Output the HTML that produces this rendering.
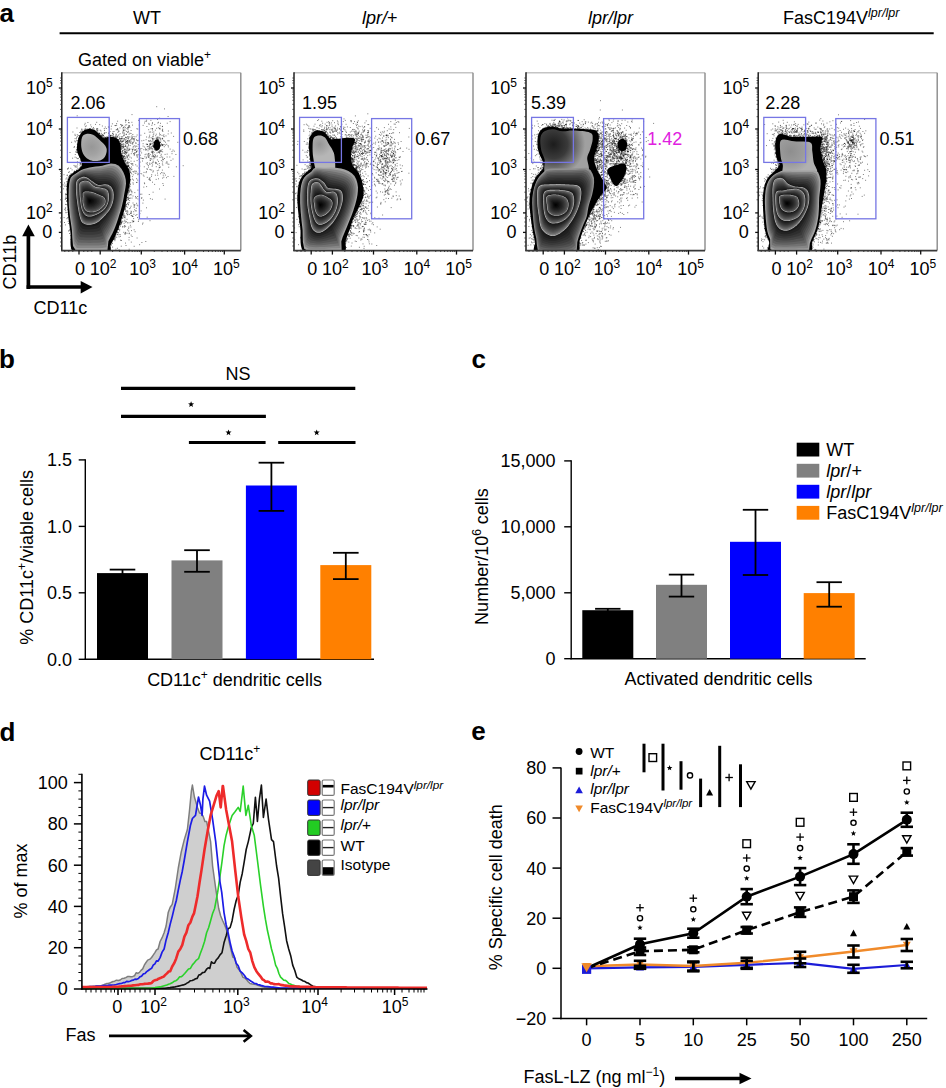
<!DOCTYPE html>
<html><head><meta charset="utf-8"><style>
html,body{margin:0;padding:0;background:#fff;}
svg{display:block;}
text{font-family:"Liberation Sans",sans-serif;}
</style></head><body>
<svg width="946" height="1088" viewBox="0 0 946 1088" font-family="Liberation Sans, sans-serif">
<rect width="946" height="1088" fill="#fff"/>
<text x="-0.5" y="22.2" font-size="26" font-weight="bold">a</text>
<line x1="59.6" y1="33.2" x2="933.7" y2="33.2" stroke="#000" stroke-width="1.9" />
<text x="133.0" y="24.1" font-size="18">WT</text>
<text x="362.0" y="24.1" font-size="18"><tspan font-style="italic">lpr/</tspan>+</text>
<text x="588.0" y="24.1" font-size="18"><tspan font-style="italic">lpr/lpr</tspan></text>
<text x="783.0" y="24.1" font-size="18">FasC194V<tspan font-size="12.5" font-style="italic" dy="-7">lpr/lpr</tspan></text>
<text x="78.0" y="65.7" font-size="18">Gated on viable<tspan font-size="12" dy="-7">+</tspan></text>
<g clip-path="url(#clipA0)">
<path d="M81.6 132.5h1M113.3 239.7h1M112.6 138.1h1M76.4 167.3h1M66.7 175.6h1M70.1 220.1h1M114.7 144.4h1M73.7 171.9h1M68.2 181.8h1M75.5 166.0h1M101.1 137.1h1M119.8 224.4h1M80.8 142.2h1M79.8 145.6h1M79.3 171.8h1M70.2 211.1h1M115.2 236.1h1M122.9 157.1h1M63.1 188.8h1M67.2 217.7h1M129.6 181.2h1M131.1 173.7h1M126.3 155.6h1M65.5 179.0h1M101.8 138.9h1M73.6 172.5h1M99.1 133.1h1M82.2 165.0h1M82.3 164.3h1M75.8 152.0h1M125.5 151.8h1M123.3 156.8h1M112.1 247.1h1M88.4 130.9h1M88.7 129.6h1M74.0 171.9h1M121.8 146.5h1M124.9 165.6h1M107.0 137.7h1M76.8 134.7h1M112.1 136.0h1M76.5 171.5h1M80.6 137.3h1M80.1 154.4h1M81.5 160.7h1M82.3 156.8h1M83.4 161.5h1M77.1 164.1h1M70.4 235.7h1M115.3 165.0h1M86.7 130.0h1M80.1 164.3h1M120.4 161.2h1M118.0 229.4h1M92.9 127.5h1M75.9 170.8h1M117.9 206.6h1M127.0 197.4h1M121.3 151.3h1M103.5 241.8h1M71.6 174.7h1M116.2 202.5h1M102.2 141.5h1M73.1 248.3h1M114.6 145.3h1M66.5 212.6h1M114.9 150.4h1M111.8 139.0h1M109.3 248.3h1M122.0 227.0h1M66.8 183.9h1M119.6 133.7h1M68.8 230.6h1M120.3 138.8h1M65.4 197.6h1M110.4 139.5h1M122.4 226.4h1M78.1 151.4h1M101.9 136.6h1M66.3 194.5h1M78.2 142.3h1M127.6 191.1h1M75.6 183.2h1M95.6 133.1h1M79.5 165.1h1M79.4 137.0h1M80.2 131.3h1M71.6 244.3h1M68.3 206.0h1M65.9 194.3h1M76.5 173.0h1M129.9 180.0h1M113.3 137.3h1M71.3 220.6h1M73.6 147.5h1M67.3 196.6h1M66.3 185.0h1M82.6 155.5h1M68.8 178.3h1M76.8 144.2h1M102.6 137.8h1M70.4 231.1h1M114.1 139.6h1M101.1 133.3h1M116.4 129.5h1M79.1 143.5h1M111.4 242.9h1M87.4 129.2h1M128.1 169.0h1M65.3 196.0h1M77.5 144.5h1M73.6 172.3h1M80.9 131.9h1M77.9 150.1h1M66.4 198.5h1M119.8 141.1h1M70.9 175.4h1M87.2 149.9h1M105.8 247.2h1M115.8 169.3h1M69.9 175.6h1M114.4 240.7h1M117.0 204.5h1M125.4 211.0h1M113.9 237.1h1M128.4 190.4h1M131.3 169.1h1M119.2 138.8h1M86.9 162.4h1M125.0 207.8h1M109.8 135.9h1M67.4 195.3h1M83.3 160.5h1M89.0 128.7h1M68.4 217.1h1M68.1 172.4h1M123.3 158.1h1M78.0 152.0h1M103.4 137.5h1M105.8 137.3h1M77.9 140.4h1M81.9 134.2h1M87.4 151.6h1M68.8 198.2h1M83.8 129.4h1M69.3 188.1h1M111.8 146.4h1M129.5 175.9h1M85.1 131.9h1M81.2 133.7h1M82.2 165.5h1M76.8 136.4h1M66.3 201.5h1M73.1 226.0h1M129.1 171.0h1M112.4 131.9h1M100.5 131.0h1M118.6 141.4h1M125.8 200.5h1M118.6 249.8h1M68.8 177.1h1M79.1 153.2h1M121.9 164.6h1M67.6 186.0h1M120.0 236.3h1M123.2 215.7h1M66.2 204.6h1M76.5 128.0h1M121.4 210.4h1M80.2 167.7h1M76.0 157.9h1M114.4 137.0h1M74.8 154.5h1M103.8 128.6h1M118.5 227.9h1M96.2 128.7h1M103.9 138.5h1M70.1 176.5h1M109.3 237.6h1M100.2 135.0h1M73.2 174.5h1M76.0 138.8h1M98.4 133.5h1M116.3 139.1h1M119.2 229.4h1M98.4 141.5h1M81.4 163.3h1M98.2 133.4h1M108.7 136.7h1M81.9 160.9h1M68.1 214.1h1M90.2 124.9h1M109.2 136.9h1M121.3 221.1h1M123.6 223.3h1M122.1 156.3h1M122.0 166.1h1M70.2 226.2h1M69.2 217.2h1M125.4 172.7h1M79.3 180.2h1M124.3 205.8h1M114.0 238.4h1M68.1 179.9h1M122.1 218.4h1M69.3 218.0h1M95.4 141.4h1M71.9 242.5h1M88.0 129.3h1M69.5 217.3h1M73.9 146.5h1M69.3 223.9h1M79.0 153.9h1M117.9 229.6h1M81.4 162.2h1M123.0 216.2h1M104.7 138.0h1M126.3 198.8h1M80.9 164.6h1M116.3 229.1h1M75.2 171.7h1M119.6 143.2h1M68.9 177.8h1M80.2 182.0h1M72.1 173.4h1M124.5 171.8h1M124.7 209.6h1M120.6 147.6h1M100.9 136.2h1M121.5 146.3h1M82.0 167.9h1M126.8 166.0h1M113.5 236.7h1M80.4 149.7h1M114.6 239.4h1M106.1 243.0h1M132.5 182.8h1M123.8 156.3h1M69.6 229.6h1M131.3 164.3h1M98.6 134.4h1M77.0 169.0h1M92.7 132.1h1M126.1 165.2h1M78.9 157.4h1M68.0 223.4h1M95.0 124.4h1M125.4 163.1h1M72.9 243.7h1M68.9 198.6h1M75.0 172.3h1M119.6 234.5h1M86.7 131.3h1M77.0 170.6h1M109.6 131.6h1M89.4 145.3h1M102.9 135.5h1M62.5 184.9h1M79.4 167.7h1M124.4 160.1h1M79.9 168.7h1M82.7 136.2h1M74.8 167.0h1M67.7 217.8h1M101.2 135.7h1M96.1 133.1h1M84.4 130.8h1M122.5 162.5h1M123.2 160.3h1M107.6 138.3h1M80.2 132.6h1M76.3 236.6h1M80.9 133.8h1M112.5 133.6h1M75.5 234.0h1M120.9 240.5h1M78.4 140.4h1M118.6 236.8h1M128.1 166.5h1M76.5 152.3h1M104.9 140.3h1M80.0 138.9h1M125.7 162.8h1M77.6 174.9h1M64.0 222.5h1M115.5 134.1h1M76.0 150.0h1M117.8 227.9h1M70.9 173.6h1M78.3 170.1h1M101.9 126.0h1M124.8 149.2h1M129.2 198.4h1M96.5 132.1h1M105.2 137.8h1M71.2 242.9h1M114.6 138.0h1M80.5 167.0h1M70.6 232.9h1M69.4 189.4h1M79.2 156.2h1M131.0 167.0h1M125.0 146.2h1M82.0 164.1h1M72.8 244.2h1M121.3 208.0h1M80.7 171.6h1M111.1 139.4h1M111.5 137.4h1M125.2 205.9h1M109.6 248.1h1M126.8 166.3h1M86.7 166.9h1M127.5 194.6h1M122.2 168.9h1M113.5 147.0h1M78.8 168.7h1M81.0 160.9h1M76.2 140.7h1M90.9 126.8h1M127.8 179.2h1M115.5 136.2h1M130.8 194.8h1M99.2 133.6h1M71.7 179.4h1M75.7 171.4h1M69.8 227.8h1M69.9 194.0h1M85.6 130.7h1M135.2 164.8h1M88.3 129.7h1M71.9 207.5h1M66.2 189.9h1M68.1 182.2h1M77.3 147.8h1M82.2 153.3h1M79.2 132.5h1M79.4 144.8h1M99.0 133.7h1M70.3 225.9h1M66.7 198.3h1M111.9 123.8h1M76.4 247.6h1M113.8 235.8h1M113.0 239.1h1M114.4 233.7h1M69.1 175.6h1M129.6 190.0h1M66.3 198.4h1M79.3 146.9h1M87.4 122.5h1M71.6 169.9h1M122.5 161.2h1M105.5 247.6h1M75.9 170.0h1M74.5 166.1h1M80.8 167.1h1M112.0 243.4h1M79.8 160.1h1M86.4 175.2h1M126.5 212.1h1M85.8 166.9h1M126.5 199.7h1M69.1 182.8h1M73.8 240.1h1M116.2 138.2h1M74.6 157.2h1M105.0 246.0h1M97.2 130.8h1M121.2 217.3h1M76.0 170.7h1M128.7 167.4h1M91.7 129.0h1M103.8 133.1h1M114.8 137.4h1M132.4 165.3h1M66.4 186.4h1M117.0 234.6h1M104.6 248.3h1M110.0 135.3h1M80.3 136.6h1M120.1 171.7h1M124.5 208.9h1M79.6 156.4h1M96.4 130.2h1M66.8 175.0h1M127.5 137.7h1M104.3 139.3h1M118.4 234.8h1M128.2 198.0h1M129.1 167.3h1M74.6 138.6h1M106.6 136.8h1M96.2 129.3h1M103.8 137.0h1M80.1 163.5h1M122.5 157.4h1M83.5 144.0h1M85.1 138.6h1M126.9 166.3h1M67.1 194.9h1M73.9 175.2h1M124.4 221.3h1M72.1 158.2h1M71.4 190.9h1M113.9 237.0h1M111.5 141.9h1M108.7 138.3h1M72.3 174.6h1M130.5 161.2h1M101.5 137.1h1M91.5 141.6h1M65.1 207.8h1M68.1 231.0h1M83.1 134.9h1M125.2 222.2h1M128.3 165.4h1M74.7 135.5h1M79.5 168.8h1M66.4 218.7h1M97.0 128.8h1M84.2 124.8h1M78.5 138.2h1M126.8 162.9h1M119.8 143.6h1M83.0 151.8h1M104.3 132.8h1M116.3 139.6h1M128.4 190.7h1M63.6 217.6h1M69.5 179.2h1M67.9 176.8h1M114.0 239.2h1M108.6 247.8h1M89.9 128.6h1M107.5 137.5h1M118.1 225.6h1M65.2 210.7h1M128.2 181.5h1M128.7 162.5h1M69.4 176.8h1M71.6 186.2h1M81.0 153.5h1M84.7 123.3h1M124.5 208.4h1M107.4 137.1h1M68.4 215.2h1M126.6 166.7h1M81.2 149.2h1M103.1 146.8h1M125.9 200.7h1M120.6 223.8h1M114.7 230.8h1M76.8 152.5h1M65.3 212.7h1M111.8 147.6h1M117.0 232.7h1M80.2 159.9h1M80.9 160.5h1M84.6 164.7h1M127.0 222.8h1M117.3 232.4h1M103.1 249.7h1M108.3 139.1h1M119.9 222.5h1M83.2 163.9h1M129.4 189.2h1M116.3 226.2h1M86.6 132.9h1M75.3 151.9h1M120.7 146.3h1M115.7 232.6h1M93.5 129.0h1M108.8 139.8h1M120.1 223.7h1M78.9 155.2h1M77.4 152.2h1M107.9 126.9h1M68.0 168.0h1M90.8 130.2h1M127.3 197.5h1M127.2 161.8h1M82.6 180.9h1M127.7 198.5h1M82.2 131.8h1M64.9 224.9h1M121.0 222.7h1M126.1 213.6h1M120.9 148.8h1M78.1 138.2h1M88.7 129.9h1M121.7 182.0h1M121.1 222.7h1M124.5 160.6h1M105.3 137.3h1M70.5 239.5h1M116.2 237.3h1M82.9 139.9h1M119.5 143.9h1M97.2 132.8h1M115.1 235.9h1M67.9 183.7h1M112.9 134.5h1M81.0 166.4h1M112.9 224.1h1M81.7 160.6h1M73.9 171.1h1M125.2 161.0h1M73.5 165.4h1M69.5 152.5h1M82.7 173.8h1M114.6 137.1h1M70.5 187.8h1M124.4 215.9h1M128.8 191.3h1M74.0 249.6h1M123.3 207.6h1M79.3 140.2h1M72.8 243.4h1M132.0 179.1h1M81.3 129.0h1M108.8 244.5h1M109.4 137.7h1M109.7 247.1h1M92.4 128.9h1M66.3 177.9h1M115.6 138.6h1M67.6 204.4h1M78.8 154.9h1M127.6 197.9h1M123.2 166.4h1M68.2 184.0h1M77.8 158.6h1M85.7 163.8h1M119.1 141.4h1M112.5 154.4h1M69.1 233.5h1M125.0 243.1h1M67.7 214.7h1M82.4 131.9h1M81.3 133.4h1M109.8 135.6h1M108.3 247.0h1M110.4 137.8h1M137.2 180.1h1M120.3 222.7h1M69.5 229.3h1M125.8 173.2h1M68.6 219.8h1M96.1 131.2h1M87.8 132.4h1M118.4 139.6h1M63.5 174.7h1M96.8 137.3h1M127.6 199.9h1M118.5 148.0h1M81.3 129.7h1M109.9 137.3h1M78.4 169.0h1M76.2 241.7h1M79.0 135.7h1M80.1 167.3h1M65.0 198.7h1M107.8 139.0h1M71.9 181.7h1M70.7 174.9h1M84.5 161.7h1M115.7 129.9h1M103.1 135.2h1M129.7 183.2h1M123.6 217.7h1M121.2 144.7h1M121.7 159.9h1M100.1 136.9h1M112.3 138.5h1M119.1 230.8h1M77.1 149.7h1M121.4 153.5h1M82.7 132.3h1M71.1 142.3h1M78.2 138.4h1M93.2 132.0h1M94.5 130.6h1M102.6 135.7h1M64.1 183.0h1M121.3 147.4h1M76.7 115.8h1M80.7 134.2h1M89.8 130.3h1M110.0 136.0h1M88.9 133.0h1M92.0 132.1h1M80.9 167.7h1M129.6 168.7h1M129.4 168.0h1M119.8 220.0h1M77.5 146.9h1M70.8 248.6h1M79.6 150.7h1M71.3 174.8h1M76.5 170.7h1M123.8 153.2h1M128.0 182.9h1M86.9 131.9h1M103.3 137.0h1M93.4 129.1h1M122.1 155.5h1M117.9 158.8h1M113.0 239.2h1M113.0 138.5h1M130.1 179.6h1M129.0 187.2h1M74.7 172.0h1M76.5 148.0h1M109.3 248.0h1M70.2 181.4h1M88.6 130.3h1M75.2 225.7h1M81.9 161.7h1M109.9 241.6h1M118.0 232.8h1M124.1 198.6h1M76.9 140.7h1M122.8 129.4h1M122.9 160.4h1M81.0 162.7h1M121.4 210.4h1M78.1 153.3h1M127.9 190.9h1M67.2 192.8h1M83.3 168.2h1M86.5 129.0h1M129.3 186.2h1M125.0 192.1h1M108.2 132.8h1M74.2 174.3h1M116.6 231.5h1M96.8 186.1h1M89.4 129.0h1M66.8 183.8h1M130.0 171.1h1M83.9 169.9h1M117.2 139.6h1M112.5 236.2h1M89.5 128.8h1M68.8 177.8h1M64.3 209.6h1M82.4 161.5h1M120.8 221.2h1M131.4 191.6h1M90.2 168.9h1M95.5 134.1h1M126.3 191.3h1M69.5 219.8h1M69.0 207.4h1M80.2 170.0h1M118.0 139.6h1M84.6 132.1h1M69.9 174.2h1M127.4 184.6h1M124.0 172.3h1M72.0 178.0h1M68.0 181.0h1M135.9 171.3h1M94.1 130.6h1M92.3 132.8h1M76.7 147.1h1M64.4 186.4h1M77.3 149.4h1M122.6 214.2h1M127.6 204.4h1M97.3 130.9h1M84.9 126.7h1M125.5 205.2h1M74.3 174.0h1M71.8 179.2h1M125.0 205.2h1M76.7 171.0h1M67.3 179.2h1M86.3 168.2h1M110.7 244.8h1M80.0 167.1h1M77.2 144.2h1M70.3 168.3h1M68.2 185.6h1M87.7 166.2h1M65.2 194.2h1M89.0 140.3h1M79.3 170.5h1M101.8 134.9h1M103.5 140.0h1M128.6 134.2h1M123.4 158.4h1M128.0 171.7h1M96.0 134.9h1M74.3 141.0h1M109.3 244.4h1M65.0 204.4h1M96.5 133.7h1M83.5 165.5h1M120.6 149.1h1M124.0 162.8h1M102.6 138.6h1M126.7 182.8h1M64.6 185.1h1M68.9 171.8h1M112.8 213.9h1M111.0 135.4h1M79.9 171.3h1M67.5 205.7h1M86.0 165.8h1M80.9 167.5h1M69.1 193.2h1M127.3 211.3h1M81.2 133.6h1M76.9 161.8h1M89.1 130.9h1M66.1 186.4h1M67.3 209.7h1M96.7 168.3h1M100.7 135.2h1M124.9 233.1h1M76.6 149.7h1M99.6 135.3h1M119.0 138.7h1M69.1 201.3h1M97.3 129.0h1M103.8 133.7h1M66.0 200.8h1M72.4 174.7h1M84.9 131.9h1M82.5 133.1h1M67.4 168.6h1M68.5 216.5h1M88.3 129.4h1M120.4 148.8h1M125.2 180.0h1M107.5 247.6h1M66.5 188.9h1M118.8 218.7h1M79.8 162.5h1M64.8 208.8h1M117.8 228.7h1M81.1 160.1h1M123.5 213.3h1M77.6 146.3h1M125.3 188.3h1M120.0 151.3h1M84.2 133.4h1M104.0 130.4h1M81.4 133.8h1M70.6 235.6h1M72.9 248.6h1M121.8 155.3h1M84.1 160.2h1M68.7 204.6h1M128.0 199.6h1M72.5 238.5h1M83.7 133.5h1M123.4 159.3h1M101.6 135.5h1M121.7 215.1h1M104.8 138.0h1M132.5 171.5h1M125.1 206.7h1M79.7 168.2h1M112.1 241.0h1M107.2 246.6h1M74.5 134.3h1M108.4 135.8h1M121.5 213.7h1M85.3 130.4h1M76.8 244.0h1M81.6 130.3h1M66.6 188.0h1M117.8 141.0h1M122.8 156.7h1M125.5 204.4h1M86.9 144.0h1M112.0 133.6h1M87.0 136.9h1M74.0 181.2h1M91.6 130.4h1M99.2 124.6h1M128.8 169.3h1M129.0 188.2h1M121.5 222.1h1M104.6 137.6h1M108.9 241.7h1M72.6 174.8h1M108.8 138.3h1M120.3 159.2h1M120.8 223.9h1M119.5 220.3h1M73.7 172.6h1M67.6 185.2h1M77.2 149.2h1M74.8 172.1h1M127.4 162.5h1M69.7 221.4h1M98.2 133.1h1M86.6 146.7h1M72.3 174.8h1M116.8 136.7h1M73.8 172.5h1M69.9 213.0h1M80.9 161.6h1M80.4 157.1h1M67.7 221.4h1M75.1 246.3h1M72.4 132.0h1M119.8 140.5h1M96.2 122.3h1M117.5 156.5h1M76.2 137.4h1M120.1 240.2h1M119.9 221.3h1M116.0 138.0h1M77.8 135.4h1M125.6 169.1h1M85.8 125.9h1M101.9 134.6h1M77.9 153.2h1M123.8 161.1h1M125.4 211.4h1M123.9 198.4h1M69.3 175.4h1M81.1 166.0h1M74.2 171.4h1M106.8 236.2h1M82.4 131.9h1M67.2 181.4h1M84.8 128.6h1M102.4 138.2h1M100.6 137.8h1M119.7 224.6h1M69.8 175.4h1M85.2 129.6h1M117.0 139.3h1M67.1 169.1h1M80.0 157.2h1M127.4 166.5h1M121.0 217.2h1M125.9 190.8h1M74.9 141.9h1M77.1 158.6h1M126.1 153.7h1M84.3 138.4h1M65.1 194.1h1M105.7 132.6h1M66.0 181.8h1M114.6 238.5h1M64.8 199.4h1M116.4 234.6h1M115.3 135.9h1M122.7 214.3h1M110.7 245.0h1M67.4 192.4h1M112.0 238.9h1M68.7 212.3h1M76.7 166.0h1M75.6 188.9h1M79.0 170.2h1M78.8 136.0h1M90.8 129.7h1M75.9 149.9h1M117.5 139.9h1M122.4 140.7h1M124.7 193.7h1M79.5 163.5h1M124.7 199.1h1M121.9 151.3h1M99.7 130.2h1M117.1 151.9h1M83.5 166.2h1M130.0 168.9h1M116.9 248.3h1M119.8 143.5h1M122.1 125.5h1M127.9 131.2h1M132.3 163.8h1M122.4 131.2h1M119.2 147.5h1M126.8 147.9h1M127.1 168.8h1M122.2 132.9h1M109.8 157.1h1M128.5 142.7h1M129.4 157.1h1M125.4 120.6h1M128.4 127.2h1M123.2 135.3h1M124.1 161.3h1M129.0 174.8h1M121.6 138.0h1M131.8 143.9h1M128.4 154.2h1M117.4 130.0h1M126.1 152.4h1M127.6 155.9h1M122.7 147.8h1M117.4 160.3h1M127.5 163.2h1M121.4 145.0h1M123.0 145.9h1M128.0 120.3h1M129.3 141.4h1M123.3 156.1h1M112.6 135.3h1M127.4 159.0h1M126.2 124.8h1M133.5 136.5h1M121.2 161.2h1M124.9 146.1h1M126.2 152.4h1M123.0 153.0h1M119.0 157.2h1M120.8 156.1h1M136.6 160.6h1M129.4 127.2h1M111.5 151.5h1M128.3 150.5h1M122.8 147.8h1M135.1 149.7h1M113.7 155.7h1M111.0 157.7h1M136.4 154.9h1M123.8 134.1h1M122.7 141.1h1M136.4 146.3h1M128.2 136.7h1M124.3 151.6h1M124.9 152.8h1M123.3 161.0h1M121.8 154.0h1M122.4 144.2h1M123.8 175.9h1M122.4 161.1h1M142.6 143.7h1M123.1 130.6h1M124.8 151.2h1M126.7 148.3h1M127.9 127.2h1M127.9 165.5h1M128.9 149.7h1M121.8 141.5h1M120.8 143.1h1M121.6 138.3h1M125.2 167.1h1M109.4 143.9h1M126.0 141.4h1M122.6 150.5h1M127.7 166.5h1M127.8 155.1h1M136.6 156.2h1M120.2 141.4h1M116.7 171.8h1M125.1 142.6h1M125.7 138.9h1M119.6 145.2h1M128.8 125.5h1M130.0 172.7h1M119.5 127.9h1M125.2 146.1h1M126.3 143.4h1M117.3 144.0h1M134.8 152.8h1M139.9 155.2h1M132.1 149.4h1M114.4 155.2h1M135.3 142.8h1M127.7 132.1h1M125.9 131.4h1M123.8 164.7h1M123.7 149.6h1M110.4 150.3h1M122.5 139.0h1M115.7 157.3h1M133.7 140.1h1M124.4 129.1h1M118.0 131.2h1M137.7 154.7h1M129.0 126.2h1M128.1 138.2h1M115.6 137.4h1M132.3 134.5h1M140.4 135.2h1M136.2 151.4h1M115.4 156.4h1M125.7 134.5h1M110.1 166.5h1M126.3 164.0h1M127.7 128.1h1M131.8 138.3h1M122.2 155.6h1M108.5 127.3h1M131.3 136.0h1M118.7 151.3h1M130.9 158.0h1M131.7 151.9h1M122.5 146.4h1M111.3 178.9h1M131.2 169.7h1M116.0 154.2h1M124.9 154.4h1M119.0 137.1h1M131.1 138.3h1M122.2 151.9h1M128.4 155.7h1M131.4 122.3h1M131.5 143.1h1M117.6 168.7h1M127.4 129.4h1M138.0 120.3h1M123.7 146.8h1M126.9 141.1h1M124.9 161.7h1M117.2 128.9h1M124.8 127.4h1M133.7 161.3h1M124.4 158.6h1M117.2 144.7h1M123.9 156.0h1M120.2 164.0h1M135.8 152.3h1M112.0 146.5h1M141.3 148.6h1M127.8 141.7h1M119.5 153.2h1M119.9 145.2h1M117.4 137.2h1M133.6 141.2h1M143.9 147.0h1M123.9 153.6h1M133.1 138.5h1M129.7 145.6h1M104.8 127.0h1M120.3 139.1h1M124.9 142.9h1M116.5 142.0h1M142.0 161.0h1M118.4 134.7h1M132.3 143.9h1M130.6 139.5h1M129.4 133.2h1M134.3 150.3h1M128.9 140.6h1M125.6 141.6h1M121.0 159.7h1M117.1 121.2h1M105.8 128.5h1M125.9 134.2h1M122.3 136.5h1M131.8 136.9h1M110.9 126.2h1M114.4 156.4h1M119.9 154.0h1M127.1 132.3h1M138.9 164.0h1M117.6 135.6h1M120.5 149.7h1M126.5 143.4h1M122.7 160.8h1M116.1 125.3h1M121.8 148.3h1M114.4 158.1h1M112.7 159.5h1M127.1 140.7h1M123.4 146.3h1M112.1 141.9h1M120.8 161.5h1M109.9 172.5h1M137.3 129.1h1M133.8 155.3h1M132.0 125.1h1M130.5 163.5h1M124.4 139.5h1M111.6 159.2h1M128.5 122.8h1M116.7 154.3h1M116.0 166.9h1M123.5 139.0h1M123.8 133.0h1M130.7 141.2h1M127.5 163.9h1M127.3 143.6h1M135.4 146.0h1M125.4 158.8h1M127.6 165.2h1M127.3 127.5h1M127.2 140.5h1M127.4 169.4h1M124.9 152.1h1M124.1 148.9h1M143.3 140.4h1M119.6 152.7h1M114.5 125.5h1M111.5 163.2h1M121.2 125.1h1M116.8 136.7h1M110.7 129.0h1M121.8 156.6h1M108.9 134.9h1M126.2 147.0h1M120.4 145.0h1M130.1 143.2h1M111.1 151.2h1M115.4 150.5h1M135.5 143.4h1M122.8 143.9h1M115.6 142.5h1M117.7 146.8h1M144.2 133.3h1M118.7 144.0h1M110.3 137.7h1M120.2 178.5h1M113.1 136.6h1M125.4 153.2h1M127.0 136.7h1M110.1 167.6h1M124.1 151.0h1M130.8 153.7h1M132.7 142.2h1M116.1 123.6h1M132.1 149.7h1M112.7 142.2h1M124.5 163.4h1M116.8 139.7h1M141.3 140.8h1M120.6 140.3h1M121.6 141.7h1M131.6 163.7h1M140.2 157.9h1M138.8 148.0h1M128.0 126.0h1M125.4 137.5h1M125.1 122.1h1M120.4 166.5h1M138.0 148.6h1M123.5 144.3h1M119.4 155.9h1M130.6 130.5h1M124.4 130.4h1M113.8 139.6h1M118.0 141.4h1M122.2 150.3h1M123.7 126.8h1M122.8 147.2h1M121.3 125.0h1M115.6 166.1h1M113.4 165.1h1M121.2 146.2h1M120.8 155.0h1M142.6 125.4h1M130.5 133.5h1M124.5 158.0h1M117.3 160.1h1M129.6 142.6h1M121.9 168.1h1M110.5 143.2h1M123.8 138.5h1M131.6 137.7h1M127.2 150.3h1M123.2 130.7h1M139.5 149.6h1M128.0 144.8h1M125.6 137.5h1M108.2 133.6h1M129.3 137.0h1M116.0 140.7h1M126.8 156.8h1M127.3 141.9h1M138.8 125.0h1M114.6 151.7h1M135.6 136.7h1M136.6 135.0h1M112.7 137.3h1M127.8 140.0h1M115.1 125.6h1M137.7 144.5h1M107.9 150.6h1M121.3 141.9h1M116.5 145.9h1M120.0 124.6h1M125.2 144.9h1M112.1 137.5h1M126.8 165.7h1M120.9 138.3h1M129.2 141.2h1M133.8 145.8h1M108.6 162.7h1M138.4 140.3h1M134.7 150.1h1M117.1 139.7h1M133.5 149.3h1M104.1 149.8h1M125.6 120.2h1M128.4 149.7h1M113.4 142.6h1M120.2 159.0h1M132.4 142.5h1M126.9 142.4h1M136.3 149.0h1M133.7 153.9h1M113.5 131.5h1M112.0 141.2h1M118.6 131.2h1M112.7 150.6h1M119.3 142.6h1M128.3 159.3h1M127.5 138.5h1M121.1 126.3h1M133.1 153.5h1M123.0 141.0h1M125.8 171.2h1M128.1 145.2h1M123.5 156.2h1M121.9 159.6h1M118.0 140.6h1M125.8 150.4h1M136.6 150.8h1M125.2 137.2h1M106.8 169.1h1M134.2 138.3h1M128.0 166.0h1M124.6 140.7h1M127.4 146.3h1M123.0 127.5h1M136.6 166.1h1M125.5 141.8h1M119.5 138.7h1M124.4 152.4h1M128.3 122.5h1M132.6 147.9h1M127.2 152.0h1M136.0 139.8h1M113.2 148.6h1M124.9 125.1h1M117.8 165.6h1M134.8 147.0h1M119.0 158.8h1M115.2 163.6h1M138.7 146.0h1M125.1 157.0h1M128.9 149.2h1M140.3 151.1h1M117.9 150.8h1M128.5 148.2h1M119.1 148.0h1M136.1 151.7h1M125.2 173.3h1M133.6 139.5h1M126.5 128.5h1M121.1 138.8h1M125.1 120.0h1M122.6 132.9h1M139.3 166.1h1M115.8 134.8h1M134.6 171.8h1M122.8 157.8h1M113.2 172.1h1M138.5 159.3h1M117.4 132.4h1M117.0 128.9h1M126.5 149.4h1M132.1 150.8h1M136.4 155.1h1M121.4 144.7h1M134.0 152.9h1M122.5 128.1h1M107.7 144.1h1M132.5 139.3h1M129.7 140.1h1M114.5 157.5h1M136.1 178.7h1M136.4 128.7h1M117.5 148.4h1M126.8 157.5h1M125.4 140.0h1M126.5 156.8h1M118.7 160.6h1M126.4 141.8h1M136.8 157.2h1M120.8 136.6h1M124.4 149.5h1M109.0 148.5h1M130.5 149.1h1M133.8 154.4h1M161.2 156.9h1M152.6 192.2h1M161.9 144.7h1M149.9 148.3h1M145.6 172.6h1M151.4 159.1h1M146.1 120.2h1M159.0 145.4h1M144.6 121.3h1M159.9 142.5h1M158.6 151.6h1M149.1 163.2h1M153.0 171.0h1M150.9 151.9h1M145.8 144.1h1M147.0 162.8h1M170.8 133.0h1M152.2 154.1h1M157.2 164.3h1M149.1 155.8h1M153.3 156.4h1M145.4 150.0h1M157.2 175.2h1M173.8 151.2h1M152.8 155.6h1M152.3 153.7h1M145.1 148.3h1M153.3 158.8h1M145.6 154.1h1M168.5 140.8h1M164.9 175.1h1M152.3 145.3h1M152.0 182.2h1M166.5 162.8h1M148.5 153.4h1M143.3 149.7h1M154.0 147.0h1M146.4 126.5h1M152.5 142.8h1M149.4 164.5h1M160.3 141.0h1M170.5 160.4h1M148.2 129.7h1M154.4 148.2h1M142.0 158.6h1M139.6 162.1h1M149.9 198.7h1M158.6 138.3h1M152.7 162.2h1M156.5 152.9h1M158.8 165.8h1M151.8 151.9h1M143.5 176.2h1M154.2 124.6h1M159.0 189.0h1M158.1 170.1h1M149.5 180.3h1M151.9 199.3h1M154.9 146.7h1M158.6 167.8h1M152.1 128.8h1M155.6 138.1h1M157.3 142.4h1M159.1 128.6h1M144.6 154.7h1M150.0 160.3h1M148.7 145.8h1M139.2 171.0h1M159.3 151.1h1M148.9 178.2h1M159.1 167.5h1M168.2 167.2h1M156.4 138.0h1M149.5 145.8h1M162.8 175.2h1M167.6 145.6h1M162.1 161.9h1M164.0 108.9h1M167.3 164.0h1M156.9 159.9h1M162.0 159.0h1M151.0 176.3h1M151.8 128.5h1M145.7 158.2h1M142.6 146.1h1M148.0 167.1h1M146.6 144.4h1M149.5 143.8h1M142.8 175.1h1M166.2 144.3h1M137.3 174.7h1M154.1 184.4h1M154.0 145.4h1M152.5 140.0h1M146.1 186.6h1M147.7 156.8h1M156.2 106.7h1M147.7 154.6h1M177.3 142.3h1M173.4 176.4h1M146.8 146.4h1M163.9 173.3h1M145.9 171.6h1M147.8 165.5h1M135.8 197.9h1M144.0 123.0h1M162.3 165.1h1M163.4 134.8h1M149.2 135.2h1M147.7 155.8h1M147.5 146.8h1M155.2 135.7h1M159.6 125.8h1M148.4 123.4h1M151.6 156.7h1M150.1 140.4h1M149.5 147.5h1M154.9 175.2h1M155.8 134.2h1M161.8 130.3h1M156.4 156.8h1M143.1 158.6h1M155.1 145.8h1M163.7 136.7h1M145.8 163.2h1M169.3 157.0h1M156.6 144.8h1M154.9 162.3h1M162.9 185.4h1M156.2 138.4h1M158.2 152.3h1M159.5 157.5h1M151.7 152.5h1M150.8 163.3h1M160.6 145.1h1M154.5 157.7h1M175.9 166.8h1M166.0 177.7h1M150.2 169.8h1M161.9 170.1h1M169.7 149.1h1M154.4 154.4h1M153.6 157.6h1M151.8 152.4h1M163.3 177.2h1M146.0 157.2h1M159.4 128.3h1M159.0 133.2h1M153.6 152.4h1M160.1 146.2h1M159.7 134.5h1M154.9 130.2h1M147.5 149.0h1M160.4 155.7h1M164.6 154.4h1M158.0 178.8h1M149.7 154.5h1M164.6 199.1h1M172.5 150.1h1M156.8 155.9h1M147.5 155.0h1M151.3 125.3h1M150.4 120.4h1M146.8 164.4h1M149.9 180.1h1M152.1 164.9h1M152.1 162.9h1M160.1 173.7h1M154.9 155.6h1M148.6 179.5h1M147.8 153.5h1M165.6 163.1h1M148.5 137.8h1M168.4 164.3h1M145.8 149.6h1M152.0 130.0h1M157.3 123.0h1M153.8 156.5h1M155.2 143.6h1M158.7 146.8h1M166.4 161.7h1M166.6 157.0h1M162.1 130.2h1M149.4 169.4h1M162.6 173.0h1M152.0 122.7h1M172.5 159.0h1M150.0 132.0h1M152.6 136.4h1M159.5 129.1h1M149.7 158.6h1M143.5 172.4h1M152.8 134.9h1M161.9 138.7h1M151.4 148.7h1M173.1 136.4h1M153.3 133.9h1M155.6 162.5h1M160.0 123.3h1M150.5 158.7h1M158.0 122.3h1M163.1 140.7h1M161.5 135.4h1M155.4 147.2h1M139.7 148.6h1M149.6 177.8h1M162.1 129.2h1M153.3 146.1h1M160.8 151.2h1M146.8 177.4h1M154.8 156.3h1M182.7 165.7h1M155.8 166.7h1M169.6 121.6h1M151.2 174.7h1M149.5 160.2h1M156.0 150.2h1M148.6 124.4h1M156.1 128.3h1M167.7 133.9h1M153.2 146.6h1M158.7 144.2h1M158.9 163.6h1M147.5 150.8h1M148.3 157.1h1M155.7 179.4h1M153.5 146.0h1M158.8 144.5h1M148.8 179.1h1M167.6 116.5h1M137.3 140.8h1M159.1 118.2h1M163.6 144.5h1M141.5 158.3h1M161.8 126.6h1M152.9 156.2h1M167.5 176.5h1M156.4 148.9h1M147.0 169.2h1M152.1 151.3h1M162.3 131.5h1M151.3 170.1h1M146.3 168.9h1M163.0 136.0h1M151.7 166.2h1M162.0 126.4h1M143.9 182.9h1M131.5 114.6h1M163.0 159.3h1M175.4 154.5h1M155.6 163.3h1M136.6 140.4h1M145.9 121.3h1M148.8 132.1h1M144.4 156.8h1M159.1 152.6h1M160.1 151.1h1M152.3 172.0h1M154.7 143.0h1M157.9 127.8h1M162.2 157.3h1M167.4 140.8h1M161.2 172.5h1M162.4 159.9h1M142.9 200.1h1M132.8 146.6h1M141.1 152.9h1M171.5 153.7h1M148.5 140.6h1M166.7 154.1h1M157.7 145.2h1M152.3 148.7h1M164.0 158.5h1M167.9 131.0h1M151.9 123.7h1M156.8 170.7h1M158.0 161.4h1M159.9 167.0h1M159.2 153.1h1M150.5 128.8h1M155.4 163.6h1M152.9 146.9h1M157.0 119.4h1M162.1 178.1h1M149.0 148.1h1M157.4 139.5h1M162.4 183.5h1M167.9 146.9h1M161.9 163.9h1M150.0 144.3h1M159.3 135.1h1M145.3 149.8h1M171.5 151.6h1M166.8 123.2h1M146.9 144.5h1M152.7 161.1h1M157.0 173.1h1M143.8 166.8h1M160.7 150.9h1M160.1 138.9h1M148.3 157.3h1M148.9 136.7h1M159.6 150.1h1M158.6 147.6h1M149.3 149.6h1M156.8 137.0h1M152.9 145.1h1M151.6 143.6h1M151.3 144.0h1M156.6 149.4h1M155.0 145.8h1M161.6 149.6h1M152.9 151.7h1M159.4 137.7h1M148.6 146.6h1M155.0 143.9h1M157.2 138.2h1M149.7 143.9h1M151.8 132.2h1M154.4 142.2h1M152.3 136.9h1M162.5 144.6h1M151.8 138.4h1M153.2 147.3h1M153.6 142.7h1M157.0 141.3h1M150.5 141.8h1M155.7 147.3h1M165.5 135.9h1M150.6 137.7h1M153.1 146.0h1M155.4 144.2h1M149.2 141.4h1M151.8 155.9h1M158.5 147.2h1M152.1 139.8h1M156.7 143.6h1M156.7 142.4h1M158.3 137.2h1M164.9 145.2h1M155.1 150.6h1M159.9 142.4h1M158.7 146.1h1M156.0 141.3h1M155.1 147.9h1M154.3 145.4h1M165.0 142.2h1M158.0 146.3h1M145.6 139.7h1M156.5 141.3h1M156.8 143.0h1M149.5 144.5h1M151.1 148.0h1M155.5 141.0h1M158.6 147.7h1M158.3 146.0h1M159.8 145.5h1M155.3 141.2h1M154.3 145.0h1M157.5 149.2h1M158.7 143.0h1M162.1 151.8h1M154.3 149.4h1M151.7 146.5h1M162.3 145.6h1M158.2 142.4h1M161.9 138.3h1M152.0 138.6h1M150.8 146.9h1M162.2 139.0h1M148.0 141.0h1M160.6 144.9h1M162.0 145.5h1M153.6 138.8h1M157.0 145.7h1M157.3 137.9h1M149.9 144.5h1M159.5 151.0h1M146.9 144.3h1M153.3 132.0h1M158.4 140.0h1M155.5 140.9h1M151.7 149.9h1M153.8 149.8h1M146.1 137.0h1M160.8 154.3h1M160.9 160.6h1M157.7 152.2h1M155.9 144.0h1M153.0 142.0h1M152.9 138.9h1M157.4 139.6h1M151.6 141.3h1M164.0 141.1h1M161.0 143.9h1M156.8 142.9h1M154.7 145.4h1M153.2 146.7h1M149.8 143.9h1M161.7 144.6h1M158.9 148.3h1M160.2 139.1h1M148.4 148.8h1M156.8 142.2h1M152.4 146.0h1M163.8 146.7h1M130.7 213.4h1M130.8 242.1h1M133.7 229.8h1M123.1 206.1h1M132.7 174.8h1M128.1 192.9h1M127.7 192.1h1M127.1 177.1h1M133.5 204.5h1M137.9 173.9h1M128.8 233.1h1M138.9 180.9h1M137.4 198.9h1M139.5 173.5h1M131.0 230.6h1M130.0 207.8h1M142.0 224.1h1M135.0 196.6h1M120.1 181.3h1M136.4 214.5h1M136.5 182.3h1M141.0 198.2h1M131.9 176.6h1M134.3 192.6h1M139.1 244.7h1M133.7 246.3h1M132.3 222.0h1M135.2 210.8h1M137.3 205.8h1M133.9 205.9h1M124.3 225.5h1M136.1 203.3h1M124.8 217.8h1M130.5 212.9h1M124.0 226.2h1M123.1 209.2h1M133.2 221.2h1M128.0 204.8h1M125.5 245.5h1M144.1 183.7h1M115.8 215.3h1M128.6 202.6h1M112.9 207.1h1M128.5 222.8h1M137.0 217.6h1M145.3 241.5h1M125.9 206.3h1M127.1 229.9h1M136.6 238.0h1M128.3 227.0h1M138.8 200.1h1M123.3 232.3h1M141.3 194.2h1M115.7 211.9h1M129.3 195.2h1M133.1 218.6h1M128.6 237.4h1M129.1 179.7h1M127.3 213.0h1M138.9 216.9h1M125.5 176.8h1M131.7 216.1h1M130.7 215.4h1M134.6 231.7h1M128.8 192.1h1M134.4 204.8h1M128.7 249.2h1M128.6 183.0h1M125.1 232.4h1M127.2 203.5h1M113.1 179.0h1M135.5 198.0h1M132.3 216.4h1M121.8 188.9h1M141.4 197.8h1M115.4 249.2h1M140.6 210.9h1M129.1 185.7h1M138.4 168.0h1M124.2 204.2h1M132.5 203.0h1M133.7 207.4h1M123.9 217.4h1M126.5 219.3h1M129.0 214.4h1M137.2 196.5h1M127.5 202.9h1M133.4 214.3h1M132.5 196.0h1M128.2 231.0h1M138.1 219.9h1M120.3 214.0h1M130.7 191.2h1M141.4 242.5h1M146.0 207.8h1M124.1 233.9h1M136.1 182.5h1M124.4 216.3h1M149.5 220.7h1M133.6 205.9h1M136.5 205.0h1M146.7 217.2h1M133.2 221.3h1M133.2 172.0h1M130.0 213.3h1M131.5 198.1h1M132.8 184.1h1M129.8 194.5h1M117.0 226.0h1M137.9 221.5h1M139.7 194.3h1M110.6 207.1h1M130.4 172.4h1M136.5 173.1h1M131.0 211.9h1M139.4 213.6h1M131.4 192.8h1M127.4 214.6h1M132.8 221.6h1M126.6 210.6h1M121.0 212.8h1M129.8 198.1h1M124.3 220.2h1M129.9 225.3h1M131.6 236.5h1M130.5 211.2h1M120.0 226.1h1M134.1 209.8h1M135.7 210.9h1M130.7 235.1h1M123.8 227.2h1M131.4 215.6h1M139.3 194.1h1M129.1 208.6h1M119.2 183.1h1M133.2 211.7h1M122.1 217.8h1M135.8 208.3h1M142.4 203.1h1M134.4 170.9h1M142.5 223.0h1M131.8 220.7h1M125.3 186.2h1M126.5 233.3h1M106.2 218.1h1M123.7 215.0h1M121.0 204.3h1M110.7 185.3h1M120.8 246.2h1M115.6 176.3h1M130.2 222.6h1M124.0 202.0h1M128.7 233.7h1M125.2 203.1h1M105.6 166.7h1M119.0 160.8h1M127.3 181.8h1M133.0 180.1h1M124.5 166.6h1M117.0 207.9h1M118.5 179.7h1M112.6 217.5h1M130.5 190.2h1M116.8 181.5h1M127.7 196.1h1M117.1 188.2h1M118.0 204.4h1M112.9 173.0h1M112.5 212.3h1M114.4 144.4h1M109.1 184.3h1M114.9 237.3h1M125.3 196.2h1M113.7 226.2h1M117.0 143.6h1M116.8 166.1h1M125.8 204.5h1M110.4 154.3h1M127.8 189.7h1M118.5 173.5h1M118.1 195.8h1M111.9 185.7h1M111.6 206.7h1M105.6 159.7h1M123.9 176.9h1M121.2 170.8h1M106.1 199.3h1M118.7 176.6h1M123.5 202.3h1M121.0 188.0h1M124.2 209.0h1M100.9 222.4h1M117.9 206.4h1M125.8 221.6h1M117.3 170.0h1M130.6 206.2h1M119.2 199.2h1M120.4 199.7h1M114.9 199.0h1M121.2 163.6h1M124.1 205.1h1M92.2 187.1h1M143.3 187.1h1M115.0 202.4h1M121.8 152.9h1M124.6 206.8h1M120.6 197.2h1M117.9 176.0h1M109.6 177.0h1M119.5 203.6h1M114.9 146.0h1M119.6 220.3h1M121.5 141.8h1M126.9 214.7h1M103.1 187.6h1M126.8 207.2h1M119.8 219.0h1M137.4 190.1h1M125.0 194.2h1M115.0 214.2h1M114.2 171.1h1M116.0 208.3h1M112.4 170.1h1M112.4 185.9h1M106.3 199.9h1M117.8 193.3h1M114.3 168.9h1M114.9 183.5h1M111.6 176.2h1M123.8 188.5h1M141.1 173.8h1M119.8 151.4h1M134.8 173.4h1M112.9 238.9h1M118.0 183.8h1M123.4 183.6h1M127.6 193.2h1M101.3 207.7h1M114.5 211.8h1M118.2 181.4h1M115.1 190.3h1M116.5 222.3h1M120.6 216.5h1M125.5 165.0h1M112.9 185.3h1M119.9 158.2h1M115.8 145.9h1M103.3 245.6h1M116.3 182.0h1M117.2 181.6h1M120.0 196.9h1M123.8 182.0h1M148.8 194.5h1M122.4 221.3h1M115.0 207.1h1M125.1 226.6h1M128.5 239.9h1M120.2 184.6h1M106.8 228.6h1M115.5 215.1h1M129.1 200.6h1M122.3 163.1h1M123.7 198.8h1M125.0 234.0h1M106.3 192.0h1M120.6 156.5h1M123.8 177.5h1M106.3 184.1h1M118.7 180.5h1M118.1 213.2h1M123.7 135.4h1M125.3 160.5h1M118.8 170.8h1M130.4 227.0h1M108.7 193.7h1M120.6 199.9h1M122.2 188.4h1M111.3 169.1h1M115.4 165.0h1M128.1 228.3h1M135.3 215.4h1M120.8 190.8h1M114.7 180.3h1M132.3 216.5h1M113.3 197.7h1M122.0 212.0h1M111.6 167.3h1M124.5 210.0h1M120.6 189.6h1M118.6 184.6h1M115.4 157.3h1M114.9 230.7h1M123.9 201.2h1M130.0 184.4h1M129.4 186.7h1M122.0 192.7h1M117.5 213.1h1" stroke="#000" stroke-width="1" stroke-opacity="0.5"/>
<path d="M74.4,252.9C68.2,249.3 71.5,238.3 70.3,230.9C69.2,223.6 68.1,216.3 67.6,208.9C67.0,201.6 66.6,192.2 66.9,187.0C67.1,181.7 67.8,179.7 68.9,177.3C70.1,174.9 72.0,173.9 73.7,172.5C75.5,171.2 77.9,170.3 79.2,169.1C80.6,167.8 81.8,166.6 82.0,165.0C82.2,163.4 81.4,161.8 80.6,159.5C79.8,157.2 77.6,154.4 77.2,151.2C76.7,148.0 77.1,143.4 77.9,140.2C78.7,137.0 80.4,133.8 82.0,132.0C83.6,130.2 85.4,129.6 87.5,129.2C89.5,128.9 92.3,129.0 94.4,129.9C96.4,130.8 98.2,133.4 99.9,134.7C101.5,136.1 102.4,137.8 104.0,138.2C105.6,138.5 107.4,136.8 109.5,136.8C111.5,136.8 114.5,136.9 116.3,138.2C118.2,139.4 119.7,141.9 120.5,144.4C121.3,146.8 120.5,149.6 121.2,152.6C121.8,155.6 123.2,159.2 124.6,162.2C126.0,165.2 128.5,167.3 129.4,170.5C130.3,173.7 130.4,177.3 130.1,181.5C129.7,185.6 128.3,190.6 127.3,195.2C126.4,199.8 125.7,204.4 124.6,208.9C123.4,213.5 121.8,218.6 120.5,222.7C119.1,226.8 117.9,230.0 116.3,233.7C114.7,237.3 112.3,241.5 110.8,244.7C109.4,247.9 113.5,251.5 107.4,252.9C101.3,254.3 80.6,256.6 74.4,252.9Z" fill="#000"/>
<path d="M82.0,137.5C82.8,135.3 84.3,134.5 86.1,134.0C87.9,133.6 90.7,133.7 93.0,134.7C95.3,135.8 97.8,138.4 99.9,140.2C101.9,142.1 104.2,143.9 105.3,145.7C106.5,147.6 107.0,149.2 106.7,151.2C106.5,153.3 105.3,156.5 104.0,158.1C102.6,159.7 100.8,160.5 98.5,160.8C96.2,161.2 92.6,161.1 90.2,160.2C87.8,159.2 85.5,157.5 84.0,155.3C82.6,153.2 81.6,150.1 81.3,147.1C81.0,144.1 81.2,139.7 82.0,137.5Z" fill="url(#uA0)"/>
<path d="M123.1 200.7 122.5 203.6 121.8 206.4 121.1 209.1 120.3 211.9 119.4 214.6 118.5 217.4 117.6 220.3 116.5 223.4 115.4 226.5 114.0 229.9 112.4 233.4 110.5 237.0 108.4 241.2 107.5 250.1 103.0 250.9 98.4 250.9 93.9 250.9 89.5 250.9 85.2 250.9 80.7 250.9 76.1 250.9 73.0 246.0 72.3 237.7 72.0 231.1 71.4 226.6 70.9 223.0 70.4 219.8 70.0 217.1 69.7 214.6 69.5 212.3 69.3 210.2 69.1 208.1 68.9 206.2 68.8 204.3 68.7 202.5 68.7 200.7 68.7 198.9 68.6 197.0 68.6 195.1 68.7 193.1 68.7 191.0 68.8 188.7 69.0 186.3 69.2 183.7 69.7 180.9 70.6 178.1 72.2 175.9 74.4 174.4 76.7 173.1 78.9 171.5 81.3 170.0 83.9 168.9 86.7 168.2 89.5 167.6 92.5 167.1 95.6 166.6 98.8 166.2 102.3 165.7 106.4 164.6 111.0 163.6 115.3 163.9 118.8 165.8 121.4 168.8 123.4 172.3 124.9 176.0 125.8 179.8 126.0 183.7 125.5 187.6 124.8 191.3 124.2 194.6 123.7 197.7Z" fill="#a2a2a2"/>
<path d="M122.0 200.7 121.4 203.5 120.8 206.2 120.0 208.9 119.2 211.5 118.4 214.1 117.5 216.8 116.5 219.6 115.4 222.4 114.3 225.4 112.9 228.6 111.4 231.8 109.5 235.2 107.5 239.1 106.5 247.2 102.2 248.1 97.9 248.2 93.7 248.2 89.5 248.2 85.4 248.2 81.2 248.2 76.8 248.1 73.9 243.6 73.2 235.8 72.8 229.7 72.3 225.4 71.7 221.9 71.3 219.0 70.9 216.3 70.6 214.0 70.4 211.8 70.2 209.7 70.0 207.8 69.8 206.0 69.7 204.2 69.6 202.4 69.6 200.7 69.5 198.9 69.5 197.2 69.5 195.3 69.5 193.4 69.5 191.4 69.6 189.2 69.7 186.8 70.0 184.3 70.4 181.5 71.2 178.8 72.6 176.5 74.7 175.0 76.9 173.7 79.2 172.2 81.5 170.8 84.1 169.8 86.8 169.2 89.5 168.9 92.4 168.5 95.3 168.2 98.3 167.9 101.6 167.6 105.4 166.7 109.7 165.8 113.8 166.1 117.2 167.8 119.8 170.4 121.9 173.6 123.4 177.0 124.3 180.6 124.6 184.4 124.2 188.1 123.6 191.6 123.1 194.8 122.6 197.8Z" fill="#868686"/>
<path d="M121.0 200.7 120.4 203.4 119.7 206.0 119.0 208.6 118.2 211.1 117.3 213.7 116.4 216.2 115.4 218.8 114.3 221.5 113.2 224.3 111.8 227.3 110.3 230.3 108.5 233.5 106.5 237.1 105.5 244.4 101.5 245.3 97.4 245.4 93.5 245.5 89.5 245.5 85.6 245.5 81.7 245.5 77.6 245.3 74.8 241.1 74.0 234.0 73.7 228.2 73.1 224.2 72.6 220.9 72.2 218.1 71.8 215.6 71.5 213.3 71.3 211.3 71.1 209.3 70.9 207.5 70.7 205.7 70.6 204.0 70.5 202.4 70.4 200.7 70.4 199.0 70.4 197.3 70.3 195.5 70.3 193.7 70.3 191.7 70.4 189.6 70.5 187.4 70.7 184.9 71.1 182.2 71.8 179.5 73.1 177.2 75.0 175.6 77.2 174.2 79.4 172.8 81.7 171.5 84.2 170.6 86.9 170.2 89.5 170.1 92.2 169.9 95.0 169.8 97.9 169.6 100.9 169.4 104.5 168.7 108.4 168.0 112.3 168.3 115.5 169.7 118.2 172.0 120.3 174.9 121.9 178.1 122.9 181.5 123.2 185.0 122.9 188.5 122.5 191.9 122.0 195.0 121.5 197.9Z" fill="#727272"/>
<path d="M120.0 200.7 119.4 203.3 118.7 205.8 118.0 208.3 117.2 210.7 116.3 213.2 115.3 215.6 114.3 218.1 113.2 220.6 112.1 223.2 110.7 225.9 109.2 228.8 107.5 231.7 105.6 235.0 104.4 241.6 100.7 242.5 96.9 242.7 93.2 242.8 89.5 242.9 85.9 242.8 82.1 242.7 78.3 242.5 75.7 238.6 74.9 232.1 74.5 226.8 73.9 223.0 73.4 219.9 73.0 217.2 72.7 214.8 72.4 212.7 72.2 210.7 72.0 208.9 71.8 207.2 71.6 205.5 71.5 203.9 71.4 202.3 71.3 200.7 71.3 199.1 71.2 197.5 71.2 195.8 71.2 194.0 71.2 192.1 71.2 190.1 71.3 187.9 71.4 185.5 71.7 182.9 72.4 180.2 73.6 177.9 75.4 176.2 77.5 174.8 79.6 173.4 81.9 172.2 84.4 171.5 87.0 171.3 89.5 171.3 92.1 171.3 94.7 171.3 97.4 171.3 100.3 171.3 103.5 170.7 107.2 170.2 110.7 170.4 113.9 171.6 116.6 173.6 118.7 176.2 120.3 179.1 121.4 182.3 121.9 185.6 121.7 189.0 121.3 192.2 120.9 195.2 120.5 198.0Z" fill="#616161"/>
<path d="M118.9 200.7 118.3 203.2 117.7 205.7 116.9 208.0 116.1 210.4 115.2 212.7 114.3 215.0 113.2 217.3 112.1 219.7 111.0 222.1 109.6 224.6 108.1 227.3 106.4 230.0 104.6 233.0 103.4 238.8 100.0 239.7 96.5 239.9 93.0 240.1 89.5 240.2 86.1 240.2 82.6 240.0 79.1 239.7 76.6 236.2 75.8 230.3 75.3 225.3 74.8 221.8 74.3 218.9 73.9 216.3 73.6 214.1 73.3 212.1 73.1 210.2 72.9 208.5 72.7 206.8 72.5 205.3 72.4 203.7 72.3 202.2 72.2 200.7 72.1 199.2 72.1 197.6 72.0 196.0 72.0 194.3 72.0 192.5 72.0 190.6 72.0 188.4 72.1 186.1 72.4 183.6 73.0 181.0 74.0 178.5 75.7 176.8 77.7 175.4 79.9 174.1 82.1 173.0 84.5 172.3 87.1 172.3 89.5 172.6 92.0 172.8 94.4 172.9 97.0 173.0 99.6 173.1 102.6 172.8 105.9 172.4 109.2 172.6 112.3 173.6 115.0 175.2 117.2 177.5 118.8 180.2 120.0 183.1 120.5 186.3 120.4 189.5 120.1 192.5 119.8 195.4 119.4 198.1Z" fill="#535353"/>
<path d="M117.9 200.7 117.3 203.1 116.7 205.5 115.9 207.8 115.1 210.0 114.2 212.2 113.2 214.4 112.2 216.5 111.0 218.7 109.8 221.0 108.5 223.3 107.1 225.7 105.4 228.2 103.6 230.9 102.4 236.0 99.2 236.8 96.0 237.2 92.8 237.4 89.5 237.5 86.3 237.5 83.1 237.3 79.8 236.9 77.5 233.7 76.6 228.4 76.1 223.9 75.6 220.6 75.2 217.8 74.8 215.5 74.4 213.4 74.2 211.5 73.9 209.7 73.7 208.1 73.6 206.5 73.4 205.0 73.3 203.6 73.2 202.1 73.1 200.7 73.0 199.3 72.9 197.8 72.9 196.2 72.8 194.6 72.8 192.9 72.8 191.0 72.8 189.0 72.9 186.7 73.1 184.2 73.6 181.7 74.5 179.2 76.1 177.3 78.0 176.0 80.1 174.7 82.3 173.7 84.7 173.2 87.2 173.4 89.5 173.8 91.9 174.2 94.2 174.4 96.5 174.8 98.9 175.0 101.6 174.8 104.6 174.6 107.7 174.8 110.7 175.5 113.4 176.8 115.6 178.8 117.3 181.2 118.5 184.0 119.2 186.9 119.2 189.9 119.0 192.8 118.7 195.6 118.3 198.2Z" fill="#454545"/>
<path d="M116.8 200.7 116.3 203.0 115.6 205.3 114.9 207.5 114.1 209.6 113.2 211.7 112.2 213.7 111.1 215.8 109.9 217.8 108.7 219.9 107.4 222.0 106.0 224.2 104.4 226.4 102.7 228.9 101.4 233.1 98.5 234.0 95.5 234.4 92.5 234.7 89.5 234.8 86.6 234.8 83.6 234.6 80.6 234.1 78.4 231.2 77.5 226.5 77.0 222.5 76.5 219.4 76.0 216.8 75.6 214.6 75.3 212.6 75.1 210.8 74.8 209.2 74.6 207.6 74.5 206.2 74.3 204.8 74.2 203.4 74.1 202.0 74.0 200.7 73.9 199.3 73.8 197.9 73.7 196.5 73.7 194.9 73.6 193.3 73.6 191.5 73.6 189.5 73.6 187.3 73.8 184.9 74.2 182.4 74.9 179.8 76.4 177.9 78.3 176.5 80.3 175.4 82.5 174.4 84.8 174.1 87.2 174.4 89.5 175.0 91.7 175.6 93.9 176.0 96.0 176.5 98.2 176.8 100.7 176.8 103.4 176.8 106.2 176.9 109.0 177.5 111.9 178.4 114.1 180.1 115.8 182.3 117.1 184.8 117.8 187.5 117.9 190.4 117.8 193.1 117.6 195.8 117.3 198.3Z" fill="#393939"/>
<path d="M115.8 200.7 115.2 202.9 114.6 205.1 113.9 207.2 113.0 209.2 112.1 211.2 111.1 213.1 110.0 215.0 108.8 216.9 107.6 218.8 106.3 220.7 104.9 222.7 103.4 224.7 101.7 226.8 100.3 230.3 97.7 231.2 95.0 231.7 92.3 232.0 89.5 232.1 86.8 232.1 84.0 231.9 81.3 231.3 79.3 228.8 78.4 224.7 77.8 221.0 77.3 218.2 76.9 215.8 76.5 213.7 76.2 211.9 76.0 210.2 75.7 208.7 75.5 207.2 75.4 205.9 75.2 204.5 75.1 203.2 75.0 202.0 74.9 200.7 74.8 199.4 74.7 198.1 74.6 196.7 74.5 195.2 74.4 193.6 74.3 191.9 74.3 190.0 74.3 187.9 74.4 185.6 74.8 183.1 75.4 180.5 76.7 178.5 78.6 177.1 80.6 176.0 82.7 175.2 85.0 174.9 87.3 175.5 89.5 176.3 91.6 177.0 93.6 177.6 95.6 178.2 97.6 178.7 99.7 178.9 102.1 178.9 104.7 179.1 107.4 179.4 110.3 180.0 112.5 181.4 114.3 183.4 115.6 185.6 116.4 188.2 116.7 190.8 116.6 193.4 116.5 195.9 116.2 198.4Z" fill="#2e2e2e"/>
<path d="M114.7 200.7 114.2 202.9 113.6 204.9 112.8 206.9 112.0 208.9 111.1 210.7 110.0 212.5 108.9 214.3 107.7 216.0 106.5 217.7 105.2 219.4 103.9 221.1 102.4 222.9 100.8 224.8 99.3 227.5 97.0 228.4 94.5 228.9 92.0 229.3 89.5 229.5 87.0 229.4 84.5 229.2 82.1 228.5 80.2 226.3 79.2 222.8 78.6 219.6 78.1 217.0 77.7 214.8 77.4 212.9 77.1 211.1 76.8 209.6 76.6 208.2 76.4 206.8 76.3 205.5 76.1 204.3 76.0 203.1 75.9 201.9 75.7 200.7 75.6 199.5 75.5 198.2 75.4 196.9 75.3 195.5 75.2 194.0 75.1 192.4 75.1 190.6 75.0 188.5 75.1 186.3 75.4 183.8 75.9 181.2 77.1 179.1 78.8 177.7 80.8 176.6 82.9 175.9 85.2 175.8 87.4 176.5 89.5 177.5 91.5 178.4 93.3 179.1 95.1 179.9 96.9 180.5 98.8 180.9 100.8 181.1 103.1 181.3 105.8 181.3 108.7 181.6 111.0 182.7 112.8 184.4 114.2 186.5 115.1 188.8 115.4 191.3 115.5 193.8 115.4 196.1 115.1 198.5Z" fill="#232323"/>
<path d="M113.7 200.7 113.2 202.8 112.6 204.8 111.8 206.7 111.0 208.5 110.0 210.2 109.0 211.9 107.8 213.5 106.6 215.0 105.4 216.6 104.1 218.1 102.8 219.6 101.4 221.2 99.8 222.7 98.3 224.7 96.2 225.6 94.0 226.2 91.8 226.6 89.5 226.8 87.3 226.7 85.0 226.4 82.8 225.7 81.1 223.8 80.1 221.0 79.5 218.2 79.0 215.8 78.6 213.8 78.3 212.0 78.0 210.4 77.7 209.0 77.5 207.6 77.3 206.4 77.2 205.2 77.0 204.1 76.9 202.9 76.8 201.8 76.6 200.7 76.5 199.6 76.4 198.4 76.3 197.1 76.2 195.8 76.0 194.4 75.9 192.8 75.8 191.1 75.8 189.1 75.8 187.0 76.0 184.5 76.3 181.8 77.4 179.7 79.1 178.3 81.0 177.3 83.1 176.7 85.3 176.6 87.5 177.5 89.5 178.8 91.4 179.8 93.1 180.7 94.7 181.6 96.2 182.4 97.8 182.9 99.6 183.3 101.6 183.5 104.2 183.3 107.1 183.2 109.4 184.0 111.3 185.5 112.8 187.3 113.7 189.4 114.1 191.7 114.3 194.1 114.3 196.3 114.1 198.6Z" fill="#191919"/>
<path d="M112.7,200.7C112.5,201.4 112.3,202.0 112.2,202.7C112.0,203.3 111.8,204.0 111.5,204.6C111.3,205.2 111.0,205.8 110.8,206.4C110.5,207.0 110.2,207.6 109.9,208.1C109.6,208.7 109.3,209.2 109.0,209.8C108.6,210.3 108.3,210.8 107.9,211.3C107.5,211.8 107.1,212.3 106.7,212.7C106.3,213.2 105.9,213.7 105.5,214.1C105.1,214.6 104.7,215.0 104.3,215.5C103.9,215.9 103.5,216.3 103.0,216.8C102.6,217.2 102.2,217.6 101.7,218.1C101.3,218.5 100.8,219.0 100.3,219.4C99.9,219.8 99.4,220.3 98.9,220.7C98.3,221.1 97.8,221.5 97.2,221.8C96.7,222.2 96.1,222.5 95.5,222.8C94.9,223.1 94.2,223.3 93.6,223.4C92.9,223.6 92.2,223.8 91.6,223.9C90.9,224.0 90.2,224.1 89.5,224.1C88.9,224.1 88.2,224.1 87.5,224.1C86.8,224.0 86.1,223.9 85.5,223.7C84.8,223.5 84.2,223.3 83.6,222.9C83.0,222.5 82.5,222.0 82.0,221.4C81.6,220.7 81.3,219.9 81.0,219.1C80.7,218.3 80.5,217.5 80.3,216.7C80.1,216.0 80.0,215.3 79.8,214.6C79.7,213.9 79.6,213.3 79.4,212.7C79.3,212.2 79.2,211.6 79.1,211.1C79.0,210.6 78.9,210.1 78.9,209.7C78.8,209.2 78.7,208.8 78.6,208.3C78.5,207.9 78.5,207.5 78.4,207.1C78.4,206.7 78.3,206.3 78.2,206.0C78.2,205.6 78.1,205.2 78.1,204.9C78.0,204.5 78.0,204.2 77.9,203.8C77.9,203.5 77.8,203.1 77.8,202.8C77.7,202.4 77.7,202.1 77.6,201.7C77.6,201.4 77.6,201.0 77.5,200.7C77.5,200.3 77.4,200.0 77.4,199.6C77.3,199.3 77.3,198.9 77.2,198.5C77.2,198.2 77.2,197.8 77.1,197.4C77.1,197.0 77.0,196.6 77.0,196.1C76.9,195.7 76.9,195.2 76.8,194.8C76.8,194.3 76.8,193.8 76.7,193.3C76.7,192.8 76.6,192.2 76.6,191.6C76.6,191.0 76.5,190.4 76.5,189.8C76.5,189.1 76.5,188.4 76.5,187.6C76.5,186.9 76.5,186.1 76.5,185.2C76.6,184.4 76.6,183.3 76.8,182.5C77.0,181.7 77.3,180.9 77.7,180.3C78.2,179.6 78.8,179.2 79.4,178.9C79.9,178.5 80.6,178.2 81.3,177.9C81.9,177.7 82.6,177.5 83.3,177.4C84.0,177.3 84.7,177.3 85.5,177.5C86.2,177.7 86.9,178.2 87.6,178.6C88.3,179.0 88.9,179.6 89.5,180.0C90.2,180.4 90.7,180.8 91.2,181.2C91.8,181.6 92.3,181.9 92.8,182.2C93.3,182.6 93.8,183.0 94.2,183.3C94.7,183.6 95.1,183.9 95.5,184.2C96.0,184.5 96.4,184.8 96.9,185.0C97.3,185.2 97.8,185.4 98.3,185.5C98.8,185.6 99.4,185.7 100.1,185.6C100.8,185.6 101.6,185.4 102.5,185.2C103.4,185.1 104.6,184.7 105.5,184.8C106.4,184.8 107.1,185.0 107.9,185.3C108.6,185.6 109.2,186.1 109.8,186.5C110.4,187.0 110.9,187.5 111.3,188.1C111.7,188.7 112.1,189.4 112.3,190.1C112.6,190.7 112.8,191.5 112.9,192.2C113.0,192.9 113.1,193.7 113.1,194.4C113.2,195.1 113.2,195.8 113.1,196.5C113.1,197.2 113.1,198.0 113.0,198.6C112.9,199.3 112.8,200.0 112.7,200.7Z" fill="none" stroke="#b8b8b8" stroke-width="1.1"/>
<path d="M112.7 200.7 112.2 202.7 111.5 204.6 110.8 206.4 109.9 208.1 109.0 209.8 107.9 211.3 106.7 212.7 105.5 214.1 104.3 215.5 103.0 216.8 101.7 218.1 100.3 219.4 98.9 220.7 97.2 221.8 95.5 222.8 93.6 223.4 91.6 223.9 89.5 224.1 87.5 224.1 85.5 223.7 83.6 222.9 82.0 221.4 81.0 219.1 80.3 216.7 79.8 214.6 79.4 212.7 79.1 211.1 78.9 209.7 78.6 208.3 78.4 207.1 78.2 206.0 78.1 204.9 77.9 203.8 77.8 202.8 77.6 201.7 77.5 200.7 77.4 199.6 77.2 198.5 77.1 197.4 77.0 196.1 76.8 194.8 76.7 193.3 76.6 191.6 76.5 189.8 76.5 187.6 76.5 185.2 76.8 182.5 77.7 180.3 79.4 178.9 81.3 177.9 83.3 177.4 85.5 177.5 87.6 178.6 89.5 180.0 91.2 181.2 92.8 182.2 94.2 183.3 95.5 184.2 96.9 185.0 98.3 185.5 100.1 185.6 102.5 185.2 105.5 184.8 107.9 185.3 109.8 186.5 111.3 188.1 112.3 190.1 112.9 192.2 113.1 194.4 113.1 196.5 113.0 198.6Z" fill="#7f7f7f"/>
<path d="M112.2 200.7 111.7 202.6 111.1 204.5 110.3 206.3 109.5 208.0 108.6 209.6 107.5 211.1 106.4 212.5 105.2 213.8 103.9 215.1 102.7 216.3 101.4 217.6 100.0 218.8 98.6 220.0 97.0 221.1 95.3 222.0 93.4 222.7 91.5 223.1 89.5 223.3 87.6 223.2 85.6 222.9 83.8 222.1 82.3 220.6 81.3 218.5 80.6 216.2 80.1 214.2 79.7 212.4 79.4 210.8 79.1 209.4 78.9 208.1 78.7 206.9 78.5 205.8 78.4 204.8 78.2 203.7 78.1 202.7 78.0 201.7 77.8 200.7 77.7 199.7 77.6 198.6 77.5 197.5 77.3 196.2 77.2 194.9 77.1 193.5 76.9 191.9 76.9 190.0 76.8 188.0 76.9 185.6 77.1 182.9 78.0 180.6 79.5 179.2 81.4 178.3 83.4 177.8 85.5 177.9 87.6 178.9 89.5 180.3 91.2 181.5 92.7 182.6 94.1 183.6 95.4 184.5 96.8 185.2 98.2 185.7 99.9 185.9 102.3 185.5 105.1 185.1 107.4 185.7 109.4 186.8 110.9 188.4 111.9 190.3 112.4 192.4 112.7 194.5 112.7 196.6 112.5 198.7Z" fill="#696969"/>
<path d="M111.7 200.7 111.3 202.6 110.7 204.4 109.9 206.2 109.1 207.8 108.1 209.4 107.1 210.8 106.0 212.2 104.8 213.5 103.6 214.7 102.3 215.9 101.0 217.1 99.7 218.3 98.3 219.4 96.7 220.4 95.1 221.3 93.3 221.9 91.4 222.3 89.5 222.5 87.6 222.4 85.8 222.1 84.0 221.3 82.6 219.9 81.6 217.8 80.9 215.7 80.4 213.8 80.0 212.0 79.7 210.5 79.4 209.2 79.2 207.9 79.0 206.8 78.9 205.7 78.7 204.6 78.6 203.6 78.4 202.7 78.3 201.7 78.2 200.7 78.0 199.7 77.9 198.6 77.8 197.5 77.7 196.4 77.5 195.1 77.4 193.7 77.3 192.1 77.2 190.3 77.2 188.3 77.2 186.0 77.4 183.4 78.2 181.0 79.7 179.6 81.5 178.7 83.5 178.2 85.6 178.2 87.7 179.2 89.5 180.6 91.2 181.8 92.7 182.9 94.0 183.9 95.3 184.8 96.6 185.5 98.1 186.0 99.8 186.1 102.0 185.8 104.7 185.5 107.0 186.0 108.9 187.1 110.5 188.6 111.4 190.5 112.0 192.5 112.2 194.6 112.2 196.7 112.1 198.7Z" fill="#5a5a5a"/>
<path d="M111.3 200.7 110.8 202.6 110.2 204.3 109.5 206.0 108.7 207.7 107.7 209.2 106.7 210.6 105.6 211.9 104.4 213.2 103.2 214.3 102.0 215.5 100.7 216.6 99.4 217.7 98.0 218.8 96.5 219.7 94.9 220.5 93.1 221.1 91.4 221.5 89.5 221.7 87.7 221.6 85.9 221.3 84.2 220.5 82.8 219.1 81.9 217.2 81.2 215.2 80.7 213.3 80.3 211.7 80.0 210.3 79.7 208.9 79.5 207.7 79.3 206.6 79.2 205.5 79.0 204.5 78.9 203.6 78.7 202.6 78.6 201.7 78.5 200.7 78.4 199.7 78.2 198.7 78.1 197.6 78.0 196.5 77.9 195.3 77.8 193.9 77.7 192.4 77.6 190.6 77.5 188.7 77.6 186.4 77.7 183.8 78.4 181.4 79.9 179.9 81.7 179.1 83.6 178.6 85.7 178.6 87.7 179.5 89.5 180.8 91.2 182.1 92.6 183.2 94.0 184.2 95.2 185.1 96.5 185.7 97.9 186.2 99.6 186.3 101.8 186.1 104.4 185.9 106.6 186.4 108.5 187.4 110.0 188.9 111.0 190.7 111.5 192.7 111.7 194.8 111.7 196.8 111.6 198.8Z" fill="#4d4d4d"/>
<path d="M110.8 200.7 110.4 202.5 109.8 204.3 109.1 205.9 108.2 207.5 107.3 209.0 106.3 210.4 105.2 211.7 104.0 212.8 102.8 214.0 101.6 215.1 100.3 216.1 99.0 217.2 97.7 218.1 96.2 219.0 94.7 219.8 93.0 220.3 91.3 220.7 89.5 220.9 87.8 220.8 86.1 220.5 84.5 219.7 83.1 218.4 82.1 216.6 81.5 214.7 81.0 212.9 80.6 211.4 80.3 210.0 80.0 208.7 79.8 207.5 79.6 206.4 79.5 205.4 79.3 204.4 79.2 203.5 79.1 202.5 78.9 201.6 78.8 200.7 78.7 199.7 78.6 198.8 78.5 197.7 78.3 196.6 78.2 195.4 78.1 194.1 78.0 192.6 77.9 190.9 77.9 189.0 77.9 186.8 78.0 184.3 78.6 181.8 80.0 180.3 81.8 179.4 83.7 179.0 85.7 179.0 87.7 179.8 89.5 181.1 91.1 182.4 92.6 183.5 93.9 184.5 95.1 185.3 96.4 186.0 97.8 186.4 99.5 186.5 101.6 186.4 104.0 186.2 106.2 186.8 108.1 187.7 109.6 189.1 110.5 190.9 111.0 192.9 111.2 194.9 111.3 196.9 111.1 198.8Z" fill="#414141"/>
<path d="M110.4 200.7 109.9 202.5 109.3 204.2 108.6 205.8 107.8 207.4 106.9 208.8 105.9 210.1 104.8 211.4 103.6 212.5 102.5 213.6 101.2 214.6 100.0 215.6 98.7 216.6 97.4 217.5 96.0 218.3 94.5 219.0 92.9 219.5 91.2 219.9 89.5 220.1 87.9 220.0 86.2 219.7 84.7 218.9 83.4 217.6 82.4 215.9 81.8 214.2 81.3 212.5 80.9 211.0 80.6 209.7 80.3 208.4 80.1 207.3 79.9 206.3 79.8 205.3 79.6 204.3 79.5 203.4 79.4 202.5 79.3 201.6 79.1 200.7 79.0 199.8 78.9 198.8 78.8 197.8 78.7 196.7 78.6 195.6 78.5 194.3 78.4 192.9 78.3 191.2 78.2 189.4 78.2 187.2 78.3 184.7 78.8 182.1 80.2 180.7 82.0 179.8 83.8 179.4 85.8 179.4 87.7 180.1 89.5 181.4 91.1 182.7 92.5 183.8 93.8 184.8 95.0 185.6 96.3 186.2 97.7 186.6 99.3 186.8 101.3 186.7 103.6 186.6 105.7 187.1 107.7 188.0 109.2 189.4 110.1 191.1 110.6 193.0 110.8 195.0 110.8 197.0 110.7 198.9Z" fill="#373737"/>
<path d="M109.9 200.7 109.5 202.4 108.9 204.1 108.2 205.7 107.4 207.2 106.5 208.6 105.5 209.9 104.4 211.1 103.3 212.2 102.1 213.2 100.9 214.2 99.7 215.1 98.4 216.0 97.1 216.9 95.7 217.6 94.3 218.3 92.7 218.8 91.2 219.1 89.5 219.3 87.9 219.2 86.3 218.8 84.9 218.1 83.7 216.9 82.7 215.3 82.1 213.6 81.6 212.1 81.2 210.7 80.9 209.4 80.6 208.2 80.4 207.1 80.2 206.1 80.1 205.1 79.9 204.2 79.8 203.3 79.7 202.4 79.6 201.6 79.5 200.7 79.4 199.8 79.3 198.9 79.1 197.9 79.0 196.9 78.9 195.7 78.8 194.5 78.7 193.1 78.6 191.5 78.6 189.7 78.6 187.6 78.6 185.1 79.0 182.5 80.4 181.0 82.1 180.2 83.9 179.8 85.9 179.7 87.8 180.4 89.5 181.6 91.1 183.0 92.5 184.1 93.7 185.1 94.9 185.9 96.2 186.5 97.5 186.8 99.1 187.0 101.1 186.9 103.3 187.0 105.3 187.5 107.2 188.3 108.8 189.6 109.6 191.3 110.1 193.2 110.3 195.1 110.3 197.0 110.2 198.9Z" fill="#2d2d2d"/>
<path d="M109.5 200.7 109.0 202.4 108.5 204.0 107.8 205.6 107.0 207.0 106.1 208.4 105.1 209.7 104.0 210.8 102.9 211.9 101.7 212.9 100.5 213.8 99.3 214.7 98.1 215.5 96.8 216.3 95.5 216.9 94.1 217.5 92.6 218.0 91.1 218.3 89.5 218.5 88.0 218.4 86.5 218.0 85.1 217.3 83.9 216.1 83.0 214.7 82.4 213.1 81.9 211.7 81.5 210.3 81.1 209.1 80.9 208.0 80.7 206.9 80.5 205.9 80.4 205.0 80.2 204.1 80.1 203.2 80.0 202.4 79.9 201.5 79.8 200.7 79.7 199.8 79.6 198.9 79.5 198.0 79.4 197.0 79.3 195.9 79.2 194.7 79.1 193.4 79.0 191.8 78.9 190.1 78.9 188.0 79.0 185.6 79.3 182.9 80.5 181.4 82.2 180.6 84.0 180.2 85.9 180.1 87.8 180.7 89.5 181.9 91.1 183.2 92.4 184.4 93.6 185.4 94.8 186.2 96.1 186.7 97.4 187.1 99.0 187.2 100.9 187.2 102.9 187.4 104.9 187.8 106.8 188.6 108.3 189.9 109.2 191.5 109.6 193.4 109.8 195.3 109.8 197.1 109.7 198.9Z" fill="#242424"/>
<path d="M109.0 200.7 108.6 202.4 108.0 204.0 107.4 205.5 106.6 206.9 105.7 208.2 104.7 209.5 103.6 210.6 102.5 211.6 101.4 212.5 100.2 213.4 99.0 214.2 97.8 214.9 96.5 215.6 95.2 216.2 93.9 216.8 92.5 217.2 91.0 217.5 89.5 217.6 88.1 217.6 86.6 217.2 85.3 216.5 84.2 215.4 83.3 214.0 82.7 212.6 82.1 211.3 81.7 210.0 81.4 208.8 81.2 207.7 81.0 206.7 80.8 205.7 80.7 204.8 80.6 204.0 80.4 203.1 80.3 202.3 80.2 201.5 80.1 200.7 80.0 199.9 79.9 199.0 79.8 198.1 79.7 197.1 79.6 196.1 79.5 194.9 79.4 193.6 79.3 192.1 79.3 190.4 79.3 188.4 79.3 186.0 79.5 183.3 80.7 181.8 82.4 181.0 84.1 180.5 86.0 180.5 87.8 181.0 89.5 182.2 91.0 183.5 92.4 184.7 93.6 185.7 94.7 186.5 96.0 187.0 97.3 187.3 98.8 187.4 100.6 187.5 102.5 187.7 104.5 188.2 106.4 188.9 107.9 190.1 108.7 191.7 109.2 193.6 109.3 195.4 109.4 197.2 109.3 199.0Z" fill="#1c1c1c"/>
<path d="M108.6 200.7 108.1 202.3 107.6 203.9 106.9 205.4 106.2 206.7 105.3 208.0 104.3 209.2 103.3 210.3 102.1 211.3 101.0 212.1 99.8 212.9 98.6 213.7 97.4 214.4 96.2 215.0 95.0 215.5 93.7 216.0 92.3 216.4 90.9 216.7 89.5 216.8 88.1 216.8 86.8 216.4 85.5 215.7 84.5 214.6 83.6 213.4 83.0 212.1 82.4 210.8 82.0 209.7 81.7 208.5 81.5 207.5 81.3 206.5 81.1 205.6 81.0 204.7 80.9 203.9 80.8 203.1 80.6 202.3 80.6 201.5 80.5 200.7 80.4 199.9 80.3 199.1 80.2 198.2 80.1 197.2 80.0 196.2 79.9 195.1 79.8 193.9 79.7 192.4 79.6 190.8 79.6 188.8 79.6 186.5 79.7 183.6 80.9 182.1 82.5 181.4 84.3 180.9 86.0 180.9 87.9 181.3 89.5 182.5 91.0 183.8 92.3 185.0 93.5 186.0 94.6 186.7 95.8 187.2 97.2 187.5 98.7 187.7 100.4 187.8 102.1 188.1 104.0 188.5 106.0 189.2 107.5 190.3 108.3 192.0 108.7 193.7 108.9 195.5 108.9 197.3 108.8 199.0Z" fill="#141414"/>
<path d="M108.1,200.7C108.0,201.2 107.9,201.8 107.7,202.3C107.5,202.8 107.4,203.3 107.2,203.8C107.0,204.3 106.7,204.8 106.5,205.2C106.3,205.7 106.0,206.2 105.7,206.6C105.5,207.0 105.2,207.4 104.9,207.8C104.6,208.2 104.3,208.6 103.9,209.0C103.6,209.4 103.2,209.7 102.9,210.0C102.5,210.4 102.1,210.7 101.8,210.9C101.4,211.2 101.0,211.5 100.6,211.8C100.2,212.0 99.9,212.3 99.5,212.5C99.1,212.8 98.7,213.0 98.3,213.2C97.9,213.4 97.5,213.6 97.1,213.8C96.7,214.0 96.3,214.2 95.9,214.4C95.5,214.5 95.1,214.7 94.7,214.8C94.3,215.0 93.9,215.1 93.5,215.3C93.0,215.4 92.6,215.5 92.2,215.6C91.7,215.7 91.3,215.8 90.9,215.9C90.4,216.0 90.0,216.0 89.5,216.0C89.1,216.0 88.6,216.0 88.2,216.0C87.8,215.9 87.3,215.8 86.9,215.6C86.5,215.4 86.1,215.1 85.7,214.9C85.4,214.6 85.0,214.2 84.7,213.9C84.4,213.5 84.2,213.1 83.9,212.8C83.7,212.4 83.5,212.0 83.3,211.6C83.1,211.2 82.9,210.8 82.7,210.4C82.6,210.1 82.4,209.7 82.3,209.3C82.2,208.9 82.1,208.6 82.0,208.2C81.9,207.9 81.8,207.5 81.8,207.2C81.7,206.9 81.6,206.6 81.6,206.3C81.5,206.0 81.5,205.7 81.4,205.4C81.4,205.1 81.3,204.8 81.3,204.5C81.3,204.3 81.2,204.0 81.2,203.7C81.1,203.5 81.1,203.2 81.1,203.0C81.0,202.7 81.0,202.5 81.0,202.2C80.9,202.0 80.9,201.7 80.9,201.5C80.8,201.2 80.8,201.0 80.8,200.7C80.7,200.4 80.7,200.2 80.7,199.9C80.7,199.7 80.6,199.4 80.6,199.1C80.6,198.8 80.5,198.6 80.5,198.3C80.5,198.0 80.4,197.7 80.4,197.4C80.4,197.1 80.3,196.7 80.3,196.4C80.3,196.0 80.3,195.7 80.2,195.3C80.2,194.9 80.2,194.5 80.1,194.1C80.1,193.7 80.1,193.2 80.1,192.7C80.0,192.2 80.0,191.7 80.0,191.1C80.0,190.6 80.0,190.0 79.9,189.2C79.9,188.5 79.9,187.8 79.9,186.9C79.9,186.0 79.7,184.8 79.9,184.0C80.1,183.3 80.6,182.9 81.1,182.5C81.5,182.1 82.1,181.9 82.6,181.7C83.2,181.6 83.8,181.4 84.4,181.3C84.9,181.3 85.5,181.2 86.1,181.2C86.7,181.3 87.3,181.4 87.9,181.6C88.4,181.9 89.0,182.3 89.5,182.7C90.1,183.2 90.5,183.7 91.0,184.1C91.4,184.5 91.9,185.0 92.3,185.3C92.7,185.7 93.0,186.1 93.4,186.3C93.8,186.6 94.1,186.8 94.5,187.0C94.9,187.2 95.3,187.3 95.7,187.5C96.1,187.6 96.6,187.6 97.0,187.7C97.5,187.8 98.0,187.8 98.5,187.9C99.0,187.9 99.6,188.0 100.1,188.1C100.7,188.2 101.2,188.3 101.8,188.5C102.3,188.6 103.0,188.7 103.6,188.9C104.2,189.1 105.0,189.2 105.5,189.5C106.1,189.8 106.7,190.1 107.0,190.6C107.4,191.0 107.7,191.6 107.8,192.2C108.0,192.7 108.1,193.3 108.2,193.9C108.3,194.5 108.4,195.1 108.4,195.6C108.4,196.2 108.4,196.8 108.4,197.4C108.4,197.9 108.4,198.5 108.3,199.1C108.3,199.6 108.2,200.2 108.1,200.7Z" fill="none" stroke="#b8b8b8" stroke-width="1.1"/>
<path d="M108.1 200.7 107.7 202.3 107.2 203.8 106.5 205.2 105.7 206.6 104.9 207.8 103.9 209.0 102.9 210.0 101.8 210.9 100.6 211.8 99.5 212.5 98.3 213.2 97.1 213.8 95.9 214.4 94.7 214.8 93.5 215.3 92.2 215.6 90.9 215.9 89.5 216.0 88.2 216.0 86.9 215.6 85.7 214.9 84.7 213.9 83.9 212.8 83.3 211.6 82.7 210.4 82.3 209.3 82.0 208.2 81.8 207.2 81.6 206.3 81.4 205.4 81.3 204.5 81.2 203.7 81.1 203.0 81.0 202.2 80.9 201.5 80.8 200.7 80.7 199.9 80.6 199.1 80.5 198.3 80.4 197.4 80.3 196.4 80.2 195.3 80.1 194.1 80.1 192.7 80.0 191.1 79.9 189.2 79.9 186.9 79.9 184.0 81.1 182.5 82.6 181.7 84.4 181.3 86.1 181.2 87.9 181.6 89.5 182.7 91.0 184.1 92.3 185.3 93.4 186.3 94.5 187.0 95.7 187.5 97.0 187.7 98.5 187.9 100.1 188.1 101.8 188.5 103.6 188.9 105.5 189.5 107.0 190.6 107.8 192.2 108.2 193.9 108.4 195.6 108.4 197.4 108.3 199.1Z" fill="#737373"/>
<path d="M107.8 200.7 107.4 202.3 106.9 203.8 106.3 205.2 105.5 206.5 104.6 207.7 103.7 208.9 102.6 209.9 101.5 210.8 100.4 211.6 99.3 212.3 98.1 212.9 97.0 213.5 95.8 214.1 94.6 214.5 93.4 214.9 92.1 215.2 90.8 215.5 89.5 215.6 88.2 215.5 87.0 215.1 85.9 214.5 84.9 213.5 84.1 212.4 83.4 211.3 82.9 210.2 82.5 209.1 82.2 208.0 82.0 207.0 81.8 206.1 81.6 205.3 81.5 204.4 81.4 203.7 81.3 202.9 81.2 202.2 81.1 201.4 81.0 200.7 80.9 199.9 80.8 199.2 80.8 198.3 80.7 197.5 80.6 196.5 80.5 195.5 80.5 194.3 80.4 193.0 80.3 191.5 80.3 189.6 80.3 187.5 80.4 184.8 81.5 183.5 83.0 182.8 84.6 182.4 86.3 182.3 88.0 182.7 89.5 183.7 90.9 184.9 92.1 186.0 93.2 186.9 94.3 187.6 95.5 188.0 96.7 188.3 98.1 188.4 99.7 188.6 101.2 189.0 102.9 189.5 104.8 190.0 106.2 191.1 107.1 192.5 107.6 194.1 107.9 195.8 108.0 197.4 108.0 199.1Z" fill="#5f5f5f"/>
<path d="M107.5 200.7 107.2 202.2 106.7 203.7 106.0 205.1 105.2 206.4 104.4 207.6 103.4 208.7 102.4 209.7 101.3 210.6 100.2 211.4 99.1 212.1 98.0 212.7 96.8 213.3 95.6 213.8 94.5 214.2 93.3 214.6 92.0 214.9 90.8 215.1 89.5 215.2 88.3 215.1 87.1 214.7 86.0 214.1 85.0 213.2 84.2 212.1 83.6 211.0 83.1 209.9 82.7 208.9 82.4 207.8 82.2 206.9 82.0 206.0 81.8 205.1 81.7 204.3 81.6 203.6 81.5 202.9 81.4 202.1 81.3 201.4 81.3 200.7 81.2 200.0 81.1 199.2 81.0 198.4 81.0 197.6 80.9 196.7 80.8 195.7 80.8 194.6 80.7 193.3 80.6 191.8 80.6 190.1 80.7 188.0 80.9 185.7 82.0 184.4 83.4 183.8 84.9 183.5 86.5 183.4 88.1 183.7 89.5 184.6 90.9 185.7 92.0 186.7 93.1 187.6 94.1 188.2 95.2 188.5 96.4 188.8 97.7 189.0 99.2 189.2 100.6 189.6 102.3 190.0 104.0 190.6 105.4 191.5 106.3 192.9 106.9 194.4 107.3 195.9 107.6 197.5 107.6 199.1Z" fill="#515151"/>
<path d="M107.2 200.7 106.9 202.2 106.4 203.7 105.8 205.0 105.0 206.3 104.1 207.5 103.2 208.6 102.2 209.5 101.1 210.4 100.0 211.2 98.9 211.8 97.8 212.5 96.6 213.0 95.5 213.5 94.3 213.9 93.2 214.2 92.0 214.5 90.8 214.6 89.5 214.7 88.3 214.6 87.2 214.3 86.1 213.6 85.1 212.8 84.4 211.8 83.8 210.7 83.3 209.7 82.9 208.6 82.6 207.6 82.4 206.7 82.2 205.8 82.1 205.0 81.9 204.3 81.8 203.5 81.7 202.8 81.6 202.1 81.6 201.4 81.5 200.7 81.4 200.0 81.4 199.3 81.3 198.5 81.2 197.7 81.2 196.8 81.2 195.9 81.1 194.8 81.0 193.6 81.0 192.1 81.0 190.5 81.1 188.6 81.3 186.5 82.4 185.4 83.8 184.8 85.2 184.5 86.7 184.5 88.2 184.8 89.5 185.6 90.8 186.6 91.9 187.4 92.9 188.2 93.9 188.7 95.0 189.1 96.1 189.3 97.4 189.5 98.7 189.8 100.1 190.2 101.6 190.6 103.2 191.1 104.6 192.0 105.5 193.3 106.2 194.6 106.8 196.1 107.1 197.6 107.2 199.1Z" fill="#464646"/>
<path d="M106.8 200.7 106.6 202.2 106.2 203.6 105.5 205.0 104.8 206.2 103.9 207.4 103.0 208.4 101.9 209.4 100.9 210.2 99.8 211.0 98.7 211.6 97.6 212.2 96.5 212.7 95.4 213.2 94.2 213.6 93.1 213.9 91.9 214.1 90.7 214.2 89.5 214.3 88.4 214.2 87.2 213.8 86.2 213.2 85.3 212.4 84.5 211.5 83.9 210.4 83.5 209.4 83.1 208.4 82.8 207.4 82.6 206.5 82.4 205.7 82.3 204.9 82.1 204.2 82.0 203.4 81.9 202.7 81.8 202.1 81.8 201.4 81.7 200.7 81.7 200.0 81.6 199.3 81.6 198.6 81.5 197.8 81.5 196.9 81.5 196.0 81.4 195.0 81.4 193.8 81.3 192.4 81.3 190.9 81.5 189.2 81.8 187.3 82.8 186.3 84.1 185.9 85.5 185.6 86.9 185.6 88.2 185.8 89.5 186.5 90.7 187.4 91.8 188.1 92.7 188.8 93.7 189.3 94.7 189.6 95.8 189.9 97.0 190.1 98.2 190.3 99.5 190.7 100.9 191.1 102.5 191.7 103.8 192.5 104.7 193.6 105.5 194.9 106.2 196.2 106.7 197.7 106.9 199.2Z" fill="#3b3b3b"/>
<path d="M106.5 200.7 106.3 202.2 105.9 203.6 105.3 204.9 104.5 206.1 103.6 207.3 102.7 208.3 101.7 209.2 100.7 210.0 99.6 210.8 98.5 211.4 97.4 212.0 96.3 212.5 95.2 212.9 94.1 213.2 93.0 213.5 91.8 213.7 90.7 213.8 89.5 213.8 88.4 213.7 87.3 213.4 86.3 212.8 85.4 212.1 84.7 211.1 84.1 210.1 83.6 209.1 83.3 208.2 83.0 207.2 82.8 206.4 82.6 205.5 82.5 204.8 82.3 204.1 82.2 203.4 82.1 202.7 82.1 202.0 82.0 201.4 82.0 200.7 81.9 200.0 81.9 199.3 81.8 198.6 81.8 197.9 81.8 197.1 81.8 196.2 81.8 195.2 81.7 194.1 81.6 192.8 81.6 191.3 81.9 189.7 82.3 188.1 83.3 187.3 84.5 186.9 85.8 186.7 87.1 186.6 88.3 186.9 89.5 187.5 90.6 188.2 91.6 188.8 92.6 189.4 93.5 189.8 94.5 190.2 95.5 190.4 96.6 190.7 97.8 190.9 99.0 191.3 100.3 191.7 101.7 192.2 102.9 193.0 103.9 194.0 104.9 195.1 105.7 196.4 106.3 197.8 106.5 199.2Z" fill="#323232"/>
<path d="M106.2 200.7 106.1 202.1 105.7 203.5 105.0 204.8 104.3 206.1 103.4 207.2 102.5 208.2 101.5 209.1 100.5 209.8 99.4 210.6 98.3 211.2 97.3 211.7 96.2 212.2 95.1 212.6 94.0 212.9 92.9 213.1 91.8 213.3 90.7 213.4 89.5 213.4 88.4 213.3 87.4 212.9 86.4 212.4 85.5 211.7 84.8 210.8 84.3 209.9 83.8 208.9 83.5 207.9 83.2 207.0 83.0 206.2 82.8 205.4 82.7 204.7 82.5 204.0 82.4 203.3 82.4 202.6 82.3 202.0 82.2 201.3 82.2 200.7 82.2 200.1 82.1 199.4 82.1 198.7 82.1 198.0 82.1 197.2 82.1 196.4 82.1 195.5 82.0 194.4 81.9 193.1 82.0 191.7 82.3 190.3 82.8 189.0 83.7 188.3 84.9 187.9 86.1 187.7 87.3 187.7 88.4 187.9 89.5 188.4 90.6 189.0 91.5 189.5 92.4 190.0 93.3 190.4 94.2 190.7 95.2 191.0 96.2 191.2 97.3 191.5 98.4 191.9 99.6 192.3 100.9 192.7 102.1 193.4 103.2 194.4 104.2 195.4 105.2 196.5 105.8 197.8 106.1 199.2Z" fill="#2a2a2a"/>
<path d="M105.9 200.7 105.8 202.1 105.4 203.5 104.8 204.8 104.0 206.0 103.2 207.0 102.2 208.0 101.3 208.9 100.2 209.7 99.2 210.3 98.1 210.9 97.1 211.5 96.0 211.9 95.0 212.3 93.9 212.6 92.8 212.8 91.7 212.9 90.6 213.0 89.5 213.0 88.5 212.8 87.5 212.5 86.5 212.0 85.7 211.4 85.0 210.5 84.4 209.6 84.0 208.6 83.7 207.7 83.4 206.8 83.2 206.0 83.0 205.3 82.9 204.5 82.8 203.9 82.7 203.2 82.6 202.6 82.5 201.9 82.5 201.3 82.4 200.7 82.4 200.1 82.4 199.4 82.4 198.8 82.4 198.1 82.4 197.4 82.4 196.6 82.4 195.7 82.4 194.7 82.3 193.4 82.3 192.1 82.7 190.9 83.2 189.8 84.2 189.2 85.3 188.9 86.4 188.8 87.4 188.8 88.5 189.0 89.5 189.3 90.5 189.8 91.4 190.3 92.2 190.6 93.1 191.0 93.9 191.3 94.8 191.5 95.8 191.8 96.8 192.0 97.8 192.4 98.9 192.8 100.1 193.3 101.3 193.9 102.4 194.7 103.5 195.6 104.6 196.7 105.4 197.9 105.8 199.3Z" fill="#222222"/>
<path d="M105.6 200.7 105.5 202.1 105.2 203.5 104.6 204.7 103.8 205.9 102.9 206.9 102.0 207.9 101.0 208.7 100.0 209.5 99.0 210.1 98.0 210.7 96.9 211.2 95.9 211.6 94.8 212.0 93.8 212.3 92.7 212.4 91.6 212.5 90.6 212.6 89.5 212.5 88.5 212.4 87.5 212.1 86.6 211.6 85.8 211.0 85.1 210.2 84.6 209.3 84.2 208.4 83.9 207.5 83.6 206.6 83.4 205.8 83.2 205.1 83.1 204.4 83.0 203.8 82.9 203.1 82.8 202.5 82.7 201.9 82.7 201.3 82.7 200.7 82.7 200.1 82.6 199.5 82.6 198.8 82.7 198.2 82.7 197.5 82.7 196.7 82.7 195.9 82.7 194.9 82.6 193.8 82.7 192.5 83.1 191.4 83.7 190.6 84.6 190.2 85.6 190.0 86.6 189.9 87.6 189.9 88.6 190.0 89.5 190.3 90.4 190.6 91.3 191.0 92.1 191.3 92.9 191.5 93.7 191.8 94.5 192.1 95.4 192.3 96.3 192.6 97.3 193.0 98.3 193.4 99.4 193.8 100.5 194.4 101.6 195.1 102.8 195.9 104.1 196.8 105.0 198.0 105.4 199.3Z" fill="#1a1a1a"/>
<path d="M105.3 200.7 105.3 202.1 104.9 203.4 104.3 204.7 103.5 205.8 102.7 206.8 101.7 207.7 100.8 208.6 99.8 209.3 98.8 209.9 97.8 210.5 96.7 211.0 95.7 211.4 94.7 211.7 93.6 211.9 92.6 212.1 91.6 212.1 90.5 212.1 89.5 212.1 88.6 211.9 87.6 211.6 86.7 211.2 85.9 210.6 85.3 209.9 84.8 209.0 84.4 208.1 84.0 207.2 83.8 206.4 83.6 205.7 83.4 205.0 83.3 204.3 83.2 203.7 83.1 203.1 83.0 202.5 82.9 201.9 82.9 201.3 82.9 200.7 82.9 200.1 82.9 199.5 82.9 198.9 82.9 198.3 83.0 197.6 83.0 196.9 83.0 196.1 83.0 195.2 82.9 194.1 83.0 192.9 83.5 192.0 84.2 191.4 85.1 191.1 86.0 191.0 86.9 191.0 87.8 191.0 88.7 191.0 89.5 191.2 90.4 191.4 91.1 191.7 91.9 191.9 92.7 192.1 93.4 192.3 94.2 192.6 95.0 192.9 95.9 193.2 96.7 193.5 97.6 193.9 98.6 194.4 99.6 194.9 100.8 195.4 102.2 196.1 103.5 196.9 104.5 198.1 105.1 199.3Z" fill="#131313"/>
<path d="M105.0,200.7C105.0,201.1 105.0,201.6 105.0,202.0C104.9,202.5 104.8,202.9 104.7,203.4C104.5,203.8 104.3,204.2 104.1,204.6C103.8,205.0 103.6,205.3 103.3,205.7C103.0,206.1 102.7,206.4 102.4,206.7C102.1,207.0 101.8,207.3 101.5,207.6C101.2,207.9 100.9,208.2 100.6,208.4C100.2,208.7 99.9,208.9 99.6,209.1C99.3,209.3 98.9,209.5 98.6,209.7C98.3,209.9 97.9,210.1 97.6,210.3C97.2,210.4 96.9,210.6 96.6,210.7C96.2,210.9 95.9,211.0 95.6,211.1C95.2,211.2 94.9,211.3 94.5,211.4C94.2,211.5 93.9,211.6 93.5,211.6C93.2,211.7 92.8,211.7 92.5,211.7C92.2,211.7 91.8,211.8 91.5,211.8C91.2,211.8 90.8,211.8 90.5,211.7C90.2,211.7 89.9,211.7 89.5,211.6C89.2,211.6 88.9,211.5 88.6,211.5C88.3,211.4 88.0,211.3 87.7,211.2C87.4,211.1 87.1,211.0 86.8,210.8C86.6,210.7 86.3,210.5 86.1,210.3C85.8,210.1 85.6,209.8 85.4,209.5C85.2,209.3 85.1,209.0 84.9,208.7C84.8,208.4 84.7,208.1 84.5,207.8C84.4,207.6 84.3,207.3 84.2,207.0C84.2,206.7 84.1,206.5 84.0,206.2C83.9,206.0 83.9,205.7 83.8,205.5C83.8,205.3 83.7,205.0 83.7,204.8C83.6,204.6 83.6,204.4 83.5,204.2C83.5,204.0 83.4,203.8 83.4,203.6C83.3,203.4 83.3,203.2 83.3,203.0C83.3,202.8 83.2,202.6 83.2,202.4C83.2,202.2 83.2,202.0 83.2,201.8C83.2,201.6 83.1,201.4 83.1,201.3C83.1,201.1 83.1,200.9 83.1,200.7C83.1,200.5 83.1,200.3 83.1,200.1C83.1,199.9 83.2,199.8 83.2,199.6C83.2,199.4 83.2,199.2 83.2,199.0C83.2,198.8 83.2,198.6 83.2,198.4C83.2,198.2 83.3,198.0 83.3,197.8C83.3,197.6 83.3,197.3 83.3,197.1C83.3,196.9 83.4,196.6 83.4,196.4C83.4,196.1 83.4,195.8 83.3,195.5C83.3,195.2 83.3,194.8 83.3,194.4C83.3,194.0 83.2,193.6 83.3,193.3C83.4,193.0 83.6,192.8 83.9,192.6C84.1,192.4 84.4,192.3 84.7,192.2C84.9,192.2 85.2,192.1 85.5,192.1C85.8,192.1 86.1,192.0 86.4,192.0C86.7,192.0 86.9,192.0 87.2,192.0C87.5,192.0 87.8,192.0 88.0,192.0C88.3,192.1 88.5,192.1 88.8,192.1C89.0,192.1 89.3,192.1 89.5,192.2C89.8,192.2 90.0,192.2 90.3,192.2C90.5,192.3 90.8,192.3 91.0,192.4C91.3,192.4 91.5,192.4 91.7,192.5C92.0,192.5 92.2,192.6 92.5,192.7C92.7,192.7 93.0,192.8 93.2,192.9C93.4,193.0 93.7,193.0 93.9,193.1C94.2,193.2 94.4,193.3 94.6,193.4C94.9,193.5 95.1,193.6 95.4,193.7C95.6,193.9 95.9,194.0 96.1,194.1C96.4,194.2 96.7,194.4 96.9,194.5C97.2,194.6 97.5,194.8 97.8,194.9C98.1,195.0 98.5,195.2 98.8,195.3C99.2,195.5 99.6,195.6 100.0,195.8C100.5,196.0 101.0,196.1 101.5,196.4C102.0,196.6 102.6,196.8 103.0,197.1C103.4,197.4 103.8,197.8 104.1,198.1C104.4,198.5 104.5,198.9 104.7,199.4C104.8,199.8 104.9,200.3 105.0,200.7Z" fill="none" stroke="#b8b8b8" stroke-width="1.1"/>
<path d="M105.0 200.7 105.0 202.0 104.7 203.4 104.1 204.6 103.3 205.7 102.4 206.7 101.5 207.6 100.6 208.4 99.6 209.1 98.6 209.7 97.6 210.3 96.6 210.7 95.6 211.1 94.5 211.4 93.5 211.6 92.5 211.7 91.5 211.8 90.5 211.7 89.5 211.6 88.6 211.5 87.7 211.2 86.8 210.8 86.1 210.3 85.4 209.5 84.9 208.7 84.5 207.8 84.2 207.0 84.0 206.2 83.8 205.5 83.7 204.8 83.5 204.2 83.4 203.6 83.3 203.0 83.2 202.4 83.2 201.8 83.1 201.3 83.1 200.7 83.1 200.1 83.2 199.6 83.2 199.0 83.2 198.4 83.3 197.8 83.3 197.1 83.4 196.4 83.3 195.5 83.3 194.4 83.3 193.3 83.9 192.6 84.7 192.2 85.5 192.1 86.4 192.0 87.2 192.0 88.0 192.0 88.8 192.1 89.5 192.2 90.3 192.2 91.0 192.4 91.7 192.5 92.5 192.7 93.2 192.9 93.9 193.1 94.6 193.4 95.4 193.7 96.1 194.1 96.9 194.5 97.8 194.9 98.8 195.3 100.0 195.8 101.5 196.4 103.0 197.1 104.1 198.1 104.7 199.4Z" fill="#5a5a5a"/>
<path d="M103.4 200.7 103.4 201.9 103.2 203.1 102.6 204.2 101.9 205.2 101.1 206.1 100.3 206.9 99.5 207.6 98.6 208.3 97.7 208.8 96.8 209.3 95.9 209.7 95.0 210.1 94.0 210.3 93.1 210.5 92.2 210.6 91.3 210.7 90.4 210.6 89.5 210.5 88.7 210.4 87.9 210.1 87.1 209.8 86.4 209.3 85.8 208.6 85.4 207.9 85.0 207.1 84.8 206.4 84.6 205.7 84.4 205.0 84.2 204.4 84.1 203.8 84.0 203.3 83.9 202.7 83.8 202.2 83.8 201.7 83.8 201.2 83.8 200.7 83.8 200.2 83.8 199.7 83.8 199.2 83.9 198.6 83.9 198.1 83.9 197.5 84.0 196.8 84.0 196.0 83.9 195.0 84.0 194.0 84.4 193.4 85.1 193.1 85.9 193.0 86.7 192.9 87.5 192.9 88.2 192.9 88.9 193.0 89.5 193.0 90.2 193.1 90.9 193.2 91.5 193.3 92.2 193.5 92.8 193.7 93.5 193.9 94.1 194.2 94.8 194.4 95.5 194.8 96.2 195.1 97.0 195.5 97.9 195.9 99.0 196.3 100.3 196.8 101.7 197.5 102.6 198.4 103.2 199.5Z" fill="#494949"/>
<path d="M101.9 200.7 101.9 201.8 101.7 202.8 101.2 203.8 100.5 204.7 99.8 205.5 99.1 206.2 98.4 206.9 97.6 207.4 96.8 207.9 96.0 208.4 95.2 208.7 94.4 209.0 93.5 209.3 92.7 209.4 91.9 209.5 91.1 209.5 90.3 209.5 89.5 209.4 88.8 209.3 88.1 209.1 87.4 208.8 86.8 208.4 86.2 207.8 85.9 207.1 85.5 206.4 85.3 205.8 85.1 205.1 85.0 204.5 84.8 204.0 84.7 203.5 84.6 203.0 84.5 202.5 84.5 202.1 84.4 201.6 84.4 201.1 84.4 200.7 84.4 200.2 84.4 199.8 84.5 199.3 84.5 198.9 84.5 198.4 84.6 197.8 84.6 197.2 84.6 196.5 84.5 195.7 84.6 194.8 85.0 194.2 85.6 193.9 86.3 193.8 87.0 193.8 87.7 193.8 88.3 193.8 88.9 193.8 89.5 193.9 90.1 193.9 90.7 194.0 91.3 194.1 91.9 194.3 92.5 194.4 93.0 194.6 93.6 194.9 94.2 195.1 94.8 195.4 95.5 195.7 96.2 196.1 97.0 196.4 97.9 196.8 99.1 197.2 100.3 197.8 101.2 198.6 101.7 199.6Z" fill="#3c3c3c"/>
<path d="M100.3 200.7 100.4 201.6 100.1 202.6 99.7 203.4 99.2 204.2 98.6 204.9 97.9 205.5 97.3 206.1 96.6 206.6 95.9 207.0 95.2 207.4 94.5 207.7 93.8 208.0 93.0 208.2 92.3 208.3 91.6 208.4 90.9 208.4 90.2 208.4 89.5 208.4 88.9 208.2 88.2 208.0 87.6 207.8 87.1 207.4 86.7 206.9 86.3 206.3 86.0 205.7 85.8 205.1 85.7 204.6 85.5 204.1 85.4 203.6 85.3 203.1 85.2 202.7 85.2 202.3 85.1 201.9 85.1 201.5 85.1 201.1 85.1 200.7 85.1 200.3 85.1 199.9 85.1 199.5 85.1 199.1 85.2 198.6 85.2 198.2 85.2 197.7 85.2 197.1 85.1 196.3 85.2 195.5 85.6 195.0 86.1 194.8 86.7 194.7 87.3 194.6 87.9 194.6 88.5 194.6 89.0 194.7 89.5 194.7 90.1 194.8 90.6 194.9 91.1 194.9 91.6 195.1 92.1 195.2 92.6 195.4 93.1 195.6 93.6 195.8 94.2 196.1 94.7 196.3 95.3 196.6 96.0 196.9 96.9 197.3 97.9 197.7 99.0 198.2 99.7 198.9 100.1 199.8Z" fill="#313131"/>
<path d="M98.8 200.7 98.8 201.5 98.6 202.3 98.3 203.0 97.8 203.7 97.3 204.3 96.7 204.8 96.2 205.3 95.6 205.8 95.0 206.1 94.4 206.4 93.8 206.7 93.2 206.9 92.5 207.1 91.9 207.2 91.3 207.3 90.7 207.3 90.1 207.3 89.5 207.3 89.0 207.2 88.4 207.0 87.9 206.8 87.5 206.4 87.1 206.0 86.8 205.5 86.5 205.0 86.4 204.5 86.2 204.0 86.1 203.6 86.0 203.2 85.9 202.8 85.9 202.4 85.8 202.1 85.7 201.7 85.7 201.4 85.7 201.0 85.7 200.7 85.7 200.4 85.7 200.0 85.7 199.7 85.8 199.3 85.8 198.9 85.8 198.5 85.8 198.1 85.8 197.6 85.8 196.9 85.8 196.3 86.1 195.8 86.6 195.6 87.1 195.5 87.7 195.5 88.2 195.5 88.6 195.5 89.1 195.5 89.5 195.6 90.0 195.6 90.4 195.7 90.9 195.8 91.3 195.9 91.7 196.0 92.2 196.2 92.6 196.3 93.0 196.5 93.5 196.7 94.0 197.0 94.5 197.2 95.1 197.5 95.8 197.8 96.7 198.1 97.6 198.5 98.3 199.2 98.6 199.9Z" fill="#282828"/>
<path d="M97.3 200.7 97.3 201.4 97.1 202.0 96.8 202.6 96.4 203.2 96.0 203.7 95.5 204.1 95.1 204.6 94.6 204.9 94.1 205.2 93.6 205.5 93.1 205.7 92.6 205.9 92.0 206.1 91.5 206.2 91.0 206.2 90.5 206.2 90.0 206.2 89.5 206.2 89.1 206.1 88.6 205.9 88.2 205.8 87.8 205.5 87.5 205.1 87.2 204.7 87.0 204.3 86.9 203.9 86.8 203.5 86.7 203.1 86.6 202.8 86.5 202.4 86.5 202.1 86.4 201.8 86.4 201.5 86.4 201.3 86.3 201.0 86.3 200.7 86.3 200.4 86.4 200.1 86.4 199.8 86.4 199.5 86.4 199.2 86.4 198.9 86.5 198.5 86.4 198.1 86.4 197.6 86.4 197.0 86.7 196.6 87.1 196.5 87.5 196.4 88.0 196.4 88.4 196.4 88.8 196.4 89.2 196.4 89.5 196.4 89.9 196.5 90.3 196.5 90.6 196.6 91.0 196.7 91.4 196.8 91.7 196.9 92.1 197.1 92.5 197.2 92.8 197.4 93.2 197.6 93.7 197.8 94.2 198.0 94.8 198.3 95.5 198.5 96.3 198.9 96.8 199.4 97.1 200.0Z" fill="#1f1f1f"/>
<path d="M95.7 200.7 95.7 201.2 95.6 201.8 95.4 202.3 95.0 202.7 94.7 203.1 94.3 203.5 94.0 203.8 93.6 204.1 93.2 204.3 92.8 204.5 92.4 204.7 91.9 204.9 91.5 205.0 91.1 205.1 90.7 205.1 90.3 205.1 89.9 205.1 89.5 205.1 89.2 205.0 88.8 204.9 88.5 204.7 88.2 204.5 87.9 204.2 87.7 203.9 87.5 203.6 87.4 203.2 87.3 202.9 87.3 202.6 87.2 202.3 87.1 202.1 87.1 201.8 87.0 201.6 87.0 201.4 87.0 201.1 87.0 200.9 87.0 200.7 87.0 200.5 87.0 200.2 87.0 200.0 87.0 199.8 87.0 199.5 87.1 199.3 87.1 199.0 87.1 198.6 87.0 198.2 87.1 197.7 87.3 197.5 87.6 197.3 87.9 197.3 88.3 197.2 88.6 197.2 88.9 197.2 89.2 197.3 89.5 197.3 89.8 197.3 90.1 197.4 90.4 197.4 90.7 197.5 91.0 197.6 91.3 197.7 91.6 197.8 91.9 197.9 92.2 198.1 92.5 198.2 92.9 198.4 93.3 198.6 93.7 198.7 94.3 199.0 94.9 199.3 95.4 199.7 95.6 200.2Z" fill="#181818"/>
<path d="M94.2 200.7 94.2 201.1 94.1 201.5 93.9 201.9 93.7 202.2 93.4 202.5 93.1 202.8 92.8 203.0 92.6 203.2 92.3 203.4 92.0 203.6 91.7 203.7 91.3 203.8 91.0 203.9 90.7 204.0 90.4 204.0 90.1 204.0 89.8 204.0 89.5 204.0 89.3 203.9 89.0 203.8 88.7 203.7 88.5 203.6 88.3 203.3 88.2 203.1 88.0 202.8 88.0 202.6 87.9 202.4 87.8 202.1 87.8 201.9 87.7 201.7 87.7 201.6 87.7 201.4 87.6 201.2 87.6 201.0 87.6 200.9 87.6 200.7 87.6 200.5 87.6 200.4 87.6 200.2 87.7 200.0 87.7 199.8 87.7 199.6 87.7 199.4 87.7 199.1 87.7 198.8 87.7 198.5 87.8 198.3 88.1 198.2 88.3 198.1 88.6 198.1 88.8 198.1 89.1 198.1 89.3 198.1 89.5 198.1 89.8 198.2 90.0 198.2 90.2 198.2 90.4 198.3 90.6 198.4 90.9 198.4 91.1 198.5 91.3 198.6 91.5 198.7 91.8 198.8 92.0 199.0 92.3 199.1 92.7 199.2 93.1 199.4 93.6 199.6 93.9 199.9 94.1 200.3Z" fill="#101010"/>
<path d="M92.6 200.7 92.6 201.0 92.6 201.2 92.5 201.5 92.3 201.7 92.1 201.9 91.9 202.1 91.7 202.2 91.6 202.4 91.4 202.5 91.2 202.6 91.0 202.7 90.7 202.8 90.5 202.8 90.3 202.9 90.1 202.9 89.9 202.9 89.7 202.9 89.5 202.9 89.4 202.8 89.2 202.8 89.0 202.7 88.8 202.6 88.7 202.5 88.6 202.3 88.5 202.1 88.5 202.0 88.4 201.8 88.4 201.7 88.4 201.5 88.3 201.4 88.3 201.3 88.3 201.2 88.3 201.0 88.3 200.9 88.3 200.8 88.3 200.7 88.3 200.6 88.3 200.5 88.3 200.4 88.3 200.2 88.3 200.1 88.3 200.0 88.3 199.8 88.3 199.7 88.3 199.4 88.3 199.2 88.4 199.1 88.6 199.0 88.7 199.0 88.9 199.0 89.1 199.0 89.2 199.0 89.4 199.0 89.5 199.0 89.7 199.0 89.8 199.0 90.0 199.1 90.1 199.1 90.3 199.1 90.4 199.2 90.6 199.2 90.7 199.3 90.9 199.4 91.0 199.5 91.2 199.5 91.4 199.6 91.6 199.7 91.9 199.8 92.2 200.0 92.5 200.2 92.6 200.4Z" fill="#0a0a0a"/>
<path d="M91.1 200.7 91.1 200.8 91.1 201.0 91.0 201.1 90.9 201.2 90.8 201.3 90.7 201.4 90.6 201.5 90.5 201.5 90.4 201.6 90.3 201.7 90.2 201.7 90.1 201.7 90.0 201.8 89.9 201.8 89.8 201.8 89.7 201.8 89.6 201.8 89.5 201.8 89.5 201.8 89.4 201.7 89.3 201.7 89.2 201.7 89.1 201.6 89.1 201.5 89.0 201.4 89.0 201.3 89.0 201.3 89.0 201.2 89.0 201.1 88.9 201.0 88.9 201.0 88.9 200.9 88.9 200.9 88.9 200.8 88.9 200.8 88.9 200.7 88.9 200.6 88.9 200.6 88.9 200.5 88.9 200.5 88.9 200.4 88.9 200.3 88.9 200.3 88.9 200.2 88.9 200.1 88.9 200.0 89.0 199.9 89.1 199.9 89.1 199.8 89.2 199.8 89.3 199.8 89.4 199.8 89.5 199.8 89.5 199.8 89.6 199.9 89.7 199.9 89.8 199.9 89.8 199.9 89.9 199.9 90.0 199.9 90.1 200.0 90.1 200.0 90.2 200.0 90.3 200.1 90.4 200.1 90.5 200.2 90.6 200.2 90.7 200.3 90.9 200.3 91.0 200.4 91.1 200.6Z" fill="#030303"/>
<ellipse cx="156.9" cy="145.0" rx="3.4" ry="5.8" fill="#000"/>
</g>
<line x1="61.8" y1="72.7" x2="240.8" y2="72.7" stroke="#c4c4c4" stroke-width="1.4" />
<line x1="240.8" y1="72.7" x2="240.8" y2="250.4" stroke="#8a8a8a" stroke-width="1.4" />
<line x1="61.8" y1="72.2" x2="61.8" y2="251.1" stroke="#111" stroke-width="1.4" />
<line x1="61.1" y1="250.7" x2="240.8" y2="250.7" stroke="#3a3a3a" stroke-width="1.7" />
<rect x="67.4" y="117.4" width="41.8" height="45.0" fill="none" stroke="#7676e4" stroke-width="1.3"/>
<rect x="139.4" y="118.6" width="40.1" height="100.2" fill="none" stroke="#7676e4" stroke-width="1.3"/>
<line x1="58.8" y1="88.0" x2="61.8" y2="88.0" stroke="#111" stroke-width="1.3" />
<text x="52.8" y="93.6" font-size="18" text-anchor="end">10<tspan font-size="12" dy="-7">5</tspan></text>
<line x1="58.8" y1="129.0" x2="61.8" y2="129.0" stroke="#111" stroke-width="1.3" />
<text x="52.8" y="134.6" font-size="18" text-anchor="end">10<tspan font-size="12" dy="-7">4</tspan></text>
<line x1="58.8" y1="169.5" x2="61.8" y2="169.5" stroke="#111" stroke-width="1.3" />
<text x="52.8" y="175.1" font-size="18" text-anchor="end">10<tspan font-size="12" dy="-7">3</tspan></text>
<line x1="58.8" y1="212.9" x2="61.8" y2="212.9" stroke="#111" stroke-width="1.3" />
<text x="52.8" y="218.5" font-size="18" text-anchor="end">10<tspan font-size="12" dy="-7">2</tspan></text>
<line x1="58.8" y1="232.4" x2="61.8" y2="232.4" stroke="#111" stroke-width="1.3" />
<text x="52.3" y="238.4" font-size="18" text-anchor="end">0</text>
<line x1="60.2" y1="116.7" x2="61.8" y2="116.7" stroke="#333" stroke-width="0.9" />
<line x1="60.2" y1="109.4" x2="61.8" y2="109.4" stroke="#333" stroke-width="0.9" />
<line x1="60.2" y1="104.3" x2="61.8" y2="104.3" stroke="#333" stroke-width="0.9" />
<line x1="60.2" y1="100.3" x2="61.8" y2="100.3" stroke="#333" stroke-width="0.9" />
<line x1="60.2" y1="97.1" x2="61.8" y2="97.1" stroke="#333" stroke-width="0.9" />
<line x1="60.2" y1="94.4" x2="61.8" y2="94.4" stroke="#333" stroke-width="0.9" />
<line x1="60.2" y1="92.0" x2="61.8" y2="92.0" stroke="#333" stroke-width="0.9" />
<line x1="60.2" y1="89.9" x2="61.8" y2="89.9" stroke="#333" stroke-width="0.9" />
<line x1="60.2" y1="157.3" x2="61.8" y2="157.3" stroke="#333" stroke-width="0.9" />
<line x1="60.2" y1="150.2" x2="61.8" y2="150.2" stroke="#333" stroke-width="0.9" />
<line x1="60.2" y1="145.1" x2="61.8" y2="145.1" stroke="#333" stroke-width="0.9" />
<line x1="60.2" y1="141.2" x2="61.8" y2="141.2" stroke="#333" stroke-width="0.9" />
<line x1="60.2" y1="138.0" x2="61.8" y2="138.0" stroke="#333" stroke-width="0.9" />
<line x1="60.2" y1="135.3" x2="61.8" y2="135.3" stroke="#333" stroke-width="0.9" />
<line x1="60.2" y1="132.9" x2="61.8" y2="132.9" stroke="#333" stroke-width="0.9" />
<line x1="60.2" y1="130.9" x2="61.8" y2="130.9" stroke="#333" stroke-width="0.9" />
<line x1="60.2" y1="199.8" x2="61.8" y2="199.8" stroke="#333" stroke-width="0.9" />
<line x1="60.2" y1="192.2" x2="61.8" y2="192.2" stroke="#333" stroke-width="0.9" />
<line x1="60.2" y1="186.8" x2="61.8" y2="186.8" stroke="#333" stroke-width="0.9" />
<line x1="60.2" y1="182.6" x2="61.8" y2="182.6" stroke="#333" stroke-width="0.9" />
<line x1="60.2" y1="179.1" x2="61.8" y2="179.1" stroke="#333" stroke-width="0.9" />
<line x1="60.2" y1="176.2" x2="61.8" y2="176.2" stroke="#333" stroke-width="0.9" />
<line x1="60.2" y1="173.7" x2="61.8" y2="173.7" stroke="#333" stroke-width="0.9" />
<line x1="60.2" y1="171.5" x2="61.8" y2="171.5" stroke="#333" stroke-width="0.9" />
<line x1="60.2" y1="78.0" x2="61.8" y2="78.0" stroke="#333" stroke-width="0.9" />
<line x1="60.2" y1="80.5" x2="61.8" y2="80.5" stroke="#333" stroke-width="0.9" />
<line x1="60.2" y1="83.0" x2="61.8" y2="83.0" stroke="#333" stroke-width="0.9" />
<line x1="60.2" y1="218.0" x2="61.8" y2="218.0" stroke="#333" stroke-width="0.9" />
<line x1="60.2" y1="222.0" x2="61.8" y2="222.0" stroke="#333" stroke-width="0.9" />
<line x1="60.2" y1="226.0" x2="61.8" y2="226.0" stroke="#333" stroke-width="0.9" />
<line x1="60.2" y1="238.0" x2="61.8" y2="238.0" stroke="#333" stroke-width="0.9" />
<line x1="60.2" y1="242.0" x2="61.8" y2="242.0" stroke="#333" stroke-width="0.9" />
<line x1="60.2" y1="246.0" x2="61.8" y2="246.0" stroke="#333" stroke-width="0.9" />
<line x1="100.2" y1="250.4" x2="100.2" y2="254.6" stroke="#111" stroke-width="1.3" />
<text x="103.2" y="274.6" font-size="18" text-anchor="middle">10<tspan font-size="12" dy="-7">2</tspan></text>
<line x1="141.3" y1="250.4" x2="141.3" y2="254.6" stroke="#111" stroke-width="1.3" />
<text x="142.7" y="274.6" font-size="18" text-anchor="middle">10<tspan font-size="12" dy="-7">3</tspan></text>
<line x1="184.6" y1="250.4" x2="184.6" y2="254.6" stroke="#111" stroke-width="1.3" />
<text x="184.7" y="274.6" font-size="18" text-anchor="middle">10<tspan font-size="12" dy="-7">4</tspan></text>
<line x1="224.3" y1="250.4" x2="224.3" y2="254.6" stroke="#111" stroke-width="1.3" />
<text x="226.4" y="274.6" font-size="18" text-anchor="middle">10<tspan font-size="12" dy="-7">5</tspan></text>
<line x1="79.0" y1="250.4" x2="79.0" y2="254.6" stroke="#111" stroke-width="1.3" />
<text x="80.1" y="274.6" font-size="18" text-anchor="middle">0</text>
<line x1="112.6" y1="250.4" x2="112.6" y2="252.0" stroke="#333" stroke-width="0.9" />
<line x1="119.8" y1="250.4" x2="119.8" y2="252.0" stroke="#333" stroke-width="0.9" />
<line x1="124.9" y1="250.4" x2="124.9" y2="252.0" stroke="#333" stroke-width="0.9" />
<line x1="128.9" y1="250.4" x2="128.9" y2="252.0" stroke="#333" stroke-width="0.9" />
<line x1="132.2" y1="250.4" x2="132.2" y2="252.0" stroke="#333" stroke-width="0.9" />
<line x1="134.9" y1="250.4" x2="134.9" y2="252.0" stroke="#333" stroke-width="0.9" />
<line x1="137.3" y1="250.4" x2="137.3" y2="252.0" stroke="#333" stroke-width="0.9" />
<line x1="139.4" y1="250.4" x2="139.4" y2="252.0" stroke="#333" stroke-width="0.9" />
<line x1="154.3" y1="250.4" x2="154.3" y2="252.0" stroke="#333" stroke-width="0.9" />
<line x1="162.0" y1="250.4" x2="162.0" y2="252.0" stroke="#333" stroke-width="0.9" />
<line x1="167.4" y1="250.4" x2="167.4" y2="252.0" stroke="#333" stroke-width="0.9" />
<line x1="171.6" y1="250.4" x2="171.6" y2="252.0" stroke="#333" stroke-width="0.9" />
<line x1="175.0" y1="250.4" x2="175.0" y2="252.0" stroke="#333" stroke-width="0.9" />
<line x1="177.9" y1="250.4" x2="177.9" y2="252.0" stroke="#333" stroke-width="0.9" />
<line x1="180.4" y1="250.4" x2="180.4" y2="252.0" stroke="#333" stroke-width="0.9" />
<line x1="182.6" y1="250.4" x2="182.6" y2="252.0" stroke="#333" stroke-width="0.9" />
<line x1="196.6" y1="250.4" x2="196.6" y2="252.0" stroke="#333" stroke-width="0.9" />
<line x1="203.5" y1="250.4" x2="203.5" y2="252.0" stroke="#333" stroke-width="0.9" />
<line x1="208.5" y1="250.4" x2="208.5" y2="252.0" stroke="#333" stroke-width="0.9" />
<line x1="212.3" y1="250.4" x2="212.3" y2="252.0" stroke="#333" stroke-width="0.9" />
<line x1="215.5" y1="250.4" x2="215.5" y2="252.0" stroke="#333" stroke-width="0.9" />
<line x1="218.2" y1="250.4" x2="218.2" y2="252.0" stroke="#333" stroke-width="0.9" />
<line x1="220.5" y1="250.4" x2="220.5" y2="252.0" stroke="#333" stroke-width="0.9" />
<line x1="222.5" y1="250.4" x2="222.5" y2="252.0" stroke="#333" stroke-width="0.9" />
<line x1="64.8" y1="250.4" x2="64.8" y2="252.0" stroke="#333" stroke-width="0.9" />
<line x1="68.8" y1="250.4" x2="68.8" y2="252.0" stroke="#333" stroke-width="0.9" />
<line x1="72.8" y1="250.4" x2="72.8" y2="252.0" stroke="#333" stroke-width="0.9" />
<line x1="83.8" y1="250.4" x2="83.8" y2="252.0" stroke="#333" stroke-width="0.9" />
<line x1="87.8" y1="250.4" x2="87.8" y2="252.0" stroke="#333" stroke-width="0.9" />
<line x1="91.8" y1="250.4" x2="91.8" y2="252.0" stroke="#333" stroke-width="0.9" />
<g clip-path="url(#clipA1)">
<path d="M355.9 196.8h1M302.1 174.8h1M311.6 147.5h1M304.7 174.1h1M311.5 163.2h1M326.7 132.5h1M350.1 225.3h1M308.1 166.7h1M326.0 131.7h1M303.7 169.7h1M310.8 167.1h1M298.8 184.8h1M309.7 137.0h1M335.8 138.0h1M339.7 249.8h1M363.1 193.2h1M360.8 200.8h1M338.8 129.1h1M311.0 163.6h1M302.1 174.0h1M310.4 152.3h1M310.5 166.4h1M362.8 188.3h1M313.7 162.9h1M301.1 187.0h1M303.2 130.0h1M308.2 170.8h1M298.9 188.3h1M309.1 144.8h1M358.2 171.3h1M298.2 198.3h1M307.5 172.9h1M321.6 129.8h1M350.2 232.1h1M299.7 182.6h1M315.1 161.1h1M333.2 138.7h1M333.3 138.1h1M345.8 137.0h1M348.5 236.4h1M332.4 139.1h1M359.9 171.1h1M302.5 250.1h1M311.8 166.0h1M356.3 213.0h1M328.5 136.7h1M347.9 138.2h1M297.0 200.3h1M345.7 240.3h1M307.6 171.1h1M309.0 138.5h1M306.6 165.7h1M296.3 186.3h1M342.0 139.0h1M307.2 161.0h1M321.9 133.7h1M345.8 167.5h1M308.6 169.0h1M317.8 130.7h1M309.4 144.2h1M328.0 136.4h1M340.8 242.1h1M298.1 200.0h1M353.1 153.2h1M306.1 173.0h1M352.4 149.1h1M311.9 164.9h1M331.8 138.2h1M301.4 213.2h1M356.1 195.7h1M298.9 182.5h1M349.8 226.8h1M354.3 171.0h1M309.5 134.2h1M300.0 179.3h1M299.9 182.9h1M303.8 141.5h1M308.4 144.1h1M335.4 144.7h1M363.1 181.6h1M305.8 172.8h1M358.2 211.5h1M312.7 168.8h1M313.2 136.6h1M355.9 192.6h1M325.7 135.8h1M357.4 212.2h1M360.4 201.4h1M309.9 155.1h1M340.1 140.8h1M303.8 189.3h1M345.2 241.7h1M318.9 134.9h1M310.3 167.8h1M304.3 172.0h1M301.7 184.1h1M345.2 243.6h1M318.3 143.9h1M316.9 158.6h1M337.8 143.2h1M326.7 134.3h1M356.9 210.5h1M342.7 138.4h1M302.5 210.7h1M295.6 232.6h1M353.3 142.5h1M351.4 160.3h1M361.9 186.4h1M306.9 144.1h1M322.9 131.9h1M347.7 225.7h1M332.7 139.6h1M351.0 233.8h1M310.5 172.5h1M360.2 209.4h1M311.5 136.2h1M352.3 144.8h1M301.6 223.7h1M300.7 227.4h1M300.9 192.3h1M352.9 170.7h1M331.1 136.9h1M313.3 130.7h1M310.4 158.6h1M299.4 205.0h1M354.1 144.2h1M357.5 166.2h1M336.4 140.0h1M328.6 135.5h1M353.8 141.7h1M295.7 180.9h1M347.0 231.7h1M364.5 171.6h1M309.7 158.4h1M362.1 191.0h1M352.2 156.0h1M355.8 168.8h1M351.5 161.2h1M350.1 221.1h1M357.5 208.9h1M359.6 217.8h1M301.2 230.1h1M352.9 226.1h1M351.5 151.9h1M308.8 161.7h1M318.0 150.4h1M307.3 175.5h1M346.7 234.6h1M344.5 246.4h1M294.3 239.8h1M299.2 198.8h1M318.2 138.0h1M344.0 243.9h1M304.3 182.7h1M317.4 155.2h1M309.7 145.0h1M367.6 175.9h1M305.1 176.0h1M361.9 194.9h1M344.2 243.5h1M324.5 136.6h1M360.2 206.0h1M304.5 245.6h1M347.9 234.5h1M333.6 144.8h1M308.0 171.0h1M363.3 201.1h1M296.1 207.5h1M304.1 245.5h1M335.0 136.3h1M354.8 215.4h1M332.0 138.0h1M318.1 138.5h1M308.4 146.4h1M356.2 216.3h1M298.0 244.7h1M317.5 134.4h1M353.0 218.6h1M332.8 140.9h1M344.7 134.9h1M355.6 168.1h1M310.5 142.8h1M349.0 236.0h1M325.6 131.0h1M302.2 241.1h1M310.6 160.4h1M363.1 203.8h1M321.4 132.7h1M330.9 137.4h1M307.0 150.4h1M312.5 156.2h1M354.9 222.3h1M310.9 163.9h1M312.6 133.7h1M350.0 231.8h1M301.1 204.3h1M360.3 209.4h1M355.2 222.1h1M362.9 187.5h1M312.5 129.2h1M310.3 147.0h1M340.1 136.8h1M354.4 215.6h1M353.5 215.2h1M310.3 166.9h1M310.8 156.0h1M309.7 155.4h1M355.5 211.4h1M310.1 136.1h1M307.8 167.8h1M351.5 159.0h1M305.5 187.6h1M301.0 234.3h1M363.9 191.0h1M355.5 174.8h1M353.2 147.2h1M300.6 238.7h1M300.8 175.4h1M359.5 206.8h1M310.5 170.1h1M310.2 140.9h1M313.0 168.6h1M308.9 138.2h1M351.7 143.0h1M352.2 219.4h1M353.1 218.5h1M310.6 164.8h1M350.4 227.6h1M306.8 152.4h1M313.8 133.3h1M356.0 171.3h1M351.2 152.0h1M359.1 178.6h1M318.3 131.8h1M365.6 203.8h1M299.2 222.1h1M358.6 206.3h1M362.8 195.0h1M352.8 159.2h1M298.7 226.7h1M354.3 156.4h1M300.9 183.3h1M310.1 136.4h1M344.5 147.8h1M316.6 130.8h1M311.3 164.6h1M349.8 135.1h1M299.8 184.3h1M350.4 166.0h1M329.9 138.5h1M363.3 184.6h1M346.9 239.1h1M316.9 168.3h1M362.8 205.8h1M301.9 189.8h1M355.5 219.6h1M348.4 138.8h1M306.7 142.7h1M364.4 161.4h1M350.3 228.0h1M362.6 190.3h1M334.1 137.7h1M359.4 206.8h1M357.1 170.6h1M358.7 207.0h1M347.8 234.7h1M332.4 139.1h1M368.0 190.3h1M352.6 160.2h1M307.8 219.0h1M348.6 139.9h1M309.3 167.9h1M310.2 164.9h1M350.2 144.7h1M348.3 242.1h1M337.1 134.1h1M365.6 187.6h1M304.5 169.3h1M350.8 164.1h1M298.2 224.7h1M329.3 138.5h1M295.3 184.0h1M297.6 196.6h1M351.9 141.3h1M309.9 156.2h1M356.4 209.6h1M298.1 209.4h1M338.7 133.4h1M353.8 142.6h1M355.5 165.4h1M306.2 172.4h1M349.4 225.3h1M349.7 238.2h1M328.3 138.8h1M299.4 181.6h1M308.2 128.3h1M346.0 234.9h1M297.4 197.8h1M336.7 141.0h1M298.7 217.1h1M319.2 147.2h1M308.2 147.8h1M311.0 163.4h1M306.3 171.9h1M356.8 221.9h1M307.5 172.0h1M365.0 184.5h1M368.7 196.7h1M303.8 175.7h1M344.7 138.2h1M361.4 183.6h1M301.8 234.6h1M310.1 151.0h1M353.4 142.3h1M307.3 138.8h1M301.1 208.0h1M303.0 181.9h1M347.5 142.7h1M315.9 165.8h1M316.2 130.7h1M348.4 229.6h1M352.1 158.7h1M339.2 248.4h1M314.3 132.4h1M348.4 229.1h1M309.2 170.1h1M359.7 181.0h1M345.1 145.8h1M351.5 159.5h1M355.5 138.8h1M361.0 169.8h1M302.0 235.9h1M298.9 209.4h1M353.4 216.8h1M332.9 138.5h1M308.6 172.8h1M304.2 176.7h1M310.1 157.5h1M311.7 132.7h1M295.5 178.4h1M354.2 169.6h1M305.6 174.2h1M355.3 165.1h1M335.8 137.9h1M305.7 173.7h1M324.5 136.5h1M348.9 138.8h1M356.3 204.3h1M319.2 131.3h1M322.0 131.6h1M315.6 152.7h1M366.1 193.6h1M301.2 225.4h1M353.7 155.7h1M307.1 172.6h1M357.2 195.7h1M300.6 228.6h1M311.0 153.2h1M353.2 225.7h1M344.8 239.1h1M309.7 150.4h1M314.2 129.7h1M345.0 241.2h1M354.5 174.0h1M349.5 146.3h1M352.8 213.1h1M302.1 238.2h1M324.6 132.2h1M301.3 183.4h1M309.9 159.4h1M350.3 162.7h1M308.7 135.7h1M351.2 220.7h1M353.3 151.3h1M360.9 204.1h1M309.1 159.2h1M301.3 242.9h1M350.9 154.1h1M355.8 167.5h1M351.0 138.5h1M357.7 173.1h1M301.9 228.5h1M305.8 173.3h1M359.9 173.0h1M321.3 121.2h1M313.5 126.2h1M305.6 175.7h1M299.1 195.7h1M310.6 152.9h1M334.4 138.6h1M300.6 250.1h1M354.2 182.0h1M329.5 144.1h1M304.6 244.1h1M302.5 242.9h1M353.4 212.8h1M312.6 131.1h1M306.6 166.7h1M344.1 139.2h1M356.0 214.6h1M352.1 222.1h1M360.7 176.6h1M302.6 238.6h1M334.9 139.6h1M363.0 195.7h1M305.8 144.2h1M363.3 208.3h1M361.4 180.2h1M297.4 141.4h1M310.0 161.9h1M296.4 165.3h1M324.8 131.5h1M343.8 244.2h1M340.2 245.2h1M300.1 182.4h1M354.8 213.7h1M298.0 191.1h1M357.9 146.9h1M350.9 140.5h1M360.8 180.9h1M310.1 154.8h1M350.0 138.4h1M349.2 136.3h1M311.8 165.2h1M365.0 193.2h1M327.3 133.6h1M300.8 227.0h1M336.5 244.8h1M326.1 140.8h1M311.7 163.5h1M317.3 131.0h1M357.8 194.8h1M310.7 183.7h1M330.6 143.9h1M300.3 224.8h1M308.3 179.4h1M355.5 214.1h1M349.9 167.4h1M312.8 250.0h1M345.2 240.8h1M352.0 222.8h1M351.3 163.2h1M310.4 160.9h1M352.6 144.9h1M349.9 165.5h1M367.6 197.1h1M312.1 160.3h1M298.1 216.6h1M353.6 140.0h1M306.9 168.3h1M354.2 216.6h1M315.5 130.3h1M354.9 167.8h1M355.5 157.9h1M351.1 225.8h1M305.5 172.2h1M354.9 169.3h1M356.9 186.4h1M311.1 169.5h1M310.1 139.8h1M351.3 166.9h1M365.4 158.9h1M351.2 225.4h1M352.1 139.2h1M312.5 161.3h1M313.3 133.8h1M304.2 173.2h1M352.8 143.9h1M354.9 148.0h1M299.4 176.6h1M299.3 189.4h1M309.6 163.1h1M298.9 195.4h1M309.5 139.0h1M308.3 126.1h1M327.1 136.1h1M300.7 182.2h1M299.0 182.8h1M308.9 149.1h1M346.2 238.1h1M352.6 165.2h1M320.9 139.3h1M363.2 190.5h1M351.1 144.6h1M362.4 180.1h1M356.4 167.5h1M349.8 223.3h1M354.2 214.4h1M355.1 214.9h1M312.4 137.4h1M350.2 139.2h1M349.0 226.1h1M354.0 220.7h1M334.5 142.7h1M355.2 145.0h1M349.8 147.8h1M309.9 138.0h1M311.2 169.6h1M308.8 145.7h1M303.4 237.4h1M301.5 179.7h1M353.2 143.1h1M310.8 164.1h1M304.1 173.1h1M316.8 130.7h1M356.6 168.1h1M332.2 147.4h1M319.1 130.9h1M339.7 141.7h1M294.5 179.2h1M332.9 137.9h1M298.8 200.5h1M311.7 155.6h1M309.6 141.6h1M310.7 171.3h1M356.4 173.6h1M298.8 178.7h1M304.5 152.2h1M318.1 138.0h1M308.8 165.4h1M357.7 171.5h1M309.5 163.5h1M298.0 205.2h1M329.3 138.6h1M338.4 140.0h1M329.7 138.6h1M324.8 132.5h1M350.0 230.5h1M350.2 228.2h1M299.6 181.1h1M352.0 149.9h1M350.0 148.0h1M349.1 228.2h1M357.7 208.0h1M302.3 150.2h1M321.9 134.8h1M347.3 238.3h1M353.8 139.7h1M359.0 169.1h1M314.9 166.5h1M309.8 156.0h1M356.6 174.9h1M300.6 227.8h1M296.9 195.7h1M320.8 145.1h1M359.4 172.1h1M296.5 219.4h1M361.9 180.8h1M316.8 131.5h1M349.7 148.7h1M352.6 138.5h1M303.6 174.4h1M346.5 239.9h1M314.2 167.1h1M307.2 157.1h1M300.3 229.3h1M340.2 140.3h1M308.2 150.8h1M303.3 131.4h1M352.0 162.1h1M311.1 133.3h1M348.4 151.8h1M295.7 193.0h1M309.6 153.9h1M360.0 212.4h1M294.1 227.9h1M356.3 176.5h1M300.1 198.1h1M364.5 194.5h1M343.9 245.0h1M356.6 169.8h1M352.6 161.5h1M298.0 185.4h1M304.6 164.7h1M362.6 184.7h1M333.3 248.7h1M348.9 154.5h1M353.1 144.2h1M309.6 159.0h1M357.0 213.2h1M323.9 132.4h1M299.7 219.3h1M310.3 219.2h1M311.9 129.3h1M353.5 148.3h1M298.9 192.9h1M295.8 181.2h1M357.2 138.1h1M380.5 203.8h1M301.6 198.3h1M311.1 137.3h1M349.5 230.9h1M346.2 238.9h1M327.5 134.8h1M360.1 199.1h1M334.7 142.0h1M348.1 150.3h1M353.6 219.4h1M297.8 188.6h1M301.6 176.2h1M312.1 138.5h1M371.1 184.5h1M363.7 184.3h1M327.4 125.9h1M314.6 129.5h1M351.4 225.4h1M339.8 223.8h1M311.2 165.8h1M354.2 157.4h1M326.5 122.3h1M351.3 209.7h1M356.6 189.8h1M301.1 194.0h1M310.6 136.5h1M351.1 143.5h1M324.8 132.8h1M308.8 165.0h1M349.2 157.7h1M302.4 176.1h1M336.3 138.8h1M302.6 159.9h1M351.2 158.7h1M347.5 233.3h1M312.5 155.0h1M314.6 164.7h1M328.0 127.7h1M309.9 165.7h1M360.5 199.6h1M305.8 155.6h1M362.3 195.4h1M353.9 140.1h1M361.0 209.9h1M345.0 244.1h1M360.4 203.1h1M295.0 193.7h1M360.8 194.6h1M350.0 149.2h1M305.4 200.0h1M309.4 137.3h1M317.6 165.9h1M316.3 150.0h1M311.1 168.5h1M321.7 130.2h1M327.9 137.0h1M358.6 145.6h1M356.3 162.9h1M362.9 184.5h1M362.3 183.4h1M298.4 173.8h1M310.2 165.6h1M299.5 221.3h1M296.7 186.9h1M353.4 150.4h1M350.1 153.1h1M328.5 137.4h1M312.9 129.4h1M345.9 232.0h1M315.4 169.8h1M350.4 172.5h1M297.1 144.3h1M362.5 201.6h1M344.0 246.5h1M357.7 142.7h1M356.5 173.1h1M308.4 170.3h1M334.6 142.7h1M323.9 134.9h1M351.3 169.4h1M298.3 183.0h1M359.2 198.4h1M320.8 137.1h1M361.6 180.3h1M346.3 138.4h1M297.9 206.7h1M351.4 235.5h1M304.7 237.7h1M351.9 160.0h1M355.4 198.8h1M347.7 230.7h1M351.1 170.9h1M358.7 167.8h1M352.8 139.6h1M359.8 174.7h1M312.0 134.0h1M321.9 134.5h1M324.1 127.2h1M309.9 165.1h1M308.7 171.3h1M307.2 172.5h1M361.7 198.1h1M312.7 138.8h1M358.4 172.9h1M357.1 172.3h1M352.4 233.0h1M353.9 152.5h1M344.9 242.4h1M341.7 137.8h1M300.8 236.3h1M330.3 136.3h1M302.9 175.9h1M316.5 127.7h1M351.9 155.5h1M299.0 210.8h1M310.3 152.2h1M299.2 196.6h1M306.2 180.8h1M310.0 170.2h1M361.9 202.2h1M309.5 154.4h1M297.4 199.0h1M312.2 150.9h1M354.8 172.6h1M304.8 248.0h1M295.5 198.3h1M351.2 226.7h1M355.7 169.8h1M347.1 143.9h1M349.3 234.0h1M353.2 226.7h1M353.4 139.9h1M357.3 164.0h1M301.6 169.0h1M305.2 250.2h1M344.3 248.9h1M309.3 167.2h1M342.8 140.2h1M355.1 142.3h1M358.5 206.5h1M341.0 151.4h1M312.1 166.2h1M356.2 139.4h1M345.9 247.5h1M322.5 142.1h1M351.9 158.7h1M357.5 224.2h1M306.4 151.9h1M345.7 239.8h1M298.3 191.5h1M309.3 155.0h1M317.0 131.3h1M297.6 199.5h1M299.4 223.1h1M353.3 213.2h1M317.1 131.0h1M352.7 158.9h1M319.0 125.3h1M358.0 222.8h1M312.4 130.6h1M366.1 208.3h1M354.1 170.4h1M351.4 161.3h1M310.3 138.5h1M301.7 230.0h1M353.7 164.7h1M301.2 204.5h1M355.1 175.0h1M297.2 172.3h1M306.8 180.1h1M360.3 166.1h1M364.3 191.0h1M354.6 138.3h1M343.3 250.0h1M363.2 191.1h1M352.7 140.4h1M363.3 189.8h1M318.6 128.4h1M355.6 166.3h1M308.3 148.1h1M300.1 237.6h1M299.7 176.0h1M361.9 159.2h1M346.4 137.7h1M361.6 198.1h1M309.2 137.6h1M306.6 157.2h1M305.9 124.2h1M332.9 140.1h1M359.2 206.0h1M321.2 129.5h1M330.1 137.7h1M320.9 131.4h1M305.5 169.3h1M361.8 203.8h1M314.7 131.4h1M354.2 216.9h1M364.7 210.7h1M303.5 239.0h1M333.7 135.5h1M366.9 181.7h1M297.2 202.7h1M326.7 167.0h1M298.3 198.6h1M301.2 176.0h1M343.8 248.0h1M357.3 220.3h1M353.1 152.9h1M360.7 205.1h1M302.8 173.5h1M353.2 215.9h1M363.3 197.7h1M329.5 132.4h1M350.8 167.0h1M346.6 196.2h1M298.9 222.4h1M344.5 246.7h1M352.6 219.1h1M347.5 147.7h1M337.7 242.0h1M355.1 211.7h1M301.0 192.6h1M311.6 132.3h1M347.5 235.6h1M355.9 169.4h1M355.5 211.6h1M351.9 148.8h1M308.2 202.3h1M317.6 132.4h1M366.4 188.8h1M362.6 175.7h1M351.7 159.2h1M310.3 153.8h1M347.9 160.2h1M345.5 240.6h1M313.2 187.6h1M355.2 168.6h1M298.9 185.2h1M336.4 187.6h1M301.3 214.2h1M352.5 164.2h1M352.7 159.9h1M302.1 239.1h1M353.4 152.3h1M335.9 142.5h1M358.4 165.8h1M325.2 132.1h1M310.8 162.7h1M329.9 137.5h1M298.9 221.3h1M315.8 133.7h1M347.6 184.0h1M324.7 138.6h1M345.2 237.6h1M347.4 141.4h1M346.3 241.8h1M359.4 138.5h1M354.6 215.7h1M311.0 137.3h1M314.2 131.6h1M362.5 147.2h1M344.6 162.2h1M344.6 237.7h1M360.2 175.3h1M355.6 168.4h1M329.9 135.8h1M358.2 173.8h1M322.7 131.1h1M353.1 164.3h1M356.0 209.9h1M317.3 132.1h1M309.2 131.7h1M301.3 179.3h1M308.7 180.0h1M331.8 137.9h1M325.6 138.1h1M298.8 218.2h1M307.1 176.7h1M309.4 144.3h1M297.9 198.0h1M361.2 200.5h1M344.6 241.3h1M353.1 166.1h1M369.3 138.9h1M339.0 158.5h1M363.1 149.7h1M357.8 162.0h1M350.9 135.2h1M345.0 148.0h1M351.5 148.6h1M353.8 152.0h1M357.8 133.7h1M363.9 130.4h1M367.6 145.7h1M341.1 126.0h1M360.2 137.1h1M371.5 173.7h1M373.7 165.8h1M368.1 141.4h1M367.8 144.1h1M357.7 129.0h1M358.5 157.8h1M357.6 133.2h1M364.8 166.1h1M357.4 164.0h1M365.4 135.2h1M357.8 120.8h1M350.3 158.2h1M351.5 157.6h1M356.7 140.1h1M369.4 152.5h1M359.1 136.7h1M370.0 150.4h1M352.4 176.4h1M360.3 143.7h1M364.8 142.0h1M356.8 167.1h1M348.9 147.6h1M357.2 156.8h1M349.8 132.0h1M355.4 135.6h1M358.8 148.8h1M359.0 153.5h1M349.3 144.5h1M359.3 171.2h1M360.0 151.3h1M373.3 143.2h1M368.0 161.4h1M348.6 150.2h1M363.8 131.3h1M368.6 142.2h1M361.2 147.1h1M360.9 138.2h1M369.7 137.3h1M370.4 145.4h1M350.8 163.9h1M358.5 145.6h1M348.5 146.0h1M356.6 136.4h1M348.3 134.6h1M349.5 168.1h1M363.9 142.2h1M349.4 148.1h1M361.1 140.1h1M356.3 167.3h1M355.4 143.4h1M366.8 148.6h1M357.0 134.3h1M365.3 154.0h1M355.0 148.1h1M367.9 148.5h1M356.2 152.2h1M358.1 166.2h1M355.2 143.0h1M352.0 152.5h1M347.4 141.3h1M345.5 148.1h1M355.7 146.4h1M353.2 135.4h1M361.2 141.6h1M357.5 149.8h1M361.7 135.3h1M349.5 156.7h1M354.2 159.8h1M354.2 129.6h1M363.6 155.6h1M363.6 145.6h1M355.3 172.1h1M345.2 180.0h1M361.9 150.3h1M358.7 161.2h1M352.2 155.8h1M350.8 120.7h1M359.5 152.9h1M362.9 160.4h1M363.3 164.3h1M350.0 171.3h1M378.3 141.9h1M348.4 162.6h1M365.0 167.9h1M369.7 128.3h1M360.9 158.9h1M367.5 136.5h1M358.2 145.1h1M356.8 148.8h1M356.8 122.0h1M357.7 152.3h1M353.5 162.2h1M362.6 205.7h1M350.6 159.1h1M353.4 175.8h1M366.4 149.2h1M362.6 138.0h1M346.0 165.2h1M370.4 146.2h1M354.0 121.6h1M374.3 131.4h1M350.6 148.0h1M367.2 152.1h1M357.8 151.6h1M364.4 150.6h1M359.2 150.0h1M349.5 173.5h1M352.7 129.4h1M354.7 151.8h1M364.2 126.9h1M348.3 154.2h1M360.9 133.1h1M349.4 154.1h1M356.9 124.4h1M351.3 175.8h1M349.9 168.6h1M346.3 175.8h1M370.2 140.7h1M352.8 161.6h1M348.6 160.4h1M367.2 155.6h1M360.4 148.6h1M365.6 137.7h1M370.1 150.8h1M355.5 124.2h1M354.6 155.2h1M367.4 124.5h1M357.0 139.9h1M348.9 151.3h1M352.2 165.6h1M337.5 163.4h1M343.5 118.9h1M363.7 176.7h1M350.5 166.3h1M346.5 140.8h1M354.4 174.8h1M348.9 172.3h1M347.1 152.2h1M364.1 150.9h1M374.0 152.3h1M347.2 147.5h1M365.7 120.9h1M341.1 183.2h1M348.6 168.1h1M361.5 137.6h1M351.6 158.8h1M353.7 165.5h1M359.5 146.5h1M371.3 149.3h1M347.9 142.6h1M354.0 177.9h1M363.2 139.7h1M352.6 151.3h1M357.9 183.5h1M352.8 137.2h1M354.9 143.1h1M365.1 151.6h1M353.7 146.4h1M351.5 147.4h1M357.0 178.2h1M350.0 172.1h1M357.9 135.2h1M372.2 157.5h1M348.5 144.3h1M354.2 132.1h1M358.8 150.0h1M368.2 146.7h1M344.2 171.0h1M366.0 137.7h1M368.5 152.6h1M349.6 162.5h1M359.9 143.6h1M361.6 139.4h1M357.9 155.8h1M362.6 159.3h1M340.3 144.1h1M360.9 163.2h1M350.4 168.1h1M351.1 170.7h1M359.3 155.2h1M347.3 138.5h1M359.5 155.1h1M356.6 145.9h1M368.3 139.9h1M362.1 165.5h1M361.0 153.6h1M348.7 178.3h1M368.6 136.4h1M351.5 134.6h1M346.9 149.6h1M350.4 151.6h1M361.3 139.3h1M348.5 165.1h1M364.7 147.8h1M351.0 158.0h1M359.7 166.2h1M359.2 140.9h1M351.8 153.1h1M346.5 137.8h1M364.5 163.9h1M362.1 173.2h1M355.6 140.7h1M358.7 165.1h1M350.4 181.9h1M367.4 130.5h1M351.4 162.5h1M360.5 168.7h1M361.1 149.0h1M354.0 157.9h1M361.6 139.7h1M355.5 151.7h1M354.7 132.8h1M361.8 126.2h1M357.7 138.4h1M357.9 173.5h1M374.9 163.0h1M356.3 132.3h1M356.0 156.3h1M345.7 141.7h1M360.5 156.3h1M354.6 134.1h1M360.0 134.8h1M373.2 147.5h1M353.9 169.7h1M350.9 141.9h1M362.8 127.8h1M360.4 139.8h1M348.5 150.6h1M356.8 149.7h1M361.1 134.6h1M366.0 178.5h1M346.3 141.8h1M357.3 128.2h1M360.2 148.4h1M355.7 159.8h1M354.5 142.5h1M362.0 152.8h1M362.3 169.5h1M349.8 156.3h1M367.2 152.8h1M357.9 158.4h1M362.0 154.5h1M354.3 157.0h1M353.6 153.5h1M375.6 169.9h1M367.4 163.3h1M358.3 132.3h1M361.3 145.3h1M354.9 115.9h1M362.7 136.9h1M343.3 148.9h1M353.7 159.9h1M363.0 153.4h1M369.0 180.6h1M355.4 165.6h1M369.4 147.2h1M354.7 154.4h1M353.8 161.5h1M365.4 145.7h1M363.9 149.0h1M373.4 161.6h1M369.8 164.4h1M352.9 143.6h1M362.0 136.1h1M367.6 149.1h1M374.3 138.1h1M349.7 169.0h1M356.4 127.4h1M369.4 154.9h1M358.3 140.4h1M360.3 154.7h1M354.5 149.1h1M362.5 137.3h1M370.3 150.5h1M353.6 155.8h1M348.7 161.3h1M368.2 124.6h1M357.2 154.4h1M352.1 129.6h1M349.8 127.5h1M362.0 129.9h1M359.7 143.5h1M368.5 143.1h1M361.8 156.8h1M353.9 140.3h1M363.6 146.1h1M349.1 153.0h1M363.9 146.1h1M367.4 134.6h1M341.4 134.5h1M367.3 132.9h1M355.8 149.8h1M360.0 174.7h1M366.0 167.1h1M353.7 164.6h1M364.4 122.9h1M357.8 133.3h1M336.5 140.4h1M367.2 141.1h1M372.3 168.1h1M361.6 153.6h1M355.3 142.1h1M358.2 126.1h1M366.3 182.3h1M369.0 151.0h1M371.5 147.9h1M344.1 156.4h1M368.8 141.6h1M364.3 159.2h1M355.9 136.1h1M362.1 167.0h1M363.4 165.7h1M367.9 166.7h1M362.0 188.8h1M366.3 165.8h1M354.8 142.6h1M351.3 136.3h1M354.3 144.2h1M343.7 155.8h1M353.8 142.9h1M350.1 180.5h1M366.1 157.4h1M350.0 149.8h1M361.5 151.4h1M362.5 136.0h1M355.8 168.7h1M360.9 153.4h1M364.0 126.7h1M360.1 164.8h1M363.8 157.9h1M345.4 147.6h1M343.3 150.0h1M367.7 151.0h1M361.9 153.6h1M356.1 143.5h1M360.0 148.0h1M381.5 169.8h1M349.9 162.8h1M354.8 146.5h1M354.2 164.8h1M357.0 122.5h1M356.3 141.4h1M341.6 160.0h1M361.2 164.8h1M354.9 134.1h1M343.7 145.5h1M366.4 163.8h1M352.8 176.5h1M356.2 134.6h1M365.4 174.1h1M355.0 131.0h1M352.9 123.5h1M356.3 186.7h1M350.6 189.2h1M340.3 129.3h1M367.8 132.1h1M352.2 164.5h1M346.3 135.7h1M344.0 168.9h1M359.9 170.8h1M360.8 159.2h1M357.4 156.2h1M348.4 141.5h1M347.2 169.2h1M347.0 144.1h1M363.8 158.8h1M362.4 152.5h1M360.4 144.0h1M351.9 142.1h1M350.8 121.7h1M367.3 113.8h1M339.9 180.4h1M358.4 138.0h1M353.6 168.9h1M359.9 145.0h1M366.7 135.7h1M351.5 141.9h1M352.3 162.6h1M356.2 133.8h1M375.8 155.9h1M362.8 179.6h1M353.5 157.9h1M365.9 152.6h1M355.9 148.0h1M364.2 152.2h1M367.2 132.6h1M357.6 168.0h1M347.7 164.2h1M356.4 166.3h1M352.4 150.9h1M346.6 163.0h1M355.4 151.1h1M352.2 168.6h1M358.8 167.5h1M351.3 145.5h1M364.3 181.9h1M373.0 165.6h1M365.9 163.0h1M350.5 146.5h1M346.9 126.9h1M356.8 156.5h1M362.8 183.4h1M347.7 135.2h1M352.8 160.6h1M354.4 131.4h1M361.8 146.2h1M351.6 172.3h1M365.0 141.0h1M358.8 143.5h1M353.6 139.9h1M355.8 138.2h1M360.3 163.3h1M356.0 125.6h1M364.6 142.4h1M370.6 163.2h1M357.5 177.4h1M349.8 152.5h1M363.3 153.5h1M357.9 132.9h1M368.1 131.0h1M336.9 141.3h1M365.6 151.5h1M355.5 150.1h1M360.9 144.4h1M352.7 144.9h1M351.7 163.7h1M356.8 161.0h1M352.7 131.2h1M375.7 172.8h1M362.2 158.5h1M356.6 166.6h1M341.7 153.4h1M365.9 164.0h1M353.8 142.3h1M352.9 165.3h1M367.9 132.6h1M355.1 152.0h1M349.2 174.9h1M351.1 157.8h1M356.6 147.6h1M351.1 131.1h1M363.9 162.4h1M361.6 141.1h1M351.1 148.4h1M350.8 145.9h1M348.4 182.4h1M350.9 154.5h1M362.8 139.5h1M356.0 141.9h1M352.2 147.8h1M364.1 143.1h1M367.3 145.0h1M352.8 168.8h1M368.5 140.6h1M362.4 132.2h1M354.9 145.1h1M363.3 130.7h1M354.1 140.0h1M358.7 131.1h1M347.9 197.4h1M359.6 126.6h1M364.2 129.7h1M343.8 178.5h1M367.3 137.5h1M349.8 159.0h1M373.2 161.0h1M362.9 131.9h1M344.6 157.5h1M365.5 153.5h1M357.9 173.8h1M351.7 169.1h1M393.0 151.2h1M387.7 164.1h1M391.2 145.0h1M385.1 163.8h1M387.0 162.6h1M388.7 158.8h1M383.1 180.4h1M382.0 156.6h1M380.2 142.0h1M390.2 161.5h1M385.8 170.2h1M385.5 174.2h1M400.3 168.4h1M384.8 191.4h1M392.1 132.9h1M396.7 165.9h1M393.2 141.9h1M380.5 150.8h1M390.9 142.4h1M381.5 179.0h1M382.0 164.3h1M380.1 132.3h1M386.2 160.1h1M376.2 179.3h1M392.9 177.8h1M383.0 142.0h1M386.1 165.1h1M385.5 151.9h1M379.4 149.3h1M386.2 153.6h1M399.2 157.4h1M390.2 154.0h1M385.4 145.1h1M383.2 135.9h1M371.4 185.7h1M379.0 169.8h1M385.9 152.2h1M392.2 152.4h1M390.0 155.7h1M394.0 179.0h1M387.3 181.4h1M390.6 189.5h1M385.9 135.1h1M388.4 166.4h1M384.1 158.6h1M384.8 140.2h1M399.5 148.6h1M378.9 134.5h1M380.6 161.5h1M397.7 172.7h1M381.4 140.4h1M378.5 160.8h1M393.2 153.8h1M398.7 196.0h1M388.0 124.3h1M394.9 160.5h1M391.7 179.5h1M379.4 163.3h1M388.1 149.0h1M391.9 159.9h1M383.8 195.1h1M388.0 190.8h1M385.7 180.3h1M381.2 164.8h1M394.8 124.2h1M390.8 157.4h1M394.9 165.3h1M386.2 139.8h1M408.5 149.3h1M384.4 149.5h1M384.6 166.0h1M376.9 180.7h1M384.9 172.7h1M371.2 153.1h1M384.6 155.4h1M381.9 167.6h1M389.8 145.0h1M372.3 174.9h1M384.4 180.9h1M393.2 160.3h1M376.2 155.9h1M381.4 183.9h1M374.3 178.2h1M375.4 152.2h1M376.3 150.0h1M383.5 168.7h1M382.4 174.2h1M399.7 165.0h1M378.3 159.1h1M386.0 155.9h1M395.3 182.4h1M401.6 171.3h1M367.1 159.9h1M391.7 148.1h1M382.3 178.1h1M387.8 142.5h1M374.4 159.7h1M376.9 163.1h1M371.3 182.3h1M396.6 160.4h1M383.5 159.2h1M370.9 145.8h1M387.4 193.0h1M386.5 190.5h1M384.8 185.8h1M387.1 157.7h1M391.8 143.9h1M387.1 177.5h1M375.1 152.4h1M388.1 168.3h1M388.1 187.4h1M376.3 179.6h1M385.8 145.3h1M383.2 156.9h1M378.4 145.9h1M387.8 188.6h1M399.8 198.8h1M370.5 150.3h1M384.3 151.4h1M385.7 137.7h1M378.4 181.2h1M387.5 135.3h1M390.7 207.6h1M393.6 152.0h1M408.3 137.0h1M384.1 171.9h1M387.1 182.9h1M390.2 172.6h1M386.7 158.8h1M380.9 150.4h1M385.4 148.8h1M381.6 163.9h1M401.9 165.8h1M382.6 173.3h1M393.5 155.4h1M382.8 159.7h1M373.7 181.4h1M393.1 132.8h1M391.5 155.6h1M390.6 165.3h1M381.3 144.0h1M378.7 182.9h1M388.8 186.2h1M383.2 167.1h1M387.6 151.0h1M390.8 133.5h1M379.2 169.8h1M388.0 171.6h1M384.4 146.0h1M380.1 155.6h1M386.4 172.8h1M387.4 143.2h1M395.6 191.9h1M389.9 172.8h1M392.2 181.3h1M387.1 157.8h1M397.3 149.6h1M390.7 145.9h1M383.7 165.3h1M385.6 198.3h1M383.3 199.7h1M395.3 127.4h1M391.8 176.7h1M390.1 148.9h1M386.9 165.9h1M377.5 157.5h1M388.2 175.7h1M383.7 154.1h1M390.3 126.9h1M383.3 166.8h1M381.1 155.8h1M396.2 179.4h1M381.2 157.0h1M387.0 190.9h1M392.9 153.9h1M382.2 155.8h1M377.1 167.3h1M383.3 185.1h1M384.6 160.8h1M392.6 174.8h1M392.5 180.2h1M378.0 148.4h1M394.6 146.1h1M387.3 153.5h1M399.0 132.7h1M374.9 144.0h1M379.1 156.3h1M391.4 179.5h1M383.8 131.3h1M394.0 148.9h1M393.7 156.4h1M394.7 164.4h1M374.2 154.4h1M387.0 166.2h1M386.0 150.8h1M392.6 143.7h1M392.8 178.6h1M387.6 149.6h1M389.3 160.5h1M392.9 181.5h1M382.2 140.5h1M391.3 156.7h1M395.8 168.5h1M382.3 176.6h1M374.4 184.8h1M384.3 189.0h1M381.2 156.2h1M391.8 155.0h1M385.3 173.3h1M383.3 136.1h1M384.3 168.9h1M381.2 153.1h1M376.3 154.1h1M389.1 162.3h1M393.2 129.6h1M391.4 168.8h1M374.0 177.3h1M380.0 203.9h1M400.6 183.2h1M396.4 170.7h1M398.7 157.2h1M392.8 153.6h1M402.5 151.5h1M384.8 192.6h1M391.4 156.1h1M376.7 181.5h1M371.7 144.4h1M379.3 170.1h1M389.8 174.6h1M391.0 152.4h1M397.6 142.7h1M381.0 155.7h1M390.6 162.3h1M395.8 122.5h1M392.8 158.8h1M394.3 154.8h1M375.7 191.1h1M391.6 137.8h1M386.0 170.5h1M389.2 175.0h1M390.3 183.9h1M384.7 173.7h1M392.0 150.3h1M387.9 162.3h1M385.1 160.8h1M385.2 160.8h1M376.5 167.0h1M381.7 159.1h1M397.5 121.6h1M393.7 124.1h1M393.9 159.2h1M379.3 157.2h1M387.9 151.7h1M388.0 181.6h1M364.6 147.2h1M386.5 163.6h1M375.0 185.9h1M394.4 174.5h1M375.1 142.2h1M382.0 183.8h1M406.2 148.1h1M380.5 155.8h1M379.6 138.8h1M382.0 138.0h1M377.8 181.0h1M383.5 172.7h1M394.6 175.5h1M389.8 175.0h1M384.7 178.7h1M369.1 186.5h1M377.4 158.5h1M379.1 175.4h1M390.4 142.2h1M379.8 160.9h1M388.9 173.6h1M392.1 170.0h1M394.4 166.9h1M383.5 158.3h1M387.1 142.6h1M381.1 148.9h1M390.0 136.3h1M393.7 177.7h1M385.7 191.7h1M383.1 171.5h1M408.4 173.2h1M391.0 171.5h1M389.0 159.8h1M380.0 172.4h1M381.2 134.0h1M393.4 159.7h1M391.4 168.5h1M392.8 162.7h1M375.2 136.2h1M391.7 170.5h1M394.5 147.0h1M384.5 166.3h1M391.8 166.5h1M384.9 158.1h1M372.9 161.7h1M393.0 162.4h1M377.9 174.9h1M385.8 135.4h1M380.5 168.7h1M380.9 148.1h1M395.2 152.8h1M377.2 148.7h1M378.1 164.5h1M381.5 141.5h1M393.3 162.1h1M366.4 163.9h1M390.6 141.4h1M385.2 172.8h1M379.9 171.7h1M381.5 167.9h1M377.0 165.1h1M395.7 177.9h1M385.6 150.8h1M386.8 167.2h1M375.7 167.0h1M378.3 174.8h1M385.0 158.9h1M395.3 169.3h1M397.3 149.5h1M381.3 166.9h1M394.2 181.2h1M387.5 144.4h1M392.1 169.6h1M383.4 132.7h1M374.0 184.1h1M385.5 164.7h1M391.3 198.2h1M385.9 154.9h1M385.1 179.7h1M385.1 162.7h1M395.0 151.8h1M386.7 166.7h1M371.0 144.3h1M383.9 127.6h1M394.7 143.4h1M392.9 167.6h1M380.0 153.1h1M387.4 168.8h1M394.3 142.4h1M384.2 181.4h1M389.8 155.1h1M383.0 152.8h1M398.0 144.2h1M393.9 156.6h1M380.2 161.5h1M375.7 197.8h1M410.6 151.4h1M394.2 150.9h1M378.0 129.2h1M371.5 179.1h1M388.6 148.3h1M379.5 183.4h1M389.8 174.0h1M388.1 170.2h1M408.8 128.4h1M390.7 143.1h1M386.5 135.0h1M378.3 170.0h1M390.7 171.8h1M382.9 176.2h1M383.8 151.0h1M388.0 198.5h1M390.3 121.6h1M387.7 150.6h1M372.5 164.8h1M388.7 150.2h1M376.8 164.8h1M392.5 163.1h1M386.2 135.8h1M377.5 169.8h1M380.0 159.4h1M397.5 177.2h1M388.0 143.3h1M388.6 129.0h1M381.9 131.9h1M388.9 161.2h1M394.6 155.2h1M389.0 133.5h1M395.0 176.0h1M397.2 177.6h1M382.9 177.0h1M384.8 194.4h1M382.8 150.6h1M386.5 150.8h1M390.1 139.2h1M387.9 137.6h1M398.4 159.7h1M377.0 167.6h1M381.2 156.2h1M382.1 192.2h1M394.9 120.1h1M383.3 142.7h1M377.5 179.3h1M376.1 127.7h1M386.7 144.6h1M386.4 167.6h1M388.3 143.7h1M384.9 165.8h1M370.7 163.4h1M384.7 191.3h1M387.4 136.0h1M382.1 154.5h1M382.2 141.2h1M395.7 157.8h1M376.8 193.0h1M381.9 150.7h1M384.3 153.9h1M392.7 196.6h1M373.6 169.6h1M388.7 181.9h1M387.9 194.3h1M380.6 152.0h1M382.9 170.4h1M389.7 188.7h1M385.5 170.0h1M380.6 175.1h1M394.3 160.9h1M370.2 189.5h1M385.3 142.7h1M382.5 169.8h1M391.7 178.8h1M384.5 155.7h1M382.2 163.8h1M381.2 152.4h1M380.2 135.3h1M380.7 172.1h1M391.4 168.1h1M376.9 139.8h1M400.1 199.6h1M393.0 153.5h1M375.9 155.7h1M383.4 177.2h1M385.3 142.0h1M377.9 171.1h1M393.2 175.7h1M385.6 172.6h1M375.2 158.0h1M378.1 158.8h1M383.0 145.8h1M392.0 160.8h1M396.6 163.4h1M384.3 145.7h1M381.2 171.9h1M387.4 193.8h1M390.8 151.3h1M379.1 154.4h1M395.1 183.6h1M364.2 151.4h1M400.6 141.5h1M386.5 170.8h1M388.2 154.3h1M385.0 152.0h1M386.1 156.5h1M399.8 181.0h1M378.6 160.3h1M399.9 156.8h1M388.6 189.8h1M380.5 175.4h1M384.7 174.0h1M384.9 175.7h1M392.6 195.9h1M379.8 178.0h1M391.1 137.3h1M397.2 199.0h1M400.0 148.0h1M380.0 191.8h1M385.6 158.7h1M378.4 181.5h1M369.2 150.3h1M390.5 129.3h1M393.7 160.2h1M387.3 161.5h1M387.8 154.9h1M378.7 162.3h1M396.5 173.3h1M388.1 149.9h1M387.2 192.9h1M385.4 161.6h1M380.5 202.4h1M385.8 176.8h1M371.8 173.5h1M389.5 145.8h1M385.9 158.6h1M393.5 169.1h1M384.0 154.9h1M401.1 171.5h1M387.8 167.7h1M389.5 165.9h1M384.6 185.1h1M383.4 150.0h1M380.1 160.7h1M383.6 158.1h1M386.7 161.9h1M391.4 156.5h1M382.2 158.3h1M381.3 167.0h1M378.5 138.2h1M398.3 122.2h1M377.6 168.5h1M383.1 174.1h1M366.5 159.8h1M398.6 172.4h1M382.3 183.8h1M385.6 190.5h1M380.3 162.6h1M386.1 162.8h1M400.3 184.8h1M393.4 171.1h1M385.8 158.0h1M391.5 157.1h1M394.7 157.8h1M378.0 149.7h1M394.4 173.5h1M386.8 130.7h1M385.7 135.4h1M392.2 175.4h1M384.6 161.9h1M387.2 154.0h1M381.3 156.7h1M396.5 199.9h1M377.9 142.3h1M379.2 147.9h1M388.7 157.6h1M383.0 170.9h1M380.6 152.0h1M391.7 156.0h1M384.8 201.8h1M385.4 143.6h1M378.2 183.0h1M394.0 185.2h1M388.8 194.2h1M401.8 179.9h1M387.9 159.2h1M395.8 195.6h1M389.5 148.8h1M390.0 139.9h1M387.0 189.5h1M383.2 167.3h1M394.0 139.4h1M387.1 181.1h1M383.8 146.5h1M360.3 240.1h1M363.6 217.7h1M360.6 238.9h1M382.1 215.0h1M370.5 221.2h1M363.7 228.5h1M366.0 234.5h1M378.5 218.2h1M350.8 246.1h1M359.7 213.9h1M365.2 212.2h1M364.3 218.8h1M367.4 208.3h1M356.4 218.9h1M349.1 222.0h1M342.6 203.9h1M346.2 212.3h1M368.2 240.0h1M349.2 199.9h1M356.8 235.7h1M362.7 208.2h1M351.5 243.0h1M356.0 204.6h1M372.3 222.7h1M356.4 226.1h1M357.9 225.8h1M367.3 195.1h1M370.8 214.7h1M364.5 234.6h1M361.0 219.9h1M358.6 227.8h1M363.3 231.6h1M358.8 215.7h1M365.6 207.0h1M362.2 226.7h1M354.4 217.6h1M357.4 219.9h1M355.7 235.4h1M367.7 229.8h1M365.7 201.4h1M367.4 236.8h1M364.0 224.5h1M369.1 221.2h1M363.2 231.9h1M371.3 244.0h1M367.0 239.5h1M363.3 203.0h1M355.3 212.6h1M365.1 197.1h1M370.2 232.0h1M365.7 234.5h1M363.9 237.3h1M354.4 197.7h1M359.7 224.9h1M346.2 231.2h1M351.7 212.6h1M361.7 196.5h1M376.9 207.0h1M359.8 190.1h1M364.1 230.0h1M358.5 198.9h1M368.4 198.3h1M358.6 228.8h1M358.9 213.2h1M355.2 220.4h1M352.6 233.9h1M354.3 202.9h1M374.2 232.9h1M356.5 185.4h1M353.2 204.5h1M369.4 202.3h1M359.4 216.4h1M371.5 223.9h1M364.6 206.6h1M362.5 237.2h1M367.0 196.7h1M363.9 228.0h1M363.7 246.3h1M356.9 225.6h1M357.5 224.5h1M361.8 217.5h1M354.9 228.0h1M365.4 222.7h1M374.3 217.7h1M348.4 235.9h1M372.1 202.2h1M359.4 198.8h1M349.8 218.0h1M345.9 193.5h1M360.9 202.1h1M364.0 208.9h1M353.7 233.6h1M365.7 217.6h1M366.5 200.2h1M365.8 213.2h1M353.3 190.4h1M368.6 202.9h1M365.9 200.2h1M356.5 216.4h1M342.0 214.7h1M362.6 218.3h1M359.0 231.5h1M363.1 211.2h1M361.2 209.1h1M367.1 235.4h1M358.9 247.3h1M370.1 230.1h1M355.8 241.5h1M376.7 226.9h1M350.5 192.7h1M360.6 214.1h1M360.4 203.8h1M357.4 206.8h1M369.7 230.4h1M365.4 224.4h1M364.7 223.0h1M360.6 206.9h1M366.2 218.8h1M364.1 194.3h1M354.9 202.3h1M368.9 243.8h1M368.2 210.5h1M361.8 226.4h1M358.4 232.1h1M358.9 219.2h1M363.7 192.1h1M360.1 223.7h1M370.8 202.3h1M361.1 208.6h1M370.1 213.2h1M379.7 229.2h1M359.3 210.0h1M367.9 205.8h1M359.6 217.0h1M363.5 248.4h1M365.2 220.9h1M368.9 229.2h1M368.5 241.9h1M349.3 228.5h1M376.4 197.1h1M363.1 234.6h1M362.4 205.7h1M366.5 214.3h1M357.0 210.9h1M359.8 206.7h1M351.0 232.4h1M362.5 211.9h1M362.9 230.0h1M361.8 195.4h1M358.1 190.6h1M361.5 239.2h1M367.1 220.4h1M356.4 212.3h1M362.0 209.0h1M351.0 228.9h1M362.5 243.9h1M359.0 223.0h1M368.6 234.7h1M365.3 197.6h1M367.3 201.4h1M363.0 189.0h1M353.7 208.5h1M363.4 230.2h1M363.6 224.0h1M356.3 228.6h1M348.8 208.0h1M363.0 210.6h1M356.9 214.1h1M365.2 224.5h1M361.0 221.9h1M373.0 224.7h1M369.8 195.3h1M362.1 221.5h1M364.9 207.5h1M354.7 241.1h1M354.7 217.1h1M362.7 226.5h1M357.2 185.1h1M365.5 222.7h1M355.4 217.9h1M352.6 221.3h1M360.4 228.1h1M349.8 234.6h1M366.2 235.6h1M364.0 200.0h1M365.3 164.9h1M358.3 238.0h1M348.2 229.6h1M354.4 205.7h1M346.3 216.7h1M358.5 226.9h1M363.0 231.0h1M376.2 245.5h1M349.2 209.9h1M352.7 225.6h1M354.6 228.0h1M360.0 186.8h1M368.6 219.6h1M349.3 234.1h1M326.6 129.1h1M323.9 128.4h1M332.3 135.0h1M324.2 132.6h1M331.5 129.8h1M336.9 120.9h1M329.0 122.4h1M339.2 132.2h1M342.8 121.6h1M320.2 124.7h1M335.0 129.1h1M334.4 127.2h1M333.0 132.0h1M328.0 121.8h1M350.2 120.8h1M332.1 131.0h1M340.3 130.4h1M355.6 134.2h1M321.8 125.7h1M355.9 131.1h1M333.8 134.9h1M335.7 131.0h1M342.1 131.7h1M330.2 133.1h1M331.5 125.0h1M342.2 131.5h1M323.6 130.5h1M328.8 129.7h1M345.9 132.5h1M322.1 123.2h1M324.7 124.1h1M341.3 136.5h1M321.3 126.9h1M332.5 131.9h1M344.4 127.4h1M335.1 125.9h1M326.1 125.9h1M334.2 131.4h1M320.7 131.5h1M315.0 132.4h1M345.4 134.6h1M315.3 130.7h1M326.5 129.8h1M345.6 124.3h1M330.9 122.9h1M343.2 127.1h1M326.5 136.0h1M344.8 120.4h1M322.8 129.5h1M340.2 127.0h1M336.6 130.1h1M329.5 131.9h1M324.2 130.9h1M343.0 128.7h1M329.6 127.8h1M309.5 128.9h1M318.1 119.7h1M341.4 124.2h1M337.0 128.1h1M314.5 124.2h1M330.4 129.8h1M334.0 122.7h1M327.6 128.3h1M319.7 126.1h1M337.9 124.7h1M324.5 129.8h1M337.4 123.7h1M344.5 129.9h1M334.4 128.5h1M343.4 129.1h1M332.8 127.9h1M348.7 134.6h1M303.6 124.7h1M306.9 125.2h1M329.3 124.1h1M339.1 128.6h1M337.5 122.0h1M331.3 130.2h1M317.1 120.5h1M333.6 141.9h1M325.9 127.3h1M340.4 133.8h1M339.9 126.7h1M333.7 130.1h1M335.3 130.7h1M326.2 129.4h1M329.0 125.3h1M332.1 132.1h1M335.0 129.0h1M334.1 128.1h1M331.6 126.7h1M310.4 129.0h1M326.2 125.5h1M323.7 130.4h1M331.7 129.1h1M336.6 129.8h1M335.8 131.4h1M345.4 131.3h1M337.3 132.5h1M328.7 123.3h1M332.2 120.7h1M326.0 128.8h1" stroke="#000" stroke-width="1" stroke-opacity="0.5"/>
<path d="M305.1,252.9C298.1,248.6 301.5,235.1 300.2,226.8C299.0,218.6 297.8,210.1 297.5,203.4C297.2,196.8 297.5,191.3 298.2,187.0C298.9,182.6 300.1,179.9 301.6,177.3C303.1,174.8 305.5,173.4 307.1,171.8C308.7,170.2 310.7,169.3 311.2,167.7C311.8,166.1 310.9,165.0 310.6,162.2C310.2,159.5 309.4,154.9 309.2,151.2C308.9,147.6 308.6,143.3 309.2,140.2C309.7,137.1 311.0,134.3 312.6,132.7C314.2,131.1 316.7,130.6 318.8,130.6C320.9,130.6 323.0,131.3 325.0,132.7C326.9,134.0 328.6,137.8 330.5,138.9C332.3,139.9 332.1,139.0 336.0,138.9C339.9,138.7 351.1,136.8 353.8,138.2C356.6,139.5 352.9,144.2 352.5,147.1C352.0,150.0 351.1,152.4 351.1,155.3C351.1,158.3 351.3,162.2 352.5,165.0C353.6,167.7 356.4,169.1 358.0,171.8C359.6,174.6 361.2,177.6 362.1,181.5C363.0,185.4 363.9,191.1 363.5,195.2C363.0,199.3 360.9,202.5 359.3,206.2C357.7,209.9 355.4,213.3 353.8,217.2C352.2,221.1 351.1,225.7 349.7,229.6C348.3,233.4 346.9,236.7 345.6,240.5C344.3,244.4 348.9,250.9 342.2,252.9C335.4,255.0 312.0,257.3 305.1,252.9Z" fill="#000"/>
<path d="M314.0,137.5C315.1,135.8 317.7,135.4 319.5,135.4C321.3,135.4 323.4,136.0 325.0,137.5C326.6,139.0 327.8,142.3 329.1,144.4C330.4,146.4 331.6,147.8 332.5,149.9C333.5,151.9 334.3,153.3 334.6,156.7C334.9,160.2 336.0,168.2 334.6,170.5C333.2,172.8 329.3,170.5 326.4,170.5C323.4,170.5 318.9,172.5 316.7,170.5C314.6,168.4 314.0,162.2 313.3,158.1C312.6,154.0 312.5,149.2 312.6,145.7C312.7,142.3 312.8,139.2 314.0,137.5Z" fill="url(#uA1)"/>
<path d="M355.2 204.8 354.2 207.8 353.3 210.7 352.3 213.4 351.3 216.2 350.2 218.8 349.1 221.5 348.0 224.3 346.8 227.2 345.5 230.2 344.2 233.4 342.7 237.0 341.3 241.5 341.7 250.9 336.9 250.9 332.5 250.9 328.3 250.9 324.2 250.9 320.2 250.9 316.1 250.9 312.0 250.9 307.8 250.9 304.2 248.7 302.9 241.9 302.7 235.1 302.6 230.0 302.2 226.2 301.8 223.2 301.5 220.5 301.3 218.1 301.1 215.9 300.9 213.8 300.7 211.9 300.6 210.1 300.5 208.3 300.4 206.6 300.3 204.8 300.2 203.1 300.2 201.3 300.2 199.5 300.2 197.5 300.2 195.5 300.3 193.3 300.5 191.0 300.7 188.5 301.1 185.8 301.8 182.9 302.8 180.1 304.3 177.4 306.4 175.3 308.8 173.6 311.3 171.8 313.8 168.6 316.9 167.5 320.2 167.5 323.4 167.7 326.7 167.7 330.2 167.6 333.7 167.5 337.4 167.9 341.1 168.6 344.8 169.6 348.4 171.1 351.8 173.2 354.5 176.0 356.3 179.5 357.4 183.3 358.0 187.2 357.9 191.1 357.5 194.8 356.8 198.4 356.0 201.7Z" fill="#a2a2a2"/>
<path d="M353.8 204.8 352.9 207.7 352.0 210.4 351.0 213.1 350.1 215.7 349.0 218.3 348.0 220.9 346.8 223.5 345.7 226.2 344.5 229.1 343.1 232.1 341.7 235.5 340.3 239.7 340.5 248.3 336.1 248.5 331.9 248.6 327.9 248.8 324.0 248.9 320.2 249.0 316.3 249.0 312.4 248.9 308.4 248.8 305.0 246.6 303.7 240.1 303.5 233.7 303.3 228.9 303.0 225.3 302.6 222.4 302.3 219.8 302.0 217.5 301.8 215.4 301.6 213.5 301.5 211.6 301.4 209.9 301.2 208.2 301.1 206.5 301.1 204.8 301.0 203.1 300.9 201.4 300.9 199.7 300.9 197.8 300.9 195.9 301.0 193.8 301.2 191.5 301.4 189.1 301.8 186.4 302.4 183.6 303.4 180.8 304.7 178.1 306.7 175.9 309.0 174.2 311.5 172.5 314.0 169.6 317.0 168.6 320.2 168.8 323.3 169.1 326.4 169.2 329.7 169.3 333.0 169.5 336.4 170.0 339.9 170.6 343.4 171.6 346.9 173.0 350.2 174.8 352.9 177.4 354.7 180.7 355.8 184.2 356.4 187.9 356.4 191.6 355.9 195.2 355.3 198.6 354.6 201.8Z" fill="#868686"/>
<path d="M352.4 204.8 351.5 207.6 350.6 210.2 349.7 212.7 348.8 215.2 347.8 217.7 346.8 220.2 345.7 222.7 344.6 225.3 343.4 228.0 342.0 230.9 340.6 234.0 339.3 238.0 339.3 245.8 335.2 246.1 331.3 246.4 327.6 246.7 323.9 247.0 320.2 247.1 316.5 247.2 312.7 247.0 309.0 246.6 305.8 244.4 304.5 238.3 304.3 232.4 304.1 227.8 303.8 224.4 303.4 221.6 303.1 219.2 302.8 217.0 302.6 215.0 302.4 213.1 302.3 211.3 302.1 209.7 302.0 208.0 301.9 206.4 301.8 204.8 301.8 203.2 301.7 201.6 301.7 199.9 301.7 198.1 301.7 196.2 301.8 194.2 301.9 192.0 302.1 189.6 302.4 187.1 303.0 184.3 303.9 181.5 305.2 178.8 307.0 176.6 309.3 174.9 311.7 173.3 314.1 170.7 317.1 169.8 320.2 170.0 323.2 170.5 326.2 170.8 329.2 171.1 332.3 171.5 335.5 172.0 338.7 172.7 342.1 173.5 345.4 174.8 348.6 176.4 351.2 178.8 353.1 181.8 354.2 185.2 354.8 188.7 354.8 192.2 354.4 195.6 353.9 198.9 353.2 201.9Z" fill="#727272"/>
<path d="M351.0 204.8 350.2 207.4 349.3 210.0 348.5 212.4 347.6 214.8 346.6 217.1 345.6 219.5 344.5 221.9 343.5 224.4 342.3 226.9 341.0 229.6 339.6 232.6 338.3 236.2 338.1 243.2 334.3 243.7 330.7 244.1 327.2 244.6 323.7 245.0 320.2 245.3 316.6 245.3 313.1 245.0 309.5 244.5 306.6 242.2 305.4 236.5 305.1 231.0 304.9 226.7 304.5 223.5 304.1 220.8 303.8 218.5 303.6 216.4 303.4 214.5 303.2 212.7 303.0 211.1 302.9 209.4 302.8 207.9 302.7 206.3 302.6 204.8 302.5 203.3 302.5 201.7 302.4 200.1 302.4 198.4 302.4 196.5 302.5 194.6 302.6 192.5 302.8 190.2 303.1 187.7 303.6 185.1 304.4 182.3 305.6 179.5 307.3 177.3 309.5 175.6 311.9 174.0 314.3 171.7 317.2 170.9 320.2 171.3 323.1 171.9 325.9 172.3 328.7 172.9 331.6 173.5 334.5 174.0 337.6 174.7 340.7 175.5 343.9 176.6 347.0 178.0 349.6 180.2 351.5 182.9 352.6 186.1 353.2 189.4 353.3 192.8 352.9 196.0 352.4 199.1 351.7 202.1Z" fill="#616161"/>
<path d="M349.6 204.8 348.8 207.3 348.0 209.7 347.2 212.1 346.3 214.3 345.4 216.6 344.4 218.8 343.4 221.1 342.3 223.4 341.2 225.8 339.9 228.4 338.6 231.1 337.3 234.4 336.9 240.7 333.4 241.3 330.1 241.9 326.8 242.5 323.5 243.0 320.2 243.4 316.8 243.4 313.4 243.1 310.1 242.4 307.3 240.1 306.2 234.8 305.9 229.6 305.6 225.6 305.3 222.6 304.9 220.1 304.6 217.9 304.4 215.9 304.2 214.1 304.0 212.4 303.8 210.8 303.7 209.2 303.5 207.8 303.4 206.3 303.4 204.8 303.3 203.3 303.2 201.8 303.2 200.3 303.2 198.6 303.2 196.9 303.2 195.0 303.3 193.0 303.5 190.8 303.7 188.4 304.2 185.8 304.9 183.0 306.0 180.3 307.6 177.9 309.8 176.2 312.1 174.7 314.5 172.7 317.3 172.1 320.2 172.6 322.9 173.3 325.6 173.9 328.2 174.7 330.9 175.5 333.6 176.1 336.4 176.7 339.4 177.4 342.4 178.4 345.3 179.7 347.9 181.5 349.9 184.0 351.0 187.0 351.6 190.2 351.7 193.3 351.4 196.4 350.9 199.4 350.3 202.2Z" fill="#535353"/>
<path d="M348.2 204.8 347.5 207.2 346.7 209.5 345.9 211.7 345.0 213.9 344.2 216.0 343.2 218.1 342.2 220.3 341.2 222.5 340.1 224.8 338.9 227.1 337.6 229.6 336.2 232.7 335.7 238.1 332.6 238.9 329.5 239.6 326.4 240.4 323.3 241.0 320.2 241.5 317.0 241.6 313.8 241.1 310.7 240.2 308.1 237.9 307.0 233.0 306.7 228.2 306.4 224.5 306.0 221.7 305.7 219.3 305.4 217.2 305.1 215.3 304.9 213.6 304.7 212.0 304.6 210.5 304.4 209.0 304.3 207.6 304.2 206.2 304.1 204.8 304.0 203.4 304.0 202.0 303.9 200.5 303.9 198.9 303.9 197.2 303.9 195.4 304.0 193.5 304.1 191.4 304.4 189.0 304.8 186.5 305.4 183.8 306.4 181.0 307.9 178.6 310.0 176.9 312.3 175.5 314.7 173.7 317.4 173.2 320.2 173.8 322.8 174.7 325.3 175.5 327.8 176.5 330.1 177.5 332.6 178.1 335.2 178.7 338.0 179.4 340.8 180.2 343.7 181.3 346.3 182.9 348.2 185.2 349.4 187.9 350.0 190.9 350.1 193.9 349.9 196.9 349.4 199.7 348.9 202.3Z" fill="#454545"/>
<path d="M346.8 204.8 346.1 207.1 345.4 209.3 344.6 211.4 343.8 213.4 342.9 215.4 342.0 217.4 341.1 219.5 340.1 221.5 339.0 223.7 337.8 225.9 336.5 228.2 335.2 230.9 334.5 235.5 331.7 236.5 328.9 237.4 326.1 238.3 323.2 239.1 320.2 239.6 317.1 239.7 314.1 239.2 311.3 238.1 308.9 235.7 307.9 231.2 307.5 226.8 307.2 223.4 306.8 220.8 306.5 218.5 306.2 216.6 305.9 214.8 305.7 213.2 305.5 211.7 305.4 210.2 305.2 208.8 305.1 207.5 305.0 206.1 304.9 204.8 304.8 203.5 304.7 202.1 304.7 200.7 304.6 199.2 304.6 197.6 304.7 195.9 304.7 194.0 304.8 191.9 305.0 189.7 305.4 187.2 305.9 184.5 306.8 181.7 308.3 179.3 310.3 177.6 312.5 176.2 314.9 174.7 317.5 174.4 320.2 175.1 322.7 176.1 325.1 177.0 327.3 178.3 329.4 179.4 331.7 180.2 334.1 180.7 336.6 181.3 339.3 182.0 342.1 182.9 344.6 184.3 346.6 186.3 347.9 188.8 348.4 191.6 348.6 194.5 348.4 197.3 348.0 199.9 347.4 202.4Z" fill="#393939"/>
<path d="M345.4 204.8 344.7 207.0 344.0 209.0 343.3 211.0 342.5 213.0 341.7 214.9 340.9 216.8 339.9 218.7 339.0 220.6 337.9 222.6 336.8 224.6 335.5 226.7 334.2 229.1 333.3 233.0 330.8 234.1 328.3 235.1 325.7 236.2 323.0 237.1 320.2 237.7 317.3 237.8 314.5 237.2 311.8 236.0 309.7 233.5 308.7 229.4 308.2 225.5 307.9 222.3 307.6 219.8 307.2 217.8 306.9 215.9 306.7 214.3 306.5 212.7 306.3 211.3 306.1 209.9 306.0 208.6 305.9 207.3 305.7 206.1 305.6 204.8 305.6 203.5 305.5 202.2 305.4 200.9 305.4 199.4 305.4 197.9 305.4 196.3 305.4 194.5 305.5 192.5 305.7 190.3 306.0 187.9 306.5 185.2 307.2 182.4 308.6 180.0 310.5 178.2 312.7 177.0 315.0 175.7 317.6 175.5 320.2 176.3 322.6 177.5 324.8 178.6 326.8 180.1 328.7 181.4 330.7 182.2 332.9 182.8 335.3 183.3 337.8 183.8 340.5 184.5 342.9 185.7 345.0 187.4 346.3 189.8 346.8 192.4 347.0 195.0 346.9 197.7 346.5 200.2 346.0 202.6Z" fill="#2e2e2e"/>
<path d="M344.0 204.8 343.4 206.8 342.7 208.8 342.0 210.7 341.3 212.5 340.5 214.3 339.7 216.1 338.8 217.9 337.9 219.7 336.8 221.5 335.7 223.3 334.5 225.2 333.2 227.3 332.1 230.4 329.9 231.6 327.7 232.9 325.3 234.0 322.8 235.1 320.2 235.9 317.4 236.0 314.8 235.3 312.4 233.8 310.5 231.4 309.5 227.6 309.0 224.1 308.7 221.2 308.3 218.9 308.0 217.0 307.7 215.3 307.5 213.7 307.3 212.3 307.1 210.9 306.9 209.6 306.8 208.4 306.6 207.2 306.5 206.0 306.4 204.8 306.3 203.6 306.2 202.4 306.2 201.1 306.1 199.7 306.1 198.3 306.1 196.7 306.1 195.0 306.2 193.1 306.3 191.0 306.6 188.6 307.0 186.0 307.7 183.1 308.9 180.6 310.7 178.9 312.9 177.7 315.2 176.7 317.7 176.7 320.2 177.6 322.4 178.8 324.5 180.1 326.3 181.9 328.0 183.4 329.7 184.3 331.7 184.8 333.9 185.2 336.3 185.6 338.8 186.2 341.3 187.1 343.4 188.5 344.7 190.7 345.3 193.1 345.5 195.6 345.4 198.1 345.0 200.4 344.6 202.7Z" fill="#232323"/>
<path d="M342.6 204.8 342.0 206.7 341.4 208.6 340.7 210.3 340.0 212.0 339.3 213.7 338.5 215.4 337.7 217.1 336.7 218.7 335.7 220.4 334.6 222.1 333.4 223.8 332.2 225.6 330.9 227.9 329.1 229.2 327.1 230.6 325.0 231.9 322.6 233.1 320.2 234.0 317.6 234.1 315.1 233.3 313.0 231.7 311.3 229.2 310.4 225.8 309.8 222.7 309.4 220.1 309.1 218.0 308.8 216.2 308.5 214.6 308.2 213.2 308.0 211.8 307.8 210.6 307.7 209.4 307.5 208.2 307.4 207.1 307.3 205.9 307.2 204.8 307.1 203.7 307.0 202.5 306.9 201.3 306.9 200.0 306.8 198.6 306.8 197.1 306.8 195.5 306.9 193.7 307.0 191.6 307.2 189.3 307.5 186.7 308.1 183.9 309.2 181.3 311.0 179.6 313.1 178.5 315.4 177.7 317.8 177.8 320.2 178.9 322.3 180.2 324.3 181.7 325.8 183.7 327.2 185.4 328.8 186.3 330.6 186.8 332.5 187.1 334.8 187.4 337.2 187.8 339.6 188.5 341.8 189.7 343.1 191.6 343.7 193.9 343.9 196.2 343.8 198.5 343.6 200.7 343.1 202.8Z" fill="#191919"/>
<path d="M341.2,204.8C341.0,205.4 340.9,206.0 340.7,206.6C340.5,207.2 340.3,207.8 340.1,208.3C339.9,208.9 339.6,209.4 339.4,210.0C339.2,210.5 339.0,211.1 338.8,211.6C338.5,212.1 338.3,212.6 338.1,213.2C337.8,213.7 337.6,214.2 337.3,214.7C337.0,215.2 336.8,215.7 336.5,216.3C336.2,216.8 335.9,217.3 335.6,217.8C335.3,218.3 335.0,218.8 334.7,219.3C334.3,219.8 334.0,220.3 333.6,220.8C333.2,221.3 332.8,221.8 332.4,222.3C332.0,222.8 331.6,223.3 331.1,223.8C330.7,224.3 330.2,224.8 329.7,225.3C329.2,225.8 328.7,226.3 328.2,226.8C327.6,227.3 327.1,227.9 326.5,228.4C325.9,228.9 325.2,229.4 324.6,229.8C323.9,230.3 323.2,230.8 322.5,231.2C321.7,231.5 321.0,231.9 320.2,232.1C319.4,232.3 318.6,232.4 317.8,232.2C317.0,232.1 316.2,231.8 315.5,231.3C314.8,230.9 314.1,230.3 313.5,229.6C313.0,228.8 312.5,227.9 312.1,227.0C311.7,226.1 311.4,225.0 311.2,224.1C311.0,223.1 310.8,222.2 310.6,221.3C310.5,220.5 310.3,219.7 310.2,219.0C310.1,218.3 310.0,217.7 309.9,217.1C309.7,216.5 309.6,216.0 309.5,215.5C309.4,214.9 309.3,214.4 309.3,214.0C309.2,213.5 309.1,213.1 309.0,212.6C308.9,212.2 308.9,211.8 308.8,211.4C308.7,211.0 308.7,210.6 308.6,210.2C308.6,209.8 308.5,209.5 308.5,209.1C308.4,208.7 308.3,208.4 308.3,208.0C308.2,207.6 308.2,207.3 308.2,206.9C308.1,206.6 308.1,206.2 308.0,205.9C308.0,205.5 308.0,205.2 307.9,204.8C307.9,204.5 307.9,204.1 307.8,203.7C307.8,203.4 307.8,203.0 307.8,202.6C307.7,202.3 307.7,201.9 307.7,201.5C307.7,201.1 307.6,200.7 307.6,200.3C307.6,199.8 307.6,199.4 307.6,199.0C307.6,198.5 307.6,198.0 307.6,197.5C307.6,197.0 307.5,196.5 307.5,196.0C307.5,195.4 307.6,194.9 307.6,194.2C307.6,193.6 307.6,193.0 307.6,192.3C307.7,191.6 307.7,190.8 307.8,190.0C307.8,189.2 307.9,188.4 308.0,187.5C308.1,186.6 308.2,185.5 308.5,184.6C308.7,183.7 309.1,182.7 309.5,182.0C310.0,181.2 310.6,180.7 311.2,180.2C311.9,179.8 312.6,179.5 313.3,179.2C314.0,179.0 314.8,178.8 315.6,178.7C316.3,178.7 317.1,178.8 317.9,179.0C318.7,179.2 319.5,179.7 320.2,180.1C320.9,180.6 321.6,181.1 322.2,181.6C322.8,182.2 323.5,182.6 324.0,183.2C324.5,183.9 324.9,184.8 325.4,185.5C325.8,186.2 326.1,186.9 326.5,187.4C326.9,187.8 327.4,188.1 327.8,188.4C328.3,188.6 328.8,188.7 329.4,188.8C330.0,189.0 330.5,189.0 331.2,189.1C331.8,189.2 332.5,189.2 333.3,189.2C334.0,189.3 334.8,189.3 335.6,189.4C336.4,189.5 337.2,189.7 338.0,189.9C338.7,190.1 339.6,190.4 340.2,190.8C340.8,191.2 341.2,191.9 341.5,192.5C341.8,193.1 341.9,193.9 342.1,194.6C342.2,195.3 342.3,196.0 342.3,196.8C342.4,197.5 342.4,198.2 342.3,198.9C342.3,199.6 342.2,200.3 342.1,201.0C342.0,201.6 341.9,202.3 341.7,202.9C341.6,203.6 341.4,204.2 341.2,204.8Z" fill="none" stroke="#b8b8b8" stroke-width="1.1"/>
<path d="M341.2 204.8 340.7 206.6 340.1 208.3 339.4 210.0 338.8 211.6 338.1 213.2 337.3 214.7 336.5 216.3 335.6 217.8 334.7 219.3 333.6 220.8 332.4 222.3 331.1 223.8 329.7 225.3 328.2 226.8 326.5 228.4 324.6 229.8 322.5 231.2 320.2 232.1 317.8 232.2 315.5 231.3 313.5 229.6 312.1 227.0 311.2 224.1 310.6 221.3 310.2 219.0 309.9 217.1 309.5 215.5 309.3 214.0 309.0 212.6 308.8 211.4 308.6 210.2 308.5 209.1 308.3 208.0 308.2 206.9 308.0 205.9 307.9 204.8 307.8 203.7 307.8 202.6 307.7 201.5 307.6 200.3 307.6 199.0 307.6 197.5 307.5 196.0 307.6 194.2 307.6 192.3 307.8 190.0 308.0 187.5 308.5 184.6 309.5 182.0 311.2 180.2 313.3 179.2 315.6 178.7 317.9 179.0 320.2 180.1 322.2 181.6 324.0 183.2 325.4 185.5 326.5 187.4 327.8 188.4 329.4 188.8 331.2 189.1 333.3 189.2 335.6 189.4 338.0 189.9 340.2 190.8 341.5 192.5 342.1 194.6 342.3 196.8 342.3 198.9 342.1 201.0 341.7 202.9Z" fill="#7f7f7f"/>
<path d="M340.8 204.8 340.3 206.6 339.7 208.3 339.1 209.9 338.4 211.5 337.7 213.0 337.0 214.5 336.2 216.0 335.3 217.5 334.4 219.0 333.3 220.5 332.2 222.0 330.9 223.4 329.5 224.9 328.0 226.3 326.3 227.8 324.5 229.2 322.4 230.5 320.2 231.3 317.8 231.4 315.6 230.5 313.8 228.7 312.4 226.3 311.5 223.4 310.9 220.8 310.5 218.6 310.2 216.7 309.9 215.1 309.6 213.7 309.3 212.4 309.1 211.2 309.0 210.0 308.8 209.0 308.6 207.9 308.5 206.9 308.4 205.9 308.3 204.8 308.2 203.8 308.1 202.7 308.0 201.6 308.0 200.4 307.9 199.1 307.9 197.7 307.9 196.2 307.9 194.5 308.0 192.6 308.1 190.4 308.3 187.9 308.8 185.1 309.7 182.4 311.4 180.6 313.4 179.6 315.6 179.1 317.9 179.4 320.2 180.6 322.2 182.2 323.9 183.8 325.2 186.0 326.4 187.8 327.7 188.8 329.2 189.2 330.9 189.4 333.0 189.5 335.3 189.7 337.6 190.2 339.8 191.1 341.0 192.8 341.6 194.8 341.8 196.9 341.8 199.0 341.6 201.0 341.3 203.0Z" fill="#696969"/>
<path d="M340.4 204.8 339.9 206.5 339.3 208.2 338.7 209.8 338.1 211.3 337.4 212.9 336.7 214.4 335.9 215.8 335.1 217.3 334.1 218.8 333.1 220.2 332.0 221.6 330.7 223.1 329.3 224.5 327.8 225.9 326.2 227.3 324.4 228.6 322.4 229.8 320.2 230.6 317.9 230.6 315.8 229.7 314.0 227.9 312.6 225.5 311.8 222.7 311.3 220.3 310.8 218.1 310.5 216.4 310.2 214.8 309.9 213.4 309.7 212.2 309.5 211.0 309.3 209.9 309.1 208.8 309.0 207.8 308.8 206.8 308.7 205.8 308.6 204.8 308.5 203.8 308.4 202.8 308.4 201.7 308.3 200.5 308.3 199.3 308.3 197.9 308.2 196.5 308.3 194.8 308.3 193.0 308.4 190.9 308.7 188.4 309.1 185.6 310.0 182.9 311.5 181.0 313.5 180.0 315.7 179.5 318.0 179.8 320.2 181.1 322.1 182.7 323.8 184.4 325.1 186.5 326.2 188.2 327.5 189.1 329.0 189.6 330.7 189.8 332.7 189.9 335.0 189.9 337.3 190.4 339.3 191.4 340.5 193.1 341.1 195.1 341.3 197.1 341.3 199.1 341.2 201.1 340.8 203.0Z" fill="#5a5a5a"/>
<path d="M340.0 204.8 339.5 206.5 339.0 208.1 338.4 209.7 337.8 211.2 337.1 212.7 336.4 214.2 335.6 215.6 334.8 217.1 333.9 218.5 332.8 219.9 331.7 221.3 330.5 222.7 329.1 224.0 327.7 225.4 326.0 226.7 324.3 228.0 322.3 229.1 320.2 229.8 318.0 229.8 315.9 228.8 314.2 227.1 312.9 224.7 312.1 222.1 311.6 219.7 311.1 217.7 310.8 216.0 310.5 214.5 310.2 213.2 310.0 211.9 309.8 210.8 309.6 209.7 309.5 208.7 309.3 207.7 309.2 206.8 309.1 205.8 309.0 204.8 308.9 203.8 308.8 202.8 308.7 201.8 308.7 200.6 308.6 199.4 308.6 198.1 308.6 196.7 308.6 195.1 308.7 193.3 308.8 191.3 309.0 188.9 309.4 186.1 310.2 183.4 311.7 181.4 313.6 180.3 315.8 179.9 318.0 180.2 320.2 181.6 322.1 183.3 323.7 184.9 325.0 187.0 326.1 188.6 327.3 189.5 328.7 190.0 330.4 190.2 332.5 190.2 334.8 190.2 337.0 190.7 338.9 191.7 340.0 193.4 340.6 195.3 340.8 197.3 340.8 199.3 340.7 201.2 340.4 203.1Z" fill="#4d4d4d"/>
<path d="M339.5 204.8 339.1 206.5 338.6 208.1 338.0 209.6 337.4 211.1 336.8 212.6 336.1 214.0 335.3 215.4 334.5 216.8 333.6 218.2 332.6 219.6 331.5 221.0 330.3 222.3 328.9 223.6 327.5 224.9 325.9 226.1 324.1 227.3 322.2 228.4 320.2 229.0 318.1 228.9 316.1 228.0 314.4 226.2 313.2 224.0 312.4 221.4 311.9 219.2 311.5 217.3 311.1 215.6 310.8 214.2 310.6 212.9 310.3 211.7 310.1 210.6 310.0 209.6 309.8 208.6 309.7 207.6 309.5 206.7 309.4 205.8 309.3 204.8 309.2 203.9 309.1 202.9 309.1 201.8 309.0 200.8 309.0 199.6 308.9 198.3 308.9 197.0 309.0 195.4 309.0 193.7 309.1 191.7 309.3 189.3 309.7 186.6 310.4 183.9 311.8 181.8 313.7 180.7 315.8 180.3 318.0 180.6 320.2 182.1 322.0 183.9 323.6 185.5 324.8 187.5 325.9 189.0 327.1 189.9 328.5 190.4 330.2 190.5 332.2 190.5 334.5 190.5 336.7 191.0 338.5 192.0 339.5 193.6 340.1 195.5 340.3 197.5 340.4 199.4 340.2 201.3 339.9 203.1Z" fill="#414141"/>
<path d="M339.1 204.8 338.7 206.4 338.2 208.0 337.7 209.5 337.1 211.0 336.5 212.4 335.8 213.8 335.0 215.2 334.2 216.6 333.3 218.0 332.3 219.3 331.2 220.6 330.0 221.9 328.7 223.2 327.3 224.4 325.7 225.6 324.0 226.7 322.2 227.7 320.2 228.2 318.1 228.1 316.2 227.1 314.7 225.4 313.5 223.2 312.7 220.8 312.2 218.6 311.8 216.8 311.4 215.2 311.1 213.9 310.9 212.6 310.7 211.5 310.5 210.4 310.3 209.4 310.1 208.5 310.0 207.5 309.9 206.6 309.8 205.7 309.7 204.8 309.6 203.9 309.5 202.9 309.4 201.9 309.4 200.9 309.3 199.8 309.3 198.5 309.3 197.2 309.3 195.7 309.4 194.0 309.5 192.1 309.6 189.8 309.9 187.1 310.6 184.3 311.9 182.2 313.8 181.1 315.9 180.7 318.1 180.9 320.2 182.5 322.0 184.4 323.5 186.1 324.7 188.0 325.8 189.5 326.9 190.3 328.3 190.7 329.9 190.9 331.9 190.8 334.2 190.8 336.4 191.2 338.0 192.3 339.0 193.9 339.6 195.8 339.8 197.7 339.9 199.5 339.7 201.4 339.5 203.1Z" fill="#373737"/>
<path d="M338.7 204.8 338.3 206.4 337.9 207.9 337.3 209.4 336.8 210.9 336.1 212.3 335.5 213.6 334.7 215.0 333.9 216.4 333.1 217.7 332.1 219.0 331.0 220.3 329.8 221.5 328.5 222.7 327.1 223.9 325.6 225.0 323.9 226.1 322.1 227.0 320.2 227.5 318.2 227.3 316.4 226.3 314.9 224.6 313.8 222.4 313.0 220.1 312.5 218.1 312.1 216.4 311.7 214.9 311.5 213.5 311.2 212.3 311.0 211.2 310.8 210.2 310.6 209.3 310.5 208.3 310.3 207.5 310.2 206.6 310.1 205.7 310.0 204.8 309.9 203.9 309.8 203.0 309.8 202.0 309.7 201.0 309.7 199.9 309.6 198.7 309.6 197.4 309.6 196.0 309.7 194.3 309.8 192.5 310.0 190.2 310.2 187.6 310.8 184.8 312.1 182.6 313.9 181.5 316.0 181.1 318.1 181.3 320.2 183.0 321.9 185.0 323.4 186.7 324.6 188.5 325.6 189.9 326.8 190.7 328.1 191.1 329.7 191.2 331.7 191.1 334.0 191.0 336.0 191.5 337.6 192.6 338.6 194.2 339.0 196.0 339.3 197.9 339.4 199.7 339.3 201.5 339.0 203.2Z" fill="#2d2d2d"/>
<path d="M338.3 204.8 337.9 206.4 337.5 207.9 337.0 209.3 336.4 210.7 335.8 212.1 335.2 213.5 334.4 214.8 333.7 216.1 332.8 217.4 331.8 218.7 330.8 220.0 329.6 221.2 328.3 222.3 326.9 223.4 325.4 224.5 323.8 225.5 322.0 226.3 320.2 226.7 318.3 226.5 316.5 225.4 315.1 223.8 314.0 221.7 313.3 219.5 312.8 217.6 312.4 215.9 312.1 214.5 311.8 213.2 311.5 212.1 311.3 211.0 311.1 210.0 311.0 209.1 310.8 208.2 310.7 207.4 310.6 206.5 310.5 205.7 310.3 204.8 310.3 204.0 310.2 203.1 310.1 202.1 310.1 201.1 310.0 200.1 310.0 198.9 310.0 197.7 310.0 196.3 310.0 194.7 310.1 192.9 310.3 190.7 310.5 188.1 311.1 185.3 312.2 183.0 314.0 181.9 316.1 181.5 318.2 181.7 320.2 183.5 321.9 185.5 323.3 187.2 324.4 189.0 325.5 190.3 326.6 191.1 327.9 191.5 329.4 191.6 331.4 191.4 333.7 191.3 335.7 191.8 337.2 192.9 338.1 194.5 338.5 196.3 338.8 198.0 338.9 199.8 338.8 201.5 338.6 203.2Z" fill="#242424"/>
<path d="M337.9 204.8 337.5 206.3 337.1 207.8 336.6 209.2 336.1 210.6 335.5 212.0 334.8 213.3 334.1 214.6 333.4 215.9 332.5 217.2 331.6 218.4 330.5 219.6 329.4 220.8 328.1 221.9 326.8 222.9 325.3 223.9 323.7 224.8 322.0 225.6 320.2 225.9 318.3 225.6 316.7 224.6 315.3 222.9 314.3 220.9 313.6 218.8 313.1 217.0 312.7 215.5 312.4 214.1 312.1 212.9 311.9 211.8 311.6 210.8 311.5 209.8 311.3 209.0 311.2 208.1 311.0 207.3 310.9 206.5 310.8 205.6 310.7 204.8 310.6 204.0 310.5 203.1 310.5 202.2 310.4 201.3 310.4 200.2 310.3 199.1 310.3 197.9 310.3 196.6 310.4 195.0 310.5 193.3 310.6 191.2 310.8 188.6 311.3 185.8 312.4 183.4 314.1 182.2 316.1 181.9 318.2 182.1 320.2 184.0 321.8 186.1 323.2 187.8 324.3 189.5 325.3 190.7 326.4 191.5 327.6 191.9 329.2 191.9 331.1 191.7 333.4 191.6 335.4 192.0 336.7 193.2 337.6 194.8 338.0 196.5 338.3 198.2 338.4 199.9 338.3 201.6 338.1 203.2Z" fill="#1c1c1c"/>
<path d="M337.5 204.8 337.1 206.3 336.8 207.7 336.3 209.1 335.8 210.5 335.2 211.8 334.5 213.1 333.8 214.4 333.1 215.7 332.3 216.9 331.3 218.1 330.3 219.3 329.2 220.4 327.9 221.5 326.6 222.4 325.1 223.4 323.6 224.2 321.9 224.8 320.2 225.1 318.4 224.8 316.8 223.8 315.5 222.1 314.6 220.1 313.9 218.2 313.4 216.5 313.0 215.0 312.7 213.7 312.4 212.6 312.2 211.5 312.0 210.6 311.8 209.7 311.6 208.8 311.5 208.0 311.4 207.2 311.2 206.4 311.1 205.6 311.0 204.8 311.0 204.0 310.9 203.2 310.8 202.3 310.8 201.4 310.7 200.4 310.7 199.3 310.7 198.2 310.7 196.9 310.7 195.4 310.8 193.7 310.9 191.6 311.1 189.1 311.5 186.2 312.5 183.8 314.2 182.6 316.2 182.2 318.2 182.5 320.2 184.5 321.8 186.6 323.1 188.4 324.2 190.0 325.2 191.1 326.2 191.9 327.4 192.3 329.0 192.3 330.9 192.0 333.2 191.8 335.1 192.3 336.3 193.5 337.1 195.1 337.5 196.7 337.8 198.4 337.9 200.1 337.8 201.7 337.7 203.3Z" fill="#141414"/>
<path d="M337.0,204.8C337.0,205.3 336.9,205.8 336.7,206.3C336.6,206.7 336.5,207.2 336.4,207.7C336.2,208.1 336.1,208.6 335.9,209.0C335.8,209.5 335.6,209.9 335.4,210.4C335.2,210.8 335.0,211.2 334.8,211.7C334.6,212.1 334.4,212.5 334.2,212.9C334.0,213.4 333.8,213.8 333.6,214.2C333.3,214.6 333.1,215.0 332.8,215.4C332.6,215.8 332.3,216.2 332.0,216.6C331.7,217.0 331.4,217.4 331.1,217.8C330.8,218.2 330.4,218.6 330.1,219.0C329.7,219.3 329.3,219.7 329.0,220.0C328.6,220.4 328.2,220.7 327.7,221.0C327.3,221.3 326.9,221.7 326.4,222.0C326.0,222.3 325.5,222.5 325.0,222.8C324.5,223.1 324.0,223.4 323.5,223.6C323.0,223.8 322.4,224.0 321.9,224.1C321.3,224.3 320.7,224.4 320.2,224.4C319.6,224.3 319.0,224.2 318.5,224.0C318.0,223.7 317.4,223.4 317.0,222.9C316.5,222.5 316.1,221.9 315.8,221.3C315.4,220.7 315.1,220.0 314.9,219.4C314.6,218.7 314.4,218.1 314.2,217.5C314.0,217.0 313.9,216.4 313.7,216.0C313.6,215.5 313.5,215.0 313.3,214.6C313.2,214.1 313.1,213.7 313.0,213.4C312.9,213.0 312.8,212.6 312.7,212.3C312.6,211.9 312.6,211.6 312.5,211.3C312.4,210.9 312.4,210.6 312.3,210.3C312.2,210.0 312.2,209.7 312.1,209.5C312.1,209.2 312.0,208.9 312.0,208.6C311.9,208.4 311.9,208.1 311.8,207.9C311.8,207.6 311.7,207.3 311.7,207.1C311.7,206.8 311.6,206.6 311.6,206.3C311.6,206.1 311.5,205.8 311.5,205.6C311.5,205.3 311.4,205.1 311.4,204.8C311.4,204.6 311.3,204.3 311.3,204.0C311.3,203.8 311.2,203.5 311.2,203.2C311.2,203.0 311.2,202.7 311.2,202.4C311.1,202.1 311.1,201.8 311.1,201.5C311.1,201.2 311.1,200.9 311.1,200.6C311.0,200.2 311.0,199.9 311.0,199.5C311.0,199.2 311.0,198.8 311.0,198.4C311.0,198.0 311.0,197.6 311.0,197.2C311.0,196.7 311.1,196.2 311.1,195.7C311.1,195.2 311.1,194.7 311.1,194.1C311.2,193.5 311.2,192.8 311.3,192.1C311.3,191.4 311.3,190.6 311.4,189.7C311.5,188.8 311.5,187.6 311.7,186.7C311.9,185.8 312.2,184.8 312.7,184.2C313.1,183.5 313.7,183.3 314.3,183.0C314.9,182.8 315.6,182.7 316.3,182.6C316.9,182.6 317.6,182.5 318.3,182.9C318.9,183.3 319.6,184.2 320.2,184.9C320.7,185.7 321.2,186.5 321.7,187.2C322.2,187.8 322.6,188.4 323.0,189.0C323.4,189.5 323.7,190.0 324.0,190.4C324.4,190.9 324.7,191.2 325.0,191.5C325.3,191.8 325.7,192.1 326.0,192.3C326.4,192.5 326.7,192.6 327.2,192.7C327.6,192.7 328.1,192.7 328.7,192.6C329.3,192.6 329.9,192.5 330.6,192.4C331.3,192.3 332.2,192.1 332.9,192.1C333.6,192.1 334.3,192.3 334.8,192.6C335.3,192.9 335.6,193.4 335.9,193.8C336.2,194.3 336.4,194.8 336.6,195.3C336.8,195.9 336.9,196.4 337.0,197.0C337.1,197.5 337.2,198.1 337.3,198.6C337.3,199.1 337.4,199.7 337.4,200.2C337.4,200.7 337.4,201.3 337.4,201.8C337.4,202.3 337.3,202.8 337.2,203.3C337.2,203.8 337.1,204.3 337.0,204.8Z" fill="none" stroke="#b8b8b8" stroke-width="1.1"/>
<path d="M337.0 204.8 336.7 206.3 336.4 207.7 335.9 209.0 335.4 210.4 334.8 211.7 334.2 212.9 333.6 214.2 332.8 215.4 332.0 216.6 331.1 217.8 330.1 219.0 329.0 220.0 327.7 221.0 326.4 222.0 325.0 222.8 323.5 223.6 321.9 224.1 320.2 224.4 318.5 224.0 317.0 222.9 315.8 221.3 314.9 219.4 314.2 217.5 313.7 216.0 313.3 214.6 313.0 213.4 312.7 212.3 312.5 211.3 312.3 210.3 312.1 209.5 312.0 208.6 311.8 207.9 311.7 207.1 311.6 206.3 311.5 205.6 311.4 204.8 311.3 204.0 311.2 203.2 311.2 202.4 311.1 201.5 311.1 200.6 311.0 199.5 311.0 198.4 311.0 197.2 311.1 195.7 311.1 194.1 311.3 192.1 311.4 189.7 311.7 186.7 312.7 184.2 314.3 183.0 316.3 182.6 318.3 182.9 320.2 184.9 321.7 187.2 323.0 189.0 324.0 190.4 325.0 191.5 326.0 192.3 327.2 192.7 328.7 192.6 330.6 192.4 332.9 192.1 334.8 192.6 335.9 193.8 336.6 195.3 337.0 197.0 337.3 198.6 337.4 200.2 337.4 201.8 337.2 203.3Z" fill="#737373"/>
<path d="M336.5 204.8 336.2 206.2 335.9 207.6 335.4 208.9 334.9 210.2 334.4 211.4 333.8 212.7 333.1 213.9 332.4 215.0 331.6 216.2 330.7 217.3 329.7 218.4 328.6 219.4 327.4 220.4 326.2 221.3 324.8 222.1 323.3 222.8 321.8 223.3 320.2 223.5 318.6 223.2 317.1 222.1 315.9 220.6 315.1 218.8 314.5 217.1 314.0 215.5 313.6 214.2 313.3 213.1 313.0 212.0 312.8 211.0 312.6 210.1 312.4 209.3 312.3 208.5 312.1 207.7 312.0 207.0 311.9 206.3 311.8 205.6 311.7 204.8 311.6 204.1 311.6 203.3 311.5 202.5 311.4 201.6 311.4 200.7 311.4 199.7 311.3 198.6 311.3 197.4 311.4 196.0 311.5 194.5 311.6 192.6 311.8 190.4 312.2 187.7 313.1 185.4 314.7 184.3 316.5 183.9 318.4 184.1 320.2 186.0 321.6 188.0 322.9 189.6 323.9 191.0 324.9 192.0 325.8 192.6 327.0 193.0 328.4 193.1 330.2 192.9 332.3 192.7 334.1 193.1 335.2 194.3 335.9 195.7 336.4 197.3 336.7 198.8 336.8 200.4 336.8 201.9 336.7 203.4Z" fill="#5f5f5f"/>
<path d="M336.0 204.8 335.7 206.2 335.4 207.5 335.0 208.8 334.5 210.0 333.9 211.2 333.3 212.4 332.6 213.5 331.9 214.7 331.1 215.8 330.3 216.9 329.3 217.9 328.3 218.8 327.1 219.7 325.9 220.6 324.6 221.3 323.2 222.0 321.7 222.5 320.2 222.7 318.6 222.3 317.3 221.4 316.1 219.9 315.3 218.2 314.7 216.6 314.2 215.1 313.8 213.9 313.5 212.7 313.3 211.7 313.0 210.8 312.9 209.9 312.7 209.1 312.6 208.4 312.4 207.6 312.3 206.9 312.2 206.2 312.1 205.5 312.0 204.8 312.0 204.1 311.9 203.4 311.8 202.6 311.8 201.8 311.7 200.9 311.7 199.9 311.7 198.9 311.7 197.7 311.7 196.4 311.8 194.9 312.0 193.2 312.3 191.1 312.6 188.7 313.5 186.6 315.0 185.6 316.7 185.2 318.5 185.4 320.2 187.0 321.6 188.8 322.7 190.2 323.8 191.5 324.7 192.4 325.7 193.0 326.8 193.4 328.1 193.5 329.8 193.3 331.8 193.2 333.4 193.7 334.5 194.8 335.2 196.1 335.7 197.6 336.1 199.0 336.3 200.5 336.3 202.0 336.2 203.4Z" fill="#515151"/>
<path d="M335.5 204.8 335.2 206.1 334.9 207.4 334.5 208.7 334.0 209.8 333.4 211.0 332.8 212.1 332.2 213.2 331.5 214.3 330.7 215.3 329.9 216.4 328.9 217.3 327.9 218.2 326.8 219.1 325.7 219.9 324.4 220.6 323.1 221.2 321.6 221.7 320.2 221.8 318.7 221.5 317.4 220.6 316.3 219.2 315.5 217.6 314.9 216.1 314.5 214.7 314.1 213.5 313.8 212.4 313.5 211.5 313.3 210.6 313.1 209.7 313.0 209.0 312.9 208.2 312.7 207.5 312.6 206.8 312.5 206.2 312.5 205.5 312.4 204.8 312.3 204.1 312.2 203.4 312.2 202.7 312.1 201.9 312.0 201.0 312.0 200.1 312.0 199.1 312.0 197.9 312.0 196.7 312.2 195.3 312.4 193.7 312.7 191.8 313.1 189.7 314.0 187.8 315.4 186.8 316.9 186.5 318.6 186.6 320.2 188.0 321.5 189.6 322.6 190.9 323.6 192.0 324.5 192.8 325.5 193.4 326.5 193.8 327.8 193.9 329.4 193.8 331.2 193.8 332.8 194.3 333.8 195.3 334.5 196.5 335.1 197.9 335.5 199.3 335.7 200.7 335.8 202.1 335.7 203.5Z" fill="#464646"/>
<path d="M335.0 204.8 334.7 206.1 334.4 207.3 334.0 208.5 333.5 209.7 333.0 210.8 332.4 211.9 331.7 212.9 331.0 213.9 330.3 214.9 329.4 215.9 328.6 216.8 327.6 217.6 326.5 218.4 325.4 219.2 324.2 219.9 322.9 220.4 321.6 220.9 320.2 221.0 318.8 220.7 317.5 219.8 316.5 218.5 315.7 217.0 315.1 215.6 314.7 214.3 314.3 213.2 314.0 212.1 313.8 211.2 313.6 210.3 313.4 209.5 313.3 208.8 313.2 208.1 313.1 207.4 313.0 206.8 312.9 206.1 312.8 205.5 312.7 204.8 312.6 204.2 312.6 203.5 312.5 202.8 312.4 202.0 312.4 201.2 312.3 200.3 312.3 199.3 312.3 198.2 312.4 197.0 312.5 195.7 312.8 194.3 313.1 192.6 313.6 190.6 314.4 189.0 315.7 188.1 317.2 187.8 318.7 187.9 320.2 189.1 321.4 190.4 322.5 191.5 323.5 192.5 324.4 193.2 325.3 193.8 326.3 194.2 327.5 194.3 329.0 194.3 330.7 194.3 332.1 194.8 333.1 195.8 333.9 196.9 334.4 198.2 334.9 199.5 335.1 200.8 335.2 202.2 335.1 203.5Z" fill="#3b3b3b"/>
<path d="M334.5 204.8 334.2 206.0 333.9 207.2 333.5 208.4 333.0 209.5 332.5 210.6 331.9 211.6 331.3 212.6 330.6 213.5 329.8 214.5 329.0 215.4 328.2 216.2 327.2 217.1 326.2 217.8 325.1 218.5 324.0 219.1 322.8 219.7 321.5 220.0 320.2 220.1 318.9 219.8 317.7 219.0 316.7 217.8 315.9 216.4 315.4 215.1 314.9 213.9 314.6 212.8 314.3 211.8 314.1 210.9 313.9 210.1 313.7 209.3 313.6 208.6 313.5 207.9 313.4 207.3 313.3 206.7 313.2 206.1 313.1 205.4 313.0 204.8 313.0 204.2 312.9 203.5 312.8 202.8 312.7 202.1 312.7 201.3 312.6 200.5 312.6 199.5 312.6 198.5 312.7 197.3 312.9 196.1 313.2 194.8 313.5 193.3 314.0 191.6 314.8 190.1 316.0 189.4 317.4 189.1 318.8 189.1 320.2 190.1 321.4 191.2 322.4 192.1 323.3 193.0 324.2 193.6 325.1 194.2 326.1 194.5 327.2 194.7 328.6 194.8 330.1 194.9 331.4 195.4 332.4 196.3 333.2 197.3 333.8 198.5 334.3 199.7 334.6 201.0 334.7 202.3 334.6 203.6Z" fill="#323232"/>
<path d="M333.9 204.8 333.7 206.0 333.4 207.1 333.0 208.3 332.5 209.3 332.0 210.3 331.4 211.3 330.8 212.3 330.1 213.2 329.4 214.1 328.6 214.9 327.8 215.7 326.9 216.5 325.9 217.2 324.9 217.8 323.8 218.4 322.6 218.9 321.4 219.2 320.2 219.3 318.9 219.0 317.8 218.3 316.9 217.1 316.2 215.9 315.6 214.6 315.2 213.5 314.8 212.5 314.5 211.5 314.3 210.7 314.1 209.9 314.0 209.1 313.9 208.5 313.8 207.8 313.7 207.2 313.6 206.6 313.5 206.0 313.4 205.4 313.4 204.8 313.3 204.2 313.2 203.6 313.1 202.9 313.1 202.2 313.0 201.5 313.0 200.7 312.9 199.7 312.9 198.7 313.0 197.7 313.2 196.5 313.5 195.3 313.9 194.0 314.5 192.6 315.3 191.3 316.4 190.7 317.6 190.4 318.9 190.4 320.2 191.1 321.3 192.0 322.3 192.8 323.2 193.5 324.1 194.1 325.0 194.6 325.9 194.9 326.9 195.1 328.2 195.3 329.5 195.5 330.8 195.9 331.7 196.7 332.5 197.7 333.1 198.8 333.7 199.9 334.0 201.1 334.1 202.4 334.1 203.6Z" fill="#2a2a2a"/>
<path d="M333.4 204.8 333.2 206.0 332.9 207.1 332.5 208.1 332.1 209.2 331.6 210.1 331.0 211.1 330.3 211.9 329.7 212.8 329.0 213.6 328.2 214.4 327.4 215.2 326.5 215.9 325.6 216.5 324.6 217.1 323.6 217.6 322.5 218.1 321.4 218.4 320.2 218.5 319.0 218.2 317.9 217.5 317.1 216.5 316.4 215.3 315.8 214.1 315.4 213.1 315.1 212.1 314.8 211.2 314.6 210.4 314.4 209.6 314.3 208.9 314.2 208.3 314.1 207.7 314.0 207.1 313.9 206.5 313.8 205.9 313.8 205.4 313.7 204.8 313.6 204.2 313.6 203.7 313.5 203.0 313.4 202.4 313.3 201.6 313.3 200.8 313.2 200.0 313.2 199.0 313.3 198.0 313.5 196.9 313.9 195.9 314.4 194.8 314.9 193.6 315.7 192.5 316.7 192.0 317.9 191.7 319.0 191.6 320.2 192.2 321.2 192.8 322.2 193.4 323.1 194.0 323.9 194.5 324.8 194.9 325.7 195.3 326.7 195.6 327.8 195.8 329.0 196.0 330.1 196.5 331.0 197.2 331.8 198.1 332.5 199.1 333.1 200.1 333.4 201.3 333.6 202.5 333.6 203.6Z" fill="#222222"/>
<path d="M332.9 204.8 332.7 205.9 332.4 207.0 332.0 208.0 331.6 209.0 331.1 209.9 330.5 210.8 329.9 211.6 329.2 212.4 328.5 213.2 327.8 213.9 327.0 214.6 326.2 215.3 325.3 215.9 324.4 216.4 323.4 216.9 322.4 217.3 321.3 217.6 320.2 217.6 319.1 217.4 318.1 216.7 317.2 215.8 316.6 214.7 316.1 213.6 315.6 212.7 315.3 211.8 315.1 210.9 314.9 210.1 314.7 209.4 314.6 208.7 314.5 208.1 314.4 207.5 314.3 207.0 314.2 206.4 314.1 205.9 314.1 205.4 314.0 204.8 314.0 204.3 313.9 203.7 313.8 203.1 313.7 202.5 313.7 201.8 313.6 201.0 313.5 200.2 313.6 199.3 313.7 198.3 313.9 197.3 314.3 196.4 314.8 195.5 315.4 194.6 316.1 193.7 317.1 193.3 318.1 193.0 319.1 192.9 320.2 193.2 321.2 193.6 322.1 194.0 322.9 194.5 323.8 194.9 324.6 195.3 325.5 195.7 326.4 196.0 327.4 196.3 328.4 196.6 329.4 197.1 330.3 197.7 331.1 198.5 331.8 199.4 332.5 200.3 332.9 201.4 333.0 202.5 333.0 203.7Z" fill="#1a1a1a"/>
<path d="M332.4 204.8 332.2 205.9 331.9 206.9 331.5 207.9 331.1 208.8 330.6 209.7 330.0 210.5 329.4 211.3 328.8 212.0 328.1 212.8 327.4 213.4 326.6 214.1 325.9 214.7 325.0 215.2 324.1 215.7 323.2 216.2 322.2 216.5 321.2 216.7 320.2 216.8 319.1 216.5 318.2 215.9 317.4 215.1 316.8 214.1 316.3 213.1 315.9 212.3 315.6 211.4 315.3 210.6 315.1 209.9 315.0 209.2 314.9 208.5 314.7 207.9 314.7 207.4 314.6 206.9 314.5 206.3 314.5 205.8 314.4 205.3 314.3 204.8 314.3 204.3 314.2 203.8 314.1 203.2 314.1 202.6 314.0 201.9 313.9 201.2 313.9 200.4 313.9 199.5 314.0 198.6 314.2 197.7 314.7 197.0 315.2 196.2 315.8 195.5 316.6 194.9 317.4 194.5 318.3 194.3 319.2 194.1 320.2 194.2 321.1 194.4 322.0 194.7 322.8 195.0 323.6 195.3 324.4 195.7 325.2 196.1 326.1 196.4 326.9 196.7 327.9 197.1 328.8 197.6 329.6 198.2 330.4 198.9 331.2 199.7 331.9 200.6 332.3 201.6 332.5 202.6 332.5 203.7Z" fill="#131313"/>
<path d="M331.9,204.8C331.8,205.2 331.7,205.5 331.7,205.8C331.6,206.2 331.5,206.5 331.4,206.8C331.3,207.1 331.2,207.4 331.0,207.7C330.9,208.0 330.8,208.3 330.6,208.6C330.5,208.9 330.3,209.2 330.1,209.5C330.0,209.7 329.8,210.0 329.6,210.3C329.4,210.5 329.2,210.7 329.0,211.0C328.8,211.2 328.6,211.5 328.3,211.7C328.1,211.9 327.9,212.1 327.7,212.3C327.4,212.5 327.2,212.7 327.0,212.9C326.8,213.1 326.5,213.3 326.3,213.5C326.0,213.7 325.8,213.9 325.5,214.1C325.3,214.3 325.0,214.4 324.7,214.6C324.5,214.7 324.2,214.9 323.9,215.0C323.6,215.2 323.3,215.3 323.0,215.4C322.7,215.5 322.4,215.6 322.1,215.7C321.8,215.8 321.5,215.9 321.1,215.9C320.8,215.9 320.5,216.0 320.2,215.9C319.9,215.9 319.5,215.8 319.2,215.7C318.9,215.6 318.6,215.4 318.3,215.2C318.1,214.9 317.8,214.7 317.6,214.4C317.4,214.1 317.2,213.8 317.0,213.5C316.8,213.2 316.7,212.9 316.5,212.7C316.4,212.4 316.2,212.1 316.1,211.8C316.0,211.6 315.9,211.3 315.8,211.1C315.7,210.8 315.6,210.5 315.6,210.3C315.5,210.1 315.4,209.8 315.4,209.6C315.3,209.4 315.3,209.2 315.2,208.9C315.2,208.7 315.2,208.5 315.1,208.3C315.1,208.2 315.1,208.0 315.0,207.8C315.0,207.6 315.0,207.4 315.0,207.2C314.9,207.1 314.9,206.9 314.9,206.7C314.9,206.6 314.9,206.4 314.8,206.3C314.8,206.1 314.8,205.9 314.8,205.8C314.8,205.6 314.7,205.5 314.7,205.3C314.7,205.1 314.7,205.0 314.7,204.8C314.7,204.7 314.6,204.5 314.6,204.3C314.6,204.2 314.6,204.0 314.6,203.8C314.5,203.7 314.5,203.5 314.5,203.3C314.4,203.1 314.4,202.9 314.4,202.7C314.4,202.5 314.3,202.3 314.3,202.1C314.3,201.9 314.3,201.6 314.2,201.4C314.2,201.1 314.2,200.9 314.2,200.6C314.2,200.4 314.2,200.1 314.2,199.8C314.2,199.5 314.2,199.2 314.3,198.9C314.4,198.7 314.5,198.4 314.6,198.2C314.7,197.9 314.9,197.7 315.0,197.5C315.2,197.3 315.4,197.1 315.6,197.0C315.8,196.8 316.1,196.6 316.3,196.5C316.5,196.4 316.8,196.2 317.0,196.1C317.3,196.0 317.5,195.9 317.8,195.8C318.0,195.7 318.3,195.6 318.5,195.6C318.8,195.5 319.1,195.4 319.3,195.4C319.6,195.3 319.9,195.3 320.2,195.2C320.4,195.2 320.7,195.2 321.0,195.2C321.3,195.2 321.6,195.3 321.8,195.3C322.1,195.4 322.4,195.4 322.7,195.5C322.9,195.6 323.2,195.7 323.5,195.8C323.7,195.9 324.0,196.0 324.2,196.1C324.5,196.2 324.8,196.3 325.0,196.4C325.3,196.6 325.5,196.7 325.8,196.8C326.0,197.0 326.3,197.1 326.5,197.2C326.8,197.4 327.0,197.5 327.3,197.7C327.6,197.8 327.8,198.0 328.1,198.2C328.4,198.3 328.6,198.5 328.9,198.7C329.2,198.9 329.5,199.1 329.7,199.3C330.0,199.5 330.3,199.7 330.5,200.0C330.8,200.2 331.1,200.5 331.2,200.8C331.4,201.1 331.6,201.4 331.7,201.7C331.8,202.0 331.9,202.4 332.0,202.7C332.0,203.1 332.0,203.4 332.0,203.8C332.0,204.1 331.9,204.5 331.9,204.8Z" fill="none" stroke="#b8b8b8" stroke-width="1.1"/>
<path d="M331.9 204.8 331.7 205.8 331.4 206.8 331.0 207.7 330.6 208.6 330.1 209.5 329.6 210.3 329.0 211.0 328.3 211.7 327.7 212.3 327.0 212.9 326.3 213.5 325.5 214.1 324.7 214.6 323.9 215.0 323.0 215.4 322.1 215.7 321.1 215.9 320.2 215.9 319.2 215.7 318.3 215.2 317.6 214.4 317.0 213.5 316.5 212.7 316.1 211.8 315.8 211.1 315.6 210.3 315.4 209.6 315.2 208.9 315.1 208.3 315.0 207.8 315.0 207.2 314.9 206.7 314.8 206.3 314.8 205.8 314.7 205.3 314.7 204.8 314.6 204.3 314.6 203.8 314.5 203.3 314.4 202.7 314.3 202.1 314.2 201.4 314.2 200.6 314.2 199.8 314.3 198.9 314.6 198.2 315.0 197.5 315.6 197.0 316.3 196.5 317.0 196.1 317.8 195.8 318.5 195.6 319.3 195.4 320.2 195.2 321.0 195.2 321.8 195.3 322.7 195.5 323.5 195.8 324.2 196.1 325.0 196.4 325.8 196.8 326.5 197.2 327.3 197.7 328.1 198.2 328.9 198.7 329.7 199.3 330.5 200.0 331.2 200.8 331.7 201.7 332.0 202.7 332.0 203.8Z" fill="#5a5a5a"/>
<path d="M330.7 204.8 330.5 205.7 330.3 206.6 330.0 207.4 329.6 208.2 329.1 209.0 328.6 209.7 328.1 210.4 327.5 211.0 326.9 211.6 326.3 212.1 325.7 212.7 325.0 213.2 324.3 213.6 323.5 214.0 322.7 214.4 321.9 214.6 321.0 214.8 320.2 214.8 319.3 214.6 318.5 214.1 317.9 213.4 317.3 212.7 316.9 211.9 316.5 211.1 316.2 210.4 316.0 209.8 315.9 209.1 315.7 208.5 315.6 208.0 315.6 207.5 315.5 207.0 315.4 206.5 315.4 206.1 315.3 205.7 315.3 205.2 315.2 204.8 315.2 204.4 315.1 203.9 315.0 203.4 315.0 202.9 314.9 202.4 314.8 201.7 314.8 201.0 314.8 200.3 314.9 199.5 315.1 198.8 315.6 198.2 316.1 197.7 316.7 197.3 317.3 197.0 318.0 196.7 318.7 196.5 319.4 196.3 320.2 196.2 320.9 196.2 321.7 196.3 322.4 196.4 323.1 196.7 323.8 196.9 324.5 197.3 325.2 197.6 325.9 198.0 326.6 198.4 327.3 198.8 328.0 199.3 328.8 199.8 329.5 200.5 330.1 201.2 330.6 202.0 330.8 202.9 330.8 203.9Z" fill="#494949"/>
<path d="M329.5 204.8 329.4 205.6 329.1 206.4 328.9 207.2 328.5 207.9 328.2 208.5 327.7 209.2 327.2 209.8 326.7 210.3 326.2 210.8 325.6 211.3 325.0 211.8 324.4 212.2 323.8 212.6 323.1 213.0 322.4 213.3 321.7 213.5 320.9 213.7 320.2 213.7 319.4 213.5 318.7 213.1 318.1 212.5 317.6 211.8 317.2 211.1 316.9 210.4 316.7 209.8 316.5 209.2 316.3 208.6 316.2 208.1 316.1 207.6 316.1 207.2 316.0 206.8 315.9 206.4 315.9 206.0 315.9 205.6 315.8 205.2 315.8 204.8 315.7 204.4 315.7 204.0 315.6 203.6 315.5 203.1 315.5 202.6 315.4 202.1 315.4 201.5 315.4 200.8 315.5 200.1 315.7 199.5 316.1 199.0 316.5 198.5 317.1 198.2 317.6 197.9 318.2 197.6 318.9 197.4 319.5 197.3 320.2 197.2 320.8 197.1 321.5 197.2 322.2 197.4 322.8 197.6 323.4 197.8 324.0 198.1 324.7 198.4 325.3 198.8 325.9 199.1 326.5 199.5 327.2 199.9 327.8 200.4 328.5 201.0 329.0 201.6 329.4 202.3 329.6 203.2 329.6 204.0Z" fill="#3c3c3c"/>
<path d="M328.4 204.8 328.2 205.5 328.0 206.2 327.8 206.9 327.5 207.5 327.2 208.1 326.8 208.6 326.3 209.1 325.9 209.6 325.4 210.1 324.9 210.5 324.4 210.9 323.9 211.3 323.4 211.7 322.8 212.0 322.2 212.2 321.5 212.5 320.9 212.6 320.2 212.6 319.5 212.4 318.9 212.1 318.4 211.5 318.0 210.9 317.6 210.3 317.3 209.7 317.1 209.2 316.9 208.7 316.8 208.2 316.7 207.7 316.6 207.3 316.6 206.9 316.5 206.5 316.5 206.2 316.4 205.8 316.4 205.5 316.4 205.2 316.3 204.8 316.3 204.5 316.2 204.1 316.2 203.8 316.1 203.3 316.1 202.9 316.0 202.4 316.0 201.9 316.0 201.3 316.1 200.7 316.3 200.2 316.6 199.7 317.0 199.3 317.5 199.0 318.0 198.7 318.5 198.5 319.0 198.3 319.6 198.2 320.2 198.1 320.8 198.1 321.3 198.2 321.9 198.3 322.5 198.5 323.0 198.7 323.6 198.9 324.1 199.2 324.6 199.5 325.2 199.8 325.7 200.2 326.3 200.5 326.9 201.0 327.4 201.4 327.9 202.0 328.3 202.7 328.4 203.4 328.4 204.1Z" fill="#313131"/>
<path d="M327.2 204.8 327.1 205.4 326.9 206.0 326.7 206.6 326.4 207.1 326.2 207.6 325.8 208.1 325.5 208.5 325.1 208.9 324.7 209.3 324.3 209.7 323.8 210.0 323.4 210.4 322.9 210.7 322.4 211.0 321.9 211.2 321.3 211.4 320.8 211.5 320.2 211.5 319.6 211.3 319.1 211.0 318.6 210.6 318.3 210.0 318.0 209.5 317.7 209.0 317.6 208.6 317.4 208.1 317.3 207.7 317.2 207.3 317.1 206.9 317.1 206.6 317.0 206.3 317.0 206.0 317.0 205.7 316.9 205.4 316.9 205.1 316.9 204.8 316.8 204.5 316.8 204.2 316.8 203.9 316.7 203.6 316.7 203.2 316.6 202.8 316.6 202.3 316.6 201.8 316.6 201.3 316.8 200.8 317.1 200.4 317.4 200.1 317.8 199.8 318.3 199.6 318.7 199.4 319.2 199.3 319.7 199.1 320.2 199.1 320.7 199.1 321.2 199.1 321.7 199.2 322.2 199.4 322.6 199.6 323.1 199.8 323.5 200.0 324.0 200.3 324.4 200.5 324.9 200.8 325.4 201.1 325.9 201.5 326.4 201.9 326.8 202.4 327.1 203.0 327.2 203.6 327.3 204.2Z" fill="#282828"/>
<path d="M326.0 204.8 325.9 205.3 325.8 205.8 325.6 206.3 325.4 206.7 325.2 207.1 324.9 207.5 324.6 207.9 324.3 208.2 323.9 208.6 323.6 208.9 323.2 209.2 322.8 209.4 322.4 209.7 322.0 209.9 321.6 210.1 321.1 210.3 320.7 210.4 320.2 210.4 319.7 210.3 319.3 210.0 318.9 209.6 318.6 209.2 318.3 208.7 318.1 208.3 318.0 207.9 317.9 207.6 317.8 207.2 317.7 206.9 317.7 206.6 317.6 206.3 317.6 206.0 317.5 205.8 317.5 205.5 317.5 205.3 317.4 205.1 317.4 204.8 317.4 204.6 317.4 204.3 317.3 204.1 317.3 203.8 317.2 203.5 317.2 203.1 317.2 202.7 317.2 202.3 317.2 201.9 317.4 201.5 317.6 201.2 317.9 200.9 318.2 200.7 318.6 200.5 319.0 200.3 319.4 200.2 319.8 200.1 320.2 200.0 320.6 200.0 321.0 200.1 321.4 200.2 321.8 200.3 322.2 200.4 322.6 200.6 323.0 200.8 323.4 201.0 323.7 201.3 324.1 201.5 324.5 201.8 325.0 202.1 325.4 202.4 325.7 202.8 325.9 203.3 326.1 203.8 326.1 204.3Z" fill="#1f1f1f"/>
<path d="M324.8 204.8 324.8 205.2 324.7 205.6 324.5 206.0 324.4 206.3 324.2 206.7 323.9 207.0 323.7 207.3 323.4 207.6 323.2 207.8 322.9 208.1 322.6 208.3 322.3 208.5 322.0 208.7 321.7 208.9 321.3 209.1 320.9 209.2 320.6 209.3 320.2 209.3 319.8 209.2 319.4 209.0 319.1 208.6 318.9 208.3 318.7 208.0 318.5 207.6 318.4 207.3 318.3 207.0 318.3 206.7 318.2 206.5 318.2 206.2 318.1 206.0 318.1 205.8 318.1 205.6 318.0 205.4 318.0 205.2 318.0 205.0 318.0 204.8 317.9 204.6 317.9 204.4 317.9 204.2 317.9 204.0 317.8 203.7 317.8 203.4 317.8 203.1 317.8 202.8 317.8 202.5 317.9 202.2 318.1 201.9 318.4 201.7 318.6 201.5 318.9 201.3 319.2 201.2 319.5 201.1 319.8 201.0 320.2 201.0 320.5 201.0 320.8 201.0 321.2 201.1 321.5 201.2 321.8 201.3 322.1 201.5 322.4 201.6 322.7 201.8 323.0 202.0 323.3 202.2 323.7 202.4 324.0 202.6 324.3 202.9 324.6 203.2 324.8 203.6 324.9 204.0 324.9 204.4Z" fill="#181818"/>
<path d="M323.7 204.8 323.6 205.1 323.5 205.4 323.4 205.7 323.3 206.0 323.2 206.2 323.0 206.4 322.8 206.7 322.6 206.9 322.4 207.1 322.2 207.3 322.0 207.4 321.8 207.6 321.5 207.7 321.3 207.9 321.0 208.0 320.7 208.1 320.5 208.1 320.2 208.2 319.9 208.1 319.6 207.9 319.4 207.7 319.2 207.4 319.1 207.2 319.0 206.9 318.9 206.7 318.8 206.5 318.7 206.3 318.7 206.1 318.7 205.9 318.6 205.7 318.6 205.5 318.6 205.4 318.6 205.2 318.6 205.1 318.5 205.0 318.5 204.8 318.5 204.7 318.5 204.5 318.5 204.4 318.4 204.2 318.4 204.0 318.4 203.8 318.4 203.6 318.4 203.3 318.4 203.1 318.5 202.8 318.6 202.6 318.8 202.5 319.0 202.3 319.2 202.2 319.4 202.1 319.7 202.0 319.9 202.0 320.2 201.9 320.4 201.9 320.7 202.0 320.9 202.0 321.2 202.1 321.4 202.2 321.6 202.3 321.9 202.4 322.1 202.5 322.3 202.7 322.5 202.8 322.8 203.0 323.0 203.2 323.3 203.4 323.5 203.6 323.6 203.9 323.7 204.2 323.7 204.5Z" fill="#101010"/>
<path d="M322.5 204.8 322.5 205.0 322.4 205.2 322.3 205.4 322.3 205.6 322.2 205.7 322.1 205.9 321.9 206.1 321.8 206.2 321.7 206.3 321.5 206.4 321.4 206.6 321.2 206.7 321.1 206.8 320.9 206.9 320.7 206.9 320.6 207.0 320.4 207.0 320.2 207.0 320.0 207.0 319.8 206.9 319.7 206.7 319.5 206.6 319.4 206.4 319.4 206.2 319.3 206.1 319.3 205.9 319.2 205.8 319.2 205.6 319.2 205.5 319.1 205.4 319.1 205.3 319.1 205.2 319.1 205.1 319.1 205.0 319.1 204.9 319.1 204.8 319.1 204.7 319.0 204.6 319.0 204.5 319.0 204.4 319.0 204.3 319.0 204.1 319.0 204.0 319.0 203.8 319.0 203.6 319.1 203.5 319.1 203.4 319.3 203.2 319.4 203.2 319.5 203.1 319.7 203.0 319.8 203.0 320.0 202.9 320.2 202.9 320.3 202.9 320.5 202.9 320.7 203.0 320.8 203.0 321.0 203.1 321.1 203.1 321.3 203.2 321.4 203.3 321.6 203.4 321.8 203.5 321.9 203.6 322.1 203.7 322.2 203.9 322.4 204.0 322.5 204.2 322.5 204.4 322.5 204.6Z" fill="#0a0a0a"/>
<path d="M321.3 204.8 321.3 204.9 321.3 205.0 321.3 205.1 321.2 205.2 321.2 205.3 321.1 205.4 321.1 205.4 321.0 205.5 320.9 205.6 320.9 205.6 320.8 205.7 320.7 205.7 320.6 205.8 320.5 205.8 320.5 205.9 320.4 205.9 320.3 205.9 320.2 205.9 320.1 205.9 320.0 205.9 319.9 205.8 319.9 205.7 319.8 205.6 319.8 205.5 319.7 205.4 319.7 205.4 319.7 205.3 319.7 205.2 319.7 205.2 319.7 205.1 319.7 205.1 319.6 205.0 319.6 205.0 319.6 204.9 319.6 204.9 319.6 204.8 319.6 204.8 319.6 204.7 319.6 204.7 319.6 204.6 319.6 204.5 319.6 204.5 319.6 204.4 319.6 204.3 319.6 204.2 319.6 204.2 319.7 204.1 319.7 204.0 319.8 204.0 319.9 204.0 319.9 203.9 320.0 203.9 320.1 203.9 320.2 203.9 320.3 203.9 320.3 203.9 320.4 203.9 320.5 203.9 320.6 203.9 320.7 204.0 320.7 204.0 320.8 204.1 320.9 204.1 321.0 204.2 321.0 204.2 321.1 204.3 321.2 204.3 321.3 204.4 321.3 204.5 321.3 204.6 321.4 204.7Z" fill="#030303"/>
</g>
<line x1="294.0" y1="72.7" x2="473.0" y2="72.7" stroke="#c4c4c4" stroke-width="1.4" />
<line x1="473.0" y1="72.7" x2="473.0" y2="250.4" stroke="#8a8a8a" stroke-width="1.4" />
<line x1="294.0" y1="72.2" x2="294.0" y2="251.1" stroke="#111" stroke-width="1.4" />
<line x1="293.3" y1="250.7" x2="473.0" y2="250.7" stroke="#3a3a3a" stroke-width="1.7" />
<rect x="299.6" y="117.4" width="41.8" height="45.0" fill="none" stroke="#7676e4" stroke-width="1.3"/>
<rect x="371.6" y="118.6" width="40.1" height="100.2" fill="none" stroke="#7676e4" stroke-width="1.3"/>
<line x1="291.0" y1="88.0" x2="294.0" y2="88.0" stroke="#111" stroke-width="1.3" />
<text x="285.0" y="93.6" font-size="18" text-anchor="end">10<tspan font-size="12" dy="-7">5</tspan></text>
<line x1="291.0" y1="129.0" x2="294.0" y2="129.0" stroke="#111" stroke-width="1.3" />
<text x="285.0" y="134.6" font-size="18" text-anchor="end">10<tspan font-size="12" dy="-7">4</tspan></text>
<line x1="291.0" y1="169.5" x2="294.0" y2="169.5" stroke="#111" stroke-width="1.3" />
<text x="285.0" y="175.1" font-size="18" text-anchor="end">10<tspan font-size="12" dy="-7">3</tspan></text>
<line x1="291.0" y1="212.9" x2="294.0" y2="212.9" stroke="#111" stroke-width="1.3" />
<text x="285.0" y="218.5" font-size="18" text-anchor="end">10<tspan font-size="12" dy="-7">2</tspan></text>
<line x1="291.0" y1="232.4" x2="294.0" y2="232.4" stroke="#111" stroke-width="1.3" />
<text x="284.5" y="238.4" font-size="18" text-anchor="end">0</text>
<line x1="292.4" y1="116.7" x2="294.0" y2="116.7" stroke="#333" stroke-width="0.9" />
<line x1="292.4" y1="109.4" x2="294.0" y2="109.4" stroke="#333" stroke-width="0.9" />
<line x1="292.4" y1="104.3" x2="294.0" y2="104.3" stroke="#333" stroke-width="0.9" />
<line x1="292.4" y1="100.3" x2="294.0" y2="100.3" stroke="#333" stroke-width="0.9" />
<line x1="292.4" y1="97.1" x2="294.0" y2="97.1" stroke="#333" stroke-width="0.9" />
<line x1="292.4" y1="94.4" x2="294.0" y2="94.4" stroke="#333" stroke-width="0.9" />
<line x1="292.4" y1="92.0" x2="294.0" y2="92.0" stroke="#333" stroke-width="0.9" />
<line x1="292.4" y1="89.9" x2="294.0" y2="89.9" stroke="#333" stroke-width="0.9" />
<line x1="292.4" y1="157.3" x2="294.0" y2="157.3" stroke="#333" stroke-width="0.9" />
<line x1="292.4" y1="150.2" x2="294.0" y2="150.2" stroke="#333" stroke-width="0.9" />
<line x1="292.4" y1="145.1" x2="294.0" y2="145.1" stroke="#333" stroke-width="0.9" />
<line x1="292.4" y1="141.2" x2="294.0" y2="141.2" stroke="#333" stroke-width="0.9" />
<line x1="292.4" y1="138.0" x2="294.0" y2="138.0" stroke="#333" stroke-width="0.9" />
<line x1="292.4" y1="135.3" x2="294.0" y2="135.3" stroke="#333" stroke-width="0.9" />
<line x1="292.4" y1="132.9" x2="294.0" y2="132.9" stroke="#333" stroke-width="0.9" />
<line x1="292.4" y1="130.9" x2="294.0" y2="130.9" stroke="#333" stroke-width="0.9" />
<line x1="292.4" y1="199.8" x2="294.0" y2="199.8" stroke="#333" stroke-width="0.9" />
<line x1="292.4" y1="192.2" x2="294.0" y2="192.2" stroke="#333" stroke-width="0.9" />
<line x1="292.4" y1="186.8" x2="294.0" y2="186.8" stroke="#333" stroke-width="0.9" />
<line x1="292.4" y1="182.6" x2="294.0" y2="182.6" stroke="#333" stroke-width="0.9" />
<line x1="292.4" y1="179.1" x2="294.0" y2="179.1" stroke="#333" stroke-width="0.9" />
<line x1="292.4" y1="176.2" x2="294.0" y2="176.2" stroke="#333" stroke-width="0.9" />
<line x1="292.4" y1="173.7" x2="294.0" y2="173.7" stroke="#333" stroke-width="0.9" />
<line x1="292.4" y1="171.5" x2="294.0" y2="171.5" stroke="#333" stroke-width="0.9" />
<line x1="292.4" y1="78.0" x2="294.0" y2="78.0" stroke="#333" stroke-width="0.9" />
<line x1="292.4" y1="80.5" x2="294.0" y2="80.5" stroke="#333" stroke-width="0.9" />
<line x1="292.4" y1="83.0" x2="294.0" y2="83.0" stroke="#333" stroke-width="0.9" />
<line x1="292.4" y1="218.0" x2="294.0" y2="218.0" stroke="#333" stroke-width="0.9" />
<line x1="292.4" y1="222.0" x2="294.0" y2="222.0" stroke="#333" stroke-width="0.9" />
<line x1="292.4" y1="226.0" x2="294.0" y2="226.0" stroke="#333" stroke-width="0.9" />
<line x1="292.4" y1="238.0" x2="294.0" y2="238.0" stroke="#333" stroke-width="0.9" />
<line x1="292.4" y1="242.0" x2="294.0" y2="242.0" stroke="#333" stroke-width="0.9" />
<line x1="292.4" y1="246.0" x2="294.0" y2="246.0" stroke="#333" stroke-width="0.9" />
<line x1="332.4" y1="250.4" x2="332.4" y2="254.6" stroke="#111" stroke-width="1.3" />
<text x="335.4" y="274.6" font-size="18" text-anchor="middle">10<tspan font-size="12" dy="-7">2</tspan></text>
<line x1="373.5" y1="250.4" x2="373.5" y2="254.6" stroke="#111" stroke-width="1.3" />
<text x="374.9" y="274.6" font-size="18" text-anchor="middle">10<tspan font-size="12" dy="-7">3</tspan></text>
<line x1="416.8" y1="250.4" x2="416.8" y2="254.6" stroke="#111" stroke-width="1.3" />
<text x="416.9" y="274.6" font-size="18" text-anchor="middle">10<tspan font-size="12" dy="-7">4</tspan></text>
<line x1="456.5" y1="250.4" x2="456.5" y2="254.6" stroke="#111" stroke-width="1.3" />
<text x="458.6" y="274.6" font-size="18" text-anchor="middle">10<tspan font-size="12" dy="-7">5</tspan></text>
<line x1="311.2" y1="250.4" x2="311.2" y2="254.6" stroke="#111" stroke-width="1.3" />
<text x="312.3" y="274.6" font-size="18" text-anchor="middle">0</text>
<line x1="344.8" y1="250.4" x2="344.8" y2="252.0" stroke="#333" stroke-width="0.9" />
<line x1="352.0" y1="250.4" x2="352.0" y2="252.0" stroke="#333" stroke-width="0.9" />
<line x1="357.1" y1="250.4" x2="357.1" y2="252.0" stroke="#333" stroke-width="0.9" />
<line x1="361.1" y1="250.4" x2="361.1" y2="252.0" stroke="#333" stroke-width="0.9" />
<line x1="364.4" y1="250.4" x2="364.4" y2="252.0" stroke="#333" stroke-width="0.9" />
<line x1="367.1" y1="250.4" x2="367.1" y2="252.0" stroke="#333" stroke-width="0.9" />
<line x1="369.5" y1="250.4" x2="369.5" y2="252.0" stroke="#333" stroke-width="0.9" />
<line x1="371.6" y1="250.4" x2="371.6" y2="252.0" stroke="#333" stroke-width="0.9" />
<line x1="386.5" y1="250.4" x2="386.5" y2="252.0" stroke="#333" stroke-width="0.9" />
<line x1="394.2" y1="250.4" x2="394.2" y2="252.0" stroke="#333" stroke-width="0.9" />
<line x1="399.6" y1="250.4" x2="399.6" y2="252.0" stroke="#333" stroke-width="0.9" />
<line x1="403.8" y1="250.4" x2="403.8" y2="252.0" stroke="#333" stroke-width="0.9" />
<line x1="407.2" y1="250.4" x2="407.2" y2="252.0" stroke="#333" stroke-width="0.9" />
<line x1="410.1" y1="250.4" x2="410.1" y2="252.0" stroke="#333" stroke-width="0.9" />
<line x1="412.6" y1="250.4" x2="412.6" y2="252.0" stroke="#333" stroke-width="0.9" />
<line x1="414.8" y1="250.4" x2="414.8" y2="252.0" stroke="#333" stroke-width="0.9" />
<line x1="428.8" y1="250.4" x2="428.8" y2="252.0" stroke="#333" stroke-width="0.9" />
<line x1="435.7" y1="250.4" x2="435.7" y2="252.0" stroke="#333" stroke-width="0.9" />
<line x1="440.7" y1="250.4" x2="440.7" y2="252.0" stroke="#333" stroke-width="0.9" />
<line x1="444.5" y1="250.4" x2="444.5" y2="252.0" stroke="#333" stroke-width="0.9" />
<line x1="447.7" y1="250.4" x2="447.7" y2="252.0" stroke="#333" stroke-width="0.9" />
<line x1="450.4" y1="250.4" x2="450.4" y2="252.0" stroke="#333" stroke-width="0.9" />
<line x1="452.7" y1="250.4" x2="452.7" y2="252.0" stroke="#333" stroke-width="0.9" />
<line x1="454.7" y1="250.4" x2="454.7" y2="252.0" stroke="#333" stroke-width="0.9" />
<line x1="297.0" y1="250.4" x2="297.0" y2="252.0" stroke="#333" stroke-width="0.9" />
<line x1="301.0" y1="250.4" x2="301.0" y2="252.0" stroke="#333" stroke-width="0.9" />
<line x1="305.0" y1="250.4" x2="305.0" y2="252.0" stroke="#333" stroke-width="0.9" />
<line x1="316.0" y1="250.4" x2="316.0" y2="252.0" stroke="#333" stroke-width="0.9" />
<line x1="320.0" y1="250.4" x2="320.0" y2="252.0" stroke="#333" stroke-width="0.9" />
<line x1="324.0" y1="250.4" x2="324.0" y2="252.0" stroke="#333" stroke-width="0.9" />
<g clip-path="url(#clipA2)">
<path d="M531.7 242.8h1M546.1 168.3h1M590.0 130.1h1M537.0 176.5h1M597.3 166.4h1M535.6 197.5h1M604.3 188.7h1M535.8 166.0h1M588.7 219.3h1M538.4 179.3h1M549.2 127.2h1M593.9 131.2h1M598.3 136.3h1M590.9 197.0h1M595.0 152.8h1M601.9 191.2h1M597.2 133.3h1M540.2 155.7h1M575.5 250.2h1M542.7 168.5h1M531.0 191.9h1M542.7 129.9h1M530.7 218.2h1M542.5 162.1h1M597.9 144.7h1M600.9 182.4h1M593.3 209.5h1M562.7 127.4h1M596.0 150.3h1M546.6 146.6h1M607.2 181.2h1M595.5 162.1h1M531.6 128.3h1M597.0 167.4h1M605.9 182.3h1M601.8 187.1h1M577.5 246.5h1M596.7 172.5h1M542.3 167.7h1M534.9 155.7h1M526.9 197.9h1M529.0 219.4h1M540.0 133.9h1M576.7 247.4h1M528.3 153.5h1M598.3 169.5h1M582.6 245.1h1M530.6 216.6h1M577.8 235.9h1M536.4 176.9h1M588.0 132.8h1M537.5 173.7h1M531.3 173.6h1M538.0 248.1h1M603.3 176.8h1M590.6 213.7h1M584.0 228.0h1M550.4 127.6h1M598.3 136.4h1M596.3 169.8h1M539.8 168.8h1M537.9 126.4h1M531.7 135.9h1M598.2 209.2h1M531.3 193.0h1M534.1 125.9h1M562.2 135.4h1M588.5 219.8h1M598.8 198.1h1M536.6 249.3h1M594.4 155.5h1M561.8 129.5h1M553.4 127.3h1M530.4 183.2h1M600.6 174.8h1M593.0 130.2h1M582.7 231.6h1M594.8 160.5h1M528.4 226.5h1M560.1 124.7h1M542.2 164.5h1M592.7 228.6h1M550.3 125.3h1M586.1 129.1h1M595.8 150.8h1M597.7 138.4h1M526.2 197.8h1M593.3 154.4h1M602.8 198.7h1M532.7 239.2h1M582.6 130.7h1M595.5 156.1h1M563.5 128.0h1M606.6 175.1h1M555.6 127.0h1M600.8 179.3h1M537.9 244.0h1M597.2 146.0h1M566.2 129.1h1M539.8 135.3h1M604.3 190.5h1M540.4 163.0h1M543.4 161.1h1M545.4 129.9h1M605.8 186.7h1M559.8 129.4h1M577.2 127.9h1M585.0 217.8h1M578.6 242.2h1M593.3 148.8h1M537.4 148.2h1M537.9 245.5h1M540.6 160.3h1M539.9 154.2h1M581.3 129.0h1M530.7 197.3h1M597.2 134.7h1M531.8 226.5h1M542.1 164.1h1M597.8 198.2h1M596.1 135.4h1M596.3 131.2h1M594.5 133.1h1M543.4 156.5h1M542.4 165.9h1M544.6 161.9h1M549.2 124.1h1M593.7 212.2h1M545.2 130.4h1M602.8 182.4h1M534.4 246.5h1M594.3 201.3h1M542.8 163.2h1M528.4 191.0h1M584.5 229.0h1M541.5 169.9h1M596.8 165.7h1M531.0 197.1h1M605.1 196.2h1M608.8 141.9h1M600.6 137.9h1M547.4 163.3h1M591.6 220.3h1M546.5 128.5h1M531.9 217.0h1M579.2 129.5h1M602.1 179.8h1M532.0 215.3h1M541.2 170.4h1M602.1 177.8h1M532.6 194.5h1M574.7 128.7h1M597.0 146.6h1M584.9 235.7h1M594.5 167.4h1M541.8 163.0h1M547.7 126.5h1M600.4 132.9h1M530.6 209.8h1M574.2 248.4h1M591.6 209.3h1M544.2 149.1h1M565.2 130.3h1M591.8 158.5h1M586.8 217.1h1M605.7 185.2h1M541.2 154.2h1M590.5 134.6h1M532.4 184.9h1M596.2 160.9h1M587.3 224.1h1M597.0 133.1h1M600.0 189.3h1M601.3 155.5h1M531.7 183.2h1M555.0 126.8h1M539.7 172.5h1M602.8 192.9h1M548.5 128.0h1M604.4 182.9h1M597.7 129.9h1M577.3 131.4h1M529.3 193.9h1M545.9 166.4h1M539.0 143.2h1M604.6 196.0h1M543.7 128.7h1M540.3 147.9h1M541.1 157.4h1M588.2 153.7h1M540.4 167.8h1M602.2 192.8h1M538.9 135.7h1M540.5 146.8h1M542.6 164.9h1M602.6 192.9h1M584.8 226.0h1M530.7 177.7h1M595.7 149.4h1M593.0 207.6h1M599.0 199.4h1M596.3 198.4h1M565.3 129.8h1M541.3 130.3h1M541.5 170.1h1M594.7 153.8h1M541.6 171.1h1M582.9 129.4h1M596.1 169.3h1M584.6 232.7h1M592.9 205.5h1M551.7 126.0h1M530.7 158.2h1M539.0 132.1h1M597.4 125.4h1M543.8 152.5h1M591.8 207.1h1M585.3 224.9h1M587.2 127.5h1M578.1 242.7h1M595.5 135.2h1M603.0 150.8h1M598.4 150.4h1M598.6 211.9h1M541.0 165.9h1M538.6 136.1h1M579.8 243.3h1M531.2 230.4h1M561.5 128.4h1M594.9 128.7h1M544.4 172.0h1M599.7 154.0h1M537.9 134.5h1M538.0 179.9h1M554.4 125.8h1M543.6 141.8h1M533.0 168.8h1M587.5 229.2h1M566.8 129.9h1M532.9 191.1h1M530.0 193.1h1M587.8 129.0h1M571.9 128.6h1M607.7 182.7h1M581.7 243.2h1M588.4 222.2h1M599.2 207.6h1M597.9 141.8h1M533.5 198.9h1M601.2 194.4h1M544.4 123.6h1M604.5 199.5h1M587.0 129.9h1M597.2 196.6h1M602.2 194.9h1M597.4 131.4h1M600.7 199.0h1M538.5 143.8h1M533.7 181.8h1M595.5 134.9h1M580.0 129.0h1M559.6 129.8h1M592.2 130.1h1M592.7 160.6h1M536.7 250.2h1M531.8 221.6h1M593.6 216.4h1M597.1 151.3h1M594.4 130.9h1M597.1 143.1h1M535.4 233.9h1M534.8 183.1h1M546.1 164.9h1M577.1 249.3h1M588.4 130.8h1M541.1 154.7h1M541.2 155.0h1M542.7 174.7h1M599.2 176.8h1M557.1 128.2h1M594.6 172.1h1M529.1 207.1h1M538.2 135.7h1M595.7 153.8h1M537.4 167.7h1M544.1 128.7h1M585.7 223.2h1M600.8 191.9h1M588.4 211.0h1M533.3 219.3h1M592.1 213.6h1M594.4 204.1h1M531.6 226.8h1M595.5 159.7h1M581.7 245.0h1M533.0 212.1h1M601.5 169.9h1M562.2 128.4h1M594.0 158.8h1M597.5 165.4h1M594.7 141.6h1M593.9 214.8h1M606.6 184.1h1M532.1 218.7h1M595.7 205.5h1M597.5 167.2h1M577.2 129.3h1M536.3 245.6h1M530.0 201.6h1M543.1 151.7h1M593.5 133.9h1M594.7 158.7h1M532.9 183.5h1M554.3 128.3h1M547.1 168.8h1M579.5 245.6h1M597.3 213.1h1M541.7 172.6h1M541.4 175.4h1M528.7 203.0h1M528.0 188.7h1M571.2 129.6h1M596.3 150.4h1M533.2 174.4h1M537.7 133.6h1M531.9 232.3h1M554.6 119.4h1M577.0 127.8h1M535.6 176.1h1M552.6 125.6h1M556.5 127.1h1M547.3 128.4h1M565.3 131.6h1M559.2 129.5h1M590.1 155.4h1M585.4 225.4h1M578.4 241.4h1M599.1 143.5h1M560.8 126.4h1M528.7 238.2h1M584.7 131.8h1M593.3 209.6h1M598.5 174.3h1M592.2 169.3h1M570.9 234.8h1M541.1 154.9h1M527.6 245.3h1M589.1 220.7h1M597.2 146.7h1M550.0 125.0h1M595.7 162.6h1M527.6 209.0h1M532.5 188.8h1M580.6 130.2h1M532.9 237.4h1M530.1 189.8h1M598.7 211.1h1M601.3 201.9h1M577.2 243.4h1M529.5 207.0h1M560.1 128.5h1M602.0 177.8h1M596.5 198.6h1M580.5 233.8h1M526.2 159.5h1M584.6 226.3h1M591.6 213.0h1M532.3 163.6h1M593.8 206.7h1M533.3 231.2h1M602.3 188.1h1M555.1 127.1h1M588.4 215.8h1M540.6 177.4h1M558.2 130.1h1M597.3 185.3h1M597.4 144.6h1M534.5 168.8h1M596.9 204.2h1M597.9 200.9h1M582.5 235.1h1M542.4 162.7h1M548.1 127.0h1M589.0 216.4h1M585.4 244.1h1M532.9 180.1h1M548.8 164.6h1M577.9 249.8h1M530.5 189.3h1M534.3 229.7h1M600.4 175.3h1M594.5 204.7h1M543.3 187.7h1M596.4 152.1h1M540.5 131.0h1M533.5 234.7h1M542.8 162.8h1M601.5 194.2h1M537.5 175.3h1M542.9 148.9h1M594.3 159.2h1M543.9 160.3h1M605.7 185.4h1M543.2 174.0h1M529.8 234.4h1M544.6 175.5h1M593.4 127.0h1M536.1 149.9h1M529.0 220.9h1M601.3 135.3h1M597.3 161.8h1M603.5 181.8h1M595.3 176.1h1M533.1 159.9h1M534.4 228.8h1M580.1 238.2h1M531.3 217.5h1M543.1 164.1h1M598.1 143.1h1M583.8 245.2h1M552.8 124.4h1M594.3 160.1h1M543.2 167.8h1M598.8 147.7h1M536.5 142.0h1M592.4 131.9h1M532.3 232.6h1M583.2 224.1h1M589.3 129.8h1M539.0 157.0h1M594.3 173.7h1M534.2 134.9h1M573.2 125.9h1M596.8 133.8h1M533.1 183.9h1M545.3 165.5h1M602.0 181.5h1M546.6 132.5h1M599.3 197.5h1M596.2 150.8h1M583.4 218.2h1M573.3 239.8h1M587.9 215.5h1M545.0 128.4h1M543.4 130.0h1M601.9 134.5h1M554.3 124.2h1M597.1 167.1h1M543.8 163.0h1M605.4 157.7h1M548.6 150.7h1M598.8 198.6h1M533.6 236.8h1M535.6 186.4h1M597.7 141.1h1M533.9 198.6h1M587.6 163.4h1M604.9 192.6h1M534.3 180.0h1M594.6 141.7h1M589.5 226.8h1M550.4 133.2h1M602.4 193.3h1M600.7 195.6h1M596.1 131.5h1M578.7 129.6h1M597.3 161.4h1M597.0 168.1h1M590.5 156.6h1M549.6 175.6h1M536.3 144.1h1M593.1 159.8h1M536.7 136.3h1M533.4 242.3h1M529.6 203.5h1M547.6 128.8h1M538.5 246.0h1M607.7 190.6h1M527.0 216.4h1M580.7 226.2h1M558.1 125.7h1M543.3 130.9h1M601.9 140.5h1M562.9 131.2h1M590.3 130.0h1M598.3 145.0h1M540.6 172.2h1M527.4 196.8h1M595.7 170.1h1M602.0 197.5h1M540.8 131.1h1M541.6 146.6h1M593.2 213.6h1M557.7 123.8h1M590.4 213.6h1M612.5 176.7h1M533.1 229.2h1M557.1 136.7h1M530.3 244.9h1M596.3 202.3h1M539.3 173.6h1M583.7 229.1h1M540.2 172.4h1M557.0 127.5h1M536.5 175.4h1M543.1 161.3h1M537.4 145.0h1M543.2 163.7h1M537.1 147.1h1M530.5 195.3h1M533.4 240.2h1M564.0 127.1h1M533.8 149.3h1M532.7 234.3h1M572.9 129.4h1M608.8 178.6h1M540.8 157.3h1M536.5 144.7h1M596.9 133.9h1M593.0 208.8h1M585.9 221.3h1M609.7 205.6h1M591.7 126.3h1M531.7 139.0h1M529.4 208.7h1M592.6 212.0h1M535.8 235.4h1M548.3 127.7h1M553.0 126.9h1M534.1 242.0h1M556.5 126.9h1M544.2 131.3h1M578.0 245.3h1M547.2 128.6h1M536.5 134.5h1M540.4 171.8h1M599.2 140.7h1M541.3 177.9h1M529.7 237.8h1M542.3 157.1h1M535.2 179.2h1M532.3 183.6h1M541.4 173.1h1M566.7 128.6h1M530.4 206.7h1M601.4 199.0h1M563.6 119.9h1M542.1 160.6h1M592.0 161.6h1M607.6 188.5h1M535.3 179.1h1M567.3 129.4h1M556.7 129.8h1M589.6 214.3h1M575.8 247.1h1M530.2 212.7h1M599.1 138.1h1M533.7 183.4h1M536.4 202.3h1M583.4 235.0h1M538.7 237.4h1M552.8 138.4h1M539.5 153.9h1M575.4 240.5h1M552.2 126.8h1M601.7 181.7h1M551.9 126.3h1M601.2 194.9h1M542.0 129.5h1M598.6 143.2h1M537.6 169.9h1M584.5 128.0h1M542.9 166.1h1M530.3 208.6h1M542.2 167.7h1M559.4 126.1h1M549.8 128.3h1M541.6 155.3h1M599.2 183.2h1M529.5 204.2h1M532.3 176.6h1M576.4 126.3h1M605.7 183.2h1M538.0 176.4h1M585.8 225.7h1M578.9 243.2h1M538.3 146.8h1M601.9 190.2h1M563.2 138.5h1M596.5 168.4h1M527.6 205.2h1M535.1 238.1h1M534.3 246.8h1M537.4 141.1h1M593.9 146.5h1M539.7 172.2h1M583.7 156.0h1M598.5 136.8h1M547.5 127.2h1M540.1 171.8h1M533.0 146.0h1M544.0 161.8h1M596.2 202.2h1M592.5 152.4h1M530.0 212.1h1M585.3 121.9h1M534.8 138.0h1M538.3 137.2h1M598.5 138.6h1M537.3 244.0h1M538.1 142.4h1M566.1 130.5h1M534.1 245.5h1M536.8 175.3h1M530.8 196.6h1M591.8 125.5h1M538.5 170.0h1M603.6 180.9h1M595.5 203.1h1M604.8 194.8h1M567.6 127.9h1M597.0 130.4h1M530.7 202.7h1M540.1 130.4h1M594.9 151.3h1M589.4 217.3h1M586.6 138.6h1M537.7 167.5h1M546.9 162.4h1M600.6 142.3h1M570.1 135.4h1M531.0 219.2h1M533.1 186.5h1M538.3 136.2h1M587.0 130.3h1M537.0 236.1h1M599.1 134.7h1M576.8 242.5h1M529.2 194.4h1M606.9 184.0h1M593.9 130.5h1M597.8 133.5h1M601.2 171.8h1M543.0 147.3h1M537.9 238.8h1M545.6 169.0h1M543.2 164.2h1M530.7 214.1h1M529.6 204.4h1M588.8 211.8h1M601.4 144.1h1M573.3 240.3h1M561.6 127.1h1M583.0 231.4h1M598.8 175.0h1M570.0 128.0h1M563.9 131.3h1M575.5 249.7h1M541.9 143.9h1M585.9 214.4h1M532.0 184.2h1M544.0 162.8h1M533.5 244.9h1M537.0 150.7h1M604.7 193.4h1M558.6 123.1h1M538.7 247.4h1M535.4 178.5h1M590.0 209.1h1M606.3 187.6h1M563.1 128.6h1M585.1 227.4h1M587.3 222.5h1M602.8 191.5h1M600.0 138.2h1M595.6 146.0h1M562.9 127.9h1M541.4 174.0h1M580.2 237.3h1M541.3 137.8h1M602.2 186.7h1M606.0 187.9h1M599.3 136.7h1M540.5 150.4h1M597.9 140.3h1M533.7 197.4h1M588.6 153.0h1M536.1 154.7h1M592.3 151.6h1M590.1 129.8h1M531.0 238.8h1M601.2 136.9h1M558.2 134.1h1M584.3 221.3h1M538.9 179.4h1M595.3 172.8h1M543.0 168.5h1M578.7 244.1h1M531.0 242.0h1M599.9 176.0h1M555.1 125.0h1M601.0 168.3h1M534.6 231.4h1M600.2 143.5h1M597.4 169.4h1M531.4 210.6h1M531.1 223.0h1M526.7 201.7h1M603.4 189.7h1M540.2 168.7h1M547.2 126.2h1M597.3 148.1h1M553.6 128.4h1M540.1 247.9h1M608.2 186.5h1M534.9 177.5h1M552.3 124.7h1M532.6 183.0h1M585.1 220.1h1M588.9 203.8h1M539.9 135.4h1M537.6 153.9h1M540.1 171.8h1M577.7 248.7h1M540.0 133.1h1M530.2 210.6h1M541.0 171.7h1M546.7 126.0h1M596.7 151.2h1M592.5 209.8h1M549.0 128.0h1M547.5 129.0h1M534.8 141.5h1M596.8 201.6h1M597.5 143.1h1M600.7 195.8h1M590.9 209.4h1M561.8 129.8h1M530.8 205.4h1M603.5 181.7h1M543.5 164.6h1M579.9 244.1h1M606.3 214.5h1M542.0 158.5h1M543.2 164.2h1M578.8 242.8h1M599.2 137.2h1M532.2 239.1h1M604.9 181.2h1M542.2 159.3h1M541.9 169.8h1M600.5 133.7h1M592.0 213.1h1M540.7 168.1h1M581.1 240.5h1M593.9 160.1h1M594.7 165.3h1M585.7 224.3h1M604.4 185.0h1M534.6 177.1h1M601.2 187.2h1M539.4 127.7h1M595.6 163.9h1M545.0 136.2h1M577.9 141.5h1M598.5 196.2h1M546.1 125.0h1M596.8 139.8h1M529.3 205.0h1M539.5 248.8h1M532.0 228.0h1M594.6 156.3h1M603.8 183.8h1M605.3 191.3h1M597.1 199.1h1M539.0 135.7h1M534.3 218.6h1M530.9 190.2h1M533.7 162.2h1M596.1 199.8h1M540.4 175.7h1M541.9 159.0h1M593.9 205.7h1M535.2 174.3h1M600.1 192.1h1M540.3 177.2h1M531.2 235.9h1M539.9 155.7h1M565.6 127.5h1M532.0 212.7h1M597.6 167.9h1M530.2 216.3h1M540.7 160.1h1M594.5 130.3h1M543.3 165.6h1M533.4 182.8h1M596.8 171.5h1M589.8 128.2h1M585.3 205.4h1M543.8 168.0h1M597.1 146.2h1M598.8 145.7h1M596.6 126.8h1M553.7 125.0h1M597.4 155.5h1M534.2 228.5h1M533.0 232.7h1M541.0 183.3h1M606.9 185.7h1M595.1 160.6h1M595.5 131.1h1M557.3 127.7h1M604.3 195.0h1M556.0 127.9h1M542.4 181.2h1M544.2 246.2h1M532.3 185.8h1M563.7 125.5h1M603.7 191.8h1M584.2 234.8h1M597.7 176.0h1M541.6 129.9h1M540.8 153.4h1M543.4 133.6h1M596.9 137.7h1M597.4 134.2h1M584.1 233.7h1M531.8 185.2h1M539.6 159.0h1M595.5 133.4h1M537.9 140.1h1M598.0 135.1h1M566.7 127.7h1M596.7 155.4h1M573.0 124.8h1M531.7 180.2h1M553.3 129.2h1M567.9 128.5h1M551.3 174.0h1M548.9 127.1h1M532.2 221.8h1M542.7 240.3h1M577.7 128.5h1M593.5 207.1h1M542.1 163.0h1M588.0 162.3h1M597.0 205.1h1M600.0 200.0h1M574.7 231.0h1M544.0 128.2h1M531.7 127.8h1M593.3 205.6h1M537.9 172.4h1M593.0 165.2h1M585.9 225.3h1M576.5 248.2h1M605.2 133.5h1M543.3 128.2h1M529.5 169.6h1M541.8 131.1h1M598.7 195.5h1M533.8 239.8h1M553.8 127.8h1M604.9 191.1h1M537.5 233.1h1M600.8 198.3h1M540.3 132.6h1M605.5 187.0h1M595.1 148.7h1M545.2 164.1h1M598.8 190.7h1M592.9 195.9h1M602.1 192.2h1M544.2 141.1h1M589.7 187.9h1M596.2 151.4h1M600.3 144.3h1M599.3 160.5h1M590.4 130.0h1M596.5 140.3h1M604.6 185.4h1M629.7 179.1h1M620.5 170.6h1M603.5 158.6h1M618.1 179.9h1M602.6 198.3h1M614.4 164.3h1M618.0 191.9h1M614.2 155.2h1M628.8 146.2h1M617.3 182.3h1M636.5 193.8h1M624.0 175.8h1M613.2 149.8h1M607.2 187.5h1M611.9 143.4h1M610.3 193.8h1M613.7 150.2h1M632.1 143.9h1M625.2 159.6h1M614.2 145.9h1M621.9 170.8h1M621.2 151.2h1M614.6 139.3h1M601.5 145.2h1M598.2 163.0h1M603.8 172.3h1M593.7 183.6h1M613.3 171.6h1M617.3 183.5h1M613.5 195.3h1M621.6 184.0h1M617.7 160.7h1M626.8 157.7h1M598.4 173.6h1M630.3 182.1h1M612.5 152.8h1M615.0 155.9h1M618.2 152.3h1M621.8 177.5h1M618.1 174.5h1M605.0 171.8h1M625.1 151.6h1M607.8 190.4h1M603.7 171.8h1M627.8 151.4h1M608.3 184.9h1M628.3 171.3h1M611.7 151.2h1M615.7 166.9h1M609.8 159.7h1M622.1 139.1h1M635.1 193.5h1M630.6 177.1h1M613.3 132.9h1M637.8 168.3h1M617.3 157.9h1M629.5 160.8h1M617.0 149.0h1M618.1 184.6h1M612.0 172.6h1M603.9 148.2h1M605.1 186.9h1M627.2 212.7h1M635.2 135.3h1M629.1 144.6h1M611.9 178.6h1M627.3 122.0h1M603.8 139.0h1M619.2 162.0h1M616.1 155.9h1M607.0 162.1h1M616.0 168.6h1M612.3 149.8h1M625.4 154.5h1M619.8 156.6h1M629.9 127.6h1M608.5 135.9h1M613.8 141.5h1M593.6 160.8h1M618.2 179.8h1M600.2 140.2h1M636.8 171.6h1M619.9 128.9h1M606.8 182.9h1M612.3 180.7h1M613.5 158.7h1M615.0 163.7h1M627.2 200.3h1M630.9 171.3h1M597.2 185.0h1M611.6 157.0h1M627.7 186.5h1M625.0 178.9h1M622.3 161.4h1M610.2 163.5h1M629.8 156.2h1M623.2 176.8h1M625.7 130.3h1M627.0 180.2h1M630.1 150.5h1M627.7 154.5h1M602.9 190.6h1M617.2 170.7h1M608.5 143.4h1M615.8 175.9h1M623.3 214.5h1M606.4 200.5h1M613.0 161.4h1M625.6 138.9h1M614.5 156.2h1M631.7 177.7h1M613.9 169.6h1M620.1 198.2h1M631.2 154.3h1M642.7 164.3h1M620.3 194.7h1M611.2 163.6h1M617.5 152.2h1M603.4 164.5h1M614.5 143.1h1M623.6 181.2h1M610.9 152.7h1M619.4 172.2h1M622.3 147.0h1M625.2 159.7h1M629.1 205.1h1M635.5 180.4h1M634.7 158.7h1M621.3 190.6h1M614.8 171.7h1M619.6 166.4h1M596.4 155.2h1M621.0 151.6h1M621.9 142.1h1M609.8 149.8h1M612.3 193.8h1M618.5 172.3h1M610.4 136.5h1M609.3 172.4h1M632.6 181.0h1M620.6 158.5h1M623.1 166.9h1M616.6 152.8h1M623.4 180.6h1M606.4 136.5h1M603.2 178.9h1M610.9 176.1h1M624.6 143.4h1M605.8 161.5h1M611.1 191.1h1M627.7 165.5h1M622.8 147.4h1M623.2 178.7h1M612.4 159.7h1M625.1 158.9h1M622.8 160.4h1M619.0 161.4h1M592.8 161.4h1M615.3 134.3h1M625.7 180.1h1M607.8 152.6h1M619.2 173.4h1M602.6 201.4h1M608.5 155.3h1M627.5 165.6h1M627.4 154.3h1M611.6 161.5h1M606.5 156.1h1M615.1 146.0h1M601.5 184.0h1M616.0 139.0h1M610.5 147.5h1M616.5 161.6h1M611.9 156.0h1M637.9 157.4h1M623.8 165.0h1M615.1 168.4h1M624.6 120.2h1M609.7 150.4h1M619.8 155.6h1M608.2 173.4h1M614.2 167.5h1M596.4 172.3h1M608.6 183.5h1M601.2 175.0h1M601.6 144.0h1M614.7 183.4h1M615.8 145.1h1M624.9 145.1h1M615.9 161.7h1M606.7 156.9h1M612.5 158.7h1M627.8 156.3h1M615.7 144.1h1M604.1 159.9h1M617.2 123.4h1M610.1 160.3h1M624.9 163.1h1M621.6 158.9h1M633.7 177.6h1M621.8 180.6h1M624.5 154.9h1M617.2 181.1h1M617.9 139.7h1M633.4 175.7h1M619.0 158.3h1M639.3 178.3h1M606.9 190.2h1M638.6 157.0h1M623.7 164.9h1M624.7 186.9h1M603.8 186.0h1M604.5 146.7h1M621.6 120.3h1M605.0 135.5h1M606.0 173.0h1M620.6 160.2h1M595.5 182.5h1M623.2 150.3h1M611.6 171.7h1M617.6 120.9h1M649.2 177.0h1M611.2 143.7h1M617.6 186.7h1M617.9 163.3h1M615.1 151.8h1M608.1 161.7h1M620.9 189.4h1M634.2 189.0h1M596.8 153.2h1M609.8 149.4h1M617.8 132.0h1M635.1 176.3h1M619.2 163.6h1M636.3 154.0h1M612.0 156.9h1M623.9 187.3h1M608.2 160.2h1M632.7 182.3h1M616.0 173.1h1M609.6 134.6h1M634.4 165.8h1M605.7 180.7h1M629.4 178.6h1M618.9 146.8h1M622.3 132.1h1M619.1 178.7h1M618.6 206.9h1M616.5 167.1h1M639.9 187.0h1M638.4 145.2h1M623.6 157.6h1M631.5 181.9h1M629.7 157.7h1M631.7 122.1h1M631.9 191.3h1M615.5 158.5h1M631.9 139.8h1M613.9 184.1h1M609.2 156.1h1M616.8 130.7h1M630.3 169.4h1M609.8 153.3h1M613.3 142.1h1M626.8 155.5h1M611.5 128.5h1M606.0 134.9h1M625.3 163.0h1M622.3 175.6h1M613.6 171.4h1M624.5 163.8h1M614.6 176.3h1M614.5 138.0h1M620.9 178.5h1M616.1 152.3h1M596.9 147.0h1M615.1 196.0h1M642.2 149.4h1M614.7 165.4h1M635.2 167.1h1M622.1 172.1h1M613.5 163.2h1M629.3 148.1h1M629.9 152.3h1M611.2 179.1h1M595.8 161.9h1M622.0 165.5h1M628.3 170.2h1M611.5 146.9h1M601.2 152.2h1M625.3 181.9h1M617.7 181.9h1M621.6 171.2h1M596.2 131.4h1M626.6 161.4h1M620.1 169.1h1M607.6 156.6h1M615.1 154.2h1M618.5 150.8h1M620.1 188.6h1M624.3 179.5h1M633.7 151.6h1M616.1 156.5h1M603.2 157.6h1M635.1 160.4h1M638.2 132.1h1M605.5 184.4h1M610.6 151.2h1M626.7 136.7h1M633.5 142.4h1M606.8 176.1h1M608.1 183.1h1M632.0 179.2h1M613.1 155.7h1M616.6 185.5h1M613.8 138.3h1M612.6 135.6h1M603.8 135.7h1M613.3 183.0h1M628.5 162.8h1M625.0 134.6h1M631.1 121.4h1M619.2 129.8h1M631.3 166.2h1M616.9 158.5h1M624.6 183.2h1M626.4 182.3h1M640.2 187.6h1M610.4 167.5h1M609.3 147.7h1M610.6 179.1h1M618.9 124.9h1M631.3 139.4h1M616.3 148.4h1M624.3 140.8h1M603.0 180.3h1M613.7 186.1h1M606.5 138.7h1M612.1 141.5h1M606.2 160.6h1M625.7 173.0h1M631.7 173.2h1M617.5 139.6h1M606.0 162.9h1M632.6 163.1h1M603.4 143.8h1M618.6 176.5h1M622.3 189.5h1M609.8 161.4h1M613.6 173.5h1M633.8 149.2h1M632.4 149.6h1M626.3 165.0h1M614.1 155.7h1M620.7 165.9h1M599.4 164.9h1M619.3 152.4h1M623.0 142.2h1M632.0 145.6h1M627.4 182.2h1M622.2 180.2h1M642.9 177.9h1M607.8 153.5h1M620.3 159.9h1M613.4 128.2h1M621.8 171.8h1M626.4 190.1h1M605.7 141.8h1M620.8 137.4h1M610.2 154.6h1M612.8 153.6h1M610.6 171.8h1M625.2 143.0h1M607.9 157.3h1M610.5 189.3h1M609.1 192.5h1M597.6 146.4h1M591.7 179.0h1M625.1 172.9h1M621.3 173.5h1M630.1 157.8h1M604.4 188.5h1M618.8 166.3h1M632.8 157.2h1M616.2 163.0h1M636.6 164.9h1M627.2 150.8h1M615.3 157.2h1M629.0 160.8h1M619.3 167.4h1M599.4 178.2h1M635.3 172.8h1M620.0 157.6h1M636.4 151.7h1M620.8 164.4h1M615.6 151.9h1M624.2 173.9h1M610.7 167.4h1M628.5 134.4h1M605.6 147.7h1M610.0 188.5h1M631.4 157.8h1M621.8 149.8h1M616.2 141.3h1M619.4 137.1h1M608.1 172.1h1M613.6 194.5h1M621.0 173.6h1M639.9 176.4h1M614.8 176.6h1M622.7 147.3h1M629.9 134.8h1M624.8 160.9h1M642.6 166.2h1M610.8 131.4h1M626.0 162.7h1M631.1 135.3h1M617.6 168.4h1M627.5 149.6h1M632.3 152.1h1M620.6 166.8h1M633.2 166.2h1M617.5 171.6h1M619.9 154.9h1M619.6 184.4h1M612.4 141.1h1M593.6 153.2h1M627.7 152.0h1M625.5 150.7h1M624.6 151.1h1M608.7 163.8h1M629.7 156.7h1M601.4 157.1h1M611.0 160.8h1M620.1 190.2h1M620.6 154.3h1M627.5 151.5h1M636.6 158.1h1M636.4 159.3h1M624.5 185.7h1M641.9 131.9h1M607.6 146.3h1M606.0 151.5h1M624.8 140.3h1M634.1 175.4h1M624.7 154.4h1M612.9 168.2h1M621.4 198.1h1M612.0 183.8h1M620.6 159.4h1M623.0 156.4h1M611.0 180.0h1M605.4 159.7h1M615.4 151.2h1M607.6 184.5h1M623.2 192.6h1M618.9 142.1h1M622.7 156.0h1M628.0 205.8h1M619.9 212.4h1M606.7 146.1h1M620.9 133.5h1M653.1 123.4h1M631.1 137.9h1M639.1 179.8h1M620.2 157.6h1M600.5 153.3h1M603.6 146.4h1M622.3 168.5h1M616.3 164.2h1M621.8 173.1h1M621.2 165.7h1M617.2 163.5h1M642.3 154.7h1M626.0 167.7h1M621.5 147.4h1M617.0 133.6h1M613.6 136.8h1M605.7 160.0h1M636.2 164.8h1M622.6 171.1h1M629.0 189.0h1M626.9 145.9h1M600.8 155.5h1M617.0 131.9h1M618.7 140.8h1M626.0 160.7h1M610.7 174.9h1M620.9 153.1h1M631.2 145.0h1M613.5 156.1h1M622.9 173.6h1M610.9 185.3h1M626.3 160.4h1M615.8 174.5h1M621.1 157.8h1M621.2 123.7h1M604.4 189.9h1M611.2 150.8h1M609.6 157.3h1M618.5 174.1h1M619.9 183.6h1M619.4 179.8h1M621.9 175.2h1M625.7 136.6h1M598.9 147.6h1M605.1 165.8h1M624.4 158.4h1M630.2 148.1h1M620.9 152.4h1M607.1 125.7h1M613.6 193.0h1M632.2 153.8h1M622.5 158.7h1M616.8 157.1h1M616.0 163.1h1M596.2 150.6h1M595.1 173.8h1M622.0 172.4h1M629.3 160.2h1M608.1 202.0h1M641.7 202.0h1M623.8 183.6h1M601.7 141.1h1M607.1 144.2h1M618.9 157.2h1M623.7 178.4h1M617.0 173.8h1M629.9 155.7h1M614.8 143.8h1M629.9 157.4h1M593.4 172.5h1M617.2 176.9h1M597.9 148.4h1M611.8 146.7h1M623.8 192.8h1M626.8 168.6h1M610.5 165.0h1M622.3 132.1h1M633.2 194.4h1M621.1 164.6h1M614.7 204.2h1M613.0 152.2h1M608.6 154.2h1M647.7 140.6h1M620.5 138.6h1M630.7 134.1h1M612.9 154.6h1M631.7 149.2h1M629.8 163.5h1M627.3 174.1h1M624.5 143.2h1M595.8 184.2h1M600.6 175.9h1M617.5 157.0h1M618.1 160.9h1M626.1 168.3h1M598.9 176.4h1M607.0 158.8h1M626.8 197.7h1M607.7 127.5h1M621.1 132.6h1M624.8 149.2h1M619.6 173.0h1M606.7 195.8h1M630.3 166.5h1M638.2 168.5h1M625.2 153.0h1M598.8 195.7h1M607.1 149.5h1M603.8 166.2h1M612.9 130.1h1M634.9 188.7h1M621.2 184.7h1M612.5 142.2h1M609.9 133.7h1M638.4 189.5h1M622.7 152.8h1M612.4 130.5h1M604.5 158.8h1M611.8 140.9h1M625.4 145.0h1M629.7 171.9h1M621.2 146.4h1M639.8 138.4h1M620.5 132.4h1M632.5 161.4h1M617.1 182.0h1M632.8 148.5h1M622.5 158.9h1M618.4 146.0h1M630.1 186.2h1M602.6 155.2h1M596.0 152.8h1M645.1 157.1h1M610.7 149.0h1M634.9 170.9h1M610.8 175.1h1M634.6 184.9h1M610.5 159.1h1M603.6 187.0h1M620.5 166.0h1M638.5 178.5h1M615.1 177.6h1M626.5 193.8h1M606.4 157.4h1M642.0 150.4h1M624.1 128.1h1M620.6 159.1h1M612.6 178.4h1M637.2 165.0h1M611.2 130.8h1M617.8 165.9h1M633.7 132.1h1M615.1 138.7h1M602.9 223.5h1M620.9 143.3h1M611.0 173.3h1M634.6 176.4h1M610.0 168.6h1M618.6 169.9h1M619.4 177.0h1M612.9 139.7h1M612.4 148.2h1M603.6 139.4h1M617.1 154.3h1M624.1 187.1h1M637.7 154.5h1M617.2 171.5h1M635.3 149.8h1M617.0 183.8h1M635.0 180.4h1M614.8 179.7h1M619.4 170.2h1M617.9 139.4h1M608.4 183.5h1M632.7 160.1h1M621.3 156.4h1M620.0 178.8h1M613.8 167.2h1M604.8 132.3h1M618.4 170.3h1M611.7 158.1h1M616.2 157.3h1M592.7 151.6h1M629.3 149.9h1M619.2 189.6h1M611.4 159.9h1M633.4 181.0h1M613.1 172.8h1M621.3 180.3h1M634.0 180.7h1M604.7 150.0h1M625.6 154.5h1M622.2 150.6h1M616.8 178.3h1M627.8 145.4h1M597.3 147.6h1M611.0 182.9h1M614.9 170.8h1M645.8 141.6h1M633.0 138.6h1M633.0 136.7h1M606.3 165.3h1M612.3 197.6h1M617.0 175.1h1M635.7 169.0h1M609.1 210.6h1M628.0 184.8h1M636.2 133.7h1M616.1 178.3h1M623.4 154.6h1M609.0 137.8h1M609.9 174.2h1M617.9 132.4h1M621.2 183.7h1M625.4 162.0h1M631.8 175.7h1M612.1 144.9h1M630.2 150.6h1M623.2 172.8h1M623.1 164.1h1M641.8 155.7h1M624.3 149.0h1M645.3 156.2h1M613.0 175.8h1M619.3 157.9h1M638.3 144.5h1M618.4 152.7h1M613.7 192.9h1M623.7 170.6h1M610.8 142.6h1M618.3 181.3h1M611.0 154.2h1M620.6 200.2h1M617.4 187.8h1M615.1 135.1h1M609.8 129.3h1M623.3 175.2h1M631.8 154.8h1M614.4 141.4h1M616.3 137.1h1M594.4 189.5h1M613.8 165.8h1M622.3 178.4h1M631.3 140.4h1M612.8 121.1h1M631.6 178.9h1M625.0 174.7h1M613.1 136.9h1M618.4 168.9h1M616.5 130.8h1M617.4 157.2h1M618.8 165.5h1M628.9 144.7h1M594.0 149.4h1M626.4 160.0h1M623.9 135.1h1M633.5 169.8h1M612.8 180.8h1M616.0 153.3h1M629.2 181.3h1M624.2 136.6h1M606.3 197.4h1M618.1 213.4h1M614.1 205.0h1M601.4 193.8h1M625.1 138.8h1M619.6 158.6h1M609.2 190.1h1M615.9 163.7h1M609.4 156.4h1M634.4 207.1h1M588.4 156.7h1M629.9 191.2h1M635.1 133.7h1M635.5 142.0h1M609.0 169.0h1M607.2 173.5h1M625.6 160.9h1M613.2 119.0h1M620.3 174.4h1M612.4 163.3h1M602.2 162.6h1M621.7 166.1h1M600.9 172.5h1M623.5 181.7h1M601.3 217.6h1M632.7 176.2h1M615.9 185.4h1M613.0 174.7h1M610.1 226.0h1M621.3 151.2h1M639.7 142.9h1M614.6 149.6h1M627.5 170.7h1M623.2 146.5h1M623.2 140.1h1M621.2 158.1h1M610.4 173.5h1M606.3 156.1h1M594.6 147.2h1M615.0 127.9h1M621.8 162.1h1M609.2 136.1h1M640.3 159.0h1M613.0 136.9h1M609.0 139.1h1M621.9 144.4h1M621.1 184.7h1M620.5 205.7h1M622.7 162.4h1M617.3 185.0h1M642.0 166.7h1M642.6 162.8h1M622.4 178.8h1M640.0 134.7h1M628.3 174.5h1M623.8 180.1h1M614.7 163.6h1M643.0 177.8h1M620.2 163.8h1M619.2 143.3h1M613.9 153.7h1M615.3 165.3h1M604.7 171.9h1M626.8 154.2h1M619.4 140.5h1M629.3 166.9h1M630.3 163.6h1M640.3 172.6h1M626.2 143.5h1M621.6 158.5h1M618.7 166.1h1M619.2 177.2h1M620.9 157.6h1M625.1 149.5h1M612.2 157.9h1M620.1 166.2h1M629.7 173.3h1M605.5 166.9h1M616.2 170.0h1M629.4 164.8h1M619.4 128.3h1M609.7 125.0h1M613.2 142.9h1M627.5 151.7h1M636.3 163.5h1M629.3 155.0h1M613.8 159.0h1M612.7 149.8h1M635.1 182.5h1M628.3 145.7h1M623.4 172.2h1M618.8 140.8h1M625.1 173.4h1M602.2 132.0h1M638.4 174.1h1M623.2 171.3h1M621.8 150.6h1M620.3 176.3h1M618.1 145.5h1M619.6 181.0h1M618.1 133.7h1M621.5 175.4h1M618.7 150.0h1M625.1 162.1h1M623.9 172.0h1M630.4 194.6h1M610.4 143.8h1M614.0 153.9h1M606.1 182.6h1M636.6 134.0h1M612.8 132.6h1M609.5 185.1h1M601.2 161.2h1M616.2 148.8h1M607.4 160.7h1M600.1 182.7h1M597.4 157.9h1M615.8 150.2h1M609.5 173.9h1M605.8 147.4h1M625.9 148.1h1M643.1 121.6h1M612.1 174.9h1M618.1 176.7h1M633.2 133.6h1M610.5 153.6h1M616.2 178.2h1M613.5 158.4h1M627.7 161.2h1M607.3 174.2h1M614.1 158.0h1M633.5 186.2h1M630.8 159.3h1M644.0 186.4h1M628.0 193.0h1M609.5 145.3h1M602.4 126.6h1M624.0 144.8h1M631.8 169.2h1M606.6 155.5h1M634.3 156.4h1M623.6 181.6h1M641.0 148.1h1M612.5 151.1h1M619.9 148.9h1M618.1 161.0h1M613.7 164.6h1M628.9 173.5h1M626.4 148.4h1M608.0 187.4h1M619.9 195.4h1M631.0 144.4h1M618.2 136.1h1M621.5 194.8h1M622.9 205.5h1M622.8 171.6h1M636.4 132.8h1M647.9 169.1h1M626.9 148.6h1M620.9 181.5h1M609.3 178.0h1M603.6 218.9h1M624.0 160.2h1M616.7 161.9h1M635.0 161.4h1M612.6 157.5h1M625.1 147.1h1M620.9 140.4h1M622.5 168.2h1M593.2 186.3h1M607.2 172.6h1M596.4 151.9h1M615.5 152.9h1M626.2 125.5h1M606.2 159.6h1M629.1 166.1h1M611.2 138.4h1M616.5 160.2h1M617.5 193.1h1M618.9 175.4h1M626.1 198.5h1M598.8 156.3h1M608.6 191.8h1M612.3 165.1h1M612.5 152.8h1M622.4 153.7h1M604.8 179.3h1M618.1 173.7h1M616.2 187.3h1M616.8 126.0h1M623.9 170.9h1M630.4 156.7h1M584.8 151.7h1M602.9 153.5h1M606.3 147.3h1M614.0 165.7h1M616.0 191.0h1M609.0 140.2h1M615.5 170.5h1M633.6 157.2h1M614.3 164.1h1M617.6 165.5h1M609.2 141.6h1M610.6 175.2h1M606.6 163.7h1M612.7 131.2h1M607.3 173.2h1M621.8 164.6h1M606.7 124.2h1M612.6 135.7h1M632.8 160.6h1M618.2 159.9h1M637.1 197.8h1M608.3 156.4h1M618.7 142.7h1M636.8 194.8h1M645.7 137.5h1M617.2 196.8h1M619.1 199.7h1M640.6 165.6h1M613.5 143.4h1M606.3 197.9h1M605.7 180.2h1M617.5 143.0h1M618.5 151.9h1M628.9 126.4h1M605.9 176.7h1M617.8 182.4h1M611.4 122.6h1M624.4 179.9h1M610.0 142.7h1M622.8 150.2h1M604.4 153.3h1M609.4 157.3h1M620.9 140.3h1M607.6 162.4h1M636.1 166.7h1M617.9 183.5h1M613.0 157.9h1M623.5 155.7h1M617.4 125.3h1M605.2 230.0h1M620.3 174.6h1M617.9 171.2h1M611.7 175.1h1M610.9 154.2h1M604.2 182.5h1M597.2 161.6h1M632.9 181.8h1M625.7 157.2h1M616.5 150.6h1M607.0 125.0h1M619.3 153.0h1M626.9 170.1h1M629.9 164.4h1M621.2 158.5h1M601.5 166.9h1M627.3 145.3h1M631.5 177.8h1M609.9 156.1h1M624.6 167.7h1M611.6 161.3h1M605.2 151.7h1M615.6 170.4h1M614.3 151.4h1M621.0 145.8h1M612.3 130.7h1M622.0 195.0h1M626.5 159.3h1M614.0 140.5h1M616.3 135.9h1M629.4 147.4h1M615.7 164.5h1M613.8 189.0h1M613.0 177.6h1M632.2 170.0h1M616.0 170.8h1M609.5 146.5h1M632.4 194.8h1M631.7 198.2h1M631.7 120.0h1M633.2 187.3h1M626.4 188.3h1M620.6 147.4h1M622.8 182.7h1M610.7 197.8h1M618.5 172.4h1M610.9 176.5h1M622.6 183.1h1M605.0 168.8h1M621.9 110.0h1M623.1 175.0h1M634.8 149.1h1M610.9 171.2h1M629.1 180.2h1M626.4 141.8h1M629.4 162.1h1M623.5 153.8h1M613.8 178.8h1M618.0 127.4h1M633.5 194.6h1M623.3 182.6h1M620.6 201.7h1M625.3 183.4h1M625.0 168.0h1M619.8 137.0h1M621.8 213.4h1M626.0 186.8h1M602.8 169.8h1M620.5 146.8h1M640.5 177.0h1M627.2 165.1h1M622.2 136.6h1M619.7 158.6h1M613.5 170.3h1M603.2 155.3h1M615.8 171.4h1M608.7 134.0h1M620.5 174.0h1M632.3 176.6h1M638.8 128.1h1M616.6 155.9h1M616.1 146.4h1M613.5 151.5h1M611.9 172.4h1M603.9 141.9h1M616.9 181.3h1M632.3 171.6h1M601.1 168.4h1M618.3 180.4h1M629.2 157.9h1M609.9 182.1h1M620.5 176.6h1M621.4 181.8h1M617.0 181.0h1M613.7 153.9h1M606.1 157.6h1M616.3 185.0h1M618.6 134.6h1M623.2 136.4h1M623.1 155.5h1M623.3 135.9h1M619.3 156.5h1M618.6 167.6h1M614.0 160.7h1M618.4 191.6h1M616.5 148.2h1M614.4 144.0h1M620.9 133.2h1M621.5 148.7h1M609.6 164.2h1M616.5 159.2h1M595.3 130.6h1M610.6 127.9h1M620.6 208.5h1M625.7 169.0h1M615.0 164.2h1M613.3 141.1h1M625.5 169.9h1M621.2 179.7h1M625.9 163.3h1M638.0 177.1h1M613.3 150.5h1M612.8 163.9h1M597.3 176.9h1M640.4 142.3h1M635.5 147.9h1M634.3 182.4h1M618.1 178.5h1M624.8 163.1h1M623.2 194.4h1M607.6 201.9h1M626.6 139.9h1M606.9 149.6h1M633.0 158.3h1M630.0 128.1h1M623.7 146.6h1M635.6 205.4h1M619.8 180.5h1M636.9 172.4h1M631.5 161.0h1M580.8 178.8h1M621.0 141.7h1M607.1 174.3h1M618.1 149.8h1M626.0 142.4h1M617.1 178.4h1M623.6 154.7h1M618.1 158.3h1M607.1 132.1h1M583.6 149.9h1M610.9 174.5h1M622.2 168.2h1M604.4 172.9h1M624.6 148.5h1M610.7 145.4h1M624.6 149.9h1M627.0 159.5h1M619.9 181.7h1M626.2 163.0h1M609.9 160.2h1M616.0 173.7h1M621.2 142.9h1M608.9 184.8h1M620.5 164.2h1M619.0 133.5h1M583.4 147.7h1M615.2 138.5h1M618.5 174.1h1M602.9 162.5h1M599.0 162.2h1M621.6 158.3h1M615.1 138.7h1M620.9 163.4h1M617.6 150.3h1M593.9 165.4h1M622.2 178.5h1M636.4 133.4h1M616.8 173.4h1M623.1 134.2h1M611.3 150.5h1M616.8 150.0h1M611.7 207.0h1M620.5 185.5h1M609.6 193.5h1M617.5 121.2h1M607.5 155.5h1M611.0 181.4h1M610.6 178.9h1M605.5 173.8h1M598.2 174.6h1M608.4 179.2h1M615.7 172.9h1M607.5 160.2h1M606.9 191.5h1M611.3 139.9h1M605.6 145.4h1M597.3 150.0h1M601.3 187.4h1M600.6 179.4h1M602.8 150.1h1M601.7 186.2h1M600.1 122.9h1M605.2 159.2h1M607.3 156.6h1M603.3 181.4h1M593.8 166.2h1M592.7 164.0h1M598.7 162.5h1M597.5 159.4h1M598.7 144.3h1M595.9 172.9h1M604.6 138.4h1M605.8 131.9h1M600.5 153.4h1M605.7 162.2h1M598.8 161.1h1M603.4 137.6h1M602.0 143.1h1M590.6 145.8h1M601.5 162.1h1M601.1 154.6h1M592.8 130.9h1M597.6 153.3h1M597.3 150.8h1M599.8 160.3h1M608.5 119.3h1M598.2 134.8h1M606.2 139.6h1M592.2 172.2h1M602.4 143.0h1M605.1 133.2h1M598.6 147.8h1M599.9 151.3h1M600.6 144.4h1M598.9 141.1h1M606.9 141.8h1M603.6 178.7h1M604.6 155.9h1M605.9 131.5h1M595.6 159.5h1M600.8 164.1h1M605.0 128.8h1M605.2 161.9h1M598.4 119.0h1M606.1 180.6h1M598.5 168.1h1M604.1 157.4h1M600.7 154.2h1M593.5 144.5h1M602.2 170.7h1M598.9 141.6h1M595.6 175.7h1M600.9 162.0h1M605.9 151.3h1M599.0 166.8h1M601.3 166.3h1M596.5 159.9h1M594.5 162.3h1M596.7 168.6h1M602.0 149.3h1M606.4 170.3h1M606.2 186.7h1M605.2 168.5h1M601.4 182.7h1M599.1 165.2h1M606.5 140.2h1M604.4 138.4h1M598.9 197.9h1M604.6 207.9h1M601.7 145.5h1M600.3 159.5h1M605.3 139.8h1M605.5 137.8h1M604.0 147.9h1M602.0 174.4h1M596.2 171.1h1M602.2 144.6h1M593.4 177.6h1M594.5 132.8h1M595.6 198.7h1M599.7 162.0h1M598.0 150.6h1M597.6 171.8h1M596.8 190.8h1M602.5 146.0h1M594.8 154.6h1M602.1 123.1h1M606.1 160.8h1M598.8 179.1h1M601.8 147.5h1M593.1 204.6h1M599.8 166.8h1M601.7 139.1h1M596.4 131.1h1M599.5 132.9h1M594.5 124.9h1M607.5 180.6h1M601.1 174.4h1M601.2 132.1h1M603.2 158.6h1M599.9 158.9h1M600.7 153.8h1M594.0 173.9h1M599.0 117.6h1M595.1 140.9h1M598.8 174.5h1M602.6 127.7h1M596.5 130.8h1M598.8 185.4h1M597.0 128.8h1M600.9 186.9h1M596.8 148.6h1M609.1 129.6h1M591.3 156.4h1M603.9 180.7h1M599.8 133.7h1M601.5 165.3h1M601.6 167.3h1M600.9 146.9h1M596.9 165.2h1M600.0 164.7h1M607.6 138.8h1M596.5 163.9h1M608.0 123.7h1M591.3 190.4h1M604.5 146.1h1M604.3 164.5h1M598.2 156.7h1M604.9 124.4h1M598.1 125.4h1M600.4 142.4h1M597.8 136.2h1M597.8 143.3h1M608.4 134.3h1M607.0 144.2h1M601.9 175.0h1M601.5 151.5h1M604.9 126.2h1M601.6 121.9h1M594.3 154.4h1M595.3 149.6h1M597.5 134.5h1M599.2 154.5h1M600.9 160.5h1M605.4 129.0h1M595.5 183.0h1M597.4 130.4h1M598.7 184.2h1M599.7 147.0h1M597.4 170.8h1M595.4 176.0h1M595.1 151.4h1M600.8 156.5h1M600.5 147.5h1M603.7 137.8h1M603.4 129.1h1M600.6 197.0h1M598.0 149.8h1M597.3 175.4h1M599.9 160.2h1M606.7 167.1h1M608.7 120.6h1M598.8 161.5h1M606.9 177.6h1M595.6 162.6h1M594.9 153.7h1M605.4 166.2h1M605.9 145.3h1M601.0 211.4h1M596.4 152.7h1M603.5 123.2h1M599.8 164.8h1M605.7 166.7h1M603.7 174.7h1M603.9 179.4h1M601.2 148.9h1M602.9 173.2h1M596.3 141.2h1M599.0 148.4h1M608.4 141.5h1M602.2 168.1h1M602.5 147.4h1M601.7 126.6h1M606.5 161.3h1M587.9 137.3h1M596.5 180.1h1M603.7 170.8h1M597.0 163.0h1M605.4 169.2h1M597.0 123.9h1M608.4 128.1h1M607.8 136.1h1M601.9 146.5h1M593.0 164.6h1M604.9 164.4h1M600.5 146.1h1M603.6 163.4h1M599.8 110.0h1M612.1 143.9h1M594.7 204.6h1M595.4 169.9h1M609.7 154.3h1M593.3 165.7h1M612.1 170.6h1M602.3 136.2h1M602.2 155.1h1M605.3 132.2h1M593.5 157.1h1M598.9 185.4h1M604.2 194.6h1M594.4 140.3h1M606.5 180.7h1M605.8 160.4h1M609.0 171.7h1M596.2 160.1h1M609.4 154.6h1M593.6 128.6h1M604.6 140.3h1M599.9 156.3h1M598.4 161.5h1M602.1 184.5h1M611.8 173.6h1M601.4 160.7h1M599.4 149.5h1M594.2 156.8h1M598.3 154.2h1M596.5 162.0h1M598.6 159.2h1M604.4 138.7h1M602.0 141.2h1M601.0 133.8h1M607.6 189.6h1M601.0 141.5h1M598.0 122.3h1M598.0 160.8h1M603.5 179.4h1M596.8 158.7h1M599.9 172.5h1M602.6 191.1h1M608.3 190.9h1M599.2 125.8h1M606.0 141.1h1M598.2 166.3h1M596.5 123.7h1M602.3 144.6h1M602.8 122.6h1M609.3 128.0h1M598.2 172.1h1M597.0 165.9h1M592.1 123.4h1M601.4 155.2h1M597.1 162.1h1M598.1 150.4h1M594.8 158.7h1M599.3 156.9h1M606.3 188.7h1M601.4 141.4h1M596.0 167.1h1M598.8 135.1h1M606.6 160.3h1M597.9 145.8h1M601.5 187.3h1M606.5 134.0h1M602.7 139.4h1M602.2 143.2h1M596.1 160.6h1M598.8 207.7h1M601.2 138.3h1M601.2 163.7h1M599.2 164.8h1M600.1 178.8h1M600.0 100.7h1M599.2 169.2h1M604.6 163.5h1M599.4 162.7h1M600.7 204.9h1M594.3 177.5h1M602.3 140.0h1M599.1 178.5h1M602.1 165.8h1M597.4 169.2h1M604.1 183.9h1M612.2 151.8h1M604.2 149.3h1M603.6 152.4h1M605.5 155.4h1M592.4 200.6h1M607.3 171.2h1M606.5 124.9h1M607.6 180.6h1M603.1 162.6h1M601.8 171.1h1M605.5 139.8h1M598.8 168.2h1M605.0 176.6h1M600.4 167.4h1M593.7 193.6h1M596.0 187.9h1M592.7 189.1h1M578.7 236.6h1M592.4 240.7h1M599.9 233.6h1M598.9 247.6h1M581.6 221.5h1M599.7 216.7h1M604.2 218.3h1M612.9 227.6h1M599.3 207.3h1M591.6 184.5h1M582.7 205.8h1M598.0 187.3h1M594.7 227.8h1M586.3 208.5h1M606.4 183.4h1M580.3 223.9h1M590.9 221.3h1M599.5 218.5h1M613.8 189.9h1M584.9 210.7h1M593.0 168.3h1M602.2 236.0h1M595.3 188.0h1M604.8 241.3h1M593.8 214.9h1M600.2 246.2h1M588.2 213.6h1M589.5 229.7h1M603.4 218.5h1M587.4 214.9h1M592.7 206.8h1M596.3 231.1h1M591.8 194.2h1M607.7 219.5h1M596.0 224.5h1M620.0 227.4h1M603.6 207.6h1M594.6 248.3h1M600.5 222.9h1M594.4 223.2h1M590.6 221.2h1M606.5 226.6h1M599.8 250.2h1M599.2 216.4h1M601.8 230.0h1M596.2 194.3h1M592.5 219.4h1M590.2 219.2h1M596.8 230.8h1M601.5 209.4h1M596.8 247.7h1M588.7 236.0h1M603.6 228.1h1M597.2 238.7h1M583.5 210.8h1M595.6 233.6h1M612.5 229.0h1M572.7 231.4h1M585.1 226.3h1M597.8 216.3h1M590.3 193.7h1M587.4 210.1h1M593.6 238.5h1M596.4 209.8h1M603.3 175.9h1M591.8 208.3h1M602.5 214.6h1M589.0 216.0h1M606.3 237.7h1M603.7 196.1h1M603.2 218.5h1M608.0 220.1h1M591.6 207.1h1M581.1 186.7h1M604.4 234.7h1M592.4 210.3h1M591.3 225.2h1M586.9 202.7h1M591.5 223.5h1M582.9 189.3h1M597.6 211.6h1M596.8 231.5h1M590.7 204.5h1M590.0 225.8h1M582.2 242.5h1M596.8 235.9h1M597.5 194.0h1M590.1 233.3h1M595.7 205.0h1M593.6 195.4h1M588.2 218.9h1M608.6 223.2h1M593.3 229.8h1M596.0 225.6h1M591.1 223.7h1M605.8 207.1h1M594.2 219.1h1M608.3 220.3h1M587.9 186.8h1M586.6 200.2h1M592.2 215.1h1M606.3 196.0h1M607.5 207.2h1M588.3 237.7h1M592.2 212.4h1M597.9 215.3h1M593.6 215.3h1M613.9 212.3h1M587.5 195.7h1M585.4 215.5h1M597.1 220.5h1M607.9 227.7h1M601.6 239.1h1M602.6 215.4h1M604.5 224.9h1M598.5 216.1h1M595.8 211.4h1M605.7 223.5h1M608.2 213.3h1M589.6 225.4h1M599.0 226.9h1M594.5 211.9h1M595.8 216.1h1M580.2 238.1h1M607.0 216.1h1M604.4 206.0h1M600.2 198.9h1M583.4 212.5h1M597.7 249.5h1M592.6 247.8h1M599.6 239.1h1M605.7 207.1h1M582.4 217.0h1M587.7 212.3h1M583.0 203.3h1M589.5 229.2h1M571.7 228.1h1M583.5 244.9h1M610.9 216.4h1M593.9 248.2h1M605.8 237.9h1M573.7 214.5h1M595.3 189.9h1M618.2 231.7h1M591.5 194.7h1M577.5 211.9h1M587.3 187.7h1M583.8 227.1h1M588.1 214.9h1M589.4 192.5h1M595.8 220.8h1M592.9 218.2h1M605.6 199.1h1M596.4 220.9h1M585.8 240.2h1M600.0 214.6h1M609.8 227.9h1M587.9 242.6h1M595.0 194.6h1M593.2 216.9h1M587.0 199.1h1M589.6 205.8h1M608.0 240.8h1M602.0 233.2h1M599.6 215.8h1M599.4 231.5h1M594.5 217.9h1M588.5 201.9h1M582.0 217.0h1M606.3 241.2h1M591.8 197.8h1M601.8 236.9h1M591.1 209.8h1M595.2 215.4h1M591.1 209.5h1M591.5 212.0h1M614.3 206.8h1M610.6 211.6h1M594.2 201.7h1M586.3 225.1h1M597.1 190.7h1M595.1 219.0h1M597.6 239.6h1M600.7 246.5h1M586.6 232.2h1M587.8 207.4h1M610.8 195.7h1M600.8 223.8h1M601.7 199.4h1M585.3 240.3h1M599.3 237.7h1M604.5 223.2h1M604.1 215.7h1M611.6 200.8h1M593.1 207.1h1M575.6 221.5h1M602.3 210.6h1M599.1 189.7h1M594.7 244.1h1M594.4 217.7h1M605.5 229.2h1M598.6 219.4h1M594.0 237.4h1M585.1 230.5h1M592.6 219.1h1M607.8 195.1h1M596.8 216.9h1M603.0 211.1h1M599.2 242.0h1M609.9 219.2h1M592.5 218.4h1M596.0 216.2h1M608.8 234.6h1M602.2 238.0h1M605.2 188.4h1M593.1 220.0h1M586.3 208.8h1M584.9 202.3h1M583.4 224.0h1M584.2 219.8h1M579.1 197.7h1M586.8 212.1h1M592.7 233.2h1M587.7 205.8h1M589.0 224.0h1M593.6 222.0h1M605.1 222.0h1M603.7 223.7h1M588.5 217.3h1M599.0 217.9h1M598.8 218.5h1M607.0 222.9h1M599.9 208.2h1M596.5 211.7h1M600.3 199.9h1M591.7 239.0h1M605.4 201.9h1M599.4 210.8h1M581.5 216.2h1M587.1 191.6h1M588.9 206.1h1M600.9 231.7h1M592.6 240.2h1M581.0 173.9h1M594.0 226.2h1M596.5 212.0h1M594.5 224.3h1M584.0 201.5h1M584.7 202.1h1M601.2 213.0h1M600.7 210.0h1M587.4 216.1h1M593.4 235.1h1M593.6 227.2h1M592.6 211.3h1M578.0 202.0h1M588.3 225.1h1M599.1 214.3h1M585.0 169.9h1M591.8 214.4h1M594.1 221.3h1M592.1 226.2h1M607.0 218.6h1M594.4 218.2h1M611.2 220.7h1M574.2 192.5h1M605.3 204.3h1M591.5 232.0h1M611.0 201.8h1M608.0 231.4h1M602.5 208.6h1M603.8 205.1h1M607.4 206.5h1M601.0 235.9h1M588.9 211.4h1M609.9 210.2h1M594.3 193.3h1M591.3 222.5h1M590.4 204.2h1M590.1 188.1h1M590.3 214.5h1M585.0 203.5h1M610.5 235.2h1M594.1 229.2h1M590.1 236.6h1M570.4 188.9h1M593.6 216.0h1M598.8 203.2h1M601.3 217.5h1M598.2 204.6h1M606.5 197.5h1M604.7 222.9h1M617.2 201.8h1M599.0 224.0h1M600.4 221.2h1M603.7 195.8h1M594.9 226.9h1M597.2 204.1h1M597.1 187.3h1M579.4 209.5h1M598.5 234.7h1M599.5 240.8h1M601.4 205.6h1M598.6 236.6h1M598.9 233.7h1M578.9 232.5h1M581.3 227.4h1M587.9 227.2h1M587.1 197.1h1M596.3 210.6h1M598.5 230.9h1M595.3 219.1h1M589.3 206.5h1M619.1 202.9h1M590.1 204.6h1M589.1 196.6h1M601.7 228.3h1M592.9 241.8h1M591.4 226.5h1M606.5 241.0h1M596.3 214.9h1M590.9 213.5h1M581.1 228.4h1M612.9 208.6h1M596.8 197.7h1M599.9 209.0h1M604.0 229.9h1M604.3 226.3h1M579.2 223.2h1M600.7 231.4h1M604.9 233.8h1M575.3 213.4h1M592.1 201.6h1M607.5 211.0h1M580.5 184.1h1M595.5 226.1h1M583.2 185.6h1M601.2 172.5h1M591.2 218.2h1M601.9 233.7h1M598.6 200.9h1M602.3 220.7h1M586.0 208.5h1M586.2 224.4h1M594.9 226.9h1M599.9 243.1h1M565.8 126.9h1M538.0 130.7h1M542.2 128.6h1M556.7 125.5h1M558.9 121.0h1M603.5 126.4h1M549.6 123.4h1M568.5 130.2h1M569.7 123.7h1M577.8 120.5h1M561.3 119.4h1M562.8 129.8h1M558.9 121.5h1M572.1 125.4h1M558.3 124.1h1M571.3 129.9h1M580.7 127.6h1M577.5 127.5h1M568.2 120.8h1M572.4 130.9h1M598.6 128.4h1M585.4 128.9h1M554.0 120.4h1M584.9 123.2h1M551.0 126.1h1M553.3 122.4h1M560.6 127.9h1M584.8 121.9h1M552.6 123.7h1M531.7 125.3h1M542.1 124.5h1M562.9 123.0h1M565.1 124.5h1M577.6 120.4h1M562.7 128.0h1M587.4 129.0h1M578.9 129.4h1M575.4 130.4h1M561.8 128.3h1M569.3 124.7h1M570.6 128.3h1M550.9 130.7h1M536.7 121.1h1M572.5 127.1h1M570.2 127.8h1M567.3 128.1h1M583.7 119.7h1M559.6 122.0h1M578.3 126.4h1M579.6 127.5h1M600.2 130.2h1M553.2 120.3h1M583.0 124.6h1M577.9 125.6h1M546.1 124.2h1M573.1 124.1h1M562.6 131.2h1M566.7 130.6h1M561.7 126.3h1M570.5 120.9h1M565.8 123.2h1M575.7 124.6h1M578.5 128.8h1M558.8 125.7h1M580.9 127.2h1M548.1 128.8h1M554.7 124.3h1M554.4 124.8h1M578.8 128.4h1M564.8 128.6h1M576.6 128.7h1M564.1 125.9h1M567.6 120.0h1M573.2 122.5h1M582.7 124.1h1M561.1 125.4h1M582.6 128.5h1M552.8 128.3h1M562.6 121.2h1M565.2 124.9h1M573.7 123.1h1M541.3 125.4h1M581.7 121.7h1M559.5 121.9h1M571.1 122.7h1M572.3 124.8h1M567.1 117.9h1M580.9 131.4h1M577.0 125.4h1M552.1 126.8h1M576.1 126.4h1M579.2 123.1h1M558.6 126.8h1M575.4 126.4h1M592.6 127.3h1M542.5 124.6h1M568.9 127.7h1M554.4 124.1h1M560.7 125.3h1M548.7 126.6h1M548.8 128.7h1M584.9 123.7h1M551.5 120.2h1M537.7 123.8h1M590.4 123.0h1M558.8 124.9h1M548.1 125.4h1M563.6 125.3h1M591.2 122.2h1M561.4 129.7h1M562.1 125.7h1M561.8 122.7h1M566.0 125.1h1M588.2 132.9h1M580.5 124.8h1M576.6 133.0h1M547.5 129.6h1M545.3 127.2h1M562.5 128.0h1M569.9 121.0h1M566.6 121.6h1M548.8 127.1h1M565.5 124.6h1M558.5 125.9h1M556.5 125.4h1M554.9 126.3h1M577.7 126.3h1M595.0 124.0h1M555.9 127.3h1M578.1 126.5h1M562.6 128.0h1M565.8 121.3h1M575.1 128.9h1M558.3 122.9h1M565.7 124.5h1M582.3 126.2h1M572.6 125.9h1M563.7 127.6h1M569.4 120.3h1M568.6 129.6h1M559.0 121.3h1M557.7 126.9h1M562.9 128.7h1M569.8 129.3h1M572.4 123.1h1M566.5 120.6h1M587.9 122.1h1M560.5 123.5h1M572.3 122.5h1M612.8 140.4h1M630.4 155.9h1M625.3 146.4h1M618.1 150.9h1M618.8 133.0h1M625.2 143.8h1M611.4 142.7h1M613.6 143.3h1M612.8 135.4h1M623.6 138.4h1M618.3 135.5h1M628.1 149.0h1M616.7 145.8h1M613.3 128.5h1M620.4 141.2h1M617.6 152.2h1M616.7 145.9h1M628.5 144.0h1M624.8 148.0h1M624.7 144.6h1M621.4 165.0h1M623.0 141.6h1M631.4 155.7h1M625.5 144.5h1M622.1 138.0h1M618.7 151.8h1M615.3 145.0h1M618.6 138.6h1M625.3 140.3h1M622.2 131.8h1M624.7 136.0h1M613.8 154.3h1M624.1 149.1h1M625.5 146.4h1M607.5 144.8h1M612.1 144.2h1M619.1 157.4h1M627.1 145.8h1M625.1 138.9h1M624.0 150.6h1M618.6 144.2h1M620.5 154.1h1M623.7 151.7h1M618.5 141.2h1M613.5 145.4h1M627.5 151.0h1M621.4 136.1h1M616.7 133.4h1M627.4 147.6h1M619.9 149.8h1M616.4 146.7h1M616.3 152.7h1M608.7 152.3h1M621.8 144.7h1M622.6 145.5h1M623.8 152.3h1M616.8 143.8h1M626.9 144.1h1M628.9 146.5h1M621.3 147.8h1M632.0 138.4h1M631.7 140.3h1M619.4 150.7h1M619.5 145.1h1M618.1 149.8h1M630.8 148.3h1M617.8 134.5h1M622.0 158.0h1M612.7 128.9h1M621.0 153.4h1M630.3 141.8h1M632.0 149.2h1M620.0 156.9h1M622.8 163.0h1M621.2 141.3h1M613.5 149.5h1M620.4 134.9h1M619.2 145.9h1M623.1 139.8h1M623.9 153.7h1M622.1 142.0h1M622.6 141.2h1M618.4 147.8h1M626.9 151.9h1M618.1 135.2h1M613.0 148.0h1M618.3 145.2h1M624.0 145.1h1M614.7 143.6h1M626.8 148.8h1M618.5 147.3h1M616.0 141.3h1M621.8 139.2h1M614.0 138.4h1M618.9 143.9h1M619.9 136.8h1M621.5 152.7h1M609.6 148.2h1M623.1 148.3h1M623.5 141.9h1M618.1 146.1h1M619.2 140.8h1M619.7 147.7h1M617.6 148.2h1M623.1 138.8h1M609.9 140.1h1M620.4 144.2h1M609.0 145.8h1M614.3 144.0h1M616.0 147.9h1M624.4 143.0h1M625.0 154.1h1M622.2 148.0h1M619.2 151.5h1M622.4 152.8h1M614.1 153.1h1M620.3 134.9h1M618.1 156.0h1M621.7 138.3h1M620.8 139.3h1M622.9 149.9h1M615.2 133.1h1M625.9 136.5h1M621.1 142.1h1M619.9 141.5h1M618.1 149.1h1M629.3 140.8h1M625.5 133.9h1M620.2 145.8h1M624.9 135.5h1M621.6 155.6h1M620.9 150.7h1M609.5 154.7h1M631.0 139.4h1M623.1 155.4h1M620.0 125.7h1M628.4 138.0h1M620.3 154.0h1M614.3 147.1h1M620.6 146.5h1M621.6 151.6h1M626.1 141.1h1M616.3 146.6h1M613.1 134.6h1M624.5 142.8h1M622.1 143.5h1M615.4 149.9h1M625.8 154.1h1M608.6 143.5h1M621.9 154.9h1M612.4 147.9h1M625.7 140.1h1M622.5 136.8h1M618.8 150.8h1M621.9 163.7h1M613.8 142.1h1M621.1 150.1h1M616.6 158.5h1M622.4 150.9h1M627.1 151.5h1M617.9 150.8h1M618.0 160.9h1M612.9 148.0h1M625.4 165.5h1M619.3 142.5h1M616.8 147.2h1M625.8 148.2h1M622.1 142.6h1M620.7 157.0h1M621.0 150.6h1M621.7 137.1h1M630.0 145.1h1M609.3 149.9h1M627.7 155.9h1M618.6 141.8h1M635.2 157.8h1M624.8 137.6h1M617.1 141.8h1M624.7 150.1h1M616.1 138.6h1M626.2 140.8h1M630.5 147.7h1M611.4 144.6h1M618.7 142.7h1M616.2 135.4h1M614.3 145.3h1M617.5 147.5h1M623.6 156.8h1M616.9 147.4h1M619.6 137.9h1M620.4 136.9h1M619.3 147.4h1M621.9 154.2h1M614.7 151.1h1M620.6 153.7h1" stroke="#000" stroke-width="1" stroke-opacity="0.5"/>
<path d="M537.1,252.9C530.3,251.1 535.8,246.3 535.0,241.9C534.1,237.6 532.9,233.2 532.0,226.8C531.1,220.4 529.7,209.6 529.5,203.4C529.3,197.3 530.0,193.8 530.9,189.7C531.8,185.6 533.4,181.7 535.0,178.7C536.6,175.7 539.1,173.7 540.5,171.8C541.9,170.0 542.8,169.3 543.2,167.7C543.7,166.1 544.0,165.0 543.2,162.2C542.4,159.5 539.3,155.3 538.4,151.2C537.5,147.1 537.2,141.1 537.7,137.5C538.3,133.8 539.6,131.1 541.9,129.2C544.2,127.4 548.3,126.6 551.5,126.5C554.7,126.4 558.1,128.2 561.1,128.6C564.1,128.9 565.2,128.4 569.3,128.6C573.5,128.7 581.5,128.9 585.8,129.2C590.2,129.6 593.3,129.2 595.5,130.6C597.6,132.0 598.7,134.5 598.9,137.5C599.1,140.5 597.6,145.0 596.8,148.5C596.0,151.9 594.1,154.7 594.1,158.1C594.1,161.5 595.2,165.2 596.8,169.1C598.4,173.0 602.1,178.3 603.7,181.5C605.3,184.7 606.9,186.0 606.5,188.3C606.0,190.6 603.0,192.2 601.0,195.2C598.9,198.2 596.1,202.5 594.1,206.2C592.0,209.9 590.2,213.8 588.6,217.2C587.0,220.6 586.0,222.9 584.5,226.8C583.0,230.7 581.1,236.2 579.7,240.5C578.2,244.9 582.6,250.9 575.5,252.9C568.4,255.0 543.8,254.7 537.1,252.9Z" fill="#000"/>
<path d="M540.5,137.5C541.1,134.4 542.6,132.7 544.6,131.3C546.7,129.9 549.9,129.2 552.9,129.2C555.8,129.2 559.0,131.1 562.5,131.3C565.9,131.5 568.9,130.4 573.5,130.6C578.1,130.8 586.8,131.3 590.0,132.7C593.2,134.0 592.7,136.0 592.7,138.9C592.7,141.7 590.9,146.6 590.0,149.9C589.0,153.1 587.4,154.7 587.2,158.1C587.0,161.5 590.0,167.9 588.6,170.5C587.2,173.0 582.9,172.8 579.0,173.2C575.1,173.7 570.7,173.2 565.2,173.2C559.7,173.2 549.4,175.5 546.0,173.2C542.6,170.9 545.4,163.4 544.6,159.5C543.8,155.6 541.9,153.5 541.2,149.9C540.5,146.2 539.9,140.6 540.5,137.5Z" fill="url(#uA2)"/>
<path d="M589.0 204.8 588.3 207.7 587.8 210.5 587.4 213.3 586.8 216.2 585.9 218.9 584.7 221.6 583.5 224.3 582.3 227.2 581.1 230.3 579.9 233.8 578.6 237.6 577.3 242.3 576.8 250.3 573.1 253.0 568.7 253.8 564.3 254.1 559.9 254.3 555.6 254.4 551.3 254.3 546.9 254.0 542.5 253.6 538.2 252.5 536.9 244.9 536.3 238.3 535.3 233.9 534.5 230.0 534.0 226.4 533.6 223.3 533.3 220.4 533.1 217.8 532.9 215.4 532.7 213.1 532.6 211.0 532.4 208.9 532.4 206.9 532.3 204.8 532.2 202.8 532.3 200.7 532.3 198.6 532.5 196.4 532.8 194.2 533.2 191.9 533.7 189.5 534.3 187.0 535.2 184.4 536.2 181.7 537.6 179.0 539.3 176.5 541.4 174.3 543.7 172.1 546.1 169.5 549.3 168.8 552.4 168.6 555.6 168.5 558.8 168.4 562.0 168.4 565.4 168.4 568.8 168.4 572.6 168.4 576.8 168.2 581.5 167.9 586.7 167.7 590.5 169.9 592.6 173.8 594.0 178.0 594.1 182.6 593.7 187.1 592.9 191.2 592.1 195.0 591.0 198.6 589.9 201.8Z" fill="#8f8f8f"/>
<path d="M588.0 204.8 587.2 207.6 586.7 210.3 586.3 213.0 585.7 215.8 584.8 218.4 583.7 221.0 582.4 223.6 581.3 226.4 580.1 229.4 578.9 232.6 577.6 236.3 576.3 240.7 575.7 248.0 572.3 250.6 568.1 251.5 563.9 252.0 559.8 252.3 555.6 252.4 551.4 252.4 547.3 252.1 543.1 251.6 539.0 250.5 537.6 243.4 536.8 237.3 535.8 233.1 535.1 229.3 534.6 225.8 534.2 222.8 533.9 220.0 533.7 217.5 533.5 215.1 533.3 212.9 533.2 210.8 533.0 208.8 532.9 206.8 532.8 204.8 532.8 202.8 532.8 200.8 532.9 198.7 533.0 196.6 533.3 194.4 533.6 192.1 534.1 189.7 534.7 187.3 535.5 184.7 536.6 182.2 538.0 179.7 539.8 177.4 541.9 175.4 544.2 173.4 546.6 171.0 549.5 170.4 552.6 170.2 555.6 170.1 558.7 170.0 561.7 170.0 564.9 170.0 568.3 170.1 571.8 170.0 575.8 169.9 580.3 169.6 585.3 169.5 588.9 171.5 591.1 175.0 592.5 179.0 592.8 183.3 592.4 187.7 591.7 191.7 590.9 195.4 589.9 198.8 588.9 201.9Z" fill="#727272"/>
<path d="M586.9 204.8 586.2 207.5 585.7 210.1 585.2 212.8 584.6 215.4 583.8 217.9 582.6 220.4 581.4 222.9 580.3 225.5 579.2 228.4 578.0 231.5 576.7 234.9 575.3 239.0 574.7 245.7 571.4 248.2 567.5 249.2 563.5 249.8 559.6 250.2 555.6 250.5 551.6 250.5 547.6 250.2 543.6 249.7 539.7 248.5 538.3 242.0 537.4 236.3 536.4 232.3 535.7 228.6 535.2 225.3 534.8 222.3 534.5 219.6 534.3 217.1 534.1 214.9 533.9 212.7 533.7 210.7 533.6 208.7 533.5 206.8 533.4 204.8 533.4 202.9 533.4 200.9 533.4 198.9 533.5 196.8 533.7 194.6 534.1 192.4 534.5 190.0 535.0 187.6 535.9 185.1 537.0 182.6 538.5 180.3 540.3 178.2 542.4 176.4 544.6 174.7 547.0 172.6 549.8 172.0 552.7 171.8 555.6 171.7 558.5 171.6 561.5 171.6 564.5 171.7 567.7 171.7 571.1 171.7 574.8 171.6 579.0 171.3 583.8 171.2 587.4 173.0 589.6 176.3 591.1 180.0 591.4 184.1 591.1 188.3 590.5 192.1 589.7 195.7 588.8 199.0 587.8 202.0Z" fill="#5f5f5f"/>
<path d="M585.9 204.8 585.2 207.4 584.7 209.9 584.2 212.5 583.5 215.0 582.7 217.4 581.6 219.8 580.4 222.2 579.3 224.7 578.2 227.4 577.0 230.3 575.7 233.6 574.4 237.3 573.6 243.4 570.5 245.8 566.9 246.9 563.2 247.6 559.4 248.2 555.6 248.5 551.8 248.6 547.9 248.3 544.1 247.7 540.4 246.5 538.9 240.6 538.0 235.3 537.0 231.5 536.2 227.9 535.8 224.7 535.4 221.8 535.1 219.1 534.9 216.8 534.7 214.6 534.5 212.5 534.3 210.5 534.2 208.6 534.1 206.7 534.0 204.8 533.9 202.9 533.9 201.0 534.0 199.0 534.1 197.0 534.2 194.8 534.5 192.6 534.9 190.3 535.4 187.9 536.2 185.4 537.4 183.1 538.9 181.0 540.8 179.1 542.9 177.5 545.1 175.9 547.4 174.1 550.1 173.6 552.9 173.4 555.6 173.3 558.4 173.3 561.2 173.3 564.1 173.3 567.1 173.3 570.3 173.3 573.8 173.2 577.8 173.1 582.3 173.0 585.8 174.6 588.1 177.5 589.7 180.9 590.1 184.9 589.8 188.9 589.2 192.6 588.5 196.0 587.7 199.2 586.8 202.1Z" fill="#505050"/>
<path d="M584.9 204.8 584.2 207.3 583.7 209.8 583.1 212.2 582.5 214.6 581.6 216.9 580.6 219.2 579.4 221.5 578.3 223.9 577.2 226.4 576.1 229.2 574.8 232.2 573.4 235.7 572.5 241.1 569.7 243.5 566.3 244.6 562.8 245.4 559.2 246.1 555.6 246.6 551.9 246.7 548.3 246.5 544.6 245.7 541.2 244.5 539.6 239.2 538.6 234.3 537.5 230.6 536.8 227.2 536.4 224.1 536.0 221.3 535.7 218.7 535.5 216.4 535.3 214.3 535.1 212.3 534.9 210.4 534.8 208.5 534.6 206.7 534.5 204.8 534.5 203.0 534.5 201.1 534.5 199.2 534.6 197.2 534.7 195.1 534.9 192.9 535.3 190.6 535.7 188.2 536.5 185.7 537.7 183.5 539.3 181.6 541.3 180.0 543.4 178.6 545.6 177.2 547.8 175.7 550.4 175.2 553.0 175.0 555.6 175.0 558.2 174.9 560.9 174.9 563.6 174.9 566.5 175.0 569.5 175.0 572.9 174.9 576.6 174.8 580.9 174.7 584.3 176.2 586.7 178.8 588.3 181.9 588.7 185.7 588.5 189.5 588.0 193.0 587.4 196.3 586.6 199.4 585.7 202.2Z" fill="#444444"/>
<path d="M583.9 204.8 583.2 207.2 582.6 209.6 582.0 211.9 581.4 214.2 580.5 216.4 579.5 218.6 578.4 220.8 577.3 223.1 576.3 225.5 575.1 228.0 573.8 230.8 572.5 234.0 571.5 238.9 568.8 241.1 565.6 242.3 562.4 243.3 559.0 244.1 555.6 244.6 552.1 244.9 548.6 244.6 545.2 243.8 541.9 242.5 540.3 237.7 539.1 233.4 538.1 229.8 537.4 226.5 536.9 223.5 536.6 220.8 536.3 218.3 536.1 216.1 535.9 214.0 535.7 212.1 535.5 210.2 535.3 208.4 535.2 206.6 535.1 204.8 535.0 203.0 535.0 201.2 535.0 199.3 535.1 197.4 535.2 195.3 535.4 193.1 535.6 190.8 536.1 188.5 536.9 186.1 538.1 184.0 539.8 182.2 541.7 180.8 543.9 179.6 546.0 178.5 548.2 177.2 550.7 176.8 553.1 176.7 555.6 176.6 558.1 176.5 560.6 176.5 563.2 176.5 565.9 176.6 568.8 176.6 571.9 176.6 575.4 176.5 579.4 176.5 582.7 177.7 585.2 180.0 586.9 182.9 587.4 186.5 587.2 190.1 586.8 193.5 586.2 196.6 585.5 199.6 584.7 202.3Z" fill="#393939"/>
<path d="M582.9 204.8 582.2 207.1 581.6 209.4 581.0 211.6 580.3 213.8 579.5 215.9 578.5 218.0 577.4 220.1 576.4 222.2 575.3 224.5 574.1 226.9 572.9 229.5 571.5 232.4 570.4 236.6 567.9 238.7 565.0 240.0 562.0 241.1 558.9 242.0 555.6 242.7 552.3 243.0 548.9 242.7 545.7 241.8 542.6 240.5 540.9 236.3 539.7 232.4 538.7 229.0 538.0 225.8 537.5 222.9 537.2 220.3 536.9 217.9 536.7 215.7 536.5 213.7 536.3 211.9 536.1 210.1 535.9 208.3 535.8 206.6 535.7 204.8 535.6 203.1 535.6 201.3 535.6 199.5 535.6 197.5 535.7 195.5 535.8 193.4 536.0 191.1 536.5 188.8 537.2 186.4 538.5 184.4 540.2 182.9 542.2 181.7 544.4 180.7 546.5 179.8 548.6 178.8 551.0 178.4 553.3 178.3 555.6 178.2 557.9 178.1 560.3 178.1 562.7 178.2 565.3 178.2 568.0 178.3 570.9 178.3 574.2 178.2 577.9 178.2 581.2 179.3 583.7 181.3 585.4 183.9 586.0 187.2 585.9 190.7 585.5 193.9 585.0 196.9 584.4 199.8 583.6 202.4Z" fill="#303030"/>
<path d="M581.9 204.8 581.2 207.1 580.6 209.2 579.9 211.3 579.2 213.4 578.4 215.4 577.4 217.4 576.4 219.4 575.4 221.4 574.3 223.5 573.2 225.7 571.9 228.1 570.6 230.7 569.4 234.3 567.1 236.3 564.4 237.7 561.6 238.9 558.7 239.9 555.6 240.7 552.4 241.1 549.3 240.8 546.2 239.9 543.4 238.5 541.6 234.9 540.3 231.4 539.2 228.2 538.6 225.1 538.1 222.3 537.8 219.8 537.6 217.5 537.3 215.4 537.1 213.5 536.8 211.6 536.7 209.9 536.5 208.2 536.3 206.5 536.2 204.8 536.1 203.1 536.1 201.4 536.1 199.6 536.1 197.7 536.2 195.8 536.3 193.6 536.4 191.4 536.8 189.0 537.6 186.8 538.9 184.9 540.7 183.5 542.7 182.5 544.9 181.8 547.0 181.1 549.0 180.3 551.2 180.0 553.4 179.9 555.6 179.8 557.8 179.8 560.0 179.8 562.3 179.8 564.7 179.9 567.2 179.9 570.0 180.0 573.0 179.9 576.5 179.9 579.6 180.8 582.2 182.5 584.0 184.9 584.7 188.0 584.6 191.3 584.3 194.4 583.8 197.3 583.2 199.9 582.6 202.5Z" fill="#272727"/>
<path d="M580.9 204.8 580.2 207.0 579.5 209.0 578.9 211.1 578.1 213.0 577.3 214.9 576.4 216.8 575.4 218.7 574.4 220.6 573.3 222.6 572.2 224.6 571.0 226.8 569.6 229.1 568.3 232.0 566.2 233.9 563.8 235.4 561.2 236.7 558.5 237.9 555.6 238.8 552.6 239.2 549.6 238.9 546.7 237.9 544.1 236.5 542.2 233.5 540.8 230.4 539.8 227.4 539.1 224.5 538.7 221.7 538.4 219.3 538.2 217.0 537.9 215.0 537.7 213.2 537.4 211.4 537.2 209.7 537.1 208.1 536.9 206.5 536.8 204.8 536.7 203.2 536.7 201.5 536.7 199.7 536.6 197.9 536.6 196.0 536.7 193.9 536.8 191.7 537.2 189.3 537.9 187.1 539.2 185.3 541.1 184.2 543.2 183.4 545.4 182.9 547.4 182.4 549.5 181.9 551.5 181.6 553.6 181.5 555.6 181.4 557.7 181.4 559.7 181.4 561.9 181.4 564.1 181.5 566.4 181.6 569.0 181.6 571.8 181.6 575.0 181.7 578.1 182.4 580.7 183.7 582.6 185.9 583.3 188.8 583.4 191.9 583.1 194.8 582.7 197.6 582.1 200.1 581.5 202.6Z" fill="#1f1f1f"/>
<path d="M579.8 204.8 579.2 206.9 578.5 208.9 577.8 210.8 577.0 212.6 576.2 214.4 575.3 216.2 574.4 218.0 573.4 219.8 572.4 221.6 571.2 223.5 570.0 225.4 568.7 227.4 567.2 229.8 565.3 231.6 563.2 233.1 560.8 234.6 558.3 235.8 555.6 236.8 552.8 237.3 549.9 237.0 547.3 236.0 544.8 234.5 542.9 232.0 541.4 229.4 540.4 226.6 539.7 223.8 539.3 221.1 539.0 218.7 538.8 216.6 538.5 214.7 538.3 212.9 538.0 211.2 537.8 209.6 537.6 208.0 537.5 206.4 537.4 204.8 537.3 203.2 537.2 201.6 537.2 199.9 537.2 198.1 537.1 196.2 537.1 194.2 537.2 191.9 537.5 189.6 538.2 187.5 539.6 185.8 541.6 184.8 543.7 184.2 545.9 183.9 547.9 183.7 549.9 183.4 551.8 183.2 553.7 183.1 555.6 183.1 557.5 183.0 559.5 183.0 561.4 183.1 563.5 183.1 565.7 183.2 568.0 183.3 570.6 183.4 573.5 183.4 576.5 183.9 579.2 185.0 581.2 186.9 582.0 189.6 582.1 192.5 581.8 195.3 581.5 197.9 581.0 200.3 580.5 202.6Z" fill="#181818"/>
<path d="M578.8,204.8C578.6,205.5 578.4,206.2 578.2,206.8C577.9,207.4 577.7,208.1 577.5,208.7C577.2,209.3 577.0,209.9 576.7,210.5C576.5,211.1 576.2,211.7 576.0,212.2C575.7,212.8 575.4,213.4 575.1,213.9C574.9,214.5 574.6,215.1 574.3,215.6C574.0,216.2 573.7,216.7 573.4,217.3C573.1,217.8 572.8,218.4 572.4,218.9C572.1,219.5 571.8,220.0 571.4,220.6C571.0,221.2 570.7,221.7 570.3,222.3C569.9,222.9 569.5,223.5 569.1,224.0C568.6,224.6 568.2,225.2 567.7,225.8C567.2,226.3 566.7,226.9 566.2,227.5C565.6,228.0 565.1,228.6 564.5,229.2C563.9,229.7 563.2,230.3 562.6,230.8C561.9,231.3 561.2,231.9 560.5,232.4C559.7,232.9 559.0,233.4 558.1,233.8C557.3,234.2 556.5,234.6 555.6,234.9C554.7,235.2 553.8,235.4 552.9,235.4C552.0,235.5 551.1,235.3 550.3,235.1C549.4,234.9 548.6,234.4 547.8,234.0C547.0,233.6 546.2,233.0 545.5,232.5C544.8,231.9 544.2,231.3 543.6,230.6C543.0,229.9 542.4,229.2 542.0,228.4C541.6,227.6 541.2,226.7 540.9,225.8C540.6,224.9 540.5,223.9 540.3,223.1C540.1,222.2 540.0,221.3 539.9,220.5C539.8,219.7 539.7,219.0 539.6,218.2C539.5,217.5 539.4,216.8 539.4,216.2C539.3,215.5 539.2,214.9 539.1,214.3C539.0,213.8 538.9,213.2 538.8,212.6C538.8,212.1 538.7,211.5 538.6,211.0C538.5,210.5 538.5,209.9 538.4,209.4C538.3,208.9 538.3,208.4 538.2,207.9C538.2,207.4 538.1,206.9 538.0,206.4C538.0,205.8 538.0,205.3 537.9,204.8C537.9,204.3 537.8,203.8 537.8,203.3C537.8,202.7 537.8,202.2 537.8,201.7C537.7,201.1 537.7,200.6 537.7,200.0C537.7,199.5 537.7,198.9 537.7,198.3C537.7,197.7 537.6,197.1 537.6,196.4C537.6,195.8 537.6,195.1 537.6,194.4C537.6,193.7 537.6,193.0 537.6,192.2C537.7,191.5 537.7,190.7 537.9,189.9C538.0,189.2 538.2,188.4 538.6,187.8C538.9,187.2 539.4,186.6 540.0,186.2C540.6,185.8 541.3,185.6 542.0,185.4C542.7,185.2 543.5,185.2 544.2,185.1C544.9,185.0 545.7,185.0 546.4,185.0C547.1,185.0 547.7,185.0 548.4,185.0C549.0,185.0 549.7,185.0 550.3,184.9C550.9,184.9 551.5,184.9 552.1,184.9C552.7,184.8 553.3,184.8 553.9,184.7C554.4,184.7 555.0,184.7 555.6,184.7C556.2,184.7 556.8,184.6 557.4,184.6C558.0,184.6 558.6,184.6 559.2,184.6C559.8,184.6 560.4,184.7 561.0,184.7C561.6,184.7 562.3,184.7 562.9,184.8C563.6,184.8 564.2,184.8 564.9,184.9C565.6,184.9 566.3,185.0 567.1,185.0C567.8,185.0 568.6,185.0 569.4,185.1C570.3,185.1 571.2,185.1 572.1,185.2C573.0,185.3 574.0,185.3 574.9,185.5C575.9,185.7 577.0,185.8 577.8,186.2C578.6,186.6 579.3,187.2 579.8,187.9C580.3,188.6 580.5,189.5 580.6,190.4C580.8,191.2 580.8,192.2 580.8,193.1C580.8,194.0 580.7,194.9 580.6,195.7C580.5,196.6 580.4,197.4 580.3,198.2C580.2,199.0 580.1,199.8 579.9,200.5C579.8,201.3 579.6,202.0 579.4,202.7C579.2,203.5 579.0,204.1 578.8,204.8Z" fill="none" stroke="#b8b8b8" stroke-width="1.1"/>
<path d="M578.8 204.8 578.2 206.8 577.5 208.7 576.7 210.5 576.0 212.2 575.1 213.9 574.3 215.6 573.4 217.3 572.4 218.9 571.4 220.6 570.3 222.3 569.1 224.0 567.7 225.8 566.2 227.5 564.5 229.2 562.6 230.8 560.5 232.4 558.1 233.8 555.6 234.9 552.9 235.4 550.3 235.1 547.8 234.0 545.5 232.5 543.6 230.6 542.0 228.4 540.9 225.8 540.3 223.1 539.9 220.5 539.6 218.2 539.4 216.2 539.1 214.3 538.8 212.6 538.6 211.0 538.4 209.4 538.2 207.9 538.0 206.4 537.9 204.8 537.8 203.3 537.8 201.7 537.7 200.0 537.7 198.3 537.6 196.4 537.6 194.4 537.6 192.2 537.9 189.9 538.6 187.8 540.0 186.2 542.0 185.4 544.2 185.1 546.4 185.0 548.4 185.0 550.3 184.9 552.1 184.9 553.9 184.7 555.6 184.7 557.4 184.6 559.2 184.6 561.0 184.7 562.9 184.8 564.9 184.9 567.1 185.0 569.4 185.1 572.1 185.2 574.9 185.5 577.8 186.2 579.8 187.9 580.6 190.4 580.8 193.1 580.6 195.7 580.3 198.2 579.9 200.5 579.4 202.7Z" fill="#7f7f7f"/>
<path d="M578.3 204.8 577.6 206.7 577.0 208.6 576.3 210.4 575.5 212.1 574.7 213.7 573.9 215.4 573.0 217.0 572.0 218.6 571.0 220.2 569.9 221.8 568.7 223.5 567.3 225.1 565.8 226.8 564.2 228.4 562.3 229.9 560.3 231.4 558.0 232.7 555.6 233.7 553.0 234.2 550.5 233.9 548.1 232.8 545.9 231.4 544.0 229.6 542.5 227.5 541.5 225.0 540.8 222.4 540.4 220.0 540.1 217.8 539.9 215.8 539.6 214.0 539.4 212.4 539.2 210.8 539.0 209.3 538.8 207.8 538.6 206.3 538.5 204.8 538.4 203.3 538.4 201.8 538.3 200.2 538.3 198.5 538.2 196.7 538.2 194.8 538.2 192.6 538.5 190.4 539.2 188.4 540.5 186.8 542.4 186.0 544.5 185.7 546.6 185.6 548.6 185.5 550.4 185.5 552.2 185.4 553.9 185.3 555.6 185.2 557.3 185.2 559.1 185.2 560.8 185.3 562.7 185.3 564.6 185.4 566.7 185.6 569.0 185.7 571.6 185.8 574.3 186.1 577.0 186.8 579.0 188.5 579.8 190.8 580.0 193.4 579.9 196.0 579.6 198.4 579.3 200.6 578.8 202.8Z" fill="#696969"/>
<path d="M577.7 204.8 577.1 206.7 576.5 208.5 575.8 210.2 575.1 211.9 574.3 213.5 573.5 215.1 572.6 216.7 571.6 218.3 570.6 219.8 569.5 221.4 568.3 223.0 567.0 224.5 565.5 226.1 563.9 227.6 562.1 229.0 560.1 230.3 557.9 231.5 555.6 232.5 553.1 232.9 550.7 232.6 548.4 231.7 546.3 230.3 544.5 228.6 543.0 226.6 542.0 224.2 541.4 221.8 541.0 219.5 540.7 217.4 540.4 215.5 540.2 213.7 539.9 212.1 539.7 210.6 539.5 209.1 539.4 207.7 539.2 206.3 539.1 204.8 539.0 203.4 538.9 201.9 538.9 200.3 538.9 198.7 538.8 197.0 538.8 195.1 538.8 193.1 539.1 190.9 539.7 188.9 541.0 187.4 542.8 186.6 544.9 186.2 546.9 186.1 548.8 186.1 550.6 186.0 552.3 186.0 553.9 185.9 555.6 185.8 557.3 185.8 559.0 185.8 560.7 185.8 562.5 185.9 564.4 186.0 566.4 186.2 568.6 186.3 571.0 186.4 573.7 186.7 576.3 187.5 578.2 189.0 579.0 191.3 579.3 193.8 579.2 196.2 579.0 198.6 578.7 200.8 578.2 202.8Z" fill="#5a5a5a"/>
<path d="M577.1 204.8 576.6 206.7 576.0 208.4 575.3 210.1 574.6 211.7 573.8 213.3 573.0 214.9 572.2 216.4 571.2 217.9 570.2 219.4 569.1 220.9 567.9 222.4 566.6 223.9 565.2 225.3 563.6 226.7 561.8 228.1 559.9 229.3 557.8 230.4 555.6 231.3 553.3 231.7 550.9 231.4 548.7 230.5 546.7 229.2 545.0 227.6 543.6 225.7 542.6 223.4 541.9 221.1 541.5 218.9 541.2 216.9 540.9 215.1 540.7 213.4 540.5 211.9 540.3 210.4 540.1 209.0 539.9 207.6 539.8 206.2 539.7 204.8 539.6 203.4 539.5 202.0 539.5 200.5 539.5 198.9 539.4 197.3 539.4 195.4 539.4 193.5 539.7 191.4 540.3 189.5 541.5 188.0 543.2 187.2 545.2 186.8 547.1 186.7 549.0 186.6 550.7 186.6 552.4 186.5 554.0 186.4 555.6 186.4 557.2 186.3 558.9 186.4 560.5 186.4 562.3 186.5 564.1 186.6 566.0 186.7 568.2 186.9 570.5 187.0 573.1 187.4 575.6 188.1 577.4 189.6 578.2 191.7 578.5 194.1 578.5 196.5 578.3 198.7 578.0 200.9 577.6 202.9Z" fill="#4d4d4d"/>
<path d="M576.6 204.8 576.1 206.6 575.5 208.3 574.8 210.0 574.2 211.6 573.4 213.1 572.6 214.6 571.8 216.1 570.8 217.6 569.8 219.0 568.7 220.5 567.6 221.9 566.3 223.3 564.8 224.6 563.3 225.9 561.6 227.2 559.7 228.3 557.7 229.3 555.6 230.1 553.4 230.4 551.1 230.2 549.0 229.4 547.1 228.2 545.4 226.6 544.1 224.8 543.1 222.7 542.5 220.5 542.0 218.4 541.7 216.5 541.5 214.7 541.2 213.1 541.0 211.6 540.8 210.2 540.7 208.8 540.5 207.5 540.4 206.2 540.3 204.8 540.2 203.5 540.1 202.1 540.1 200.7 540.0 199.2 540.0 197.5 540.0 195.8 540.0 193.9 540.2 191.9 540.8 190.0 542.0 188.6 543.6 187.7 545.5 187.3 547.4 187.2 549.2 187.2 550.9 187.1 552.5 187.1 554.0 187.0 555.6 186.9 557.2 186.9 558.8 186.9 560.4 187.0 562.1 187.1 563.8 187.2 565.7 187.3 567.8 187.5 570.0 187.7 572.4 188.0 574.8 188.7 576.6 190.1 577.5 192.2 577.7 194.5 577.7 196.8 577.6 198.9 577.4 201.0 577.0 202.9Z" fill="#414141"/>
<path d="M576.0 204.8 575.5 206.6 575.0 208.2 574.4 209.8 573.7 211.4 573.0 212.9 572.2 214.4 571.4 215.9 570.4 217.3 569.4 218.7 568.4 220.0 567.2 221.4 565.9 222.7 564.5 223.9 563.0 225.1 561.4 226.3 559.6 227.3 557.7 228.2 555.6 228.9 553.5 229.2 551.3 229.0 549.3 228.2 547.5 227.1 545.9 225.6 544.6 223.9 543.7 221.9 543.0 219.8 542.6 217.9 542.2 216.0 542.0 214.4 541.8 212.8 541.6 211.4 541.4 210.0 541.2 208.7 541.1 207.4 541.0 206.1 540.9 204.8 540.8 203.5 540.7 202.2 540.7 200.8 540.6 199.4 540.6 197.8 540.6 196.1 540.6 194.3 540.8 192.4 541.4 190.6 542.5 189.2 544.1 188.3 545.8 187.9 547.6 187.8 549.4 187.7 551.0 187.7 552.6 187.6 554.1 187.6 555.6 187.5 557.1 187.5 558.7 187.5 560.2 187.5 561.9 187.6 563.6 187.8 565.4 187.9 567.3 188.1 569.5 188.3 571.8 188.6 574.1 189.3 575.8 190.7 576.7 192.7 577.0 194.9 577.0 197.0 577.0 199.1 576.8 201.1 576.5 203.0Z" fill="#373737"/>
<path d="M575.5 204.8 575.0 206.5 574.5 208.1 573.9 209.7 573.2 211.2 572.5 212.7 571.8 214.2 571.0 215.6 570.0 216.9 569.0 218.3 568.0 219.6 566.8 220.8 565.5 222.0 564.2 223.2 562.7 224.3 561.1 225.3 559.4 226.3 557.6 227.1 555.6 227.7 553.6 227.9 551.6 227.8 549.6 227.1 547.9 226.0 546.4 224.6 545.1 223.0 544.2 221.1 543.6 219.2 543.1 217.3 542.8 215.6 542.5 214.0 542.3 212.5 542.1 211.1 541.9 209.8 541.8 208.5 541.7 207.3 541.6 206.0 541.5 204.8 541.4 203.6 541.3 202.3 541.3 201.0 541.2 199.6 541.2 198.1 541.2 196.5 541.2 194.7 541.4 192.9 541.9 191.2 543.0 189.8 544.5 188.9 546.2 188.5 547.9 188.3 549.6 188.3 551.2 188.2 552.7 188.2 554.1 188.1 555.6 188.1 557.1 188.1 558.6 188.1 560.1 188.1 561.7 188.2 563.3 188.3 565.0 188.5 566.9 188.7 569.0 188.9 571.2 189.2 573.4 189.9 575.0 191.2 575.9 193.1 576.2 195.2 576.3 197.3 576.3 199.3 576.1 201.2 575.9 203.0Z" fill="#2d2d2d"/>
<path d="M574.9 204.8 574.5 206.5 574.0 208.1 573.4 209.6 572.8 211.1 572.1 212.5 571.4 213.9 570.6 215.3 569.6 216.6 568.7 217.9 567.6 219.1 566.4 220.3 565.2 221.4 563.9 222.5 562.4 223.5 560.9 224.4 559.2 225.3 557.5 225.9 555.6 226.5 553.7 226.7 551.8 226.5 550.0 225.9 548.3 224.9 546.8 223.6 545.6 222.1 544.7 220.3 544.1 218.5 543.6 216.8 543.3 215.1 543.0 213.6 542.8 212.2 542.6 210.9 542.5 209.6 542.4 208.4 542.2 207.2 542.1 206.0 542.1 204.8 542.0 203.6 541.9 202.4 541.9 201.1 541.8 199.8 541.8 198.4 541.8 196.8 541.8 195.2 542.0 193.4 542.5 191.7 543.5 190.3 544.9 189.5 546.5 189.0 548.2 188.9 549.8 188.8 551.3 188.8 552.8 188.8 554.2 188.7 555.6 188.6 557.0 188.6 558.5 188.6 559.9 188.7 561.4 188.8 563.0 188.9 564.7 189.1 566.5 189.3 568.4 189.5 570.6 189.9 572.6 190.5 574.2 191.8 575.1 193.6 575.5 195.6 575.6 197.5 575.6 199.5 575.5 201.3 575.3 203.1Z" fill="#242424"/>
<path d="M574.4 204.8 573.9 206.4 573.5 208.0 572.9 209.5 572.3 210.9 571.7 212.3 571.0 213.7 570.2 215.0 569.3 216.3 568.3 217.5 567.2 218.6 566.1 219.7 564.8 220.8 563.5 221.8 562.1 222.7 560.6 223.5 559.0 224.2 557.4 224.8 555.6 225.2 553.8 225.4 552.0 225.3 550.3 224.8 548.7 223.9 547.3 222.6 546.2 221.2 545.3 219.5 544.7 217.9 544.2 216.2 543.8 214.7 543.6 213.2 543.4 211.9 543.2 210.6 543.0 209.4 542.9 208.2 542.8 207.1 542.7 205.9 542.7 204.8 542.6 203.7 542.5 202.5 542.5 201.3 542.4 200.0 542.4 198.6 542.4 197.2 542.4 195.6 542.6 193.9 543.1 192.3 543.9 190.9 545.3 190.1 546.8 189.6 548.4 189.4 550.0 189.4 551.5 189.3 552.9 189.3 554.2 189.3 555.6 189.2 557.0 189.2 558.4 189.2 559.8 189.3 561.2 189.4 562.8 189.5 564.4 189.7 566.1 189.9 567.9 190.1 569.9 190.5 571.9 191.1 573.4 192.4 574.3 194.0 574.7 195.9 574.9 197.8 575.0 199.6 574.9 201.4 574.7 203.2Z" fill="#1c1c1c"/>
<path d="M573.8 204.8 573.4 206.4 573.0 207.9 572.5 209.3 571.9 210.7 571.2 212.1 570.5 213.4 569.8 214.7 568.9 215.9 567.9 217.1 566.8 218.2 565.7 219.2 564.5 220.2 563.2 221.1 561.8 221.9 560.4 222.6 558.9 223.2 557.3 223.7 555.6 224.0 553.9 224.2 552.2 224.1 550.6 223.6 549.1 222.8 547.8 221.7 546.7 220.3 545.8 218.8 545.2 217.2 544.7 215.7 544.4 214.3 544.1 212.9 543.9 211.6 543.7 210.4 543.6 209.2 543.5 208.1 543.4 207.0 543.3 205.9 543.2 204.8 543.2 203.7 543.1 202.6 543.0 201.5 543.0 200.2 543.0 198.9 543.0 197.5 543.0 196.0 543.2 194.4 543.6 192.8 544.4 191.5 545.7 190.6 547.1 190.2 548.7 190.0 550.2 189.9 551.6 189.9 553.0 189.9 554.3 189.8 555.6 189.8 556.9 189.8 558.3 189.8 559.6 189.8 561.0 189.9 562.5 190.1 564.0 190.2 565.6 190.5 567.4 190.8 569.3 191.1 571.2 191.8 572.6 192.9 573.5 194.5 573.9 196.3 574.2 198.1 574.3 199.8 574.2 201.5 574.1 203.2Z" fill="#141414"/>
<path d="M573.2,204.8C573.1,205.3 573.0,205.8 572.9,206.3C572.8,206.8 572.6,207.3 572.5,207.8C572.3,208.3 572.1,208.7 572.0,209.2C571.8,209.7 571.6,210.1 571.4,210.6C571.2,211.0 571.0,211.5 570.8,211.9C570.6,212.3 570.4,212.8 570.1,213.2C569.9,213.6 569.6,214.0 569.3,214.4C569.1,214.8 568.8,215.2 568.5,215.6C568.2,216.0 567.8,216.3 567.5,216.7C567.1,217.1 566.8,217.4 566.4,217.7C566.1,218.1 565.7,218.4 565.3,218.7C564.9,219.0 564.5,219.3 564.1,219.6C563.7,219.8 563.3,220.1 562.9,220.4C562.4,220.6 562.0,220.9 561.5,221.1C561.1,221.3 560.6,221.5 560.1,221.7C559.7,221.9 559.2,222.1 558.7,222.2C558.2,222.4 557.7,222.5 557.2,222.6C556.6,222.7 556.1,222.8 555.6,222.8C555.1,222.9 554.6,222.9 554.0,222.9C553.5,222.9 552.9,222.9 552.4,222.9C551.9,222.8 551.4,222.7 550.9,222.5C550.4,222.3 549.9,222.0 549.5,221.7C549.0,221.4 548.6,221.0 548.2,220.7C547.8,220.3 547.5,219.8 547.2,219.4C546.9,218.9 546.6,218.5 546.4,218.0C546.1,217.5 545.9,217.0 545.7,216.6C545.6,216.1 545.4,215.6 545.3,215.2C545.1,214.7 545.0,214.3 544.9,213.8C544.8,213.4 544.7,212.9 544.6,212.5C544.6,212.1 544.5,211.7 544.4,211.3C544.4,210.9 544.3,210.5 544.3,210.1C544.2,209.7 544.2,209.4 544.1,209.0C544.1,208.6 544.1,208.3 544.0,207.9C544.0,207.6 544.0,207.2 544.0,206.9C543.9,206.5 543.9,206.2 543.9,205.8C543.9,205.5 543.9,205.2 543.8,204.8C543.8,204.5 543.8,204.1 543.8,203.8C543.7,203.4 543.7,203.1 543.7,202.7C543.7,202.4 543.7,202.0 543.6,201.6C543.6,201.2 543.6,200.8 543.6,200.4C543.6,200.0 543.6,199.6 543.6,199.2C543.5,198.8 543.5,198.3 543.6,197.9C543.6,197.4 543.6,196.9 543.6,196.4C543.7,195.9 543.7,195.4 543.8,194.9C543.9,194.4 544.0,193.9 544.2,193.4C544.4,192.9 544.6,192.5 544.9,192.1C545.2,191.7 545.7,191.4 546.1,191.2C546.5,191.0 547.0,190.8 547.5,190.7C547.9,190.6 548.4,190.6 548.9,190.5C549.4,190.5 549.9,190.5 550.4,190.4C550.8,190.4 551.3,190.4 551.8,190.4C552.2,190.4 552.6,190.4 553.1,190.4C553.5,190.4 553.9,190.4 554.3,190.4C554.8,190.4 555.2,190.3 555.6,190.3C556.0,190.3 556.4,190.3 556.9,190.3C557.3,190.3 557.7,190.3 558.2,190.3C558.6,190.4 559.0,190.4 559.5,190.4C559.9,190.4 560.4,190.5 560.8,190.5C561.3,190.5 561.7,190.6 562.2,190.6C562.7,190.7 563.2,190.8 563.7,190.8C564.2,190.9 564.7,191.0 565.2,191.1C565.8,191.2 566.3,191.3 566.9,191.4C567.5,191.5 568.1,191.6 568.7,191.7C569.3,191.9 569.9,192.1 570.4,192.4C571.0,192.7 571.4,193.0 571.8,193.5C572.2,193.9 572.4,194.4 572.7,195.0C572.9,195.5 573.1,196.1 573.2,196.6C573.3,197.2 573.4,197.7 573.5,198.3C573.6,198.9 573.6,199.4 573.6,200.0C573.6,200.5 573.6,201.1 573.6,201.6C573.6,202.2 573.6,202.7 573.5,203.3C573.4,203.8 573.3,204.3 573.2,204.8Z" fill="none" stroke="#b8b8b8" stroke-width="1.1"/>
<path d="M573.2 204.8 572.9 206.3 572.5 207.8 572.0 209.2 571.4 210.6 570.8 211.9 570.1 213.2 569.3 214.4 568.5 215.6 567.5 216.7 566.4 217.7 565.3 218.7 564.1 219.6 562.9 220.4 561.5 221.1 560.1 221.7 558.7 222.2 557.2 222.6 555.6 222.8 554.0 222.9 552.4 222.9 550.9 222.5 549.5 221.7 548.2 220.7 547.2 219.4 546.4 218.0 545.7 216.6 545.3 215.2 544.9 213.8 544.6 212.5 544.4 211.3 544.3 210.1 544.1 209.0 544.0 207.9 544.0 206.9 543.9 205.8 543.8 204.8 543.8 203.8 543.7 202.7 543.6 201.6 543.6 200.4 543.6 199.2 543.6 197.9 543.6 196.4 543.8 194.9 544.2 193.4 544.9 192.1 546.1 191.2 547.5 190.7 548.9 190.5 550.4 190.4 551.8 190.4 553.1 190.4 554.3 190.4 555.6 190.3 556.9 190.3 558.2 190.3 559.5 190.4 560.8 190.5 562.2 190.6 563.7 190.8 565.2 191.1 566.9 191.4 568.7 191.7 570.4 192.4 571.8 193.5 572.7 195.0 573.2 196.6 573.5 198.3 573.6 200.0 573.6 201.6 573.5 203.3Z" fill="#737373"/>
<path d="M572.7 204.8 572.4 206.3 572.0 207.7 571.5 209.1 571.0 210.4 570.4 211.7 569.7 213.0 569.0 214.2 568.1 215.3 567.1 216.3 566.1 217.3 565.0 218.2 563.8 219.0 562.6 219.8 561.3 220.5 560.0 221.1 558.6 221.5 557.1 221.9 555.6 222.1 554.1 222.2 552.6 222.1 551.1 221.7 549.7 221.0 548.5 220.0 547.5 218.8 546.7 217.5 546.1 216.2 545.6 214.8 545.2 213.5 545.0 212.3 544.8 211.1 544.6 209.9 544.5 208.9 544.4 207.8 544.3 206.8 544.3 205.8 544.2 204.8 544.1 203.8 544.0 202.8 544.0 201.7 543.9 200.6 543.9 199.3 543.9 198.0 543.9 196.6 544.1 195.2 544.5 193.7 545.3 192.5 546.4 191.7 547.7 191.2 549.2 191.0 550.5 190.9 551.9 190.9 553.2 190.9 554.4 190.9 555.6 190.8 556.8 190.8 558.1 190.8 559.3 190.9 560.6 191.0 562.0 191.1 563.4 191.3 564.9 191.6 566.5 191.9 568.2 192.3 569.8 192.9 571.2 193.9 572.0 195.3 572.5 196.9 572.9 198.5 573.0 200.2 573.0 201.7 572.9 203.3Z" fill="#5f5f5f"/>
<path d="M572.2 204.8 571.9 206.2 571.5 207.6 571.1 209.0 570.6 210.3 570.0 211.5 569.3 212.7 568.6 213.9 567.7 215.0 566.8 216.0 565.7 216.9 564.7 217.7 563.5 218.5 562.3 219.2 561.1 219.9 559.8 220.4 558.4 220.8 557.0 221.1 555.6 221.3 554.2 221.4 552.7 221.3 551.3 220.9 550.0 220.3 548.8 219.3 547.9 218.2 547.1 217.0 546.4 215.7 546.0 214.5 545.6 213.2 545.3 212.0 545.1 210.9 545.0 209.8 544.8 208.7 544.7 207.7 544.7 206.7 544.6 205.8 544.5 204.8 544.5 203.8 544.4 202.8 544.3 201.8 544.2 200.7 544.2 199.5 544.2 198.2 544.2 196.9 544.4 195.4 544.8 194.0 545.6 192.9 546.7 192.1 548.0 191.7 549.4 191.5 550.7 191.4 552.0 191.4 553.2 191.4 554.4 191.3 555.6 191.3 556.8 191.3 558.0 191.3 559.2 191.4 560.5 191.5 561.7 191.6 563.1 191.8 564.5 192.1 566.0 192.4 567.6 192.8 569.2 193.4 570.5 194.4 571.4 195.7 571.9 197.2 572.2 198.8 572.4 200.3 572.5 201.8 572.4 203.4Z" fill="#515151"/>
<path d="M571.7 204.8 571.4 206.2 571.1 207.5 570.6 208.8 570.2 210.1 569.6 211.3 568.9 212.5 568.2 213.6 567.3 214.6 566.4 215.6 565.4 216.5 564.3 217.3 563.2 218.0 562.1 218.7 560.9 219.3 559.6 219.7 558.3 220.1 557.0 220.4 555.6 220.6 554.2 220.6 552.8 220.5 551.5 220.2 550.3 219.5 549.2 218.7 548.2 217.6 547.4 216.5 546.8 215.3 546.3 214.1 545.9 212.9 545.7 211.8 545.4 210.7 545.3 209.6 545.2 208.6 545.1 207.6 545.0 206.7 545.0 205.8 544.9 204.8 544.8 203.9 544.7 202.9 544.6 201.9 544.6 200.8 544.5 199.6 544.5 198.4 544.5 197.1 544.7 195.7 545.1 194.4 545.9 193.3 547.0 192.5 548.3 192.1 549.6 191.9 550.9 191.9 552.1 191.8 553.3 191.8 554.5 191.8 555.6 191.8 556.7 191.8 557.9 191.8 559.1 191.9 560.3 192.0 561.5 192.2 562.8 192.4 564.2 192.6 565.6 192.9 567.1 193.3 568.6 193.9 569.9 194.8 570.7 196.1 571.3 197.5 571.6 199.0 571.8 200.5 571.9 201.9 571.8 203.4Z" fill="#464646"/>
<path d="M571.2 204.8 570.9 206.2 570.6 207.5 570.2 208.7 569.7 210.0 569.2 211.2 568.5 212.3 567.8 213.3 566.9 214.3 566.0 215.2 565.0 216.1 564.0 216.8 562.9 217.5 561.8 218.1 560.6 218.6 559.4 219.1 558.2 219.4 556.9 219.7 555.6 219.8 554.3 219.8 553.0 219.7 551.7 219.4 550.5 218.8 549.5 218.0 548.6 217.0 547.8 216.0 547.2 214.9 546.6 213.8 546.3 212.7 546.0 211.6 545.8 210.5 545.6 209.5 545.5 208.5 545.4 207.5 545.4 206.6 545.3 205.7 545.2 204.8 545.2 203.9 545.1 203.0 545.0 202.0 544.9 200.9 544.8 199.8 544.8 198.6 544.8 197.3 545.0 195.9 545.5 194.7 546.2 193.7 547.3 193.0 548.5 192.6 549.8 192.4 551.1 192.3 552.3 192.3 553.4 192.3 554.5 192.3 555.6 192.2 556.7 192.3 557.8 192.3 558.9 192.4 560.1 192.5 561.3 192.7 562.5 192.9 563.8 193.1 565.2 193.4 566.6 193.8 568.0 194.4 569.2 195.3 570.0 196.5 570.6 197.8 571.0 199.2 571.2 200.6 571.3 202.0 571.3 203.4Z" fill="#3b3b3b"/>
<path d="M570.6 204.8 570.4 206.1 570.1 207.4 569.8 208.6 569.3 209.8 568.8 211.0 568.1 212.1 567.4 213.1 566.6 214.0 565.6 214.9 564.7 215.6 563.7 216.3 562.6 217.0 561.5 217.6 560.4 218.0 559.3 218.4 558.1 218.7 556.8 218.9 555.6 219.1 554.4 219.1 553.1 218.9 551.9 218.6 550.8 218.1 549.8 217.3 548.9 216.4 548.1 215.5 547.5 214.5 547.0 213.4 546.6 212.4 546.3 211.3 546.1 210.3 546.0 209.3 545.9 208.4 545.8 207.4 545.7 206.6 545.7 205.7 545.6 204.8 545.5 203.9 545.4 203.0 545.3 202.1 545.2 201.0 545.1 199.9 545.1 198.7 545.1 197.5 545.3 196.2 545.8 195.0 546.6 194.1 547.6 193.4 548.8 193.1 550.0 192.9 551.2 192.8 552.4 192.8 553.5 192.8 554.5 192.7 555.6 192.7 556.7 192.7 557.7 192.8 558.8 192.9 559.9 193.0 561.0 193.2 562.2 193.4 563.4 193.6 564.7 193.9 566.1 194.3 567.4 194.9 568.6 195.7 569.4 196.9 570.0 198.1 570.4 199.4 570.6 200.8 570.7 202.2 570.7 203.5Z" fill="#323232"/>
<path d="M570.1 204.8 569.9 206.1 569.7 207.3 569.3 208.5 568.9 209.7 568.4 210.8 567.8 211.8 567.0 212.8 566.2 213.7 565.3 214.5 564.3 215.2 563.4 215.9 562.3 216.5 561.3 217.0 560.2 217.4 559.1 217.8 557.9 218.0 556.8 218.2 555.6 218.3 554.4 218.3 553.3 218.2 552.1 217.8 551.1 217.3 550.1 216.7 549.2 215.9 548.5 215.0 547.9 214.1 547.3 213.1 547.0 212.1 546.7 211.1 546.5 210.1 546.3 209.1 546.2 208.2 546.1 207.4 546.1 206.5 546.0 205.7 546.0 204.8 545.9 204.0 545.8 203.1 545.7 202.2 545.5 201.2 545.5 200.1 545.4 198.9 545.4 197.7 545.6 196.4 546.1 195.3 546.9 194.4 547.9 193.9 549.1 193.5 550.3 193.4 551.4 193.3 552.5 193.2 553.6 193.2 554.6 193.2 555.6 193.2 556.6 193.2 557.6 193.3 558.7 193.4 559.7 193.5 560.8 193.7 561.9 193.9 563.1 194.1 564.3 194.5 565.6 194.9 566.8 195.4 567.9 196.2 568.7 197.2 569.3 198.4 569.7 199.7 570.0 201.0 570.2 202.3 570.2 203.5Z" fill="#2a2a2a"/>
<path d="M569.6 204.8 569.4 206.0 569.2 207.2 568.9 208.4 568.5 209.5 568.0 210.6 567.4 211.6 566.6 212.5 565.8 213.4 564.9 214.1 564.0 214.8 563.0 215.4 562.0 216.0 561.0 216.4 560.0 216.8 558.9 217.1 557.8 217.4 556.7 217.5 555.6 217.6 554.5 217.5 553.4 217.4 552.3 217.1 551.3 216.6 550.4 216.0 549.6 215.3 548.8 214.5 548.2 213.6 547.7 212.7 547.3 211.8 547.0 210.8 546.8 209.9 546.7 209.0 546.6 208.1 546.5 207.3 546.4 206.4 546.4 205.6 546.3 204.8 546.2 204.0 546.1 203.1 546.0 202.2 545.9 201.3 545.8 200.2 545.7 199.1 545.7 197.9 545.9 196.7 546.4 195.6 547.2 194.8 548.2 194.3 549.4 194.0 550.5 193.8 551.6 193.8 552.6 193.7 553.6 193.7 554.6 193.7 555.6 193.7 556.6 193.7 557.6 193.8 558.5 193.9 559.5 194.0 560.6 194.2 561.6 194.4 562.7 194.7 563.9 195.0 565.1 195.4 566.2 195.9 567.3 196.7 568.1 197.6 568.7 198.7 569.1 199.9 569.4 201.1 569.6 202.4 569.6 203.6Z" fill="#222222"/>
<path d="M569.1 204.8 568.9 206.0 568.7 207.1 568.4 208.3 568.1 209.4 567.6 210.4 567.0 211.4 566.2 212.3 565.4 213.0 564.5 213.8 563.6 214.4 562.7 215.0 561.7 215.4 560.8 215.9 559.7 216.2 558.7 216.5 557.7 216.7 556.7 216.8 555.6 216.8 554.6 216.8 553.5 216.6 552.5 216.3 551.6 215.9 550.7 215.3 549.9 214.7 549.2 214.0 548.6 213.2 548.0 212.4 547.6 211.5 547.4 210.6 547.2 209.7 547.0 208.8 546.9 208.0 546.8 207.2 546.8 206.4 546.7 205.6 546.7 204.8 546.6 204.0 546.5 203.2 546.3 202.3 546.2 201.4 546.1 200.4 546.0 199.3 546.0 198.1 546.2 197.0 546.7 195.9 547.6 195.2 548.6 194.8 549.6 194.5 550.7 194.3 551.8 194.2 552.8 194.2 553.7 194.2 554.7 194.2 555.6 194.2 556.5 194.2 557.5 194.3 558.4 194.3 559.4 194.5 560.3 194.7 561.3 194.9 562.4 195.2 563.4 195.5 564.5 195.9 565.6 196.4 566.6 197.1 567.4 198.0 568.0 199.0 568.5 200.1 568.8 201.3 569.0 202.5 569.1 203.6Z" fill="#1a1a1a"/>
<path d="M568.5 204.8 568.4 205.9 568.3 207.1 568.0 208.1 567.6 209.2 567.2 210.2 566.6 211.1 565.8 212.0 565.0 212.7 564.2 213.4 563.3 214.0 562.4 214.5 561.4 214.9 560.5 215.3 559.5 215.6 558.6 215.8 557.6 216.0 556.6 216.0 555.6 216.1 554.6 216.0 553.7 215.8 552.7 215.5 551.9 215.1 551.0 214.7 550.2 214.1 549.5 213.5 548.9 212.8 548.4 212.0 548.0 211.2 547.7 210.4 547.5 209.5 547.4 208.7 547.3 207.9 547.2 207.1 547.1 206.3 547.1 205.6 547.0 204.8 546.9 204.1 546.8 203.3 546.7 202.4 546.5 201.5 546.4 200.5 546.3 199.5 546.3 198.3 546.5 197.2 547.0 196.3 547.9 195.6 548.9 195.2 549.9 194.9 550.9 194.8 551.9 194.7 552.9 194.6 553.8 194.6 554.7 194.6 555.6 194.6 556.5 194.7 557.4 194.7 558.3 194.8 559.2 195.0 560.1 195.2 561.0 195.4 562.0 195.7 563.0 196.0 564.0 196.4 565.0 196.9 566.0 197.6 566.8 198.4 567.4 199.3 567.9 200.4 568.2 201.4 568.4 202.6 568.5 203.7Z" fill="#131313"/>
<path d="M568.0,204.8C568.0,205.2 568.0,205.5 568.0,205.9C567.9,206.3 567.9,206.6 567.8,207.0C567.7,207.3 567.7,207.7 567.6,208.0C567.5,208.4 567.3,208.7 567.2,209.0C567.1,209.4 566.9,209.7 566.8,210.0C566.6,210.3 566.4,210.6 566.2,210.9C566.0,211.2 565.7,211.5 565.4,211.7C565.2,212.0 564.9,212.2 564.7,212.4C564.4,212.6 564.1,212.8 563.8,213.0C563.5,213.2 563.2,213.4 562.9,213.6C562.6,213.7 562.3,213.9 562.1,214.0C561.8,214.2 561.5,214.3 561.1,214.4C560.8,214.5 560.5,214.6 560.2,214.7C559.9,214.8 559.6,214.9 559.3,215.0C559.0,215.0 558.7,215.1 558.4,215.2C558.1,215.2 557.8,215.2 557.4,215.3C557.1,215.3 556.8,215.3 556.5,215.3C556.2,215.3 555.9,215.3 555.6,215.3C555.3,215.3 555.0,215.3 554.7,215.2C554.4,215.2 554.1,215.1 553.8,215.0C553.5,214.9 553.2,214.8 552.9,214.7C552.7,214.6 552.4,214.5 552.1,214.4C551.9,214.3 551.6,214.1 551.3,214.0C551.1,213.8 550.8,213.7 550.6,213.5C550.3,213.3 550.1,213.2 549.9,213.0C549.7,212.8 549.5,212.6 549.3,212.4C549.1,212.2 548.9,211.9 548.7,211.7C548.6,211.5 548.4,211.2 548.3,210.9C548.2,210.7 548.1,210.4 548.0,210.1C548.0,209.8 547.9,209.6 547.8,209.3C547.8,209.0 547.7,208.8 547.7,208.5C547.7,208.2 547.6,208.0 547.6,207.7C547.6,207.5 547.6,207.2 547.5,207.0C547.5,206.7 547.5,206.5 547.5,206.3C547.5,206.0 547.4,205.8 547.4,205.5C547.4,205.3 547.4,205.1 547.4,204.8C547.3,204.6 547.3,204.3 547.3,204.1C547.2,203.8 547.2,203.6 547.1,203.3C547.1,203.1 547.1,202.8 547.0,202.5C547.0,202.2 546.9,201.9 546.9,201.6C546.8,201.3 546.8,201.0 546.7,200.7C546.7,200.3 546.6,200.0 546.6,199.6C546.6,199.3 546.6,198.9 546.6,198.5C546.7,198.2 546.7,197.8 546.8,197.5C547.0,197.1 547.1,196.8 547.4,196.6C547.6,196.3 547.9,196.2 548.2,196.0C548.5,195.9 548.9,195.7 549.2,195.6C549.5,195.5 549.8,195.5 550.2,195.4C550.5,195.3 550.8,195.3 551.2,195.3C551.5,195.2 551.8,195.2 552.1,195.2C552.4,195.1 552.7,195.1 553.0,195.1C553.3,195.1 553.6,195.1 553.9,195.1C554.2,195.1 554.5,195.1 554.8,195.1C555.0,195.1 555.3,195.1 555.6,195.1C555.9,195.1 556.2,195.1 556.5,195.2C556.7,195.2 557.0,195.2 557.3,195.2C557.6,195.3 557.9,195.3 558.1,195.3C558.4,195.4 558.7,195.4 559.0,195.5C559.3,195.5 559.6,195.6 559.9,195.7C560.2,195.7 560.5,195.8 560.8,195.9C561.0,196.0 561.3,196.1 561.7,196.2C562.0,196.3 562.3,196.4 562.6,196.5C562.9,196.6 563.2,196.8 563.5,196.9C563.8,197.1 564.1,197.2 564.4,197.4C564.7,197.6 565.0,197.8 565.3,198.0C565.6,198.2 565.9,198.5 566.1,198.8C566.3,199.0 566.6,199.3 566.8,199.6C566.9,199.9 567.1,200.2 567.3,200.6C567.4,200.9 567.5,201.3 567.6,201.6C567.7,201.9 567.8,202.3 567.9,202.7C567.9,203.0 568.0,203.4 568.0,203.7C568.0,204.1 568.0,204.5 568.0,204.8Z" fill="none" stroke="#b8b8b8" stroke-width="1.1"/>
<path d="M568.0 204.8 568.0 205.9 567.8 207.0 567.6 208.0 567.2 209.0 566.8 210.0 566.2 210.9 565.4 211.7 564.7 212.4 563.8 213.0 562.9 213.6 562.1 214.0 561.1 214.4 560.2 214.7 559.3 215.0 558.4 215.2 557.4 215.3 556.5 215.3 555.6 215.3 554.7 215.2 553.8 215.0 552.9 214.7 552.1 214.4 551.3 214.0 550.6 213.5 549.9 213.0 549.3 212.4 548.7 211.7 548.3 210.9 548.0 210.1 547.8 209.3 547.7 208.5 547.6 207.7 547.5 207.0 547.5 206.3 547.4 205.5 547.4 204.8 547.3 204.1 547.1 203.3 547.0 202.5 546.9 201.6 546.7 200.7 546.6 199.6 546.6 198.5 546.8 197.5 547.4 196.6 548.2 196.0 549.2 195.6 550.2 195.4 551.2 195.3 552.1 195.2 553.0 195.1 553.9 195.1 554.8 195.1 555.6 195.1 556.5 195.2 557.3 195.2 558.1 195.3 559.0 195.5 559.9 195.7 560.8 195.9 561.7 196.2 562.6 196.5 563.5 196.9 564.4 197.4 565.3 198.0 566.1 198.8 566.8 199.6 567.3 200.6 567.6 201.6 567.9 202.7 568.0 203.7Z" fill="#5a5a5a"/>
<path d="M566.8 204.8 566.7 205.8 566.6 206.8 566.4 207.7 566.1 208.6 565.6 209.5 565.1 210.3 564.5 211.0 563.7 211.6 563.0 212.2 562.2 212.7 561.4 213.1 560.6 213.5 559.8 213.7 558.9 214.0 558.1 214.1 557.3 214.2 556.4 214.3 555.6 214.3 554.8 214.2 554.0 214.0 553.2 213.7 552.5 213.4 551.8 213.1 551.1 212.6 550.5 212.2 549.9 211.6 549.4 211.0 549.1 210.3 548.8 209.6 548.6 208.9 548.5 208.1 548.4 207.4 548.3 206.8 548.3 206.1 548.2 205.5 548.2 204.8 548.1 204.2 548.0 203.5 547.9 202.7 547.7 202.0 547.6 201.1 547.5 200.2 547.5 199.2 547.7 198.2 548.2 197.4 549.0 196.9 549.8 196.6 550.7 196.4 551.6 196.2 552.4 196.1 553.3 196.1 554.1 196.1 554.8 196.1 555.6 196.1 556.4 196.1 557.1 196.2 557.9 196.3 558.7 196.4 559.4 196.6 560.2 196.8 561.0 197.1 561.9 197.4 562.7 197.7 563.5 198.2 564.3 198.7 565.0 199.4 565.6 200.1 566.1 201.0 566.4 201.9 566.6 202.9 566.8 203.8Z" fill="#494949"/>
<path d="M565.5 204.8 565.5 205.7 565.4 206.5 565.2 207.4 564.9 208.2 564.5 209.0 564.1 209.7 563.5 210.3 562.8 210.9 562.2 211.4 561.5 211.8 560.8 212.2 560.0 212.5 559.3 212.8 558.6 212.9 557.8 213.1 557.1 213.2 556.3 213.2 555.6 213.2 554.9 213.1 554.2 213.0 553.5 212.8 552.8 212.5 552.2 212.2 551.6 211.8 551.0 211.3 550.5 210.9 550.1 210.3 549.8 209.7 549.6 209.1 549.4 208.4 549.3 207.8 549.2 207.1 549.1 206.5 549.1 206.0 549.1 205.4 549.0 204.8 548.9 204.2 548.8 203.6 548.7 203.0 548.6 202.3 548.5 201.5 548.4 200.7 548.4 199.8 548.6 198.9 549.0 198.2 549.7 197.8 550.5 197.5 551.3 197.3 552.0 197.2 552.8 197.1 553.5 197.1 554.2 197.0 554.9 197.0 555.6 197.1 556.3 197.1 557.0 197.2 557.6 197.2 558.3 197.4 559.0 197.5 559.7 197.7 560.4 197.9 561.2 198.2 561.9 198.5 562.7 198.9 563.4 199.4 564.0 200.0 564.5 200.7 564.9 201.4 565.2 202.2 565.4 203.1 565.5 204.0Z" fill="#3c3c3c"/>
<path d="M564.3 204.8 564.2 205.6 564.1 206.3 564.0 207.1 563.7 207.8 563.4 208.5 563.0 209.1 562.5 209.6 561.9 210.1 561.3 210.6 560.7 210.9 560.1 211.3 559.5 211.5 558.8 211.8 558.2 211.9 557.5 212.1 556.9 212.1 556.2 212.2 555.6 212.2 555.0 212.1 554.3 212.0 553.7 211.8 553.2 211.5 552.6 211.2 552.1 210.9 551.6 210.5 551.2 210.1 550.8 209.6 550.5 209.1 550.3 208.5 550.2 208.0 550.1 207.4 550.0 206.9 550.0 206.3 549.9 205.8 549.9 205.3 549.8 204.8 549.8 204.3 549.7 203.8 549.6 203.2 549.5 202.6 549.4 201.9 549.3 201.2 549.3 200.4 549.5 199.7 549.8 199.0 550.4 198.7 551.1 198.4 551.8 198.2 552.5 198.1 553.1 198.1 553.8 198.0 554.4 198.0 555.0 198.0 555.6 198.0 556.2 198.1 556.8 198.1 557.4 198.2 558.0 198.3 558.6 198.4 559.2 198.6 559.8 198.8 560.5 199.0 561.1 199.3 561.8 199.6 562.4 200.1 563.0 200.6 563.4 201.2 563.8 201.9 564.0 202.6 564.2 203.3 564.3 204.1Z" fill="#313131"/>
<path d="M563.1 204.8 563.0 205.5 562.9 206.1 562.8 206.7 562.6 207.4 562.3 207.9 561.9 208.5 561.5 209.0 561.0 209.4 560.5 209.7 560.0 210.1 559.5 210.3 558.9 210.6 558.4 210.8 557.8 210.9 557.3 211.0 556.7 211.1 556.2 211.1 555.6 211.1 555.1 211.1 554.5 210.9 554.0 210.8 553.5 210.6 553.0 210.3 552.6 210.0 552.2 209.7 551.8 209.3 551.5 208.9 551.2 208.5 551.1 208.0 550.9 207.5 550.9 207.0 550.8 206.6 550.8 206.1 550.7 205.7 550.7 205.2 550.7 204.8 550.6 204.4 550.5 203.9 550.4 203.4 550.4 202.9 550.3 202.3 550.2 201.7 550.2 201.0 550.3 200.4 550.7 199.9 551.2 199.5 551.7 199.3 552.3 199.2 552.9 199.1 553.5 199.0 554.0 199.0 554.6 199.0 555.1 199.0 555.6 199.0 556.1 199.0 556.6 199.1 557.1 199.1 557.6 199.2 558.2 199.3 558.7 199.5 559.2 199.6 559.8 199.8 560.3 200.1 560.9 200.4 561.4 200.7 561.9 201.2 562.3 201.7 562.6 202.3 562.8 202.9 563.0 203.5 563.0 204.2Z" fill="#282828"/>
<path d="M561.8 204.8 561.8 205.4 561.7 205.9 561.6 206.4 561.4 206.9 561.2 207.4 560.9 207.9 560.5 208.3 560.1 208.6 559.7 208.9 559.3 209.2 558.8 209.4 558.4 209.6 557.9 209.8 557.5 209.9 557.0 210.0 556.5 210.0 556.1 210.1 555.6 210.1 555.2 210.0 554.7 209.9 554.3 209.8 553.9 209.6 553.5 209.4 553.1 209.2 552.8 208.9 552.4 208.6 552.2 208.3 552.0 207.9 551.8 207.5 551.7 207.1 551.7 206.7 551.6 206.3 551.6 205.9 551.5 205.5 551.5 205.2 551.5 204.8 551.4 204.5 551.4 204.1 551.3 203.7 551.2 203.2 551.2 202.7 551.1 202.2 551.1 201.7 551.2 201.1 551.5 200.7 551.9 200.4 552.4 200.2 552.9 200.1 553.4 200.0 553.9 200.0 554.3 200.0 554.7 200.0 555.2 200.0 555.6 200.0 556.0 200.0 556.5 200.0 556.9 200.1 557.3 200.2 557.7 200.2 558.2 200.4 558.6 200.5 559.1 200.7 559.6 200.9 560.0 201.1 560.5 201.4 560.9 201.8 561.2 202.2 561.4 202.7 561.6 203.2 561.7 203.7 561.8 204.3Z" fill="#1f1f1f"/>
<path d="M560.6 204.8 560.5 205.3 560.5 205.7 560.4 206.1 560.2 206.5 560.1 206.9 559.8 207.3 559.5 207.6 559.2 207.9 558.9 208.1 558.5 208.3 558.2 208.5 557.8 208.7 557.5 208.8 557.1 208.9 556.7 209.0 556.3 209.0 556.0 209.0 555.6 209.0 555.2 209.0 554.9 208.9 554.5 208.8 554.2 208.6 553.9 208.5 553.6 208.3 553.3 208.1 553.1 207.8 552.9 207.6 552.7 207.3 552.6 206.9 552.5 206.6 552.4 206.3 552.4 206.0 552.4 205.7 552.4 205.4 552.3 205.1 552.3 204.8 552.3 204.5 552.2 204.2 552.2 203.9 552.1 203.5 552.1 203.2 552.0 202.7 552.0 202.3 552.1 201.9 552.3 201.5 552.6 201.3 553.0 201.1 553.4 201.1 553.8 201.0 554.2 201.0 554.6 200.9 554.9 200.9 555.3 200.9 555.6 200.9 555.9 201.0 556.3 201.0 556.6 201.0 557.0 201.1 557.3 201.2 557.7 201.3 558.0 201.4 558.4 201.5 558.8 201.7 559.1 201.9 559.5 202.1 559.8 202.4 560.1 202.7 560.3 203.1 560.4 203.5 560.5 204.0 560.6 204.4Z" fill="#181818"/>
<path d="M559.3 204.8 559.3 205.1 559.3 205.5 559.2 205.8 559.1 206.1 559.0 206.4 558.8 206.6 558.6 206.9 558.3 207.1 558.1 207.3 557.8 207.4 557.5 207.6 557.3 207.7 557.0 207.8 556.7 207.9 556.4 207.9 556.2 208.0 555.9 208.0 555.6 208.0 555.3 207.9 555.1 207.9 554.8 207.8 554.6 207.7 554.3 207.6 554.1 207.4 553.9 207.3 553.7 207.1 553.5 206.9 553.4 206.7 553.3 206.4 553.3 206.2 553.2 205.9 553.2 205.7 553.2 205.5 553.2 205.2 553.2 205.0 553.1 204.8 553.1 204.6 553.1 204.4 553.0 204.1 553.0 203.9 552.9 203.6 552.9 203.3 552.9 202.9 553.0 202.6 553.1 202.3 553.4 202.2 553.7 202.1 554.0 202.0 554.3 202.0 554.6 201.9 554.8 201.9 555.1 201.9 555.4 201.9 555.6 201.9 555.9 201.9 556.1 201.9 556.4 202.0 556.6 202.0 556.9 202.1 557.1 202.1 557.4 202.2 557.7 202.3 558.0 202.5 558.3 202.6 558.5 202.8 558.8 203.0 559.0 203.3 559.1 203.5 559.2 203.9 559.3 204.2 559.3 204.5Z" fill="#101010"/>
<path d="M558.1 204.8 558.1 205.0 558.0 205.2 558.0 205.5 557.9 205.7 557.8 205.9 557.7 206.0 557.6 206.2 557.4 206.3 557.2 206.5 557.1 206.6 556.9 206.7 556.7 206.7 556.5 206.8 556.3 206.9 556.2 206.9 556.0 206.9 555.8 206.9 555.6 206.9 555.4 206.9 555.2 206.9 555.1 206.8 554.9 206.7 554.8 206.7 554.6 206.6 554.5 206.5 554.3 206.3 554.2 206.2 554.2 206.0 554.1 205.9 554.1 205.7 554.0 205.6 554.0 205.4 554.0 205.3 554.0 205.1 554.0 205.0 554.0 204.8 553.9 204.7 553.9 204.5 553.9 204.4 553.9 204.2 553.8 204.0 553.8 203.8 553.8 203.6 553.9 203.3 554.0 203.2 554.1 203.1 554.3 203.0 554.5 202.9 554.7 202.9 554.9 202.9 555.1 202.9 555.3 202.9 555.4 202.9 555.6 202.9 555.8 202.9 555.9 202.9 556.1 202.9 556.3 203.0 556.5 203.0 556.6 203.0 556.8 203.1 557.0 203.2 557.2 203.2 557.4 203.3 557.5 203.5 557.7 203.6 557.8 203.8 557.9 204.0 558.0 204.2 558.1 204.4 558.1 204.6Z" fill="#0a0a0a"/>
<path d="M556.8 204.8 556.8 204.9 556.8 205.0 556.8 205.1 556.8 205.2 556.7 205.3 556.7 205.4 556.6 205.5 556.5 205.6 556.4 205.6 556.3 205.7 556.3 205.7 556.2 205.8 556.1 205.8 556.0 205.8 555.9 205.9 555.8 205.9 555.7 205.9 555.6 205.9 555.5 205.9 555.4 205.8 555.3 205.8 555.3 205.8 555.2 205.7 555.1 205.7 555.0 205.6 555.0 205.6 554.9 205.5 554.9 205.4 554.8 205.3 554.8 205.3 554.8 205.2 554.8 205.1 554.8 205.0 554.8 205.0 554.8 204.9 554.8 204.8 554.8 204.7 554.8 204.7 554.7 204.6 554.7 204.5 554.7 204.4 554.7 204.3 554.7 204.2 554.7 204.1 554.8 204.0 554.9 203.9 555.0 203.9 555.1 203.9 555.2 203.9 555.3 203.9 555.3 203.8 555.4 203.8 555.5 203.8 555.6 203.8 555.7 203.9 555.8 203.9 555.9 203.9 555.9 203.9 556.0 203.9 556.1 203.9 556.2 204.0 556.3 204.0 556.4 204.0 556.5 204.1 556.6 204.1 556.7 204.2 556.7 204.3 556.8 204.4 556.8 204.5 556.8 204.6 556.8 204.7Z" fill="#030303"/>
<ellipse cx="622.3" cy="145.0" rx="4.8" ry="6.2" fill="#000"/>
<path d="M607.8,169.1C609.9,166.6 619.8,163.8 622.9,163.6C626.0,163.4 626.1,165.7 626.4,167.7C626.6,169.8 625.6,173.2 624.3,176.0C623.1,178.7 620.4,182.6 618.8,184.2C617.2,185.8 616.1,186.5 614.7,185.6C613.3,184.7 611.7,181.5 610.6,178.7C609.4,176.0 605.8,171.6 607.8,169.1Z" fill="#000"/>
</g>
<line x1="526.0" y1="72.7" x2="705.0" y2="72.7" stroke="#c4c4c4" stroke-width="1.4" />
<line x1="705.0" y1="72.7" x2="705.0" y2="250.4" stroke="#8a8a8a" stroke-width="1.4" />
<line x1="526.0" y1="72.2" x2="526.0" y2="251.1" stroke="#111" stroke-width="1.4" />
<line x1="525.3" y1="250.7" x2="705.0" y2="250.7" stroke="#3a3a3a" stroke-width="1.7" />
<rect x="531.6" y="117.4" width="41.8" height="45.0" fill="none" stroke="#7676e4" stroke-width="1.3"/>
<rect x="603.6" y="118.6" width="40.1" height="100.2" fill="none" stroke="#7676e4" stroke-width="1.3"/>
<line x1="523.0" y1="88.0" x2="526.0" y2="88.0" stroke="#111" stroke-width="1.3" />
<text x="517.0" y="93.6" font-size="18" text-anchor="end">10<tspan font-size="12" dy="-7">5</tspan></text>
<line x1="523.0" y1="129.0" x2="526.0" y2="129.0" stroke="#111" stroke-width="1.3" />
<text x="517.0" y="134.6" font-size="18" text-anchor="end">10<tspan font-size="12" dy="-7">4</tspan></text>
<line x1="523.0" y1="169.5" x2="526.0" y2="169.5" stroke="#111" stroke-width="1.3" />
<text x="517.0" y="175.1" font-size="18" text-anchor="end">10<tspan font-size="12" dy="-7">3</tspan></text>
<line x1="523.0" y1="212.9" x2="526.0" y2="212.9" stroke="#111" stroke-width="1.3" />
<text x="517.0" y="218.5" font-size="18" text-anchor="end">10<tspan font-size="12" dy="-7">2</tspan></text>
<line x1="523.0" y1="232.4" x2="526.0" y2="232.4" stroke="#111" stroke-width="1.3" />
<text x="516.5" y="238.4" font-size="18" text-anchor="end">0</text>
<line x1="524.4" y1="116.7" x2="526.0" y2="116.7" stroke="#333" stroke-width="0.9" />
<line x1="524.4" y1="109.4" x2="526.0" y2="109.4" stroke="#333" stroke-width="0.9" />
<line x1="524.4" y1="104.3" x2="526.0" y2="104.3" stroke="#333" stroke-width="0.9" />
<line x1="524.4" y1="100.3" x2="526.0" y2="100.3" stroke="#333" stroke-width="0.9" />
<line x1="524.4" y1="97.1" x2="526.0" y2="97.1" stroke="#333" stroke-width="0.9" />
<line x1="524.4" y1="94.4" x2="526.0" y2="94.4" stroke="#333" stroke-width="0.9" />
<line x1="524.4" y1="92.0" x2="526.0" y2="92.0" stroke="#333" stroke-width="0.9" />
<line x1="524.4" y1="89.9" x2="526.0" y2="89.9" stroke="#333" stroke-width="0.9" />
<line x1="524.4" y1="157.3" x2="526.0" y2="157.3" stroke="#333" stroke-width="0.9" />
<line x1="524.4" y1="150.2" x2="526.0" y2="150.2" stroke="#333" stroke-width="0.9" />
<line x1="524.4" y1="145.1" x2="526.0" y2="145.1" stroke="#333" stroke-width="0.9" />
<line x1="524.4" y1="141.2" x2="526.0" y2="141.2" stroke="#333" stroke-width="0.9" />
<line x1="524.4" y1="138.0" x2="526.0" y2="138.0" stroke="#333" stroke-width="0.9" />
<line x1="524.4" y1="135.3" x2="526.0" y2="135.3" stroke="#333" stroke-width="0.9" />
<line x1="524.4" y1="132.9" x2="526.0" y2="132.9" stroke="#333" stroke-width="0.9" />
<line x1="524.4" y1="130.9" x2="526.0" y2="130.9" stroke="#333" stroke-width="0.9" />
<line x1="524.4" y1="199.8" x2="526.0" y2="199.8" stroke="#333" stroke-width="0.9" />
<line x1="524.4" y1="192.2" x2="526.0" y2="192.2" stroke="#333" stroke-width="0.9" />
<line x1="524.4" y1="186.8" x2="526.0" y2="186.8" stroke="#333" stroke-width="0.9" />
<line x1="524.4" y1="182.6" x2="526.0" y2="182.6" stroke="#333" stroke-width="0.9" />
<line x1="524.4" y1="179.1" x2="526.0" y2="179.1" stroke="#333" stroke-width="0.9" />
<line x1="524.4" y1="176.2" x2="526.0" y2="176.2" stroke="#333" stroke-width="0.9" />
<line x1="524.4" y1="173.7" x2="526.0" y2="173.7" stroke="#333" stroke-width="0.9" />
<line x1="524.4" y1="171.5" x2="526.0" y2="171.5" stroke="#333" stroke-width="0.9" />
<line x1="524.4" y1="78.0" x2="526.0" y2="78.0" stroke="#333" stroke-width="0.9" />
<line x1="524.4" y1="80.5" x2="526.0" y2="80.5" stroke="#333" stroke-width="0.9" />
<line x1="524.4" y1="83.0" x2="526.0" y2="83.0" stroke="#333" stroke-width="0.9" />
<line x1="524.4" y1="218.0" x2="526.0" y2="218.0" stroke="#333" stroke-width="0.9" />
<line x1="524.4" y1="222.0" x2="526.0" y2="222.0" stroke="#333" stroke-width="0.9" />
<line x1="524.4" y1="226.0" x2="526.0" y2="226.0" stroke="#333" stroke-width="0.9" />
<line x1="524.4" y1="238.0" x2="526.0" y2="238.0" stroke="#333" stroke-width="0.9" />
<line x1="524.4" y1="242.0" x2="526.0" y2="242.0" stroke="#333" stroke-width="0.9" />
<line x1="524.4" y1="246.0" x2="526.0" y2="246.0" stroke="#333" stroke-width="0.9" />
<line x1="564.4" y1="250.4" x2="564.4" y2="254.6" stroke="#111" stroke-width="1.3" />
<text x="567.4" y="274.6" font-size="18" text-anchor="middle">10<tspan font-size="12" dy="-7">2</tspan></text>
<line x1="605.5" y1="250.4" x2="605.5" y2="254.6" stroke="#111" stroke-width="1.3" />
<text x="606.9" y="274.6" font-size="18" text-anchor="middle">10<tspan font-size="12" dy="-7">3</tspan></text>
<line x1="648.8" y1="250.4" x2="648.8" y2="254.6" stroke="#111" stroke-width="1.3" />
<text x="648.9" y="274.6" font-size="18" text-anchor="middle">10<tspan font-size="12" dy="-7">4</tspan></text>
<line x1="688.5" y1="250.4" x2="688.5" y2="254.6" stroke="#111" stroke-width="1.3" />
<text x="690.6" y="274.6" font-size="18" text-anchor="middle">10<tspan font-size="12" dy="-7">5</tspan></text>
<line x1="543.2" y1="250.4" x2="543.2" y2="254.6" stroke="#111" stroke-width="1.3" />
<text x="544.3" y="274.6" font-size="18" text-anchor="middle">0</text>
<line x1="576.8" y1="250.4" x2="576.8" y2="252.0" stroke="#333" stroke-width="0.9" />
<line x1="584.0" y1="250.4" x2="584.0" y2="252.0" stroke="#333" stroke-width="0.9" />
<line x1="589.1" y1="250.4" x2="589.1" y2="252.0" stroke="#333" stroke-width="0.9" />
<line x1="593.1" y1="250.4" x2="593.1" y2="252.0" stroke="#333" stroke-width="0.9" />
<line x1="596.4" y1="250.4" x2="596.4" y2="252.0" stroke="#333" stroke-width="0.9" />
<line x1="599.1" y1="250.4" x2="599.1" y2="252.0" stroke="#333" stroke-width="0.9" />
<line x1="601.5" y1="250.4" x2="601.5" y2="252.0" stroke="#333" stroke-width="0.9" />
<line x1="603.6" y1="250.4" x2="603.6" y2="252.0" stroke="#333" stroke-width="0.9" />
<line x1="618.5" y1="250.4" x2="618.5" y2="252.0" stroke="#333" stroke-width="0.9" />
<line x1="626.2" y1="250.4" x2="626.2" y2="252.0" stroke="#333" stroke-width="0.9" />
<line x1="631.6" y1="250.4" x2="631.6" y2="252.0" stroke="#333" stroke-width="0.9" />
<line x1="635.8" y1="250.4" x2="635.8" y2="252.0" stroke="#333" stroke-width="0.9" />
<line x1="639.2" y1="250.4" x2="639.2" y2="252.0" stroke="#333" stroke-width="0.9" />
<line x1="642.1" y1="250.4" x2="642.1" y2="252.0" stroke="#333" stroke-width="0.9" />
<line x1="644.6" y1="250.4" x2="644.6" y2="252.0" stroke="#333" stroke-width="0.9" />
<line x1="646.8" y1="250.4" x2="646.8" y2="252.0" stroke="#333" stroke-width="0.9" />
<line x1="660.8" y1="250.4" x2="660.8" y2="252.0" stroke="#333" stroke-width="0.9" />
<line x1="667.7" y1="250.4" x2="667.7" y2="252.0" stroke="#333" stroke-width="0.9" />
<line x1="672.7" y1="250.4" x2="672.7" y2="252.0" stroke="#333" stroke-width="0.9" />
<line x1="676.5" y1="250.4" x2="676.5" y2="252.0" stroke="#333" stroke-width="0.9" />
<line x1="679.7" y1="250.4" x2="679.7" y2="252.0" stroke="#333" stroke-width="0.9" />
<line x1="682.4" y1="250.4" x2="682.4" y2="252.0" stroke="#333" stroke-width="0.9" />
<line x1="684.7" y1="250.4" x2="684.7" y2="252.0" stroke="#333" stroke-width="0.9" />
<line x1="686.7" y1="250.4" x2="686.7" y2="252.0" stroke="#333" stroke-width="0.9" />
<line x1="529.0" y1="250.4" x2="529.0" y2="252.0" stroke="#333" stroke-width="0.9" />
<line x1="533.0" y1="250.4" x2="533.0" y2="252.0" stroke="#333" stroke-width="0.9" />
<line x1="537.0" y1="250.4" x2="537.0" y2="252.0" stroke="#333" stroke-width="0.9" />
<line x1="548.0" y1="250.4" x2="548.0" y2="252.0" stroke="#333" stroke-width="0.9" />
<line x1="552.0" y1="250.4" x2="552.0" y2="252.0" stroke="#333" stroke-width="0.9" />
<line x1="556.0" y1="250.4" x2="556.0" y2="252.0" stroke="#333" stroke-width="0.9" />
<g clip-path="url(#clipA3)">
<path d="M773.7 247.1h1M777.5 136.0h1M776.8 137.6h1M825.0 163.1h1M826.6 137.0h1M818.2 141.1h1M822.0 155.6h1M818.4 136.2h1M825.5 169.6h1M818.1 222.1h1M777.8 168.8h1M782.2 133.8h1M806.7 137.2h1M823.4 141.4h1M825.4 190.0h1M766.0 234.1h1M821.9 203.0h1M835.5 225.9h1M774.6 131.0h1M778.2 151.8h1M763.6 224.6h1M761.5 192.3h1M762.9 203.3h1M822.1 139.1h1M821.6 163.7h1M764.1 239.8h1M761.5 216.9h1M806.1 138.3h1M821.1 144.9h1M796.4 136.2h1M826.3 165.8h1M814.6 235.9h1M761.9 218.1h1M767.6 219.4h1M775.3 176.9h1M816.0 231.1h1M781.1 165.3h1M823.6 197.2h1M781.6 156.8h1M776.6 235.4h1M815.7 136.6h1M773.2 169.3h1M815.7 134.2h1M778.5 133.4h1M773.5 143.9h1M815.4 136.1h1M827.1 152.0h1M775.6 143.7h1M817.5 216.0h1M814.6 214.4h1M799.3 138.2h1M767.7 205.9h1M773.6 145.0h1M823.1 198.4h1M763.8 216.9h1M819.4 224.9h1M763.9 193.5h1M767.4 235.2h1M808.1 250.0h1M817.1 220.7h1M765.1 236.1h1M812.6 239.3h1M821.4 215.1h1M821.2 220.8h1M823.8 161.4h1M759.3 216.3h1M819.3 222.1h1M762.2 195.8h1M771.7 174.8h1M769.9 242.5h1M763.5 197.5h1M772.1 245.6h1M770.1 236.9h1M814.4 236.8h1M763.3 194.2h1M764.0 191.1h1M819.5 212.0h1M823.5 200.7h1M820.2 132.2h1M782.6 128.0h1M819.1 136.8h1M827.5 145.9h1M780.1 134.5h1M776.7 161.6h1M769.2 178.2h1M823.8 159.3h1M823.5 158.5h1M818.3 229.0h1M762.4 222.1h1M777.1 152.7h1M769.0 140.3h1M772.9 174.6h1M771.3 172.3h1M826.6 138.1h1M820.5 156.2h1M767.4 200.1h1M822.3 212.3h1M825.0 175.8h1M771.7 246.9h1M824.3 170.5h1M773.6 160.2h1M794.9 136.0h1M785.9 135.4h1M821.2 175.8h1M815.8 233.8h1M778.7 134.7h1M764.0 195.5h1M828.9 164.8h1M799.2 141.0h1M821.3 210.3h1M777.9 137.9h1M826.2 165.7h1M777.1 157.9h1M821.9 154.9h1M780.3 133.4h1M776.0 142.0h1M811.1 137.3h1M805.3 243.4h1M818.3 225.3h1M820.3 207.7h1M767.7 220.0h1M812.6 244.9h1M776.4 138.6h1M828.9 194.4h1M817.9 228.6h1M816.3 234.7h1M765.5 235.3h1M825.4 178.1h1M826.1 179.1h1M817.5 150.3h1M774.9 170.5h1M829.9 192.4h1M819.8 222.4h1M824.7 196.7h1M823.4 194.9h1M773.5 135.8h1M766.0 228.1h1M771.0 243.2h1M824.6 211.3h1M776.1 139.6h1M798.7 135.9h1M807.8 134.9h1M769.4 244.2h1M815.4 250.0h1M816.9 225.5h1M793.7 136.5h1M818.0 223.3h1M774.9 169.3h1M775.7 157.0h1M825.7 170.4h1M768.6 248.1h1M771.7 243.9h1M763.8 201.4h1M775.6 143.9h1M764.1 211.0h1M818.6 212.6h1M766.7 236.5h1M776.0 139.3h1M779.4 163.8h1M817.1 135.3h1M809.3 155.2h1M777.9 162.4h1M815.3 139.9h1M820.9 183.1h1M822.3 145.2h1M806.7 140.1h1M768.3 231.5h1M764.6 185.4h1M763.5 194.9h1M807.0 247.7h1M822.7 202.3h1M821.4 155.1h1M785.2 168.9h1M767.2 248.3h1M818.0 228.5h1M796.8 141.5h1M819.0 136.6h1M823.6 138.5h1M809.3 247.7h1M820.6 146.5h1M826.0 180.6h1M776.9 138.6h1M826.7 159.5h1M821.8 149.1h1M775.6 147.7h1M827.0 159.6h1M762.5 241.7h1M772.2 176.0h1M763.1 193.0h1M767.3 239.1h1M824.3 138.0h1M812.3 238.7h1M777.0 146.0h1M777.8 164.2h1M765.1 179.6h1M799.3 141.8h1M767.1 177.3h1M781.6 134.0h1M809.9 135.5h1M823.9 199.8h1M778.0 172.2h1M812.2 131.5h1M817.4 136.7h1M814.4 236.2h1M823.5 199.4h1M821.1 154.5h1M778.3 161.0h1M810.3 236.6h1M759.9 186.9h1M831.6 173.9h1M822.3 156.9h1M823.6 157.5h1M784.8 137.4h1M778.1 169.8h1M772.0 175.1h1M768.3 245.1h1M818.0 214.2h1M763.6 210.8h1M772.5 178.1h1M824.3 137.7h1M764.5 188.1h1M824.8 191.9h1M786.2 135.2h1M765.9 210.1h1M778.7 131.5h1M810.1 248.9h1M820.8 165.1h1M775.3 165.0h1M818.5 135.5h1M784.2 135.9h1M825.0 154.6h1M762.2 196.0h1M824.5 187.6h1M811.2 236.6h1M766.1 200.0h1M765.1 224.2h1M774.4 246.0h1M821.4 195.3h1M778.0 141.6h1M779.4 132.0h1M809.9 249.5h1M769.7 243.8h1M773.9 142.2h1M765.7 180.8h1M824.6 205.4h1M819.2 146.2h1M799.5 136.8h1M811.3 246.9h1M777.5 156.2h1M826.1 181.4h1M800.3 137.2h1M776.0 151.4h1M778.8 169.9h1M769.9 246.4h1M766.8 249.3h1M776.7 145.6h1M778.2 162.2h1M822.5 203.8h1M773.8 149.7h1M776.0 144.0h1M819.6 221.0h1M777.8 168.1h1M828.2 169.2h1M788.8 128.4h1M816.1 233.9h1M809.6 246.3h1M820.2 137.9h1M827.5 162.7h1M818.2 166.9h1M820.7 207.8h1M822.6 144.0h1M820.8 138.6h1M835.3 172.6h1M798.1 135.3h1M818.8 222.8h1M822.2 153.1h1M820.8 216.8h1M779.6 165.7h1M784.7 135.1h1M809.7 135.9h1M775.5 168.1h1M826.0 199.1h1M819.2 221.8h1M818.7 216.9h1M794.5 136.9h1M775.4 167.9h1M819.5 158.0h1M822.5 160.2h1M824.8 166.2h1M821.3 135.5h1M819.8 217.2h1M811.7 137.2h1M766.1 187.8h1M777.6 138.3h1M825.8 144.0h1M805.4 250.4h1M782.0 133.9h1M777.8 165.8h1M765.4 184.3h1M772.2 240.4h1M781.4 168.3h1M771.5 178.6h1M764.8 226.2h1M813.5 239.7h1M776.6 137.0h1M793.9 121.8h1M813.2 228.3h1M823.9 158.0h1M812.9 240.8h1M773.5 172.3h1M781.4 166.6h1M822.5 165.9h1M819.4 146.1h1M824.9 218.8h1M823.8 163.9h1M812.9 132.9h1M812.5 247.3h1M764.8 189.8h1M766.0 233.5h1M817.8 137.7h1M763.2 248.0h1M770.0 168.3h1M821.4 134.9h1M763.8 196.0h1M771.5 140.6h1M778.1 155.6h1M822.4 210.2h1M810.8 236.6h1M764.1 196.0h1M818.3 226.6h1M817.1 224.6h1M770.9 169.5h1M779.6 135.9h1M816.3 138.0h1M768.6 219.0h1M764.3 199.5h1M773.8 133.6h1M774.4 147.4h1M813.8 235.6h1M796.7 136.1h1M835.8 173.1h1M786.3 137.0h1M779.0 162.5h1M818.1 138.8h1M823.8 175.1h1M779.4 135.2h1M774.9 153.1h1M783.2 132.9h1M826.5 165.8h1M825.9 175.0h1M766.4 235.1h1M822.3 139.1h1M826.3 163.1h1M775.5 149.1h1M825.1 164.4h1M814.8 132.3h1M820.3 137.2h1M817.7 137.9h1M795.3 136.5h1M821.1 156.0h1M776.6 159.7h1M822.1 164.6h1M774.5 172.3h1M825.2 166.2h1M773.1 134.4h1M778.1 171.6h1M825.2 177.6h1M808.3 122.1h1M770.0 246.9h1M822.5 147.1h1M820.6 144.7h1M771.4 233.7h1M765.7 229.4h1M779.5 137.0h1M825.5 165.3h1M759.2 188.6h1M769.6 236.9h1M824.3 174.3h1M800.2 249.9h1M767.7 188.2h1M777.9 139.2h1M779.7 141.6h1M828.8 186.5h1M778.0 166.5h1M803.4 134.9h1M777.3 158.8h1M814.3 249.4h1M772.4 138.4h1M769.0 241.2h1M772.9 163.5h1M826.0 155.4h1M796.9 146.4h1M817.5 154.0h1M779.3 145.8h1M793.9 237.4h1M823.6 163.6h1M788.7 137.2h1M805.3 134.1h1M807.1 139.3h1M774.5 153.1h1M812.6 231.7h1M813.4 136.8h1M814.5 138.3h1M770.4 241.5h1M817.0 201.4h1M777.8 167.1h1M774.6 169.9h1M805.6 138.6h1M799.9 136.6h1M778.7 135.1h1M764.9 228.9h1M769.4 175.6h1M817.8 220.0h1M767.2 211.0h1M767.1 237.7h1M829.5 181.9h1M823.4 208.1h1M817.2 136.3h1M821.5 138.2h1M766.0 145.6h1M759.4 192.1h1M775.2 145.2h1M790.8 138.0h1M818.9 138.9h1M819.7 223.9h1M763.3 195.7h1M823.2 198.5h1M772.2 246.9h1M825.2 156.7h1M767.0 235.5h1M771.5 238.1h1M817.0 203.6h1M764.1 181.1h1M826.0 152.7h1M823.7 210.9h1M825.1 153.5h1M815.1 249.9h1M816.4 238.7h1M810.2 138.9h1M827.0 168.4h1M784.3 136.5h1M778.4 166.7h1M827.5 168.6h1M781.6 165.0h1M809.5 250.3h1M767.3 247.5h1M815.3 220.2h1M773.7 146.4h1M758.8 195.1h1M826.5 193.0h1M794.4 131.7h1M818.3 140.1h1M825.8 137.7h1M810.1 248.1h1M776.7 143.5h1M812.6 240.9h1M822.9 214.7h1M812.3 243.3h1M823.7 155.3h1M759.7 215.2h1M761.7 200.3h1M806.9 132.1h1M778.5 135.9h1M775.2 164.7h1M810.7 248.6h1M822.4 136.9h1M765.7 188.0h1M763.5 215.9h1M803.0 137.4h1M811.7 246.2h1M770.0 244.9h1M812.5 237.4h1M762.8 187.5h1M800.8 138.3h1M786.3 138.5h1M779.8 163.5h1M812.3 136.3h1M764.8 230.2h1M770.6 249.5h1M776.8 169.6h1M764.7 192.8h1M821.1 150.0h1M811.7 248.4h1M759.3 216.5h1M764.0 228.5h1M775.7 144.6h1M771.0 163.0h1M821.7 138.9h1M802.1 135.9h1M823.4 161.1h1M776.1 165.5h1M818.2 162.7h1M765.2 202.0h1M764.0 214.8h1M773.8 175.8h1M769.1 242.0h1M826.3 151.7h1M808.2 135.5h1M775.2 146.3h1M811.0 222.4h1M813.3 239.7h1M808.4 250.2h1M773.6 145.9h1M826.1 181.7h1M776.4 142.7h1M774.5 154.9h1M778.6 137.1h1M766.4 222.0h1M786.9 172.3h1M823.8 140.6h1M767.7 174.8h1M770.1 246.9h1M781.6 161.0h1M786.6 135.0h1M778.9 160.3h1M827.4 183.4h1M778.1 157.6h1M830.3 174.5h1M778.6 165.3h1M762.4 239.4h1M826.4 164.8h1M783.7 162.2h1M815.6 207.9h1M815.6 235.5h1M770.2 241.4h1M823.2 195.1h1M824.6 169.6h1M825.1 156.5h1M812.6 240.0h1M764.8 233.7h1M786.6 135.5h1M831.4 163.7h1M820.8 195.1h1M763.8 196.1h1M826.5 169.5h1M793.3 136.2h1M810.6 249.0h1M765.4 237.7h1M818.9 229.3h1M768.3 234.2h1M771.7 169.2h1M830.7 210.1h1M818.3 237.6h1M762.5 197.8h1M775.6 138.0h1M774.8 130.2h1M814.6 230.9h1M824.5 192.2h1M818.9 206.5h1M822.3 143.9h1M825.0 216.3h1M826.2 181.0h1M775.9 152.9h1M780.1 170.6h1M826.3 158.4h1M809.1 137.2h1M777.8 164.3h1M828.3 190.3h1M839.2 187.6h1M777.9 146.6h1M820.0 229.0h1M777.1 162.2h1M765.0 187.4h1M771.8 235.0h1M767.5 180.9h1M819.2 151.2h1M816.4 140.2h1M761.6 194.3h1M763.8 205.7h1M818.4 218.6h1M801.7 137.6h1M776.1 138.7h1M818.4 224.3h1M810.3 244.6h1M777.0 147.8h1M824.0 159.3h1M775.6 156.6h1M799.2 134.2h1M776.3 181.6h1M810.3 249.8h1M775.5 147.7h1M764.6 220.4h1M776.2 149.5h1M823.0 160.1h1M823.5 153.5h1M816.3 137.0h1M820.2 146.0h1M824.4 177.7h1M762.4 200.9h1M768.6 231.8h1M827.7 191.7h1M809.4 249.0h1M763.9 178.7h1M780.7 134.2h1M762.7 188.3h1M779.2 233.9h1M801.0 133.9h1M816.4 230.5h1M821.1 150.2h1M777.2 157.9h1M825.7 177.3h1M764.7 186.0h1M789.6 135.1h1M814.6 233.5h1M818.0 221.4h1M774.6 170.0h1M781.4 163.6h1M821.6 145.7h1M763.3 197.3h1M820.8 231.0h1M812.6 233.5h1M772.8 170.9h1M816.2 137.2h1M767.8 180.9h1M767.4 214.1h1M810.3 249.2h1M823.3 163.6h1M817.0 211.3h1M825.0 193.9h1M822.3 172.9h1M782.1 162.6h1M776.4 169.8h1M797.2 166.0h1M775.3 144.0h1M771.6 177.8h1M775.8 175.0h1M800.7 155.1h1M778.3 165.7h1M824.7 216.0h1M775.0 248.2h1M775.8 157.1h1M770.4 244.8h1M817.8 147.4h1M820.1 219.0h1M809.2 250.0h1M778.6 145.1h1M785.2 133.7h1M765.0 193.5h1M821.2 152.0h1M781.9 134.7h1M819.6 149.1h1M830.2 171.0h1M816.2 137.2h1M776.8 156.8h1M769.6 240.8h1M814.0 241.8h1M775.8 149.1h1M816.0 137.9h1M775.0 153.4h1M824.8 156.5h1M781.4 161.5h1M761.0 239.0h1M809.3 134.0h1M810.7 150.6h1M775.9 153.5h1M771.3 232.1h1M823.0 199.2h1M825.8 167.9h1M824.9 164.3h1M796.3 135.6h1M809.2 240.3h1M817.6 231.2h1M764.3 228.8h1M774.6 161.9h1M821.0 148.2h1M828.1 209.5h1M771.7 245.4h1M796.1 130.7h1M773.7 145.6h1M768.1 183.6h1M775.5 143.6h1M774.5 141.6h1M809.2 238.6h1M830.7 231.5h1M815.6 234.0h1M821.0 142.4h1M769.8 242.2h1M798.4 135.0h1M764.9 228.3h1M774.6 125.7h1M771.9 134.4h1M821.3 153.1h1M817.8 132.5h1M824.1 158.2h1M824.7 208.9h1M778.6 162.6h1M824.6 188.2h1M813.8 137.5h1M795.1 131.8h1M819.6 231.2h1M827.4 230.8h1M813.5 137.5h1M773.0 173.1h1M772.4 246.4h1M826.4 171.0h1M762.8 202.6h1M825.7 201.1h1M771.8 143.9h1M823.7 196.9h1M826.4 230.4h1M818.8 135.1h1M803.4 135.0h1M777.2 160.4h1M802.9 136.6h1M827.2 163.6h1M775.6 140.2h1M765.5 235.8h1M769.1 179.6h1M778.8 165.8h1M765.3 216.6h1M806.4 245.8h1M816.1 137.9h1M824.6 191.8h1M774.5 172.6h1M781.5 133.4h1M817.4 227.0h1M813.3 232.0h1M775.2 152.5h1M776.5 169.3h1M780.2 165.9h1M776.8 169.4h1M772.1 231.9h1M777.6 133.0h1M765.6 183.5h1M815.4 238.3h1M824.4 134.1h1M779.7 161.7h1M778.5 163.5h1M808.6 248.1h1M816.9 142.4h1M825.3 200.0h1M778.1 155.0h1M801.2 129.7h1M781.9 139.5h1M819.3 221.3h1M777.4 137.4h1M776.5 241.4h1M824.4 164.7h1M769.5 245.6h1M781.9 160.3h1M765.8 177.1h1M826.3 184.7h1M816.7 140.5h1M808.4 139.8h1M807.2 138.8h1M765.0 201.0h1M763.1 218.3h1M777.7 170.8h1M830.3 168.2h1M783.9 163.8h1M822.1 174.0h1M816.1 222.3h1M826.6 240.2h1M765.2 210.5h1M775.4 143.9h1M819.2 231.3h1M820.3 222.9h1M765.0 214.7h1M758.5 195.8h1M769.7 176.1h1M764.6 184.7h1M771.4 174.1h1M824.0 157.4h1M766.8 180.3h1M767.6 177.2h1M825.5 172.3h1M790.5 136.2h1M789.5 142.1h1M826.8 163.9h1M822.4 203.5h1M794.0 138.1h1M784.9 136.0h1M820.2 220.6h1M769.5 244.1h1M770.7 174.5h1M823.3 163.0h1M762.1 246.3h1M822.6 130.5h1M818.8 147.4h1M814.1 135.6h1M825.9 167.0h1M820.5 142.2h1M826.0 141.1h1M777.9 137.4h1M825.0 166.2h1M822.4 160.6h1M818.0 132.3h1M821.1 169.2h1M764.8 220.3h1M819.7 158.6h1M768.7 234.9h1M780.7 166.8h1M766.6 231.6h1M821.3 177.9h1M820.6 139.2h1M821.5 149.9h1M826.1 180.2h1M778.2 122.1h1M810.0 248.7h1M765.0 230.7h1M815.2 133.0h1M788.2 129.1h1M776.2 167.5h1M816.2 136.8h1M766.6 237.3h1M822.8 159.3h1M782.1 151.2h1M764.9 187.2h1M827.5 168.6h1M770.7 130.0h1M813.2 237.1h1M822.1 208.2h1M763.7 199.0h1M765.1 195.8h1M793.9 135.4h1M799.1 127.7h1M811.4 244.9h1M822.1 156.1h1M777.4 139.1h1M765.4 215.3h1M825.1 198.2h1M814.1 144.9h1M819.1 136.0h1M816.1 145.7h1M786.8 122.3h1M790.4 136.1h1M782.5 141.2h1M821.1 137.1h1M825.9 149.0h1M793.2 135.4h1M780.3 134.5h1M762.4 205.5h1M823.5 162.2h1M819.9 138.9h1M765.9 186.0h1M764.7 225.9h1M770.0 246.5h1M812.6 225.0h1M777.4 163.4h1M821.4 142.1h1M776.5 155.9h1M764.7 201.7h1M768.8 234.5h1M762.3 198.5h1M801.1 133.7h1M777.0 154.4h1M767.4 178.5h1M776.6 161.9h1M778.3 169.1h1M781.5 126.7h1M764.9 202.1h1M822.4 200.1h1M821.4 148.4h1M764.5 236.4h1M825.4 168.0h1M776.0 139.1h1M817.3 229.3h1M825.0 174.9h1M774.3 148.5h1M825.6 214.8h1M825.5 138.0h1M775.6 144.9h1M822.0 174.2h1M761.0 240.6h1M823.5 188.0h1M799.3 137.8h1M779.0 138.2h1M769.9 216.7h1M769.7 242.5h1M785.4 138.3h1M816.6 142.9h1M821.6 221.4h1M771.7 172.3h1M779.3 168.7h1M821.7 157.8h1M830.4 177.4h1M766.7 194.4h1M826.2 173.5h1M828.4 152.8h1M828.6 156.9h1M833.6 142.0h1M821.3 137.6h1M834.2 161.6h1M822.5 160.4h1M839.6 163.9h1M824.3 136.7h1M829.3 192.3h1M834.0 146.8h1M813.0 166.8h1M818.4 145.3h1M841.5 145.1h1M823.1 192.8h1M838.0 114.8h1M819.9 176.6h1M826.5 160.0h1M824.5 164.0h1M817.8 176.9h1M823.8 149.2h1M826.7 143.1h1M825.9 140.0h1M835.1 145.5h1M820.2 143.1h1M826.5 146.4h1M829.2 134.1h1M818.3 159.6h1M833.4 153.9h1M817.5 153.4h1M827.8 170.2h1M819.7 154.4h1M825.3 160.5h1M836.6 154.8h1M829.4 172.0h1M822.2 156.2h1M827.2 174.9h1M820.3 168.5h1M840.6 170.1h1M811.6 158.5h1M827.9 186.5h1M826.0 174.1h1M833.2 138.4h1M836.5 170.5h1M827.1 128.9h1M822.9 147.7h1M822.6 164.1h1M826.1 178.3h1M828.8 159.7h1M826.8 159.5h1M826.2 148.2h1M837.1 158.6h1M822.8 163.2h1M830.0 168.9h1M830.8 161.5h1M824.5 150.7h1M820.9 154.2h1M837.8 157.5h1M829.5 152.7h1M827.0 149.9h1M813.8 160.1h1M806.5 134.7h1M810.6 164.8h1M824.2 166.1h1M832.7 150.7h1M812.9 133.7h1M836.8 127.6h1M831.8 153.3h1M831.4 145.7h1M825.5 162.5h1M830.1 134.9h1M821.1 157.8h1M824.0 162.6h1M822.2 151.5h1M814.8 146.7h1M824.7 132.2h1M825.0 142.0h1M827.3 142.1h1M818.9 168.2h1M835.7 168.3h1M829.2 129.0h1M822.4 159.7h1M826.6 161.3h1M820.9 143.1h1M812.8 141.0h1M834.1 134.6h1M819.0 172.7h1M835.2 144.4h1M832.8 160.6h1M823.4 151.7h1M821.0 179.9h1M807.9 157.1h1M829.9 137.6h1M820.0 149.1h1M822.3 144.3h1M816.3 147.3h1M820.8 128.9h1M838.8 136.3h1M827.0 144.1h1M813.6 159.3h1M824.4 151.6h1M821.6 147.4h1M829.3 152.6h1M825.4 161.8h1M814.3 165.3h1M818.7 141.8h1M818.7 162.8h1M815.8 177.3h1M814.7 166.4h1M817.1 145.8h1M813.6 137.0h1M813.7 154.8h1M822.3 173.4h1M825.5 163.5h1M835.3 141.8h1M820.6 141.4h1M819.0 145.6h1M826.8 172.5h1M826.0 154.0h1M821.0 139.1h1M818.9 169.2h1M832.7 135.9h1M833.8 169.3h1M808.0 141.4h1M830.3 160.0h1M830.3 157.6h1M816.7 155.2h1M817.6 171.6h1M833.7 143.0h1M811.6 158.0h1M816.8 137.5h1M824.5 170.5h1M823.4 143.9h1M816.0 140.4h1M814.1 141.2h1M841.2 135.2h1M837.8 140.1h1M831.2 171.5h1M822.9 133.1h1M817.7 155.7h1M819.2 162.0h1M828.8 177.5h1M807.4 130.9h1M805.4 148.1h1M828.0 149.3h1M814.3 147.3h1M831.4 143.0h1M825.2 139.7h1M820.0 163.4h1M819.9 144.4h1M825.6 154.2h1M832.2 177.8h1M828.6 140.9h1M817.4 155.7h1M819.5 147.0h1M834.0 156.1h1M838.5 144.7h1M821.8 146.2h1M817.1 160.0h1M835.2 149.5h1M822.8 134.6h1M824.6 141.8h1M842.9 146.9h1M821.1 137.5h1M825.4 149.5h1M825.2 172.1h1M827.5 140.3h1M819.2 120.1h1M827.3 133.9h1M829.4 121.8h1M819.4 154.1h1M820.8 163.5h1M825.6 150.7h1M821.3 144.6h1M828.1 164.1h1M813.2 162.6h1M823.8 174.2h1M831.4 155.5h1M823.0 158.9h1M817.8 149.0h1M823.3 163.1h1M825.9 136.6h1M819.9 129.8h1M830.5 125.4h1M821.0 134.7h1M815.1 183.0h1M827.8 154.7h1M830.8 160.4h1M838.2 128.2h1M818.2 146.9h1M809.8 141.4h1M829.5 166.6h1M828.1 154.9h1M819.6 165.9h1M838.8 156.6h1M837.7 153.1h1M822.7 164.9h1M825.4 147.7h1M820.4 153.2h1M824.3 126.7h1M828.2 177.4h1M827.2 158.3h1M828.5 164.9h1M830.3 146.2h1M816.0 158.2h1M827.8 143.0h1M822.6 158.5h1M836.4 142.2h1M817.6 151.1h1M818.6 143.8h1M817.5 169.2h1M827.9 154.0h1M836.5 199.8h1M829.0 164.5h1M817.5 160.2h1M820.0 128.6h1M827.6 142.6h1M835.4 147.4h1M822.6 138.4h1M823.4 150.1h1M829.4 139.8h1M819.2 135.3h1M819.5 145.3h1M823.5 141.3h1M831.3 140.4h1M826.4 149.2h1M827.4 152.6h1M821.4 151.1h1M820.7 149.2h1M833.1 164.1h1M834.7 138.8h1M833.5 158.0h1M829.4 147.3h1M837.6 138.0h1M826.5 131.0h1M822.5 157.2h1M826.4 155.6h1M834.3 135.7h1M811.7 166.8h1M813.5 146.7h1M841.8 162.4h1M823.6 165.5h1M818.4 162.5h1M821.7 141.0h1M817.4 142.5h1M826.5 178.7h1M831.7 165.5h1M823.7 177.1h1M823.9 173.2h1M815.6 160.6h1M816.8 146.6h1M823.2 124.1h1M827.5 152.6h1M812.0 149.7h1M823.8 127.6h1M819.8 166.9h1M821.5 148.5h1M823.8 148.2h1M816.6 149.2h1M810.1 153.7h1M822.3 131.3h1M813.4 154.5h1M821.3 141.9h1M820.5 154.7h1M832.2 145.0h1M810.5 138.1h1M817.6 157.8h1M832.8 156.7h1M818.3 165.6h1M821.3 133.7h1M823.2 181.9h1M824.4 141.0h1M830.1 139.6h1M833.0 162.0h1M814.9 145.1h1M821.9 139.3h1M827.3 147.8h1M837.1 155.4h1M831.5 165.8h1M827.9 163.7h1M819.5 166.4h1M831.8 167.4h1M820.5 143.1h1M833.1 150.3h1M843.4 159.1h1M816.2 160.9h1M826.5 123.1h1M820.3 118.6h1M834.3 148.8h1M821.7 163.7h1M817.5 131.8h1M822.8 147.0h1M823.3 166.4h1M824.9 130.9h1M825.0 138.9h1M822.4 121.0h1M822.4 139.6h1M831.4 144.7h1M818.4 144.1h1M810.6 157.3h1M811.5 132.9h1M826.5 146.5h1M839.6 130.5h1M827.1 177.9h1M819.9 131.8h1M832.1 179.0h1M818.9 163.7h1M829.6 153.0h1M830.7 147.2h1M829.4 147.4h1M823.4 135.1h1M824.3 149.7h1M818.0 140.4h1M821.8 172.2h1M828.1 161.2h1M834.3 161.7h1M836.9 172.3h1M830.0 149.8h1M825.6 150.0h1M819.2 128.3h1M827.7 131.2h1M829.8 177.3h1M825.4 137.4h1M820.0 160.3h1M824.0 144.8h1M826.6 134.0h1M817.1 157.1h1M819.3 160.5h1M821.1 152.4h1M823.5 170.2h1M822.7 152.5h1M816.4 153.4h1M823.5 155.8h1M809.8 160.5h1M825.2 155.8h1M827.6 166.4h1M817.5 143.5h1M826.5 129.2h1M840.9 121.5h1M828.6 144.1h1M829.4 173.6h1M838.5 140.8h1M825.2 140.0h1M814.6 153.1h1M820.1 132.9h1M822.3 142.3h1M816.3 154.2h1M828.6 156.8h1M819.7 137.9h1M807.9 161.6h1M831.9 138.4h1M814.6 133.5h1M835.0 148.4h1M821.5 152.3h1M824.8 146.6h1M823.4 160.8h1M831.6 135.0h1M823.7 150.2h1M826.0 186.5h1M829.7 162.2h1M823.9 159.4h1M833.6 169.3h1M818.7 153.9h1M827.3 135.4h1M822.2 144.5h1M831.2 151.9h1M839.3 159.2h1M821.5 155.2h1M825.4 139.6h1M827.4 130.9h1M826.1 144.4h1M825.4 141.1h1M837.4 141.6h1M830.5 152.3h1M833.2 141.3h1M815.4 161.5h1M832.3 160.9h1M796.6 176.3h1M835.4 151.8h1M818.1 158.8h1M812.1 146.7h1M829.2 171.5h1M821.8 148.2h1M814.7 149.4h1M819.6 151.5h1M819.2 157.9h1M823.9 141.4h1M828.9 159.0h1M822.8 148.6h1M830.7 158.7h1M823.5 179.9h1M821.1 132.4h1M820.0 154.4h1M811.9 178.9h1M831.4 137.4h1M827.4 132.8h1M824.5 147.9h1M836.0 124.3h1M821.0 123.8h1M821.1 146.7h1M824.7 166.4h1M818.0 143.3h1M835.4 151.9h1M817.6 151.6h1M816.6 138.6h1M820.8 129.3h1M837.8 145.5h1M826.3 147.6h1M823.9 139.5h1M827.7 144.9h1M818.5 164.6h1M835.7 157.7h1M828.4 146.6h1M825.5 161.7h1M824.9 170.6h1M835.1 154.7h1M826.3 139.1h1M821.5 141.8h1M822.1 138.3h1M827.4 156.0h1M823.5 174.9h1M826.5 150.4h1M826.1 142.6h1M830.2 138.1h1M824.4 180.0h1M826.7 135.9h1M816.5 167.9h1M811.0 175.2h1M834.3 144.6h1M826.6 144.4h1M817.8 157.6h1M819.7 160.0h1M827.1 142.3h1M825.2 151.9h1M823.5 148.0h1M833.6 140.7h1M825.8 166.2h1M827.6 145.3h1M816.3 147.4h1M810.4 144.9h1M824.5 170.3h1M829.3 166.3h1M828.0 154.7h1M813.1 143.0h1M823.0 150.0h1M815.6 129.2h1M826.0 147.4h1M824.7 148.0h1M822.9 134.7h1M831.0 157.0h1M824.5 176.0h1M819.4 163.1h1M824.2 151.6h1M831.0 151.3h1M824.5 134.1h1M826.7 157.0h1M821.5 134.4h1M831.7 153.3h1M833.1 150.3h1M843.4 133.9h1M829.9 153.3h1M826.5 148.3h1M828.7 163.5h1M825.4 136.6h1M831.7 165.4h1M816.2 154.7h1M835.8 160.1h1M821.0 155.3h1M827.2 135.8h1M822.7 146.7h1M822.2 170.2h1M811.7 136.8h1M819.5 169.2h1M824.0 147.7h1M823.1 173.6h1M838.8 154.7h1M817.6 147.4h1M812.0 164.5h1M823.2 167.1h1M820.4 140.7h1M809.0 155.0h1M832.4 120.7h1M816.9 150.1h1M832.3 178.0h1M836.6 155.3h1M814.2 139.5h1M828.4 151.5h1M818.8 150.1h1M825.7 183.3h1M822.3 159.5h1M826.8 162.1h1M819.7 172.4h1M834.5 158.6h1M816.8 136.0h1M823.2 149.6h1M818.3 149.6h1M813.3 148.7h1M814.9 155.3h1M806.7 140.7h1M821.5 130.7h1M821.4 148.4h1M834.1 161.0h1M821.6 162.8h1M824.2 162.7h1M821.5 155.2h1M822.2 164.7h1M837.3 174.0h1M834.9 149.1h1M836.2 147.2h1M824.5 138.7h1M831.5 128.3h1M824.0 161.1h1M816.4 158.1h1M816.8 146.7h1M827.1 171.1h1M839.8 137.2h1M812.5 140.8h1M826.2 149.7h1M815.1 138.9h1M826.2 151.9h1M839.3 134.7h1M820.5 200.4h1M815.7 166.7h1M820.8 152.9h1M833.5 143.3h1M822.7 151.6h1M824.9 175.4h1M835.1 142.1h1M833.9 129.8h1M819.6 141.1h1M820.0 153.5h1M826.5 138.4h1M827.4 141.9h1M828.4 155.2h1M816.4 138.2h1M831.7 150.0h1M826.7 146.4h1M835.9 157.5h1M819.5 154.1h1M816.6 145.3h1M822.0 136.6h1M818.3 166.1h1M818.1 147.9h1M815.6 168.7h1M843.8 167.2h1M855.3 163.5h1M845.4 176.3h1M858.3 161.8h1M860.0 158.8h1M849.6 157.1h1M857.1 171.0h1M855.4 145.3h1M843.1 171.8h1M858.3 135.7h1M851.0 136.2h1M851.3 192.0h1M848.2 146.3h1M850.3 145.7h1M853.5 125.5h1M856.2 140.1h1M851.0 198.5h1M859.7 157.3h1M849.7 162.7h1M857.5 214.2h1M865.1 180.3h1M844.9 180.2h1M849.5 157.1h1M848.2 147.5h1M854.9 157.4h1M856.2 144.7h1M844.4 146.5h1M848.8 160.5h1M864.1 156.4h1M848.9 199.1h1M864.1 170.3h1M858.0 122.0h1M848.2 153.5h1M851.1 149.2h1M850.6 153.5h1M856.9 168.7h1M862.4 131.5h1M850.6 147.9h1M855.4 149.2h1M845.3 135.6h1M846.1 169.7h1M851.2 140.6h1M865.3 130.8h1M848.6 176.7h1M856.8 136.1h1M860.3 162.7h1M858.0 182.4h1M856.2 173.8h1M848.0 181.1h1M862.9 147.3h1M845.2 172.3h1M847.5 142.1h1M841.8 153.4h1M858.2 177.2h1M855.6 179.1h1M859.6 141.8h1M858.2 136.9h1M843.6 165.8h1M856.1 122.5h1M840.9 149.6h1M849.5 165.4h1M846.8 151.6h1M849.8 161.2h1M846.9 146.4h1M852.0 157.2h1M840.3 188.1h1M842.2 160.4h1M846.0 158.4h1M858.5 130.5h1M843.1 169.7h1M857.2 131.8h1M851.5 155.9h1M856.8 158.6h1M860.1 145.7h1M855.1 176.6h1M841.0 132.3h1M850.6 124.8h1M849.9 167.9h1M854.6 165.8h1M847.3 171.8h1M855.9 179.3h1M854.1 131.4h1M846.1 159.4h1M852.0 143.2h1M852.4 170.7h1M853.7 131.4h1M851.8 160.8h1M864.1 119.5h1M853.6 131.5h1M853.4 142.2h1M860.4 163.4h1M838.2 146.9h1M844.9 155.3h1M858.2 131.9h1M849.0 165.9h1M844.0 146.0h1M845.8 172.6h1M856.2 133.1h1M858.5 183.2h1M848.3 159.8h1M855.0 166.5h1M866.8 155.7h1M848.5 157.8h1M850.1 120.6h1M857.1 159.2h1M844.6 138.0h1M839.2 156.8h1M852.8 156.6h1M857.8 149.1h1M842.3 154.9h1M862.2 178.6h1M850.7 188.1h1M843.9 143.5h1M847.9 191.0h1M829.3 159.2h1M851.2 137.3h1M845.2 169.4h1M850.7 184.4h1M859.7 176.8h1M851.2 159.3h1M846.0 148.7h1M837.6 131.3h1M862.4 139.7h1M835.2 155.3h1M848.4 177.8h1M852.7 194.0h1M841.2 121.4h1M857.8 165.4h1M868.9 171.5h1M851.9 142.5h1M859.0 165.1h1M849.5 146.3h1M856.8 182.9h1M846.2 167.2h1M853.6 170.7h1M845.7 156.5h1M848.1 132.3h1M847.7 129.3h1M852.0 148.3h1M860.0 128.4h1M845.6 159.6h1M862.9 174.5h1M862.0 140.5h1M847.5 155.7h1M863.4 146.7h1M854.7 157.0h1M855.9 143.1h1M848.4 160.1h1M857.3 160.8h1M862.4 143.7h1M844.7 163.9h1M853.8 143.3h1M843.3 180.4h1M840.6 138.5h1M849.9 175.8h1M843.4 162.1h1M850.3 188.0h1M857.7 170.7h1M848.8 162.4h1M840.0 123.0h1M845.3 137.8h1M848.1 167.2h1M857.4 183.9h1M847.4 143.4h1M844.5 134.0h1M863.5 155.7h1M849.4 146.8h1M849.7 195.9h1M842.9 173.6h1M841.5 149.0h1M865.1 156.7h1M840.6 164.7h1M845.0 144.7h1M850.5 155.0h1M850.0 160.2h1M843.9 156.0h1M851.0 179.4h1M850.6 153.5h1M860.6 156.9h1M852.1 179.8h1M849.0 151.9h1M854.9 152.2h1M846.3 137.0h1M850.6 125.2h1M848.0 133.4h1M853.3 161.6h1M847.7 142.6h1M841.8 154.6h1M854.0 143.5h1M861.2 144.1h1M861.6 151.1h1M867.3 169.7h1M857.2 173.1h1M846.2 161.7h1M859.8 144.6h1M862.3 152.1h1M857.6 171.1h1M848.4 133.1h1M859.8 187.8h1M855.4 189.8h1M845.8 169.8h1M853.6 170.0h1M850.4 194.8h1M849.0 157.9h1M860.0 137.1h1M842.9 144.4h1M853.7 154.6h1M854.8 187.7h1M848.3 131.4h1M861.7 196.4h1M851.0 187.7h1M850.1 155.3h1M841.8 160.1h1M844.0 143.4h1M867.0 164.2h1M864.1 133.3h1M853.4 123.4h1M845.1 157.7h1M848.3 158.1h1M853.4 139.9h1M850.1 177.2h1M845.1 128.1h1M860.6 136.7h1M836.2 137.2h1M858.5 165.0h1M860.7 136.8h1M841.2 156.7h1M868.1 175.9h1M851.3 173.3h1M850.6 157.2h1M859.8 159.4h1M849.9 155.5h1M859.4 177.3h1M862.0 162.2h1M843.6 169.5h1M848.6 138.8h1M850.0 140.2h1M841.5 155.1h1M844.0 169.7h1M853.2 130.5h1M854.0 160.9h1M842.2 168.2h1M847.9 148.2h1M849.5 166.7h1M849.9 151.8h1M863.8 195.1h1M837.5 159.1h1M858.3 149.9h1M851.3 146.9h1M836.5 157.3h1M858.9 126.2h1M842.3 136.1h1M840.6 185.7h1M847.7 149.8h1M850.4 140.3h1M852.8 141.0h1M850.7 140.1h1M851.1 144.6h1M860.9 136.0h1M856.7 147.0h1M846.8 142.3h1M849.5 140.5h1M848.2 143.8h1M851.2 130.8h1M850.1 151.5h1M852.4 140.2h1M850.1 140.9h1M850.7 140.9h1M860.5 134.8h1M852.6 142.7h1M846.6 141.6h1M850.5 146.9h1M852.1 137.1h1M844.4 143.5h1M854.1 144.6h1M850.8 140.5h1M854.8 140.1h1M846.1 133.7h1M858.0 140.3h1M844.4 135.1h1M852.1 137.4h1M858.8 142.3h1M849.0 144.6h1M853.0 146.8h1M844.2 138.2h1M850.9 151.3h1M853.8 149.1h1M852.7 151.7h1M851.9 137.0h1M854.6 129.5h1M852.1 135.0h1M852.8 143.4h1M849.1 139.1h1M853.7 147.5h1M853.1 142.3h1M853.1 138.9h1M852.8 144.0h1M853.0 135.9h1M849.9 136.9h1M850.3 148.8h1M855.1 142.2h1M857.1 141.9h1M851.4 151.0h1M850.6 132.3h1M847.9 141.9h1M851.7 140.0h1M853.7 138.8h1M847.6 142.0h1M849.9 138.4h1M848.0 146.1h1M846.5 140.4h1M850.4 132.1h1M847.9 136.3h1M855.3 135.3h1M846.8 148.1h1M848.9 145.9h1M855.8 147.1h1M855.9 143.1h1M846.0 140.0h1M852.6 135.1h1M856.0 134.6h1M850.8 145.8h1M848.9 130.6h1M849.7 139.6h1M859.7 133.3h1M852.8 144.8h1M851.1 128.6h1M850.9 141.3h1M851.3 141.7h1M853.1 137.1h1M852.5 147.9h1M847.9 143.7h1M852.5 140.7h1M845.5 139.6h1M847.3 147.9h1M849.9 144.3h1M851.6 136.9h1M843.0 129.3h1M852.3 133.1h1M857.7 137.9h1M851.2 139.5h1M848.8 135.0h1M853.5 139.1h1M852.9 137.6h1M854.1 131.2h1M851.9 141.0h1M856.4 141.2h1M854.5 145.5h1M857.8 139.6h1M857.5 135.9h1M852.6 142.1h1M861.0 138.7h1M849.3 145.1h1M854.8 138.2h1M849.1 144.0h1M853.1 139.0h1M848.6 137.1h1M850.4 142.2h1M847.9 142.3h1M856.1 145.7h1M848.9 140.7h1M849.8 146.3h1M853.4 146.9h1M851.1 140.7h1M852.1 141.9h1M854.2 142.2h1M854.3 145.8h1M851.9 144.8h1M852.1 139.5h1M852.3 143.0h1M852.0 142.5h1M817.9 242.2h1M829.8 213.5h1M820.7 211.7h1M816.4 215.0h1M826.5 233.0h1M825.7 211.1h1M828.7 238.4h1M833.6 225.6h1M830.0 211.2h1M823.3 239.1h1M822.1 236.4h1M835.4 231.9h1M807.1 227.6h1M829.0 203.1h1M829.5 218.9h1M827.7 195.1h1M826.8 219.9h1M818.8 235.0h1M833.1 210.0h1M833.9 160.7h1M821.9 220.6h1M832.2 216.3h1M828.4 239.9h1M820.0 242.4h1M816.0 201.5h1M821.8 194.9h1M824.4 206.8h1M817.3 219.4h1M812.7 223.0h1M824.0 208.4h1M811.3 212.2h1M832.2 203.5h1M832.5 203.8h1M832.5 176.2h1M827.2 242.3h1M813.0 212.1h1M830.7 208.4h1M827.9 212.5h1M836.4 216.1h1M829.2 229.6h1M815.9 211.4h1M825.5 223.4h1M834.4 189.3h1M835.5 171.8h1M832.6 195.1h1M842.9 228.8h1M819.6 237.7h1M830.7 229.9h1M821.9 193.0h1M832.1 225.6h1M807.7 232.1h1M837.1 184.0h1M845.8 214.1h1M825.4 207.7h1M807.8 217.7h1M817.1 227.1h1M823.7 224.3h1M826.9 185.4h1M831.8 187.6h1M817.8 245.0h1M816.2 207.4h1M822.4 230.4h1M839.7 213.9h1M824.3 192.9h1M827.0 224.4h1M834.8 229.8h1M817.3 200.7h1M828.7 192.9h1M819.2 214.6h1M824.5 213.5h1M837.6 189.9h1M814.2 199.6h1M832.7 207.9h1M830.9 208.2h1M817.2 193.6h1M839.1 229.7h1M829.6 220.6h1M825.8 243.2h1M837.0 204.9h1M834.3 220.9h1M825.6 206.1h1M819.5 196.0h1M821.0 197.6h1M822.6 206.7h1M829.2 218.1h1M811.1 240.3h1M832.0 211.7h1M823.4 249.1h1M844.8 206.1h1M818.6 214.6h1M830.4 199.9h1M826.3 223.8h1M825.8 219.4h1M799.4 238.8h1M818.8 208.4h1M826.0 197.8h1M827.5 243.4h1M831.3 211.9h1M843.0 221.7h1M831.6 194.8h1M825.0 217.7h1M821.2 212.1h1M823.8 220.3h1M838.8 204.9h1M825.0 187.9h1M828.5 190.1h1M817.8 239.7h1M829.3 209.3h1M814.4 220.2h1M825.7 208.5h1M817.8 188.3h1M819.9 222.6h1M826.2 188.5h1M826.3 239.8h1M832.5 225.1h1M827.1 198.1h1M826.1 238.5h1M803.6 247.5h1M833.8 187.5h1M822.0 195.0h1M822.0 241.1h1M825.0 224.7h1M829.4 199.5h1M837.5 207.7h1M831.9 236.3h1M829.6 198.1h1M835.6 206.2h1M820.5 214.0h1M834.1 227.7h1M835.0 202.0h1M816.0 208.2h1M835.1 189.8h1M820.6 210.7h1M840.6 228.4h1M819.8 194.5h1M814.9 192.8h1M830.4 234.9h1M827.1 170.5h1M816.2 184.8h1M814.3 188.9h1M817.6 158.4h1M810.8 242.6h1M815.0 215.0h1M827.7 190.3h1M818.5 221.6h1M821.6 243.0h1M833.1 233.7h1M828.1 225.7h1M817.9 200.0h1M829.3 221.6h1M825.9 183.3h1M823.3 196.1h1M819.9 203.1h1M820.1 222.3h1M834.3 225.3h1M845.3 200.9h1M825.0 237.7h1M814.0 187.2h1M822.5 193.8h1M819.4 201.2h1M832.2 170.6h1M820.6 207.0h1M811.1 218.6h1M834.2 200.3h1M824.0 202.4h1M835.3 169.7h1M833.6 221.9h1M819.9 215.9h1M827.7 206.9h1M833.2 195.5h1M825.5 218.6h1M810.3 224.6h1M825.1 235.6h1M846.2 195.9h1M832.3 181.5h1M828.1 201.8h1M843.5 207.1h1M826.7 201.5h1M841.6 217.3h1M826.8 219.6h1M834.9 231.0h1M825.5 208.8h1M826.2 198.7h1M831.6 200.8h1M812.6 182.9h1M819.9 203.1h1M836.7 225.1h1M832.6 205.1h1M822.0 200.0h1M823.9 188.3h1M827.2 199.5h1M821.4 213.7h1M824.0 210.5h1M826.6 221.2h1M827.7 194.3h1M823.6 215.2h1M831.0 243.1h1M825.4 195.9h1M820.2 192.7h1M830.3 210.8h1M821.6 234.7h1M824.7 199.1h1M812.6 223.8h1M826.9 218.1h1M831.6 232.9h1M805.6 223.8h1M835.6 219.0h1M831.0 221.6h1M827.8 239.3h1M808.4 207.0h1M826.5 242.8h1M822.6 186.8h1M827.0 196.9h1M827.9 223.2h1M849.1 220.8h1M831.0 233.5h1M820.7 206.1h1M801.4 128.5h1M809.7 126.3h1M780.2 127.5h1M811.8 133.3h1M796.9 130.9h1M808.3 128.6h1M804.0 130.9h1M785.8 131.9h1M786.3 134.3h1M785.7 132.9h1M810.5 131.4h1M783.4 127.9h1M777.0 129.2h1M807.6 124.1h1M790.2 131.1h1M788.4 131.7h1M799.6 132.1h1M805.2 134.9h1M774.8 126.3h1M791.5 131.0h1M796.7 126.0h1M778.7 137.7h1M796.1 132.1h1M815.6 123.0h1M797.1 129.7h1M792.8 136.2h1M793.0 124.8h1M779.9 125.4h1M808.3 128.2h1M780.1 129.9h1M777.3 132.4h1M795.6 131.5h1M808.2 129.1h1M805.4 123.9h1M805.8 138.0h1M784.0 133.8h1M781.8 131.1h1M800.6 128.5h1M780.8 130.2h1M793.4 132.2h1M795.1 123.7h1M807.6 132.6h1M775.9 130.0h1M807.1 139.1h1M792.5 128.5h1M809.6 130.4h1M793.9 124.3h1M781.4 132.3h1M817.1 132.2h1M792.2 129.2h1M780.0 125.9h1M803.6 138.1h1M790.3 127.2h1M774.8 128.8h1M807.0 124.0h1M790.6 135.6h1M813.7 127.9h1M797.4 132.6h1M796.3 130.3h1M796.7 131.4h1M792.0 129.9h1M789.8 139.9h1M794.3 135.1h1M783.1 136.6h1M807.4 131.3h1M824.7 134.0h1M817.3 127.1h1M766.7 133.7h1M794.9 128.1h1M781.5 132.9h1M804.8 135.2h1M793.9 129.0h1M777.3 126.8h1M811.1 125.3h1M793.0 128.7h1M785.7 125.5h1M789.2 132.6h1M790.8 132.0h1M785.8 126.5h1M804.2 130.2h1M791.1 132.8h1M806.3 128.4h1M795.1 129.7h1M810.9 125.3h1M785.2 130.4h1M764.1 124.5h1M800.2 135.1h1M814.6 129.4h1M800.9 130.8h1M784.7 131.6h1M793.6 135.8h1M791.1 125.0h1M797.4 128.2h1M795.7 132.2h1M772.3 123.8h1M798.5 134.0h1M786.8 130.4h1M800.2 128.3h1M793.1 128.6h1M806.8 130.5h1M782.2 131.6h1M785.1 129.4h1M778.7 129.7h1M803.9 133.4h1M801.5 127.2h1M793.9 130.5h1M791.1 129.4h1M775.6 138.2h1M784.9 131.2h1M796.5 126.2h1M786.6 132.1h1M793.8 132.7h1M781.6 130.3h1M782.4 130.7h1M786.0 128.6h1M801.4 135.1h1M793.3 131.6h1M782.4 128.6h1M788.8 132.2h1M815.4 123.2h1M808.4 136.2h1M801.4 129.3h1M803.4 124.8h1M777.5 131.3h1M786.8 133.6h1M783.1 123.2h1M792.2 133.0h1M775.9 130.9h1M795.4 132.3h1M804.1 131.7h1M785.7 125.3h1M801.9 129.6h1M805.6 135.5h1M786.6 128.4h1M809.9 131.5h1M780.4 129.9h1M789.3 135.6h1M778.5 128.0h1M804.3 134.1h1M797.0 128.6h1M782.7 120.3h1M802.6 131.8h1M795.0 125.5h1M772.2 129.0h1M788.8 135.5h1M823.1 125.2h1M784.7 134.0h1M806.3 133.9h1M792.5 128.6h1M788.7 125.1h1M785.7 127.5h1M808.3 136.3h1M797.7 124.4h1M792.0 128.5h1M809.1 126.6h1" stroke="#000" stroke-width="1" stroke-opacity="0.5"/>
<path d="M771.1,252.9C764.6,251.1 770.1,245.8 769.1,241.9C768.0,238.0 766.0,236.0 764.9,229.6C763.9,223.1 763.0,210.5 762.9,203.4C762.8,196.3 763.3,191.3 764.2,187.0C765.2,182.6 766.5,180.1 768.4,177.3C770.2,174.6 773.4,172.5 775.2,170.5C777.1,168.4 779.1,167.0 779.4,165.0C779.6,162.9 777.3,161.3 776.6,158.1C775.9,154.9 775.2,149.2 775.2,145.7C775.2,142.3 775.7,139.4 776.6,137.5C777.5,135.5 778.2,134.2 780.7,134.0C783.3,133.9 788.3,136.3 791.7,136.8C795.2,137.3 797.2,136.8 801.3,136.8C805.5,136.8 813.0,136.7 816.5,136.8C819.9,136.9 821.3,135.5 822.0,137.5C822.6,139.4 820.4,144.4 820.6,148.5C820.8,152.6 822.4,158.8 823.3,162.2C824.3,165.7 825.6,165.9 826.1,169.1C826.5,172.3 826.5,176.6 826.1,181.5C825.6,186.3 824.3,192.5 823.3,197.9C822.4,203.4 821.5,209.3 820.6,214.4C819.7,219.6 819.2,224.1 817.8,228.7C816.5,233.3 813.9,237.9 812.3,241.9C810.7,246.0 815.1,251.1 808.2,252.9C801.3,254.7 777.6,254.7 771.1,252.9Z" fill="#000"/>
<path d="M780.0,143.0C780.5,140.1 781.5,139.9 783.5,139.5C785.4,139.2 788.8,140.6 791.7,140.9C794.7,141.3 798.1,141.3 801.3,141.6C804.6,141.9 809.1,141.4 811.0,143.0C812.8,144.6 811.9,148.0 812.3,151.2C812.8,154.4 813.0,158.6 813.7,162.2C814.4,165.9 819.2,171.2 816.5,173.2C813.7,175.3 802.7,174.4 797.2,174.6C791.7,174.8 785.9,176.2 783.5,174.6C781.1,173.0 783.3,167.9 782.8,165.0C782.3,162.0 781.2,160.4 780.7,156.7C780.3,153.1 779.6,145.8 780.0,143.0Z" fill="url(#uA3)"/>
<path d="M819.0 203.4 819.0 206.2 818.9 209.1 818.7 212.0 818.5 214.9 818.1 218.0 817.6 221.1 816.9 224.4 816.0 227.9 814.9 231.4 813.4 235.0 811.6 238.8 809.9 243.3 809.0 250.9 804.2 250.9 799.6 250.9 795.3 250.9 791.1 250.9 786.9 250.9 782.8 250.9 778.6 250.9 774.2 250.9 770.3 249.2 770.2 239.3 768.5 235.3 767.4 231.4 766.7 227.5 766.3 224.1 766.0 221.0 765.7 218.3 765.6 215.8 765.4 213.5 765.3 211.3 765.1 209.3 765.1 207.3 765.0 205.4 764.9 203.4 764.9 201.5 764.9 199.6 765.0 197.6 765.1 195.5 765.3 193.4 765.5 191.1 765.9 188.7 766.5 186.3 767.3 183.8 768.4 181.3 769.8 179.0 771.6 176.9 773.7 175.0 776.0 173.5 778.6 172.2 781.2 171.1 784.0 170.6 786.9 170.4 789.8 170.4 792.7 170.4 795.8 170.5 798.9 170.5 802.3 170.4 806.0 170.4 810.1 170.4 814.6 170.5 818.1 172.3 819.6 176.0 820.5 180.0 820.6 184.0 820.3 187.9 819.9 191.5 819.5 194.7 819.2 197.7 819.1 200.6Z" fill="#a2a2a2"/>
<path d="M817.9 203.4 817.8 206.2 817.7 208.9 817.5 211.6 817.2 214.5 816.8 217.4 816.3 220.4 815.6 223.5 814.7 226.8 813.6 230.1 812.1 233.5 810.4 237.0 808.8 241.3 807.8 248.3 803.3 248.4 799.0 248.5 794.9 248.7 790.9 248.8 786.9 248.8 782.9 248.8 778.9 248.8 774.8 248.7 771.1 247.0 770.9 237.8 769.3 234.0 768.1 230.3 767.5 226.6 767.1 223.3 766.8 220.3 766.6 217.7 766.4 215.3 766.2 213.1 766.1 211.0 766.0 209.1 765.9 207.2 765.8 205.3 765.8 203.4 765.8 201.6 765.8 199.7 765.8 197.8 765.9 195.8 766.1 193.7 766.3 191.5 766.6 189.2 767.1 186.8 767.8 184.4 768.8 181.9 770.2 179.5 771.8 177.3 773.9 175.5 776.2 174.1 778.7 172.8 781.4 171.9 784.1 171.7 786.9 171.7 789.7 171.8 792.5 171.9 795.3 172.0 798.3 172.1 801.5 172.1 805.0 172.1 808.9 172.1 813.1 172.2 816.5 173.8 818.1 177.3 819.0 181.0 819.3 184.8 819.0 188.5 818.7 191.9 818.4 195.0 818.2 197.9 818.0 200.7Z" fill="#868686"/>
<path d="M816.9 203.4 816.7 206.1 816.6 208.7 816.3 211.3 816.0 214.0 815.5 216.8 815.0 219.6 814.3 222.6 813.4 225.6 812.2 228.8 810.8 231.9 809.2 235.3 807.6 239.3 806.6 245.6 802.4 245.9 798.4 246.2 794.5 246.4 790.7 246.6 786.9 246.7 783.1 246.8 779.3 246.6 775.4 246.4 771.9 244.7 771.6 236.4 770.0 232.7 768.9 229.1 768.3 225.6 767.9 222.4 767.6 219.6 767.4 217.1 767.2 214.8 767.0 212.7 766.9 210.7 766.8 208.8 766.7 207.0 766.7 205.2 766.6 203.4 766.6 201.7 766.6 199.9 766.6 198.0 766.7 196.1 766.8 194.1 767.1 192.0 767.3 189.7 767.8 187.4 768.4 184.9 769.3 182.5 770.5 180.1 772.1 177.8 774.1 176.0 776.4 174.6 778.9 173.5 781.5 172.7 784.2 172.8 786.9 173.1 789.6 173.2 792.2 173.4 794.9 173.6 797.8 173.7 800.8 173.7 804.1 173.8 807.7 173.8 811.7 173.9 815.0 175.4 816.6 178.5 817.6 182.0 817.9 185.5 817.8 189.0 817.6 192.3 817.3 195.3 817.1 198.1 817.0 200.8Z" fill="#727272"/>
<path d="M815.8 203.4 815.6 206.0 815.4 208.5 815.1 211.0 814.7 213.6 814.2 216.2 813.7 218.9 812.9 221.7 812.0 224.5 810.9 227.5 809.6 230.4 808.0 233.6 806.4 237.2 805.4 243.0 801.5 243.4 797.7 243.8 794.1 244.2 790.5 244.5 786.9 244.7 783.3 244.7 779.7 244.5 776.0 244.2 772.7 242.5 772.2 234.9 770.7 231.5 769.7 228.0 769.1 224.6 768.7 221.6 768.4 218.9 768.2 216.5 768.0 214.4 767.9 212.3 767.7 210.4 767.6 208.6 767.6 206.9 767.5 205.1 767.4 203.4 767.4 201.7 767.4 200.0 767.5 198.2 767.5 196.4 767.6 194.5 767.8 192.4 768.1 190.2 768.4 187.9 769.0 185.5 769.8 183.0 770.9 180.6 772.4 178.3 774.3 176.4 776.6 175.1 779.1 174.1 781.6 173.5 784.3 173.9 786.9 174.4 789.4 174.7 791.9 174.9 794.5 175.2 797.2 175.3 800.0 175.4 803.1 175.4 806.5 175.5 810.3 175.6 813.4 176.9 815.1 179.8 816.2 182.9 816.6 186.3 816.6 189.6 816.5 192.7 816.3 195.6 816.1 198.3 815.9 200.9Z" fill="#616161"/>
<path d="M814.7 203.4 814.5 205.9 814.2 208.3 813.9 210.7 813.5 213.1 813.0 215.6 812.3 218.1 811.6 220.7 810.7 223.4 809.6 226.2 808.3 228.9 806.8 231.8 805.2 235.2 804.1 240.3 800.6 240.9 797.1 241.4 793.7 241.9 790.3 242.3 786.9 242.6 783.5 242.6 780.1 242.4 776.6 241.9 773.5 240.3 772.9 233.5 771.5 230.2 770.5 226.8 770.0 223.7 769.6 220.8 769.3 218.3 769.0 216.0 768.8 213.9 768.7 211.9 768.6 210.1 768.5 208.4 768.4 206.7 768.3 205.1 768.3 203.4 768.3 201.8 768.3 200.2 768.3 198.5 768.3 196.7 768.4 194.8 768.6 192.8 768.8 190.7 769.1 188.5 769.6 186.1 770.3 183.6 771.3 181.1 772.6 178.7 774.5 176.9 776.8 175.6 779.2 174.7 781.8 174.3 784.4 174.9 786.9 175.7 789.3 176.1 791.7 176.5 794.1 176.7 796.6 176.9 799.2 177.0 802.1 177.1 805.3 177.2 808.8 177.3 811.9 178.5 813.6 181.0 814.8 183.9 815.3 187.1 815.4 190.2 815.3 193.1 815.2 195.9 815.0 198.5 814.9 201.0Z" fill="#535353"/>
<path d="M813.6 203.4 813.4 205.8 813.1 208.1 812.7 210.4 812.2 212.7 811.7 215.0 811.0 217.4 810.3 219.8 809.4 222.3 808.3 224.8 807.0 227.4 805.6 230.1 804.1 233.2 802.9 237.7 799.6 238.4 796.5 239.1 793.3 239.7 790.1 240.2 786.9 240.5 783.7 240.6 780.4 240.3 777.2 239.7 774.3 238.0 773.6 232.0 772.2 228.9 771.3 225.7 770.8 222.7 770.4 220.0 770.1 217.6 769.9 215.4 769.7 213.4 769.5 211.6 769.4 209.8 769.3 208.2 769.2 206.6 769.2 205.0 769.1 203.4 769.1 201.9 769.1 200.3 769.1 198.7 769.1 197.0 769.2 195.2 769.3 193.3 769.5 191.2 769.7 189.0 770.1 186.7 770.8 184.2 771.7 181.7 772.9 179.2 774.7 177.3 777.0 176.1 779.4 175.3 781.9 175.0 784.5 176.0 786.9 177.0 789.2 177.6 791.4 178.0 793.7 178.3 796.0 178.5 798.5 178.7 801.1 178.8 804.1 178.9 807.4 179.0 810.3 180.1 812.1 182.3 813.3 184.9 814.0 187.8 814.2 190.7 814.2 193.5 814.1 196.2 814.0 198.7 813.8 201.1Z" fill="#454545"/>
<path d="M812.5 203.4 812.3 205.7 811.9 207.9 811.5 210.0 811.0 212.2 810.4 214.4 809.7 216.6 809.0 218.9 808.1 221.2 807.0 223.5 805.8 225.9 804.4 228.4 802.9 231.1 801.7 235.1 798.7 235.9 795.8 236.7 792.9 237.4 789.9 238.0 786.9 238.4 783.9 238.5 780.8 238.1 777.8 237.4 775.1 235.8 774.3 230.6 773.0 227.6 772.1 224.6 771.6 221.7 771.2 219.2 770.9 216.9 770.7 214.8 770.5 212.9 770.3 211.2 770.2 209.5 770.1 207.9 770.1 206.4 770.0 204.9 770.0 203.4 769.9 202.0 769.9 200.4 769.9 198.9 770.0 197.3 770.0 195.6 770.1 193.7 770.2 191.7 770.4 189.6 770.7 187.2 771.2 184.8 772.0 182.2 773.2 179.7 775.0 177.8 777.2 176.7 779.6 176.0 782.0 175.8 784.6 177.1 786.9 178.4 789.1 179.0 791.1 179.5 793.2 179.9 795.4 180.1 797.7 180.4 800.2 180.5 802.9 180.6 806.0 180.7 808.8 181.6 810.6 183.6 811.9 185.9 812.7 188.6 813.0 191.3 813.1 193.9 813.0 196.4 812.9 198.9 812.7 201.2Z" fill="#393939"/>
<path d="M811.5 203.4 811.1 205.6 810.7 207.6 810.3 209.7 809.7 211.8 809.1 213.8 808.4 215.9 807.6 218.0 806.7 220.1 805.7 222.2 804.5 224.4 803.2 226.6 801.7 229.1 800.4 232.4 797.8 233.4 795.2 234.4 792.5 235.2 789.8 235.9 786.9 236.3 784.0 236.4 781.2 236.0 778.4 235.2 776.0 233.6 774.9 229.1 773.7 226.3 772.9 223.4 772.4 220.8 772.0 218.3 771.7 216.2 771.5 214.2 771.3 212.5 771.2 210.8 771.1 209.2 771.0 207.7 770.9 206.3 770.8 204.9 770.8 203.4 770.8 202.0 770.8 200.6 770.8 199.1 770.8 197.6 770.8 195.9 770.8 194.2 770.9 192.2 771.0 190.1 771.3 187.8 771.7 185.3 772.4 182.7 773.5 180.1 775.2 178.3 777.4 177.2 779.7 176.6 782.2 176.6 784.7 178.1 786.9 179.7 788.9 180.5 790.9 181.0 792.8 181.4 794.8 181.7 796.9 182.0 799.2 182.2 801.7 182.3 804.6 182.4 807.2 183.2 809.1 184.8 810.5 186.9 811.3 189.3 811.8 191.9 811.9 194.3 812.0 196.7 811.9 199.0 811.7 201.3Z" fill="#2e2e2e"/>
<path d="M810.4 203.4 810.0 205.5 809.6 207.4 809.1 209.4 808.5 211.3 807.9 213.2 807.1 215.1 806.3 217.0 805.4 219.0 804.4 220.9 803.2 222.9 801.9 224.9 800.6 227.1 799.2 229.8 796.9 230.9 794.6 232.0 792.1 233.0 789.6 233.8 786.9 234.3 784.2 234.3 781.6 233.9 779.0 233.0 776.8 231.3 775.6 227.7 774.5 225.0 773.7 222.3 773.2 219.8 772.8 217.5 772.6 215.5 772.3 213.7 772.1 212.0 772.0 210.4 771.9 208.9 771.8 207.5 771.7 206.1 771.7 204.8 771.6 203.4 771.6 202.1 771.6 200.7 771.6 199.3 771.6 197.9 771.6 196.3 771.6 194.6 771.6 192.7 771.7 190.7 771.9 188.4 772.2 185.9 772.8 183.2 773.7 180.6 775.4 178.7 777.6 177.7 779.9 177.2 782.3 177.4 784.8 179.2 786.9 181.0 788.8 181.9 790.6 182.5 792.4 183.0 794.2 183.4 796.1 183.7 798.2 183.9 800.5 184.0 803.1 184.1 805.6 184.7 807.6 186.1 809.1 187.9 810.0 190.1 810.6 192.4 810.8 194.7 810.9 197.0 810.8 199.2 810.6 201.4Z" fill="#232323"/>
<path d="M809.3 203.4 808.9 205.4 808.4 207.2 807.9 209.1 807.3 210.8 806.6 212.6 805.8 214.4 805.0 216.1 804.1 217.9 803.1 219.6 802.0 221.4 800.7 223.2 799.4 225.0 798.0 227.2 796.0 228.4 793.9 229.6 791.7 230.7 789.4 231.6 786.9 232.2 784.4 232.3 781.9 231.8 779.6 230.7 777.6 229.1 776.3 226.2 775.2 223.7 774.5 221.2 774.0 218.8 773.7 216.7 773.4 214.8 773.2 213.1 773.0 211.5 772.8 210.0 772.7 208.6 772.6 207.3 772.6 206.0 772.5 204.7 772.5 203.4 772.4 202.2 772.4 200.9 772.4 199.6 772.4 198.2 772.4 196.7 772.3 195.0 772.3 193.2 772.4 191.2 772.4 189.0 772.7 186.5 773.1 183.8 774.0 181.0 775.6 179.2 777.7 178.2 780.1 177.8 782.5 178.2 784.9 180.3 786.9 182.3 788.7 183.3 790.3 184.0 792.0 184.6 793.6 185.0 795.4 185.3 797.2 185.6 799.4 185.7 801.7 185.8 804.1 186.3 806.1 187.4 807.7 188.9 808.7 190.9 809.3 193.0 809.7 195.2 809.8 197.3 809.8 199.4 809.6 201.5Z" fill="#191919"/>
<path d="M808.2,203.4C808.1,204.1 807.9,204.7 807.8,205.3C807.6,205.9 807.4,206.5 807.3,207.0C807.1,207.6 806.9,208.2 806.7,208.7C806.5,209.3 806.2,209.8 806.0,210.4C805.8,210.9 805.5,211.5 805.3,212.0C805.0,212.5 804.8,213.1 804.5,213.6C804.3,214.1 804.0,214.7 803.7,215.2C803.4,215.7 803.1,216.2 802.8,216.7C802.5,217.3 802.1,217.8 801.8,218.3C801.4,218.8 801.1,219.4 800.7,219.9C800.3,220.4 799.9,220.9 799.5,221.4C799.1,222.0 798.7,222.5 798.2,223.0C797.8,223.5 797.3,224.0 796.7,224.5C796.2,225.0 795.7,225.5 795.1,225.9C794.5,226.4 793.9,226.8 793.3,227.3C792.7,227.7 792.0,228.1 791.3,228.5C790.6,228.8 789.9,229.2 789.2,229.5C788.5,229.7 787.7,230.0 786.9,230.1C786.1,230.2 785.3,230.3 784.6,230.2C783.8,230.1 783.0,229.9 782.3,229.6C781.6,229.3 780.9,228.9 780.2,228.5C779.6,228.0 778.9,227.5 778.4,226.8C777.9,226.2 777.4,225.5 777.0,224.8C776.6,224.0 776.3,223.2 776.0,222.4C775.7,221.6 775.5,220.8 775.3,220.0C775.1,219.3 775.0,218.5 774.8,217.8C774.7,217.2 774.6,216.5 774.5,215.9C774.4,215.3 774.3,214.7 774.2,214.1C774.1,213.6 774.0,213.0 774.0,212.5C773.9,212.0 773.8,211.5 773.8,211.0C773.7,210.5 773.7,210.1 773.6,209.6C773.6,209.2 773.6,208.7 773.5,208.3C773.5,207.9 773.5,207.5 773.5,207.1C773.4,206.6 773.4,206.2 773.4,205.8C773.4,205.4 773.4,205.0 773.3,204.6C773.3,204.2 773.3,203.8 773.3,203.4C773.3,203.0 773.3,202.7 773.3,202.3C773.3,201.8 773.3,201.4 773.2,201.0C773.2,200.6 773.2,200.2 773.2,199.8C773.2,199.3 773.2,198.9 773.2,198.4C773.2,198.0 773.2,197.5 773.1,197.0C773.1,196.5 773.1,196.0 773.1,195.5C773.1,194.9 773.1,194.3 773.0,193.7C773.0,193.1 773.0,192.5 773.0,191.8C773.0,191.1 773.0,190.3 773.0,189.5C773.0,188.8 773.1,187.9 773.2,187.1C773.3,186.2 773.3,185.2 773.5,184.3C773.7,183.4 773.9,182.3 774.3,181.5C774.6,180.7 775.2,180.1 775.8,179.6C776.4,179.2 777.2,179.0 777.9,178.8C778.7,178.6 779.4,178.4 780.2,178.4C781.0,178.5 781.8,178.5 782.6,179.0C783.4,179.4 784.3,180.6 785.0,181.4C785.7,182.2 786.3,183.1 786.9,183.6C787.5,184.2 788.0,184.5 788.6,184.8C789.1,185.1 789.6,185.3 790.1,185.5C790.6,185.8 791.1,185.9 791.6,186.1C792.1,186.3 792.6,186.4 793.1,186.6C793.6,186.7 794.1,186.9 794.6,187.0C795.1,187.1 795.7,187.2 796.3,187.2C796.9,187.3 797.5,187.3 798.2,187.4C798.8,187.4 799.5,187.5 800.3,187.5C801.0,187.6 801.8,187.7 802.5,187.8C803.2,188.0 804.0,188.3 804.6,188.6C805.2,189.0 805.8,189.4 806.2,189.9C806.7,190.4 807.1,191.0 807.4,191.6C807.7,192.2 807.9,192.9 808.1,193.6C808.3,194.2 808.5,194.9 808.6,195.6C808.7,196.2 808.7,196.9 808.7,197.6C808.7,198.3 808.7,198.9 808.7,199.6C808.7,200.3 808.6,200.9 808.5,201.6C808.4,202.2 808.3,202.8 808.2,203.4Z" fill="none" stroke="#b8b8b8" stroke-width="1.1"/>
<path d="M808.2 203.4 807.8 205.3 807.3 207.0 806.7 208.7 806.0 210.4 805.3 212.0 804.5 213.6 803.7 215.2 802.8 216.7 801.8 218.3 800.7 219.9 799.5 221.4 798.2 223.0 796.7 224.5 795.1 225.9 793.3 227.3 791.3 228.5 789.2 229.5 786.9 230.1 784.6 230.2 782.3 229.6 780.2 228.5 778.4 226.8 777.0 224.8 776.0 222.4 775.3 220.0 774.8 217.8 774.5 215.9 774.2 214.1 774.0 212.5 773.8 211.0 773.6 209.6 773.5 208.3 773.5 207.1 773.4 205.8 773.3 204.6 773.3 203.4 773.3 202.3 773.2 201.0 773.2 199.8 773.2 198.4 773.1 197.0 773.1 195.5 773.0 193.7 773.0 191.8 773.0 189.5 773.2 187.1 773.5 184.3 774.3 181.5 775.8 179.6 777.9 178.8 780.2 178.4 782.6 179.0 785.0 181.4 786.9 183.6 788.6 184.8 790.1 185.5 791.6 186.1 793.1 186.6 794.6 187.0 796.3 187.2 798.2 187.4 800.3 187.5 802.5 187.8 804.6 188.6 806.2 189.9 807.4 191.6 808.1 193.6 808.6 195.6 808.7 197.6 808.7 199.6 808.5 201.6Z" fill="#7f7f7f"/>
<path d="M807.9 203.4 807.4 205.2 806.9 207.0 806.3 208.7 805.7 210.3 805.0 211.9 804.2 213.4 803.4 215.0 802.5 216.5 801.5 218.0 800.4 219.5 799.2 221.0 797.9 222.5 796.5 223.9 794.9 225.3 793.1 226.5 791.2 227.6 789.1 228.6 786.9 229.1 784.7 229.2 782.5 228.7 780.5 227.6 778.7 226.0 777.3 224.1 776.3 221.8 775.6 219.6 775.1 217.5 774.8 215.6 774.5 213.9 774.3 212.3 774.1 210.9 773.9 209.5 773.8 208.2 773.7 207.0 773.7 205.8 773.6 204.6 773.6 203.4 773.5 202.3 773.5 201.1 773.5 199.8 773.4 198.5 773.4 197.1 773.4 195.6 773.3 193.9 773.3 192.0 773.4 189.9 773.6 187.5 774.0 185.0 774.8 182.5 776.4 180.8 778.4 180.0 780.6 179.7 782.8 180.1 785.1 182.3 786.9 184.3 788.5 185.3 790.0 186.0 791.5 186.5 793.0 186.9 794.5 187.2 796.2 187.4 798.0 187.6 800.1 187.7 802.3 188.1 804.3 188.9 805.9 190.2 807.0 191.9 807.7 193.7 808.2 195.7 808.3 197.7 808.3 199.7 808.1 201.6Z" fill="#696969"/>
<path d="M807.5 203.4 807.1 205.2 806.6 206.9 806.0 208.6 805.4 210.2 804.7 211.7 803.9 213.3 803.1 214.8 802.2 216.3 801.2 217.7 800.1 219.2 799.0 220.6 797.6 222.0 796.2 223.4 794.6 224.6 792.9 225.7 791.0 226.8 789.0 227.6 786.9 228.2 784.7 228.3 782.6 227.7 780.7 226.7 779.0 225.2 777.6 223.4 776.6 221.2 775.9 219.1 775.4 217.1 775.1 215.3 774.8 213.6 774.5 212.1 774.3 210.7 774.2 209.4 774.1 208.1 774.0 206.9 773.9 205.7 773.9 204.6 773.8 203.4 773.8 202.3 773.8 201.1 773.7 199.9 773.7 198.6 773.7 197.3 773.6 195.8 773.6 194.1 773.6 192.3 773.7 190.2 774.0 188.0 774.5 185.7 775.4 183.4 776.9 182.0 778.8 181.2 780.9 181.0 783.0 181.3 785.1 183.2 786.9 185.0 788.5 185.8 789.9 186.4 791.4 186.8 792.8 187.2 794.4 187.5 796.0 187.6 797.9 187.8 799.9 188.0 802.0 188.3 803.9 189.2 805.5 190.4 806.6 192.1 807.3 193.9 807.7 195.9 807.9 197.8 807.9 199.7 807.8 201.6Z" fill="#5a5a5a"/>
<path d="M807.1 203.4 806.8 205.2 806.3 206.9 805.7 208.5 805.1 210.1 804.4 211.6 803.6 213.1 802.8 214.6 801.9 216.0 800.9 217.5 799.9 218.9 798.7 220.2 797.4 221.5 795.9 222.8 794.4 223.9 792.7 225.0 790.9 225.9 789.0 226.7 786.9 227.2 784.8 227.3 782.8 226.8 780.9 225.8 779.3 224.4 778.0 222.6 777.0 220.7 776.3 218.7 775.8 216.8 775.4 215.0 775.1 213.4 774.8 211.9 774.6 210.5 774.5 209.2 774.4 208.0 774.3 206.8 774.2 205.7 774.1 204.6 774.1 203.4 774.1 202.3 774.0 201.2 774.0 200.0 774.0 198.7 773.9 197.4 773.9 195.9 773.9 194.3 773.9 192.5 774.0 190.6 774.4 188.5 775.0 186.4 775.9 184.4 777.4 183.1 779.3 182.5 781.2 182.2 783.2 182.5 785.2 184.1 786.9 185.6 788.4 186.4 789.8 186.8 791.3 187.2 792.7 187.5 794.3 187.7 795.9 187.8 797.8 188.0 799.7 188.2 801.8 188.6 803.6 189.4 805.1 190.7 806.2 192.3 806.9 194.1 807.3 196.0 807.5 197.9 807.5 199.8 807.4 201.7Z" fill="#4d4d4d"/>
<path d="M806.8 203.4 806.4 205.2 806.0 206.8 805.4 208.4 804.8 209.9 804.1 211.5 803.3 212.9 802.5 214.4 801.6 215.8 800.6 217.2 799.6 218.5 798.4 219.8 797.1 221.0 795.7 222.2 794.1 223.3 792.5 224.2 790.7 225.1 788.9 225.8 786.9 226.3 784.9 226.3 783.0 225.8 781.2 224.9 779.6 223.6 778.3 221.9 777.3 220.1 776.6 218.2 776.1 216.4 775.7 214.7 775.4 213.2 775.1 211.7 774.9 210.4 774.8 209.1 774.6 207.9 774.5 206.8 774.5 205.6 774.4 204.5 774.4 203.4 774.3 202.3 774.3 201.2 774.2 200.0 774.2 198.8 774.2 197.5 774.2 196.1 774.1 194.5 774.2 192.8 774.4 190.9 774.8 189.0 775.5 187.1 776.5 185.4 778.0 184.3 779.7 183.7 781.6 183.5 783.4 183.7 785.3 185.0 786.9 186.3 788.4 186.9 789.8 187.3 791.2 187.5 792.6 187.8 794.2 187.9 795.8 188.0 797.6 188.2 799.6 188.4 801.5 188.9 803.3 189.7 804.8 190.9 805.8 192.5 806.5 194.3 806.9 196.2 807.1 198.0 807.1 199.9 807.0 201.7Z" fill="#414141"/>
<path d="M806.4 203.4 806.1 205.1 805.6 206.7 805.1 208.3 804.5 209.8 803.8 211.3 803.0 212.8 802.2 214.2 801.3 215.5 800.4 216.9 799.3 218.2 798.1 219.4 796.8 220.5 795.4 221.6 793.9 222.6 792.3 223.5 790.6 224.3 788.8 224.9 786.9 225.3 785.0 225.3 783.1 224.9 781.4 224.0 779.9 222.8 778.6 221.2 777.6 219.5 776.9 217.7 776.4 216.0 776.0 214.4 775.6 212.9 775.4 211.5 775.2 210.2 775.0 209.0 774.9 207.8 774.8 206.7 774.7 205.6 774.7 204.5 774.6 203.4 774.6 202.4 774.5 201.3 774.5 200.1 774.5 198.9 774.4 197.6 774.4 196.2 774.4 194.7 774.5 193.0 774.7 191.2 775.2 189.4 776.0 187.8 777.0 186.3 778.5 185.4 780.2 185.0 781.9 184.8 783.6 184.9 785.4 186.0 786.9 187.0 788.3 187.4 789.7 187.7 791.1 187.9 792.5 188.1 794.0 188.2 795.7 188.2 797.5 188.3 799.4 188.6 801.3 189.1 803.0 190.0 804.4 191.2 805.4 192.8 806.1 194.5 806.5 196.3 806.7 198.1 806.7 200.0 806.6 201.7Z" fill="#373737"/>
<path d="M806.1 203.4 805.7 205.1 805.3 206.7 804.8 208.2 804.2 209.7 803.5 211.2 802.8 212.6 801.9 214.0 801.0 215.3 800.1 216.6 799.0 217.8 797.8 219.0 796.5 220.1 795.1 221.0 793.6 221.9 792.1 222.7 790.4 223.4 788.7 224.0 786.9 224.4 785.1 224.4 783.3 223.9 781.7 223.1 780.2 221.9 779.0 220.5 778.0 218.9 777.2 217.3 776.7 215.7 776.2 214.1 775.9 212.7 775.7 211.3 775.5 210.1 775.3 208.9 775.2 207.7 775.1 206.6 775.0 205.5 774.9 204.5 774.9 203.4 774.8 202.4 774.8 201.3 774.7 200.2 774.7 199.0 774.7 197.7 774.7 196.4 774.7 194.9 774.8 193.3 775.0 191.6 775.6 189.9 776.5 188.5 777.6 187.3 779.0 186.6 780.6 186.2 782.2 186.0 783.9 186.1 785.5 186.9 786.9 187.6 788.3 187.9 789.6 188.1 791.0 188.3 792.4 188.3 793.9 188.4 795.6 188.4 797.4 188.5 799.2 188.8 801.0 189.4 802.7 190.2 804.0 191.5 805.1 193.0 805.7 194.7 806.1 196.5 806.3 198.2 806.3 200.0 806.3 201.8Z" fill="#2d2d2d"/>
<path d="M805.7 203.4 805.4 205.1 805.0 206.6 804.5 208.1 803.9 209.6 803.2 211.0 802.5 212.4 801.6 213.8 800.8 215.1 799.8 216.3 798.7 217.5 797.5 218.6 796.2 219.6 794.8 220.4 793.4 221.2 791.9 222.0 790.3 222.6 788.6 223.1 786.9 223.4 785.2 223.4 783.5 223.0 781.9 222.2 780.5 221.1 779.3 219.8 778.3 218.3 777.6 216.8 777.0 215.3 776.5 213.8 776.2 212.4 776.0 211.1 775.8 209.9 775.6 208.7 775.5 207.6 775.4 206.5 775.3 205.5 775.2 204.5 775.1 203.4 775.1 202.4 775.0 201.4 775.0 200.3 775.0 199.1 774.9 197.9 774.9 196.5 775.0 195.1 775.1 193.5 775.4 191.9 776.0 190.4 776.9 189.2 778.2 188.3 779.6 187.7 781.1 187.5 782.6 187.3 784.1 187.3 785.6 187.8 786.9 188.3 788.2 188.5 789.5 188.5 790.9 188.6 792.3 188.6 793.8 188.6 795.5 188.7 797.2 188.7 799.0 189.0 800.7 189.6 802.3 190.5 803.7 191.7 804.7 193.2 805.3 194.9 805.7 196.6 805.9 198.4 806.0 200.1 805.9 201.8Z" fill="#242424"/>
<path d="M805.3 203.4 805.1 205.0 804.7 206.6 804.2 208.1 803.6 209.5 802.9 210.9 802.2 212.2 801.4 213.6 800.5 214.8 799.5 216.0 798.4 217.2 797.2 218.2 795.9 219.1 794.6 219.9 793.2 220.6 791.7 221.2 790.1 221.7 788.6 222.2 786.9 222.4 785.3 222.4 783.6 222.0 782.1 221.3 780.8 220.3 779.6 219.1 778.6 217.8 777.9 216.4 777.3 214.9 776.8 213.5 776.5 212.2 776.2 210.9 776.0 209.7 775.9 208.6 775.7 207.5 775.6 206.5 775.5 205.5 775.5 204.4 775.4 203.4 775.3 202.4 775.3 201.4 775.3 200.3 775.2 199.2 775.2 198.0 775.2 196.7 775.3 195.3 775.4 193.8 775.7 192.3 776.4 190.9 777.4 189.9 778.7 189.2 780.1 188.9 781.6 188.7 782.9 188.5 784.3 188.4 785.6 188.7 786.9 189.0 788.2 189.0 789.5 189.0 790.8 189.0 792.2 188.9 793.7 188.9 795.3 188.9 797.1 188.9 798.8 189.2 800.5 189.9 802.0 190.8 803.3 192.0 804.3 193.4 804.9 195.0 805.3 196.7 805.5 198.5 805.6 200.2 805.5 201.8Z" fill="#1c1c1c"/>
<path d="M805.0 203.4 804.7 205.0 804.3 206.5 803.8 208.0 803.3 209.4 802.6 210.8 801.9 212.1 801.1 213.3 800.2 214.6 799.2 215.7 798.1 216.8 796.9 217.8 795.7 218.6 794.3 219.3 792.9 219.9 791.5 220.4 790.0 220.9 788.5 221.3 786.9 221.5 785.3 221.4 783.8 221.1 782.4 220.4 781.1 219.5 779.9 218.4 779.0 217.2 778.2 215.9 777.6 214.6 777.1 213.2 776.8 211.9 776.5 210.7 776.3 209.6 776.1 208.5 776.0 207.4 775.9 206.4 775.8 205.4 775.7 204.4 775.7 203.4 775.6 202.5 775.6 201.4 775.5 200.4 775.5 199.3 775.5 198.1 775.5 196.8 775.5 195.5 775.7 194.0 776.1 192.6 776.8 191.3 777.9 190.6 779.3 190.2 780.7 190.0 782.0 189.9 783.3 189.8 784.5 189.6 785.7 189.6 786.9 189.6 788.1 189.5 789.4 189.4 790.7 189.3 792.1 189.2 793.6 189.1 795.2 189.1 797.0 189.1 798.7 189.5 800.2 190.1 801.7 191.1 802.9 192.2 803.9 193.6 804.6 195.2 804.9 196.9 805.1 198.6 805.2 200.2 805.1 201.9Z" fill="#141414"/>
<path d="M804.6,203.4C804.5,204.0 804.5,204.5 804.4,205.0C804.3,205.5 804.2,206.0 804.0,206.5C803.9,206.9 803.7,207.4 803.5,207.9C803.4,208.4 803.2,208.8 803.0,209.3C802.8,209.7 802.5,210.2 802.3,210.6C802.1,211.1 801.8,211.5 801.6,211.9C801.3,212.3 801.1,212.7 800.8,213.1C800.5,213.5 800.2,213.9 799.9,214.3C799.6,214.7 799.3,215.1 798.9,215.5C798.6,215.8 798.2,216.2 797.9,216.5C797.5,216.8 797.1,217.1 796.7,217.4C796.2,217.6 795.8,217.9 795.4,218.1C794.9,218.3 794.5,218.5 794.0,218.7C793.6,218.9 793.1,219.1 792.7,219.2C792.2,219.4 791.7,219.5 791.3,219.7C790.8,219.8 790.3,219.9 789.8,220.1C789.4,220.2 788.9,220.3 788.4,220.4C787.9,220.4 787.4,220.5 786.9,220.5C786.4,220.5 785.9,220.5 785.4,220.5C784.9,220.4 784.4,220.3 784.0,220.1C783.5,220.0 783.1,219.7 782.6,219.5C782.2,219.3 781.8,219.0 781.4,218.7C781.0,218.4 780.6,218.0 780.3,217.7C779.9,217.4 779.6,217.0 779.3,216.6C779.0,216.2 778.8,215.9 778.5,215.4C778.3,215.0 778.1,214.6 777.9,214.2C777.7,213.8 777.6,213.4 777.4,212.9C777.3,212.5 777.2,212.1 777.1,211.7C777.0,211.3 776.9,210.9 776.8,210.5C776.7,210.1 776.7,209.8 776.6,209.4C776.5,209.0 776.5,208.7 776.4,208.3C776.4,208.0 776.3,207.7 776.3,207.3C776.2,207.0 776.2,206.7 776.2,206.3C776.1,206.0 776.1,205.7 776.1,205.4C776.0,205.0 776.0,204.7 776.0,204.4C776.0,204.1 775.9,203.8 775.9,203.4C775.9,203.1 775.9,202.8 775.9,202.5C775.8,202.2 775.8,201.8 775.8,201.5C775.8,201.1 775.8,200.8 775.8,200.5C775.7,200.1 775.7,199.7 775.7,199.4C775.7,199.0 775.7,198.6 775.7,198.2C775.7,197.8 775.7,197.4 775.7,197.0C775.7,196.6 775.8,196.1 775.8,195.7C775.9,195.2 775.9,194.7 776.0,194.3C776.1,193.8 776.2,193.3 776.4,192.9C776.6,192.5 776.8,192.1 777.2,191.8C777.5,191.6 778.0,191.4 778.4,191.3C778.9,191.2 779.4,191.2 779.8,191.2C780.3,191.1 780.8,191.2 781.2,191.2C781.6,191.2 782.1,191.2 782.5,191.2C782.9,191.2 783.2,191.1 783.6,191.1C784.0,191.0 784.3,190.9 784.7,190.8C785.1,190.7 785.4,190.6 785.8,190.6C786.2,190.5 786.5,190.4 786.9,190.3C787.3,190.2 787.7,190.1 788.1,190.0C788.5,190.0 788.9,189.9 789.3,189.8C789.7,189.8 790.2,189.7 790.6,189.7C791.1,189.6 791.5,189.6 792.0,189.5C792.5,189.5 793.0,189.4 793.5,189.4C794.0,189.3 794.6,189.3 795.1,189.3C795.7,189.2 796.3,189.2 796.8,189.3C797.4,189.4 798.0,189.5 798.5,189.7C799.0,189.8 799.5,190.1 800.0,190.4C800.5,190.7 800.9,191.0 801.4,191.3C801.8,191.7 802.2,192.1 802.6,192.5C802.9,192.9 803.2,193.4 803.5,193.9C803.8,194.4 804.0,194.9 804.2,195.4C804.3,195.9 804.4,196.5 804.5,197.0C804.6,197.6 804.7,198.1 804.7,198.7C804.8,199.2 804.8,199.8 804.8,200.3C804.8,200.8 804.8,201.4 804.7,201.9C804.7,202.4 804.7,202.9 804.6,203.4Z" fill="none" stroke="#b8b8b8" stroke-width="1.1"/>
<path d="M804.6 203.4 804.4 205.0 804.0 206.5 803.5 207.9 803.0 209.3 802.3 210.6 801.6 211.9 800.8 213.1 799.9 214.3 798.9 215.5 797.9 216.5 796.7 217.4 795.4 218.1 794.0 218.7 792.7 219.2 791.3 219.7 789.8 220.1 788.4 220.4 786.9 220.5 785.4 220.5 784.0 220.1 782.6 219.5 781.4 218.7 780.3 217.7 779.3 216.6 778.5 215.4 777.9 214.2 777.4 212.9 777.1 211.7 776.8 210.5 776.6 209.4 776.4 208.3 776.3 207.3 776.2 206.3 776.1 205.4 776.0 204.4 775.9 203.4 775.9 202.5 775.8 201.5 775.8 200.5 775.7 199.4 775.7 198.2 775.7 197.0 775.8 195.7 776.0 194.3 776.4 192.9 777.2 191.8 778.4 191.3 779.8 191.2 781.2 191.2 782.5 191.2 783.6 191.1 784.7 190.8 785.8 190.6 786.9 190.3 788.1 190.0 789.3 189.8 790.6 189.7 792.0 189.5 793.5 189.4 795.1 189.3 796.8 189.3 798.5 189.7 800.0 190.4 801.4 191.3 802.6 192.5 803.5 193.9 804.2 195.4 804.5 197.0 804.7 198.7 804.8 200.3 804.7 201.9Z" fill="#737373"/>
<path d="M804.0 203.4 803.8 204.9 803.5 206.4 803.0 207.7 802.4 209.1 801.8 210.4 801.0 211.6 800.3 212.8 799.4 213.9 798.4 215.0 797.4 215.9 796.2 216.7 795.0 217.4 793.7 218.0 792.4 218.5 791.1 218.9 789.7 219.2 788.3 219.5 786.9 219.6 785.5 219.6 784.1 219.2 782.8 218.6 781.7 217.9 780.6 217.0 779.7 215.9 778.9 214.9 778.3 213.7 777.9 212.5 777.5 211.3 777.2 210.2 777.0 209.2 776.9 208.1 776.7 207.2 776.6 206.2 776.5 205.3 776.4 204.4 776.3 203.4 776.3 202.5 776.2 201.6 776.2 200.6 776.1 199.5 776.1 198.4 776.1 197.2 776.2 195.9 776.4 194.6 776.8 193.3 777.5 192.2 778.7 191.7 780.1 191.6 781.4 191.6 782.6 191.6 783.7 191.5 784.8 191.3 785.8 191.0 786.9 190.8 788.0 190.6 789.2 190.4 790.5 190.2 791.8 190.1 793.2 190.0 794.7 189.9 796.4 189.9 798.0 190.3 799.4 191.0 800.7 191.8 801.9 192.9 802.8 194.2 803.5 195.7 803.9 197.3 804.1 198.9 804.1 200.4 804.1 201.9Z" fill="#5f5f5f"/>
<path d="M803.4 203.4 803.2 204.9 802.9 206.3 802.4 207.6 801.9 208.9 801.2 210.1 800.5 211.3 799.7 212.4 798.9 213.5 797.9 214.5 796.9 215.4 795.8 216.1 794.6 216.7 793.4 217.3 792.1 217.7 790.8 218.1 789.6 218.4 788.2 218.6 786.9 218.7 785.6 218.7 784.3 218.3 783.1 217.8 782.0 217.1 781.0 216.2 780.1 215.3 779.3 214.3 778.8 213.2 778.3 212.1 778.0 211.0 777.7 209.9 777.5 208.9 777.3 207.9 777.1 207.0 777.0 206.1 776.9 205.2 776.8 204.3 776.8 203.4 776.7 202.5 776.6 201.6 776.6 200.7 776.5 199.7 776.5 198.6 776.5 197.4 776.6 196.2 776.7 194.9 777.1 193.7 777.9 192.7 779.0 192.2 780.3 192.0 781.6 192.0 782.8 192.0 783.8 191.9 784.8 191.7 785.9 191.5 786.9 191.3 788.0 191.1 789.1 190.9 790.3 190.8 791.6 190.7 792.9 190.6 794.4 190.5 795.9 190.6 797.4 190.9 798.8 191.5 800.1 192.4 801.3 193.4 802.2 194.6 802.8 196.0 803.2 197.5 803.4 199.0 803.5 200.5 803.5 202.0Z" fill="#515151"/>
<path d="M802.8 203.4 802.7 204.8 802.3 206.2 801.9 207.5 801.3 208.7 800.7 209.9 800.0 211.0 799.2 212.0 798.4 213.1 797.5 214.0 796.5 214.8 795.4 215.5 794.2 216.1 793.0 216.6 791.8 217.0 790.6 217.3 789.4 217.6 788.2 217.8 786.9 217.8 785.7 217.7 784.5 217.4 783.3 216.9 782.3 216.3 781.3 215.5 780.5 214.6 779.8 213.7 779.2 212.7 778.7 211.6 778.4 210.6 778.1 209.6 777.9 208.7 777.7 207.7 777.6 206.9 777.4 206.0 777.3 205.1 777.2 204.3 777.2 203.4 777.1 202.6 777.0 201.7 777.0 200.8 776.9 199.8 776.9 198.8 776.9 197.6 776.9 196.4 777.1 195.2 777.5 194.0 778.2 193.1 779.3 192.6 780.6 192.5 781.8 192.4 782.9 192.4 783.9 192.3 784.9 192.1 785.9 191.9 786.9 191.8 788.0 191.6 789.0 191.4 790.2 191.4 791.4 191.3 792.6 191.2 794.0 191.1 795.5 191.2 796.9 191.5 798.3 192.1 799.5 192.9 800.7 193.8 801.5 195.0 802.2 196.3 802.5 197.8 802.8 199.2 802.9 200.6 802.9 202.0Z" fill="#464646"/>
<path d="M802.2 203.4 802.1 204.8 801.8 206.1 801.3 207.3 800.8 208.5 800.1 209.6 799.4 210.7 798.7 211.7 797.9 212.6 797.0 213.5 796.0 214.3 794.9 214.9 793.8 215.4 792.7 215.9 791.6 216.2 790.4 216.5 789.3 216.7 788.1 216.9 786.9 216.9 785.7 216.8 784.6 216.5 783.5 216.1 782.6 215.4 781.7 214.7 780.9 213.9 780.2 213.1 779.6 212.1 779.2 211.2 778.8 210.2 778.5 209.3 778.3 208.4 778.1 207.5 778.0 206.7 777.9 205.9 777.8 205.1 777.7 204.3 777.6 203.4 777.5 202.6 777.4 201.8 777.3 200.9 777.3 199.9 777.2 198.9 777.2 197.9 777.3 196.7 777.5 195.5 777.9 194.4 778.6 193.5 779.6 193.1 780.8 192.9 782.0 192.9 783.1 192.8 784.0 192.7 785.0 192.6 786.0 192.4 786.9 192.2 787.9 192.1 788.9 192.0 790.0 191.9 791.1 191.8 792.4 191.8 793.7 191.8 795.0 191.9 796.4 192.2 797.7 192.7 798.9 193.4 800.0 194.3 800.9 195.4 801.5 196.6 801.9 198.0 802.1 199.4 802.3 200.7 802.3 202.1Z" fill="#3b3b3b"/>
<path d="M801.7 203.4 801.5 204.7 801.2 206.0 800.8 207.2 800.2 208.3 799.6 209.4 798.9 210.4 798.2 211.3 797.4 212.2 796.5 213.0 795.5 213.7 794.5 214.3 793.4 214.8 792.4 215.1 791.3 215.5 790.2 215.7 789.1 215.9 788.0 216.0 786.9 216.1 785.8 215.9 784.8 215.6 783.8 215.2 782.8 214.6 782.0 214.0 781.3 213.3 780.6 212.5 780.1 211.6 779.6 210.7 779.3 209.9 779.0 209.0 778.8 208.2 778.6 207.3 778.4 206.5 778.3 205.8 778.2 205.0 778.1 204.2 778.0 203.4 777.9 202.7 777.8 201.8 777.7 201.0 777.7 200.1 777.6 199.1 777.6 198.1 777.7 197.0 777.8 195.8 778.2 194.8 778.9 193.9 780.0 193.5 781.1 193.3 782.2 193.3 783.2 193.2 784.2 193.2 785.1 193.0 786.0 192.9 786.9 192.7 787.9 192.6 788.8 192.5 789.9 192.5 790.9 192.4 792.1 192.4 793.3 192.4 794.6 192.5 795.9 192.8 797.1 193.3 798.3 193.9 799.4 194.7 800.2 195.8 800.8 197.0 801.2 198.2 801.5 199.5 801.6 200.9 801.7 202.2Z" fill="#323232"/>
<path d="M801.1 203.4 800.9 204.7 800.6 205.9 800.2 207.0 799.7 208.1 799.1 209.1 798.4 210.1 797.6 211.0 796.9 211.8 796.0 212.5 795.1 213.1 794.1 213.7 793.1 214.1 792.0 214.4 791.0 214.7 790.0 214.9 789.0 215.1 787.9 215.2 786.9 215.2 785.9 215.0 784.9 214.8 784.0 214.3 783.1 213.8 782.3 213.2 781.6 212.6 781.0 211.9 780.5 211.1 780.1 210.3 779.7 209.5 779.4 208.7 779.2 207.9 779.0 207.1 778.8 206.4 778.7 205.6 778.6 204.9 778.5 204.2 778.4 203.4 778.3 202.7 778.2 201.9 778.1 201.1 778.1 200.2 778.0 199.3 778.0 198.3 778.0 197.2 778.2 196.1 778.6 195.1 779.3 194.3 780.3 193.9 781.3 193.8 782.4 193.7 783.4 193.7 784.3 193.6 785.2 193.5 786.0 193.3 786.9 193.2 787.8 193.1 788.8 193.1 789.7 193.0 790.7 193.0 791.8 193.0 792.9 193.0 794.1 193.1 795.3 193.4 796.5 193.8 797.7 194.4 798.8 195.1 799.6 196.1 800.2 197.3 800.6 198.5 800.8 199.7 801.0 201.0 801.1 202.2Z" fill="#2a2a2a"/>
<path d="M800.5 203.4 800.4 204.6 800.1 205.8 799.7 206.9 799.1 207.9 798.5 208.9 797.8 209.8 797.1 210.6 796.3 211.4 795.5 212.0 794.6 212.6 793.6 213.1 792.7 213.4 791.7 213.7 790.7 213.9 789.8 214.1 788.8 214.2 787.9 214.3 786.9 214.3 786.0 214.1 785.1 213.9 784.2 213.5 783.4 213.0 782.7 212.5 782.0 211.9 781.4 211.3 780.9 210.6 780.5 209.9 780.1 209.1 779.9 208.4 779.6 207.7 779.4 206.9 779.3 206.2 779.1 205.5 779.0 204.8 778.9 204.1 778.8 203.4 778.7 202.7 778.6 202.0 778.5 201.2 778.5 200.4 778.4 199.5 778.4 198.5 778.4 197.5 778.6 196.5 779.0 195.5 779.6 194.8 780.6 194.4 781.6 194.2 782.6 194.1 783.5 194.1 784.4 194.0 785.2 193.9 786.1 193.8 786.9 193.7 787.8 193.6 788.7 193.6 789.6 193.6 790.5 193.6 791.5 193.6 792.6 193.7 793.7 193.8 794.8 194.0 795.9 194.4 797.1 194.9 798.1 195.6 798.9 196.5 799.5 197.6 799.9 198.7 800.2 199.9 800.4 201.1 800.5 202.3Z" fill="#222222"/>
<path d="M799.9 203.4 799.8 204.6 799.5 205.7 799.1 206.7 798.6 207.7 798.0 208.6 797.3 209.4 796.6 210.2 795.8 210.9 795.0 211.5 794.1 212.0 793.2 212.4 792.3 212.8 791.4 213.0 790.5 213.2 789.6 213.3 788.7 213.4 787.8 213.4 786.9 213.4 786.1 213.2 785.2 213.0 784.5 212.6 783.7 212.2 783.0 211.8 782.4 211.2 781.8 210.7 781.4 210.1 780.9 209.4 780.6 208.8 780.3 208.1 780.0 207.4 779.8 206.7 779.7 206.1 779.5 205.4 779.4 204.8 779.3 204.1 779.2 203.4 779.1 202.8 779.0 202.1 778.9 201.3 778.9 200.5 778.8 199.7 778.8 198.7 778.8 197.8 779.0 196.8 779.3 195.8 780.0 195.2 780.9 194.8 781.8 194.6 782.8 194.5 783.7 194.5 784.5 194.4 785.3 194.3 786.1 194.3 786.9 194.2 787.7 194.2 788.6 194.1 789.4 194.1 790.3 194.2 791.2 194.2 792.2 194.3 793.2 194.4 794.3 194.7 795.4 195.0 796.5 195.4 797.5 196.0 798.3 196.9 798.8 197.9 799.2 199.0 799.5 200.1 799.7 201.2 799.9 202.3Z" fill="#1a1a1a"/>
<path d="M799.3 203.4 799.2 204.5 799.0 205.6 798.6 206.6 798.0 207.5 797.4 208.4 796.8 209.1 796.1 209.9 795.3 210.5 794.5 211.0 793.7 211.5 792.8 211.8 791.9 212.1 791.0 212.3 790.2 212.4 789.4 212.5 788.5 212.6 787.7 212.6 786.9 212.5 786.1 212.3 785.4 212.1 784.7 211.8 784.0 211.4 783.4 211.0 782.8 210.6 782.3 210.1 781.8 209.6 781.4 209.0 781.0 208.4 780.7 207.8 780.5 207.2 780.3 206.5 780.1 205.9 780.0 205.3 779.8 204.7 779.7 204.1 779.6 203.4 779.5 202.8 779.4 202.1 779.3 201.4 779.2 200.7 779.2 199.8 779.1 199.0 779.2 198.0 779.3 197.1 779.7 196.2 780.3 195.6 781.2 195.3 782.1 195.1 783.0 195.0 783.8 194.9 784.6 194.8 785.4 194.8 786.2 194.7 786.9 194.7 787.7 194.7 788.5 194.7 789.3 194.7 790.1 194.8 790.9 194.8 791.8 194.9 792.8 195.1 793.8 195.3 794.8 195.6 795.9 195.9 796.9 196.5 797.6 197.3 798.2 198.2 798.6 199.2 798.9 200.2 799.1 201.3 799.2 202.4Z" fill="#131313"/>
<path d="M798.7,203.4C798.7,203.8 798.7,204.1 798.6,204.5C798.6,204.8 798.5,205.1 798.4,205.5C798.3,205.8 798.2,206.1 798.0,206.4C797.9,206.7 797.7,207.0 797.5,207.3C797.3,207.6 797.1,207.8 796.9,208.1C796.7,208.4 796.5,208.6 796.3,208.8C796.0,209.1 795.8,209.3 795.6,209.5C795.3,209.7 795.1,209.9 794.8,210.1C794.6,210.3 794.3,210.4 794.0,210.6C793.8,210.7 793.5,210.8 793.2,210.9C792.9,211.0 792.6,211.1 792.4,211.2C792.1,211.3 791.8,211.4 791.5,211.4C791.3,211.5 791.0,211.5 790.7,211.6C790.4,211.6 790.2,211.7 789.9,211.7C789.7,211.7 789.4,211.7 789.1,211.7C788.9,211.7 788.6,211.7 788.4,211.7C788.1,211.7 787.9,211.7 787.6,211.7C787.4,211.7 787.2,211.6 786.9,211.6C786.7,211.5 786.5,211.5 786.2,211.4C786.0,211.3 785.8,211.3 785.6,211.2C785.3,211.1 785.1,211.0 784.9,210.9C784.7,210.8 784.5,210.7 784.3,210.6C784.1,210.5 783.9,210.4 783.7,210.3C783.5,210.2 783.4,210.0 783.2,209.9C783.0,209.8 782.8,209.6 782.7,209.5C782.5,209.4 782.4,209.2 782.2,209.0C782.1,208.9 781.9,208.7 781.8,208.6C781.7,208.4 781.6,208.2 781.5,208.0C781.3,207.9 781.2,207.7 781.2,207.5C781.1,207.3 781.0,207.1 780.9,206.9C780.8,206.7 780.8,206.5 780.7,206.3C780.6,206.2 780.6,206.0 780.5,205.8C780.5,205.6 780.4,205.4 780.4,205.2C780.3,205.0 780.3,204.8 780.3,204.6C780.2,204.4 780.2,204.2 780.2,204.0C780.1,203.8 780.1,203.6 780.0,203.4C780.0,203.2 780.0,203.0 779.9,202.8C779.9,202.6 779.9,202.4 779.8,202.2C779.8,202.0 779.8,201.8 779.7,201.5C779.7,201.3 779.7,201.0 779.6,200.8C779.6,200.5 779.6,200.3 779.6,200.0C779.5,199.7 779.5,199.5 779.5,199.2C779.5,198.9 779.5,198.6 779.5,198.3C779.6,198.0 779.6,197.7 779.7,197.4C779.8,197.1 779.9,196.8 780.0,196.6C780.2,196.3 780.5,196.2 780.7,196.0C780.9,195.9 781.2,195.8 781.5,195.7C781.8,195.6 782.0,195.5 782.3,195.5C782.6,195.4 782.9,195.4 783.2,195.4C783.4,195.3 783.7,195.3 784.0,195.3C784.2,195.3 784.5,195.3 784.7,195.3C785.0,195.2 785.2,195.2 785.5,195.2C785.7,195.2 786.0,195.2 786.2,195.2C786.4,195.2 786.7,195.2 786.9,195.2C787.2,195.2 787.4,195.2 787.6,195.2C787.9,195.2 788.1,195.2 788.4,195.2C788.6,195.2 788.9,195.2 789.1,195.3C789.4,195.3 789.6,195.3 789.9,195.3C790.1,195.4 790.4,195.4 790.7,195.4C790.9,195.5 791.2,195.5 791.5,195.6C791.8,195.6 792.0,195.7 792.3,195.7C792.6,195.8 792.9,195.8 793.2,195.9C793.5,196.0 793.9,196.1 794.2,196.2C794.6,196.2 794.9,196.3 795.3,196.4C795.6,196.6 795.9,196.7 796.2,196.9C796.5,197.1 796.8,197.4 797.0,197.6C797.2,197.9 797.4,198.2 797.5,198.5C797.7,198.8 797.8,199.1 797.9,199.4C798.0,199.8 798.1,200.1 798.2,200.4C798.3,200.7 798.4,201.1 798.5,201.4C798.5,201.7 798.6,202.1 798.6,202.4C798.7,202.8 798.7,203.1 798.7,203.4Z" fill="none" stroke="#b8b8b8" stroke-width="1.1"/>
<path d="M798.7 203.4 798.6 204.5 798.4 205.5 798.0 206.4 797.5 207.3 796.9 208.1 796.3 208.8 795.6 209.5 794.8 210.1 794.0 210.6 793.2 210.9 792.4 211.2 791.5 211.4 790.7 211.6 789.9 211.7 789.1 211.7 788.4 211.7 787.6 211.7 786.9 211.6 786.2 211.4 785.6 211.2 784.9 210.9 784.3 210.6 783.7 210.3 783.2 209.9 782.7 209.5 782.2 209.0 781.8 208.6 781.5 208.0 781.2 207.5 780.9 206.9 780.7 206.3 780.5 205.8 780.4 205.2 780.3 204.6 780.2 204.0 780.0 203.4 779.9 202.8 779.8 202.2 779.7 201.5 779.6 200.8 779.6 200.0 779.5 199.2 779.5 198.3 779.7 197.4 780.0 196.6 780.7 196.0 781.5 195.7 782.3 195.5 783.2 195.4 784.0 195.3 784.7 195.3 785.5 195.2 786.2 195.2 786.9 195.2 787.6 195.2 788.4 195.2 789.1 195.3 789.9 195.3 790.7 195.4 791.5 195.6 792.3 195.7 793.2 195.9 794.2 196.2 795.3 196.4 796.2 196.9 797.0 197.6 797.5 198.5 797.9 199.4 798.2 200.4 798.5 201.4 798.6 202.4Z" fill="#5a5a5a"/>
<path d="M797.5 203.4 797.5 204.4 797.3 205.3 796.9 206.1 796.4 206.9 795.9 207.6 795.3 208.3 794.7 208.9 794.0 209.4 793.3 209.8 792.6 210.2 791.8 210.4 791.1 210.6 790.3 210.8 789.6 210.9 788.9 210.9 788.2 210.9 787.6 210.9 786.9 210.8 786.3 210.6 785.7 210.4 785.1 210.2 784.6 209.9 784.1 209.6 783.6 209.3 783.1 208.9 782.7 208.5 782.3 208.0 782.0 207.6 781.7 207.1 781.5 206.6 781.3 206.1 781.2 205.5 781.0 205.0 780.9 204.5 780.8 204.0 780.7 203.4 780.6 202.9 780.5 202.3 780.5 201.7 780.4 201.1 780.3 200.4 780.3 199.6 780.3 198.8 780.4 198.0 780.7 197.3 781.3 196.8 782.0 196.5 782.8 196.3 783.5 196.2 784.3 196.1 784.9 196.1 785.6 196.1 786.3 196.0 786.9 196.0 787.6 196.0 788.2 196.0 788.9 196.1 789.6 196.1 790.3 196.2 791.0 196.3 791.8 196.5 792.6 196.7 793.5 196.9 794.4 197.1 795.3 197.6 796.0 198.2 796.5 199.0 796.8 199.8 797.1 200.7 797.3 201.6 797.5 202.5Z" fill="#494949"/>
<path d="M796.4 203.4 796.3 204.3 796.1 205.1 795.8 205.8 795.4 206.5 794.9 207.2 794.4 207.8 793.8 208.3 793.2 208.7 792.6 209.1 791.9 209.4 791.3 209.7 790.6 209.8 790.0 210.0 789.3 210.0 788.7 210.1 788.1 210.1 787.5 210.0 786.9 210.0 786.4 209.8 785.8 209.6 785.3 209.4 784.8 209.2 784.4 208.9 783.9 208.6 783.5 208.3 783.2 207.9 782.8 207.5 782.5 207.1 782.3 206.7 782.1 206.2 781.9 205.8 781.8 205.3 781.7 204.8 781.6 204.4 781.5 203.9 781.4 203.4 781.3 203.0 781.3 202.4 781.2 201.9 781.1 201.3 781.0 200.7 781.0 200.0 781.0 199.3 781.1 198.6 781.4 197.9 781.9 197.5 782.6 197.2 783.2 197.1 783.9 197.0 784.5 196.9 785.2 196.9 785.8 196.9 786.3 196.9 786.9 196.8 787.5 196.8 788.1 196.9 788.7 196.9 789.3 197.0 789.9 197.0 790.6 197.1 791.2 197.3 792.0 197.4 792.8 197.6 793.6 197.8 794.4 198.2 795.0 198.8 795.4 199.5 795.7 200.2 796.0 201.0 796.2 201.8 796.3 202.6Z" fill="#3c3c3c"/>
<path d="M795.2 203.4 795.1 204.2 795.0 204.9 794.7 205.5 794.3 206.1 793.9 206.7 793.5 207.2 793.0 207.7 792.5 208.1 791.9 208.4 791.3 208.7 790.7 208.9 790.1 209.0 789.6 209.1 789.0 209.2 788.5 209.2 787.9 209.3 787.4 209.2 786.9 209.1 786.4 209.0 786.0 208.9 785.5 208.7 785.1 208.5 784.7 208.2 784.3 208.0 784.0 207.7 783.6 207.4 783.3 207.0 783.1 206.7 782.9 206.3 782.7 205.9 782.6 205.5 782.4 205.1 782.3 204.7 782.3 204.3 782.2 203.9 782.1 203.4 782.0 203.0 782.0 202.6 781.9 202.1 781.8 201.6 781.8 201.0 781.7 200.5 781.8 199.8 781.9 199.2 782.1 198.6 782.6 198.3 783.1 198.0 783.7 197.9 784.3 197.8 784.8 197.7 785.4 197.7 785.9 197.7 786.4 197.7 786.9 197.7 787.4 197.7 787.9 197.7 788.5 197.7 789.0 197.8 789.5 197.8 790.1 197.9 790.7 198.0 791.3 198.2 792.0 198.3 792.8 198.5 793.4 198.9 794.0 199.4 794.3 200.0 794.6 200.6 794.8 201.3 795.0 202.0 795.1 202.7Z" fill="#313131"/>
<path d="M794.0 203.4 794.0 204.1 793.8 204.7 793.6 205.2 793.3 205.8 792.9 206.2 792.5 206.7 792.1 207.1 791.7 207.4 791.2 207.7 790.7 207.9 790.2 208.1 789.7 208.2 789.2 208.3 788.7 208.4 788.3 208.4 787.8 208.4 787.4 208.4 786.9 208.3 786.5 208.2 786.1 208.1 785.7 207.9 785.4 207.7 785.0 207.5 784.7 207.3 784.4 207.1 784.1 206.8 783.9 206.5 783.6 206.2 783.5 205.9 783.3 205.5 783.2 205.2 783.1 204.8 783.0 204.5 782.9 204.1 782.9 203.8 782.8 203.4 782.7 203.1 782.7 202.7 782.6 202.3 782.5 201.9 782.5 201.4 782.5 200.9 782.5 200.3 782.6 199.8 782.8 199.3 783.2 199.0 783.7 198.8 784.2 198.7 784.7 198.6 785.1 198.6 785.6 198.5 786.1 198.5 786.5 198.5 786.9 198.5 787.4 198.5 787.8 198.5 788.2 198.5 788.7 198.6 789.2 198.6 789.7 198.7 790.2 198.8 790.7 198.9 791.3 199.1 791.9 199.2 792.5 199.5 793.0 200.0 793.3 200.5 793.5 201.0 793.7 201.6 793.9 202.2 794.0 202.8Z" fill="#282828"/>
<path d="M792.8 203.4 792.8 204.0 792.7 204.5 792.5 204.9 792.2 205.4 791.9 205.8 791.6 206.1 791.2 206.5 790.9 206.8 790.5 207.0 790.1 207.2 789.6 207.3 789.2 207.4 788.8 207.5 788.4 207.6 788.0 207.6 787.7 207.6 787.3 207.6 786.9 207.5 786.6 207.4 786.2 207.3 785.9 207.2 785.6 207.0 785.3 206.9 785.1 206.7 784.8 206.5 784.6 206.2 784.4 206.0 784.2 205.7 784.0 205.5 783.9 205.2 783.8 204.9 783.7 204.6 783.7 204.3 783.6 204.0 783.5 203.7 783.5 203.4 783.4 203.1 783.4 202.8 783.3 202.5 783.3 202.1 783.2 201.7 783.2 201.3 783.2 200.9 783.3 200.4 783.5 200.0 783.8 199.7 784.2 199.6 784.6 199.5 785.0 199.4 785.4 199.4 785.8 199.4 786.2 199.3 786.6 199.3 786.9 199.3 787.3 199.3 787.6 199.3 788.0 199.4 788.4 199.4 788.8 199.4 789.2 199.5 789.6 199.6 790.1 199.7 790.6 199.8 791.1 199.9 791.6 200.2 792.0 200.5 792.2 201.0 792.4 201.4 792.6 201.9 792.7 202.4 792.8 202.9Z" fill="#1f1f1f"/>
<path d="M791.6 203.4 791.6 203.9 791.5 204.3 791.4 204.6 791.1 205.0 790.9 205.3 790.7 205.6 790.4 205.9 790.1 206.1 789.8 206.3 789.4 206.4 789.1 206.6 788.8 206.6 788.4 206.7 788.1 206.7 787.8 206.8 787.5 206.8 787.2 206.7 786.9 206.7 786.6 206.6 786.4 206.5 786.1 206.4 785.9 206.3 785.6 206.2 785.4 206.0 785.2 205.9 785.0 205.7 784.9 205.5 784.7 205.3 784.6 205.1 784.5 204.8 784.4 204.6 784.4 204.4 784.3 204.1 784.3 203.9 784.2 203.7 784.2 203.4 784.1 203.2 784.1 202.9 784.0 202.7 784.0 202.4 784.0 202.1 784.0 201.7 784.0 201.4 784.0 201.0 784.2 200.7 784.4 200.5 784.7 200.3 785.1 200.3 785.4 200.2 785.7 200.2 786.0 200.2 786.3 200.2 786.6 200.1 786.9 200.1 787.2 200.1 787.5 200.2 787.8 200.2 788.1 200.2 788.4 200.2 788.7 200.3 789.1 200.4 789.4 200.4 789.8 200.5 790.3 200.6 790.6 200.8 790.9 201.1 791.2 201.5 791.3 201.8 791.4 202.2 791.5 202.6 791.6 203.0Z" fill="#181818"/>
<path d="M790.5 203.4 790.4 203.8 790.4 204.1 790.2 204.3 790.1 204.6 789.9 204.8 789.7 205.1 789.5 205.3 789.3 205.4 789.1 205.6 788.8 205.7 788.6 205.8 788.3 205.8 788.1 205.9 787.8 205.9 787.6 205.9 787.4 205.9 787.1 205.9 786.9 205.9 786.7 205.8 786.5 205.8 786.3 205.7 786.1 205.6 786.0 205.5 785.8 205.4 785.6 205.3 785.5 205.1 785.4 205.0 785.3 204.8 785.2 204.7 785.1 204.5 785.1 204.3 785.0 204.1 785.0 204.0 784.9 203.8 784.9 203.6 784.9 203.4 784.8 203.3 784.8 203.1 784.8 202.9 784.7 202.6 784.7 202.4 784.7 202.2 784.7 201.9 784.8 201.6 784.9 201.4 785.1 201.2 785.3 201.1 785.5 201.1 785.8 201.0 786.0 201.0 786.3 201.0 786.5 201.0 786.7 201.0 786.9 201.0 787.1 201.0 787.4 201.0 787.6 201.0 787.8 201.0 788.0 201.0 788.3 201.1 788.5 201.1 788.8 201.2 789.1 201.3 789.4 201.3 789.7 201.5 789.9 201.7 790.1 202.0 790.2 202.2 790.3 202.5 790.4 202.8 790.4 203.1Z" fill="#101010"/>
<path d="M789.3 203.4 789.3 203.7 789.2 203.9 789.1 204.0 789.0 204.2 788.9 204.4 788.8 204.5 788.6 204.7 788.5 204.8 788.3 204.9 788.2 204.9 788.0 205.0 787.8 205.0 787.7 205.1 787.5 205.1 787.4 205.1 787.2 205.1 787.1 205.1 786.9 205.1 786.8 205.0 786.6 205.0 786.5 204.9 786.4 204.9 786.3 204.8 786.2 204.7 786.1 204.7 786.0 204.6 785.9 204.5 785.8 204.4 785.8 204.3 785.7 204.1 785.7 204.0 785.6 203.9 785.6 203.8 785.6 203.7 785.6 203.6 785.5 203.4 785.5 203.3 785.5 203.2 785.5 203.1 785.5 202.9 785.4 202.8 785.4 202.6 785.4 202.4 785.5 202.2 785.5 202.1 785.7 202.0 785.8 201.9 786.0 201.9 786.2 201.8 786.3 201.8 786.5 201.8 786.6 201.8 786.8 201.8 786.9 201.8 787.1 201.8 787.2 201.8 787.4 201.8 787.5 201.8 787.7 201.8 787.8 201.9 788.0 201.9 788.2 201.9 788.4 202.0 788.6 202.0 788.8 202.1 788.9 202.3 789.0 202.5 789.1 202.6 789.2 202.8 789.2 203.0 789.3 203.2Z" fill="#0a0a0a"/>
<path d="M788.1 203.4 788.1 203.5 788.1 203.6 788.0 203.7 788.0 203.8 787.9 203.9 787.9 204.0 787.8 204.1 787.7 204.1 787.6 204.2 787.5 204.2 787.5 204.2 787.4 204.2 787.3 204.3 787.2 204.3 787.1 204.3 787.1 204.3 787.0 204.3 786.9 204.3 786.8 204.2 786.8 204.2 786.7 204.2 786.7 204.2 786.6 204.1 786.5 204.1 786.5 204.1 786.4 204.0 786.4 204.0 786.4 203.9 786.3 203.8 786.3 203.8 786.3 203.7 786.3 203.7 786.3 203.6 786.3 203.6 786.2 203.5 786.2 203.4 786.2 203.4 786.2 203.3 786.2 203.3 786.2 203.2 786.2 203.1 786.2 203.0 786.2 202.9 786.2 202.8 786.2 202.8 786.3 202.7 786.4 202.7 786.5 202.6 786.5 202.6 786.6 202.6 786.7 202.6 786.8 202.6 786.8 202.6 786.9 202.6 787.0 202.6 787.1 202.6 787.1 202.6 787.2 202.6 787.3 202.6 787.4 202.7 787.5 202.7 787.6 202.7 787.6 202.7 787.8 202.7 787.9 202.8 787.9 202.9 788.0 203.0 788.0 203.0 788.1 203.1 788.1 203.2 788.1 203.3Z" fill="#030303"/>
</g>
<line x1="758.2" y1="72.7" x2="937.2" y2="72.7" stroke="#c4c4c4" stroke-width="1.4" />
<line x1="937.2" y1="72.7" x2="937.2" y2="250.4" stroke="#8a8a8a" stroke-width="1.4" />
<line x1="758.2" y1="72.2" x2="758.2" y2="251.1" stroke="#111" stroke-width="1.4" />
<line x1="757.5" y1="250.7" x2="937.2" y2="250.7" stroke="#3a3a3a" stroke-width="1.7" />
<rect x="763.8" y="117.4" width="41.8" height="45.0" fill="none" stroke="#7676e4" stroke-width="1.3"/>
<rect x="835.8" y="118.6" width="40.1" height="100.2" fill="none" stroke="#7676e4" stroke-width="1.3"/>
<line x1="755.2" y1="88.0" x2="758.2" y2="88.0" stroke="#111" stroke-width="1.3" />
<text x="749.2" y="93.6" font-size="18" text-anchor="end">10<tspan font-size="12" dy="-7">5</tspan></text>
<line x1="755.2" y1="129.0" x2="758.2" y2="129.0" stroke="#111" stroke-width="1.3" />
<text x="749.2" y="134.6" font-size="18" text-anchor="end">10<tspan font-size="12" dy="-7">4</tspan></text>
<line x1="755.2" y1="169.5" x2="758.2" y2="169.5" stroke="#111" stroke-width="1.3" />
<text x="749.2" y="175.1" font-size="18" text-anchor="end">10<tspan font-size="12" dy="-7">3</tspan></text>
<line x1="755.2" y1="212.9" x2="758.2" y2="212.9" stroke="#111" stroke-width="1.3" />
<text x="749.2" y="218.5" font-size="18" text-anchor="end">10<tspan font-size="12" dy="-7">2</tspan></text>
<line x1="755.2" y1="232.4" x2="758.2" y2="232.4" stroke="#111" stroke-width="1.3" />
<text x="748.7" y="238.4" font-size="18" text-anchor="end">0</text>
<line x1="756.6" y1="116.7" x2="758.2" y2="116.7" stroke="#333" stroke-width="0.9" />
<line x1="756.6" y1="109.4" x2="758.2" y2="109.4" stroke="#333" stroke-width="0.9" />
<line x1="756.6" y1="104.3" x2="758.2" y2="104.3" stroke="#333" stroke-width="0.9" />
<line x1="756.6" y1="100.3" x2="758.2" y2="100.3" stroke="#333" stroke-width="0.9" />
<line x1="756.6" y1="97.1" x2="758.2" y2="97.1" stroke="#333" stroke-width="0.9" />
<line x1="756.6" y1="94.4" x2="758.2" y2="94.4" stroke="#333" stroke-width="0.9" />
<line x1="756.6" y1="92.0" x2="758.2" y2="92.0" stroke="#333" stroke-width="0.9" />
<line x1="756.6" y1="89.9" x2="758.2" y2="89.9" stroke="#333" stroke-width="0.9" />
<line x1="756.6" y1="157.3" x2="758.2" y2="157.3" stroke="#333" stroke-width="0.9" />
<line x1="756.6" y1="150.2" x2="758.2" y2="150.2" stroke="#333" stroke-width="0.9" />
<line x1="756.6" y1="145.1" x2="758.2" y2="145.1" stroke="#333" stroke-width="0.9" />
<line x1="756.6" y1="141.2" x2="758.2" y2="141.2" stroke="#333" stroke-width="0.9" />
<line x1="756.6" y1="138.0" x2="758.2" y2="138.0" stroke="#333" stroke-width="0.9" />
<line x1="756.6" y1="135.3" x2="758.2" y2="135.3" stroke="#333" stroke-width="0.9" />
<line x1="756.6" y1="132.9" x2="758.2" y2="132.9" stroke="#333" stroke-width="0.9" />
<line x1="756.6" y1="130.9" x2="758.2" y2="130.9" stroke="#333" stroke-width="0.9" />
<line x1="756.6" y1="199.8" x2="758.2" y2="199.8" stroke="#333" stroke-width="0.9" />
<line x1="756.6" y1="192.2" x2="758.2" y2="192.2" stroke="#333" stroke-width="0.9" />
<line x1="756.6" y1="186.8" x2="758.2" y2="186.8" stroke="#333" stroke-width="0.9" />
<line x1="756.6" y1="182.6" x2="758.2" y2="182.6" stroke="#333" stroke-width="0.9" />
<line x1="756.6" y1="179.1" x2="758.2" y2="179.1" stroke="#333" stroke-width="0.9" />
<line x1="756.6" y1="176.2" x2="758.2" y2="176.2" stroke="#333" stroke-width="0.9" />
<line x1="756.6" y1="173.7" x2="758.2" y2="173.7" stroke="#333" stroke-width="0.9" />
<line x1="756.6" y1="171.5" x2="758.2" y2="171.5" stroke="#333" stroke-width="0.9" />
<line x1="756.6" y1="78.0" x2="758.2" y2="78.0" stroke="#333" stroke-width="0.9" />
<line x1="756.6" y1="80.5" x2="758.2" y2="80.5" stroke="#333" stroke-width="0.9" />
<line x1="756.6" y1="83.0" x2="758.2" y2="83.0" stroke="#333" stroke-width="0.9" />
<line x1="756.6" y1="218.0" x2="758.2" y2="218.0" stroke="#333" stroke-width="0.9" />
<line x1="756.6" y1="222.0" x2="758.2" y2="222.0" stroke="#333" stroke-width="0.9" />
<line x1="756.6" y1="226.0" x2="758.2" y2="226.0" stroke="#333" stroke-width="0.9" />
<line x1="756.6" y1="238.0" x2="758.2" y2="238.0" stroke="#333" stroke-width="0.9" />
<line x1="756.6" y1="242.0" x2="758.2" y2="242.0" stroke="#333" stroke-width="0.9" />
<line x1="756.6" y1="246.0" x2="758.2" y2="246.0" stroke="#333" stroke-width="0.9" />
<line x1="796.6" y1="250.4" x2="796.6" y2="254.6" stroke="#111" stroke-width="1.3" />
<text x="799.6" y="274.6" font-size="18" text-anchor="middle">10<tspan font-size="12" dy="-7">2</tspan></text>
<line x1="837.7" y1="250.4" x2="837.7" y2="254.6" stroke="#111" stroke-width="1.3" />
<text x="839.1" y="274.6" font-size="18" text-anchor="middle">10<tspan font-size="12" dy="-7">3</tspan></text>
<line x1="881.0" y1="250.4" x2="881.0" y2="254.6" stroke="#111" stroke-width="1.3" />
<text x="881.1" y="274.6" font-size="18" text-anchor="middle">10<tspan font-size="12" dy="-7">4</tspan></text>
<line x1="920.7" y1="250.4" x2="920.7" y2="254.6" stroke="#111" stroke-width="1.3" />
<text x="922.8" y="274.6" font-size="18" text-anchor="middle">10<tspan font-size="12" dy="-7">5</tspan></text>
<line x1="775.4" y1="250.4" x2="775.4" y2="254.6" stroke="#111" stroke-width="1.3" />
<text x="776.5" y="274.6" font-size="18" text-anchor="middle">0</text>
<line x1="809.0" y1="250.4" x2="809.0" y2="252.0" stroke="#333" stroke-width="0.9" />
<line x1="816.2" y1="250.4" x2="816.2" y2="252.0" stroke="#333" stroke-width="0.9" />
<line x1="821.3" y1="250.4" x2="821.3" y2="252.0" stroke="#333" stroke-width="0.9" />
<line x1="825.3" y1="250.4" x2="825.3" y2="252.0" stroke="#333" stroke-width="0.9" />
<line x1="828.6" y1="250.4" x2="828.6" y2="252.0" stroke="#333" stroke-width="0.9" />
<line x1="831.3" y1="250.4" x2="831.3" y2="252.0" stroke="#333" stroke-width="0.9" />
<line x1="833.7" y1="250.4" x2="833.7" y2="252.0" stroke="#333" stroke-width="0.9" />
<line x1="835.8" y1="250.4" x2="835.8" y2="252.0" stroke="#333" stroke-width="0.9" />
<line x1="850.7" y1="250.4" x2="850.7" y2="252.0" stroke="#333" stroke-width="0.9" />
<line x1="858.4" y1="250.4" x2="858.4" y2="252.0" stroke="#333" stroke-width="0.9" />
<line x1="863.8" y1="250.4" x2="863.8" y2="252.0" stroke="#333" stroke-width="0.9" />
<line x1="868.0" y1="250.4" x2="868.0" y2="252.0" stroke="#333" stroke-width="0.9" />
<line x1="871.4" y1="250.4" x2="871.4" y2="252.0" stroke="#333" stroke-width="0.9" />
<line x1="874.3" y1="250.4" x2="874.3" y2="252.0" stroke="#333" stroke-width="0.9" />
<line x1="876.8" y1="250.4" x2="876.8" y2="252.0" stroke="#333" stroke-width="0.9" />
<line x1="879.0" y1="250.4" x2="879.0" y2="252.0" stroke="#333" stroke-width="0.9" />
<line x1="893.0" y1="250.4" x2="893.0" y2="252.0" stroke="#333" stroke-width="0.9" />
<line x1="899.9" y1="250.4" x2="899.9" y2="252.0" stroke="#333" stroke-width="0.9" />
<line x1="904.9" y1="250.4" x2="904.9" y2="252.0" stroke="#333" stroke-width="0.9" />
<line x1="908.7" y1="250.4" x2="908.7" y2="252.0" stroke="#333" stroke-width="0.9" />
<line x1="911.9" y1="250.4" x2="911.9" y2="252.0" stroke="#333" stroke-width="0.9" />
<line x1="914.6" y1="250.4" x2="914.6" y2="252.0" stroke="#333" stroke-width="0.9" />
<line x1="916.9" y1="250.4" x2="916.9" y2="252.0" stroke="#333" stroke-width="0.9" />
<line x1="918.9" y1="250.4" x2="918.9" y2="252.0" stroke="#333" stroke-width="0.9" />
<line x1="761.2" y1="250.4" x2="761.2" y2="252.0" stroke="#333" stroke-width="0.9" />
<line x1="765.2" y1="250.4" x2="765.2" y2="252.0" stroke="#333" stroke-width="0.9" />
<line x1="769.2" y1="250.4" x2="769.2" y2="252.0" stroke="#333" stroke-width="0.9" />
<line x1="780.2" y1="250.4" x2="780.2" y2="252.0" stroke="#333" stroke-width="0.9" />
<line x1="784.2" y1="250.4" x2="784.2" y2="252.0" stroke="#333" stroke-width="0.9" />
<line x1="788.2" y1="250.4" x2="788.2" y2="252.0" stroke="#333" stroke-width="0.9" />
<defs><clipPath id="clipA0"><rect x="61.8" y="72.7" width="179.0" height="177.7"/></clipPath><radialGradient id="gA0" gradientUnits="userSpaceOnUse" cx="89.5" cy="200.7" r="62" fx="89.5" fy="200.7"><stop offset="0" stop-color="#000"/><stop offset="0.35" stop-color="#222"/><stop offset="0.6" stop-color="#555"/><stop offset="0.85" stop-color="#999"/><stop offset="1" stop-color="#bbb"/></radialGradient><radialGradient id="uA0" gradientUnits="userSpaceOnUse" cx="91.6" cy="147.1" r="15.1"><stop offset="0" stop-color="#979797"/><stop offset="0.5" stop-color="#a2a2a2"/><stop offset="1" stop-color="#b4b4b4"/></radialGradient><clipPath id="clipA1"><rect x="294.0" y="72.7" width="179.0" height="177.7"/></clipPath><radialGradient id="gA1" gradientUnits="userSpaceOnUse" cx="320.2" cy="204.8" r="62" fx="320.2" fy="204.8"><stop offset="0" stop-color="#000"/><stop offset="0.35" stop-color="#222"/><stop offset="0.6" stop-color="#555"/><stop offset="0.85" stop-color="#999"/><stop offset="1" stop-color="#bbb"/></radialGradient><radialGradient id="uA1" gradientUnits="userSpaceOnUse" cx="319.5" cy="144.4" r="12.4"><stop offset="0" stop-color="#959595"/><stop offset="0.45" stop-color="#a3a3a3"/><stop offset="1" stop-color="#b6b6b6"/></radialGradient><clipPath id="clipA2"><rect x="526.0" y="72.7" width="179.0" height="177.7"/></clipPath><radialGradient id="gA2" gradientUnits="userSpaceOnUse" cx="555.6" cy="204.8" r="62" fx="555.6" fy="204.8"><stop offset="0" stop-color="#000"/><stop offset="0.35" stop-color="#222"/><stop offset="0.6" stop-color="#555"/><stop offset="0.85" stop-color="#999"/><stop offset="1" stop-color="#bbb"/></radialGradient><radialGradient id="uA2" gradientUnits="userSpaceOnUse" cx="553.5" cy="144.4" r="31.6"><stop offset="0" stop-color="#1c1c1c"/><stop offset="0.45" stop-color="#3a3a3a"/><stop offset="0.8" stop-color="#7a7a7a"/><stop offset="1" stop-color="#a0a0a0"/></radialGradient><clipPath id="clipA3"><rect x="758.2" y="72.7" width="179.0" height="177.7"/></clipPath><radialGradient id="gA3" gradientUnits="userSpaceOnUse" cx="786.9" cy="203.4" r="62" fx="786.9" fy="203.4"><stop offset="0" stop-color="#000"/><stop offset="0.35" stop-color="#222"/><stop offset="0.6" stop-color="#555"/><stop offset="0.85" stop-color="#999"/><stop offset="1" stop-color="#bbb"/></radialGradient><radialGradient id="uA3" gradientUnits="userSpaceOnUse" cx="790.4" cy="151.2" r="22.0"><stop offset="0" stop-color="#8e8e8e"/><stop offset="0.6" stop-color="#9c9c9c"/><stop offset="1" stop-color="#b0b0b0"/></radialGradient></defs>
<text x="70.4" y="108.6" font-size="18">2.06</text>
<text x="183.1" y="145.1" font-size="18" fill="#000">0.68</text>
<text x="302.1" y="108.6" font-size="18">1.95</text>
<text x="415.3" y="145.1" font-size="18" fill="#000">0.67</text>
<text x="531.0" y="108.6" font-size="18">5.39</text>
<text x="647.3" y="145.1" font-size="18" fill="#e020e0">1.42</text>
<text x="765.3" y="108.6" font-size="18">2.28</text>
<text x="879.5" y="145.1" font-size="18" fill="#000">0.51</text>
<path d="M28.4,289 V234" stroke="#000" stroke-width="3.7" fill="none"/>
<path d="M22.2,236.3 L28.4,224.4 L34.8,236.3 Z" fill="#000"/>
<path d="M26.6,287 H82" stroke="#000" stroke-width="3.7" fill="none"/>
<path d="M80.7,281 L92.5,287 L80.7,293.5 Z" fill="#000"/>
<text font-size="18" transform="translate(15.5,289.5) rotate(-90)">CD11b</text>
<text x="33.5" y="313.7" font-size="18">CD11c</text>
<text x="-1.0" y="368.0" font-size="26" font-weight="bold">b</text>
<line x1="85.3" y1="459.3" x2="85.3" y2="660.0" stroke="#000" stroke-width="1.4" />
<line x1="84.6" y1="659.3" x2="374.0" y2="659.3" stroke="#000" stroke-width="1.4" />
<line x1="78.7" y1="659.3" x2="85.3" y2="659.3" stroke="#000" stroke-width="1.4" />
<text x="72.0" y="665.7" font-size="18" text-anchor="end">0.0</text>
<line x1="78.7" y1="592.8" x2="85.3" y2="592.8" stroke="#000" stroke-width="1.4" />
<text x="72.0" y="599.2" font-size="18" text-anchor="end">0.5</text>
<line x1="78.7" y1="526.4" x2="85.3" y2="526.4" stroke="#000" stroke-width="1.4" />
<text x="72.0" y="532.8" font-size="18" text-anchor="end">1.0</text>
<line x1="78.7" y1="459.9" x2="85.3" y2="459.9" stroke="#000" stroke-width="1.4" />
<text x="72.0" y="466.3" font-size="18" text-anchor="end">1.5</text>
<rect x="97.0" y="573.1" width="51.0" height="86.2" fill="#000000" />
<rect x="171.5" y="560.4" width="51.0" height="98.9" fill="#808080" />
<rect x="245.9" y="485.5" width="51.0" height="173.8" fill="#0000ff" />
<rect x="320.3" y="565.1" width="51.0" height="94.2" fill="#ff8000" />
<line x1="122.5" y1="569.6" x2="122.5" y2="575.0" stroke="#000" stroke-width="1.8" />
<line x1="109.7" y1="569.6" x2="135.3" y2="569.6" stroke="#000" stroke-width="1.8" />
<line x1="197.0" y1="550.2" x2="197.0" y2="571.8" stroke="#000" stroke-width="1.8" />
<line x1="184.2" y1="550.2" x2="209.8" y2="550.2" stroke="#000" stroke-width="1.8" />
<line x1="184.2" y1="571.8" x2="209.8" y2="571.8" stroke="#000" stroke-width="1.8" />
<line x1="271.4" y1="462.7" x2="271.4" y2="510.9" stroke="#000" stroke-width="1.8" />
<line x1="258.6" y1="462.7" x2="284.2" y2="462.7" stroke="#000" stroke-width="1.8" />
<line x1="258.6" y1="510.9" x2="284.2" y2="510.9" stroke="#000" stroke-width="1.8" />
<line x1="345.8" y1="552.8" x2="345.8" y2="579.1" stroke="#000" stroke-width="1.8" />
<line x1="333.0" y1="552.8" x2="358.6" y2="552.8" stroke="#000" stroke-width="1.8" />
<line x1="333.0" y1="579.1" x2="358.6" y2="579.1" stroke="#000" stroke-width="1.8" />
<line x1="121.0" y1="388.3" x2="355.3" y2="388.3" stroke="#000" stroke-width="3.2" />
<text x="238.1" y="379.8" font-size="18" text-anchor="middle">NS</text>
<line x1="121.0" y1="416.3" x2="265.9" y2="416.3" stroke="#000" stroke-width="3.2" />
<line x1="188.9" y1="442.5" x2="265.6" y2="442.5" stroke="#000" stroke-width="3.2" />
<line x1="278.2" y1="442.5" x2="355.5" y2="442.5" stroke="#000" stroke-width="3.2" />
<polygon points="191.10,401.20 191.89,403.31 194.14,403.41 192.38,404.82 192.98,406.99 191.10,405.75 189.22,406.99 189.82,404.82 188.06,403.41 190.31,403.31" fill="#000"/>
<polygon points="228.50,429.40 229.29,431.51 231.54,431.61 229.78,433.02 230.38,435.19 228.50,433.95 226.62,435.19 227.22,433.02 225.46,431.61 227.71,431.51" fill="#000"/>
<polygon points="316.70,429.40 317.49,431.51 319.74,431.61 317.98,433.02 318.58,435.19 316.70,433.95 314.82,435.19 315.42,433.02 313.66,431.61 315.91,431.51" fill="#000"/>
<text x="234.5" y="686.4" font-size="18" text-anchor="middle">CD11c<tspan font-size="12" dy="-7">+</tspan><tspan dy="7"> dendritic cells</tspan></text>
<text font-size="18" text-anchor="middle" transform="translate(32.6,557.3) rotate(-90)">% CD11c<tspan font-size="12" dy="-7">+</tspan><tspan dy="7">/viable cells</tspan></text>
<text x="471.6" y="368.3" font-size="26" font-weight="bold">c</text>
<line x1="571.2" y1="460.3" x2="571.2" y2="659.3" stroke="#000" stroke-width="1.4" />
<line x1="570.5" y1="658.7" x2="865.7" y2="658.7" stroke="#000" stroke-width="1.4" />
<line x1="564.2" y1="658.7" x2="571.2" y2="658.7" stroke="#000" stroke-width="1.4" />
<text x="555.5" y="665.1" font-size="18" text-anchor="end">0</text>
<line x1="564.2" y1="592.8" x2="571.2" y2="592.8" stroke="#000" stroke-width="1.4" />
<text x="555.5" y="599.2" font-size="18" text-anchor="end">5,000</text>
<line x1="564.2" y1="526.8" x2="571.2" y2="526.8" stroke="#000" stroke-width="1.4" />
<text x="555.5" y="533.2" font-size="18" text-anchor="end">10,000</text>
<line x1="564.2" y1="460.9" x2="571.2" y2="460.9" stroke="#000" stroke-width="1.4" />
<text x="555.5" y="467.3" font-size="18" text-anchor="end">15,000</text>
<rect x="582.3" y="610.2" width="51.0" height="48.5" fill="#000000" />
<rect x="656.0" y="584.8" width="51.0" height="73.9" fill="#808080" />
<rect x="730.0" y="541.8" width="51.0" height="116.9" fill="#0000ff" />
<rect x="803.7" y="593.1" width="51.0" height="65.6" fill="#ff8000" />
<line x1="607.8" y1="608.8" x2="607.8" y2="612.0" stroke="#000" stroke-width="1.8" />
<line x1="595.1" y1="608.8" x2="620.5" y2="608.8" stroke="#000" stroke-width="1.8" />
<line x1="681.5" y1="574.6" x2="681.5" y2="596.6" stroke="#000" stroke-width="1.8" />
<line x1="668.8" y1="574.6" x2="694.2" y2="574.6" stroke="#000" stroke-width="1.8" />
<line x1="668.8" y1="596.6" x2="694.2" y2="596.6" stroke="#000" stroke-width="1.8" />
<line x1="755.5" y1="509.8" x2="755.5" y2="575.0" stroke="#000" stroke-width="1.8" />
<line x1="742.8" y1="509.8" x2="768.2" y2="509.8" stroke="#000" stroke-width="1.8" />
<line x1="742.8" y1="575.0" x2="768.2" y2="575.0" stroke="#000" stroke-width="1.8" />
<line x1="829.2" y1="582.2" x2="829.2" y2="606.7" stroke="#000" stroke-width="1.8" />
<line x1="816.5" y1="582.2" x2="841.9" y2="582.2" stroke="#000" stroke-width="1.8" />
<line x1="816.5" y1="606.7" x2="841.9" y2="606.7" stroke="#000" stroke-width="1.8" />
<text x="718.5" y="685.3" font-size="18" text-anchor="middle">Activated dendritic cells</text>
<text font-size="18" text-anchor="middle" transform="translate(488.1,556.5) rotate(-90)">Number/10<tspan font-size="12" dy="-7">6</tspan><tspan dy="7"> cells</tspan></text>
<rect x="796.7" y="442.7" width="22.6" height="13.8" fill="#000000" />
<text x="826.3" y="455.5" font-size="18">WT</text>
<rect x="796.7" y="463.8" width="22.6" height="13.8" fill="#808080" />
<text x="826.3" y="476.6" font-size="18"><tspan font-style="italic">lpr</tspan>/<tspan font-style="italic">+</tspan></text>
<rect x="796.7" y="484.8" width="22.6" height="13.8" fill="#0000ff" />
<text x="826.3" y="497.6" font-size="18"><tspan font-style="italic">lpr</tspan>/<tspan font-style="italic">lpr</tspan></text>
<rect x="796.7" y="505.9" width="22.6" height="13.8" fill="#ff8000" />
<text x="826.3" y="518.6" font-size="18">FasC194V<tspan font-size="12.5" font-style="italic" dy="-7">lpr/lpr</tspan></text>
<text x="-0.5" y="740.6" font-size="26" font-weight="bold">d</text>
<text x="199.5" y="760.0" font-size="18">CD11c<tspan font-size="12" dy="-7">+</tspan></text>
<path d="M82.0,986.9 L83.6,986.8 L85.3,986.7 L86.9,986.7 L88.5,986.6 L90.2,986.5 L91.8,986.4 L93.5,986.3 L95.1,986.2 L96.7,986.1 L98.4,986.0 L100.0,985.9 L101.6,985.4 L103.2,985.1 L104.9,984.2 L106.5,983.6 L108.1,983.4 L109.7,983.1 L111.4,982.2 L113.0,981.5 L114.6,981.2 L116.5,980.2 L118.4,980.5 L120.2,980.0 L122.1,978.5 L124.0,978.3 L125.8,977.6 L127.5,976.6 L129.2,976.5 L131.0,976.7 L132.8,976.4 L134.5,975.8 L136.1,972.8 L137.8,973.3 L139.4,972.4 L141.0,970.4 L142.7,968.9 L144.3,965.2 L146.0,962.5 L147.7,960.1 L150.0,959.1 L151.6,957.5 L153.2,955.1 L154.9,952.6 L156.5,949.8 L158.1,949.0 L160.1,941.5 L162.1,937.7 L164.1,932.7 L166.1,926.0 L168.2,912.6 L170.2,907.2 L172.2,904.4 L175.3,888.3 L178.3,868.0 L181.3,851.7 L184.3,839.6 L187.4,829.5 L189.4,811.5 L191.4,790.9 L192.4,785.1 L194.4,797.0 L197.5,807.4 L199.5,813.1 L201.5,813.6 L203.2,816.5 L204.9,821.5 L206.6,821.4 L208.6,831.5 L210.6,841.6 L212.6,866.0 L215.7,888.3 L218.7,908.5 L220.7,916.0 L222.7,920.7 L224.8,925.3 L226.8,930.8 L229.8,944.8 L232.8,957.0 L234.9,958.1 L236.9,967.1 L238.6,969.2 L240.2,971.2 L242.9,977.2 L244.6,977.9 L246.3,979.3 L248.2,981.8 L250.0,983.4 L252.2,983.9 L254.3,984.3 L256.0,984.6 L257.7,985.3 L259.4,985.8 L261.0,986.3 L262.7,986.8 L264.4,987.3 L266.1,987.4 L267.9,987.5 L269.6,987.6 L271.3,987.7 L273.1,987.8 L274.8,987.9 L276.5,988.0 L278.3,988.1 L280.0,988.2 L281.6,988.2 L283.2,988.2 L284.8,988.2 L286.5,988.2 L288.1,988.2 L289.7,988.2 L291.3,988.2 L292.9,988.2 L294.5,988.2 L296.2,988.2 L297.8,988.2 L299.4,988.2 L301.0,988.2 L302.6,988.2 L304.2,988.2 L305.8,988.2 L307.5,988.2 L309.1,988.2 L310.7,988.2 L312.3,988.2 L313.9,988.2 L315.5,988.2 L317.2,988.2 L318.8,988.2 L320.4,988.2 L322.0,988.2 L323.6,988.2 L325.2,988.2 L326.8,988.2 L328.5,988.2 L330.1,988.2 L331.7,988.2 L333.3,988.2 L334.9,988.3 L336.5,988.3 L338.2,988.3 L339.8,988.3 L341.4,988.3 L343.0,988.3 L344.6,988.3 L346.2,988.3 L347.8,988.3 L349.5,988.3 L351.1,988.3 L352.7,988.3 L354.3,988.3 L355.9,988.3 L357.5,988.3 L359.2,988.3 L360.8,988.3 L362.4,988.3 L364.0,988.3 L365.6,988.3 L367.2,988.3 L368.8,988.3 L370.5,988.3 L372.1,988.3 L373.7,988.3 L375.3,988.3 L376.9,988.3 L378.5,988.3 L380.2,988.3 L381.8,988.3 L383.4,988.3 L385.0,988.3 L386.6,988.3 L388.2,988.3 L389.8,988.3 L391.5,988.3 L393.1,988.3 L394.7,988.3 L396.3,988.3 L397.9,988.3 L399.5,988.3 L401.2,988.3 L402.8,988.3 L404.4,988.3 L406.0,988.4 L407.6,988.4 L409.2,988.4 L410.8,988.4 L412.5,988.4 L414.1,988.4 L415.7,988.4 L417.3,988.4 L418.9,988.4 L420.5,988.4 L422.2,988.4 L423.8,988.4 L425.4,988.4 L427.0,988.4 L427,989.0 L82,989.0 Z" fill="#cfcfcf" stroke="none"/>
<path d="M82.0,986.9 L83.6,986.8 L85.3,986.7 L86.9,986.7 L88.5,986.6 L90.2,986.5 L91.8,986.4 L93.5,986.3 L95.1,986.2 L96.7,986.1 L98.4,986.0 L100.0,985.9 L101.6,985.4 L103.2,985.1 L104.9,984.2 L106.5,983.6 L108.1,983.4 L109.7,983.1 L111.4,982.2 L113.0,981.5 L114.6,981.2 L116.5,980.2 L118.4,980.5 L120.2,980.0 L122.1,978.5 L124.0,978.3 L125.8,977.6 L127.5,976.6 L129.2,976.5 L131.0,976.7 L132.8,976.4 L134.5,975.8 L136.1,972.8 L137.8,973.3 L139.4,972.4 L141.0,970.4 L142.7,968.9 L144.3,965.2 L146.0,962.5 L147.7,960.1 L150.0,959.1 L151.6,957.5 L153.2,955.1 L154.9,952.6 L156.5,949.8 L158.1,949.0 L160.1,941.5 L162.1,937.7 L164.1,932.7 L166.1,926.0 L168.2,912.6 L170.2,907.2 L172.2,904.4 L175.3,888.3 L178.3,868.0 L181.3,851.7 L184.3,839.6 L187.4,829.5 L189.4,811.5 L191.4,790.9 L192.4,785.1 L194.4,797.0 L197.5,807.4 L199.5,813.1 L201.5,813.6 L203.2,816.5 L204.9,821.5 L206.6,821.4 L208.6,831.5 L210.6,841.6 L212.6,866.0 L215.7,888.3 L218.7,908.5 L220.7,916.0 L222.7,920.7 L224.8,925.3 L226.8,930.8 L229.8,944.8 L232.8,957.0 L234.9,958.1 L236.9,967.1 L238.6,969.2 L240.2,971.2 L242.9,977.2 L244.6,977.9 L246.3,979.3 L248.2,981.8 L250.0,983.4 L252.2,983.9 L254.3,984.3 L256.0,984.6 L257.7,985.3 L259.4,985.8 L261.0,986.3 L262.7,986.8 L264.4,987.3 L266.1,987.4 L267.9,987.5 L269.6,987.6 L271.3,987.7 L273.1,987.8 L274.8,987.9 L276.5,988.0 L278.3,988.1 L280.0,988.2 L281.6,988.2 L283.2,988.2 L284.8,988.2 L286.5,988.2 L288.1,988.2 L289.7,988.2 L291.3,988.2 L292.9,988.2 L294.5,988.2 L296.2,988.2 L297.8,988.2 L299.4,988.2 L301.0,988.2 L302.6,988.2 L304.2,988.2 L305.8,988.2 L307.5,988.2 L309.1,988.2 L310.7,988.2 L312.3,988.2 L313.9,988.2 L315.5,988.2 L317.2,988.2 L318.8,988.2 L320.4,988.2 L322.0,988.2 L323.6,988.2 L325.2,988.2 L326.8,988.2 L328.5,988.2 L330.1,988.2 L331.7,988.2 L333.3,988.2 L334.9,988.3 L336.5,988.3 L338.2,988.3 L339.8,988.3 L341.4,988.3 L343.0,988.3 L344.6,988.3 L346.2,988.3 L347.8,988.3 L349.5,988.3 L351.1,988.3 L352.7,988.3 L354.3,988.3 L355.9,988.3 L357.5,988.3 L359.2,988.3 L360.8,988.3 L362.4,988.3 L364.0,988.3 L365.6,988.3 L367.2,988.3 L368.8,988.3 L370.5,988.3 L372.1,988.3 L373.7,988.3 L375.3,988.3 L376.9,988.3 L378.5,988.3 L380.2,988.3 L381.8,988.3 L383.4,988.3 L385.0,988.3 L386.6,988.3 L388.2,988.3 L389.8,988.3 L391.5,988.3 L393.1,988.3 L394.7,988.3 L396.3,988.3 L397.9,988.3 L399.5,988.3 L401.2,988.3 L402.8,988.3 L404.4,988.3 L406.0,988.4 L407.6,988.4 L409.2,988.4 L410.8,988.4 L412.5,988.4 L414.1,988.4 L415.7,988.4 L417.3,988.4 L418.9,988.4 L420.5,988.4 L422.2,988.4 L423.8,988.4 L425.4,988.4 L427.0,988.4" fill="none" stroke="#7d7d7d" stroke-width="1.5" stroke-linejoin="round"/>
<path d="M82.0,988.6 L83.6,988.6 L85.3,988.6 L86.9,988.6 L88.5,988.6 L90.1,988.5 L91.8,988.5 L93.4,988.5 L95.0,988.5 L96.6,988.5 L98.3,988.5 L99.9,988.5 L101.5,988.5 L103.2,988.5 L104.8,988.5 L106.4,988.5 L108.0,988.5 L109.7,988.4 L111.3,988.4 L112.9,988.4 L114.5,988.4 L116.2,988.4 L117.8,988.4 L119.4,988.4 L121.1,988.4 L122.7,988.4 L124.3,988.4 L125.9,988.4 L127.6,988.4 L129.2,988.4 L130.8,988.3 L132.5,988.3 L134.1,988.3 L135.7,988.3 L137.3,988.3 L139.0,988.3 L140.6,988.3 L142.2,988.3 L143.8,988.3 L145.5,988.3 L147.1,988.3 L148.7,988.3 L150.4,988.2 L152.0,988.2 L153.6,988.2 L155.2,988.2 L156.9,988.2 L158.5,988.2 L160.1,988.2 L161.7,988.2 L163.4,988.2 L165.0,988.2 L166.7,988.0 L168.3,987.8 L170.0,987.6 L171.7,987.3 L173.3,987.1 L175.0,986.9 L176.7,986.5 L178.4,986.1 L180.0,985.7 L181.7,985.3 L183.4,984.9 L185.2,984.3 L186.9,983.1 L188.7,982.2 L190.4,980.7 L192.2,980.5 L193.9,979.7 L195.6,978.8 L197.2,978.4 L198.8,975.0 L200.5,974.6 L202.5,972.6 L204.6,972.3 L206.6,969.2 L208.2,967.8 L209.8,968.4 L211.4,961.9 L213.0,963.2 L214.6,963.2 L216.4,959.7 L218.2,957.9 L220.0,954.9 L222.0,952.7 L224.0,942.8 L226.1,936.0 L228.1,928.7 L230.1,927.6 L232.1,920.7 L234.1,909.5 L236.2,900.5 L238.2,895.2 L240.2,882.1 L242.2,873.7 L244.2,861.9 L246.2,849.5 L248.3,841.6 L251.3,827.6 L253.3,823.5 L255.4,797.3 L257.4,821.4 L259.4,799.1 L261.4,785.1 L263.4,817.5 L266.1,799.1 L268.5,819.3 L271.5,839.6 L273.5,841.6 L276.6,866.0 L278.6,878.1 L280.6,896.3 L282.6,913.7 L284.6,926.7 L286.6,940.7 L288.7,949.0 L290.7,955.7 L292.7,965.1 L294.8,970.5 L296.8,977.2 L298.4,978.5 L300.0,979.2 L301.6,980.0 L303.2,981.0 L304.8,981.4 L306.4,982.6 L308.0,983.0 L309.7,984.2 L311.3,985.3 L312.9,986.3 L314.6,986.5 L316.3,986.7 L318.0,986.9 L319.7,987.1 L321.4,987.2 L323.2,987.4 L324.9,987.6 L326.6,987.8 L328.3,988.0 L330.0,988.2 L331.6,988.2 L333.2,988.2 L334.9,988.2 L336.5,988.2 L338.1,988.2 L339.7,988.2 L341.3,988.2 L342.9,988.2 L344.6,988.2 L346.2,988.2 L347.8,988.2 L349.4,988.2 L351.0,988.2 L352.6,988.2 L354.2,988.2 L355.9,988.2 L357.5,988.2 L359.1,988.2 L360.7,988.2 L362.3,988.2 L363.9,988.2 L365.6,988.3 L367.2,988.3 L368.8,988.3 L370.4,988.3 L372.0,988.3 L373.6,988.3 L375.3,988.3 L376.9,988.3 L378.5,988.3 L380.1,988.3 L381.7,988.3 L383.4,988.3 L385.0,988.3 L386.6,988.3 L388.2,988.3 L389.8,988.3 L391.4,988.3 L393.1,988.3 L394.7,988.3 L396.3,988.3 L397.9,988.3 L399.5,988.3 L401.1,988.3 L402.8,988.3 L404.4,988.3 L406.0,988.3 L407.6,988.3 L409.2,988.3 L410.8,988.3 L412.4,988.3 L414.1,988.4 L415.7,988.4 L417.3,988.4 L418.9,988.4 L420.5,988.4 L422.1,988.4 L423.8,988.4 L425.4,988.4 L427.0,988.4" fill="none" stroke="#111" stroke-width="1.6" stroke-linejoin="round"/>
<path d="M82.0,988.4 L83.6,988.4 L85.2,988.4 L86.9,988.4 L88.5,988.4 L90.1,988.4 L91.7,988.4 L93.3,988.3 L95.0,988.3 L96.6,988.3 L98.2,988.3 L99.8,988.3 L101.4,988.3 L103.0,988.3 L104.7,988.3 L106.3,988.3 L107.9,988.3 L109.5,988.3 L111.1,988.3 L112.8,988.3 L114.4,988.3 L116.0,988.3 L117.6,988.3 L119.2,988.3 L120.9,988.3 L122.5,988.3 L124.1,988.3 L125.7,988.2 L127.3,988.2 L129.0,988.2 L130.6,988.2 L132.2,988.2 L133.8,988.2 L135.4,988.2 L137.0,988.2 L138.7,988.2 L140.3,988.2 L141.9,988.2 L143.5,988.2 L145.1,988.2 L146.8,988.2 L148.4,988.2 L150.0,988.2 L151.7,988.0 L153.3,987.8 L155.0,987.6 L156.7,987.3 L158.3,987.1 L160.0,986.9 L161.7,986.4 L163.4,985.9 L165.1,985.4 L166.8,984.9 L168.5,984.2 L170.2,983.8 L172.1,982.8 L174.1,981.3 L176.0,980.7 L177.7,979.3 L179.5,976.9 L181.2,976.8 L183.0,975.3 L184.7,973.5 L186.6,971.2 L188.5,968.9 L190.4,968.4 L192.4,964.9 L194.5,962.5 L196.5,960.1 L198.5,958.7 L200.5,953.0 L202.5,947.7 L204.6,941.3 L206.6,932.7 L208.6,927.7 L210.6,920.7 L212.6,913.5 L214.6,908.5 L217.7,892.2 L220.0,876.1 L222.0,861.6 L224.0,845.8 L226.1,835.2 L228.1,827.6 L230.1,821.4 L232.1,815.4 L235.2,811.5 L238.2,807.4 L240.2,811.5 L243.2,786.1 L245.9,815.4 L248.3,805.3 L251.3,825.5 L254.3,835.6 L257.4,860.0 L260.4,884.1 L263.4,906.4 L265.4,919.2 L267.5,930.8 L269.5,939.7 L271.5,949.0 L273.6,956.4 L275.6,965.1 L277.3,968.3 L278.9,973.5 L280.6,977.2 L282.2,978.6 L283.8,980.3 L285.5,980.4 L287.1,981.7 L288.7,983.4 L290.3,984.0 L291.9,984.7 L293.6,985.2 L295.2,985.7 L296.8,986.3 L298.5,986.4 L300.1,986.6 L301.8,986.7 L303.4,986.8 L305.1,986.9 L306.7,987.0 L308.4,987.1 L310.1,987.3 L311.7,987.4 L313.4,987.5 L315.0,987.6 L316.7,987.7 L318.3,987.9 L320.0,988.0 L321.6,988.0 L323.2,988.0 L324.9,988.0 L326.5,988.0 L328.1,988.0 L329.7,988.0 L331.3,988.0 L333.0,988.0 L334.6,988.0 L336.2,988.0 L337.8,988.0 L339.5,988.0 L341.1,988.0 L342.7,988.1 L344.3,988.1 L345.9,988.1 L347.6,988.1 L349.2,988.1 L350.8,988.1 L352.4,988.1 L354.0,988.1 L355.7,988.1 L357.3,988.1 L358.9,988.1 L360.5,988.1 L362.2,988.1 L363.8,988.1 L365.4,988.1 L367.0,988.1 L368.6,988.2 L370.3,988.2 L371.9,988.2 L373.5,988.2 L375.1,988.2 L376.7,988.2 L378.4,988.2 L380.0,988.2 L381.6,988.2 L383.2,988.2 L384.8,988.2 L386.5,988.2 L388.1,988.2 L389.7,988.2 L391.3,988.2 L393.0,988.2 L394.6,988.3 L396.2,988.3 L397.8,988.3 L399.4,988.3 L401.1,988.3 L402.7,988.3 L404.3,988.3 L405.9,988.3 L407.5,988.3 L409.2,988.3 L410.8,988.3 L412.4,988.3 L414.0,988.3 L415.7,988.3 L417.3,988.3 L418.9,988.3 L420.5,988.4 L422.1,988.4 L423.8,988.4 L425.4,988.4 L427.0,988.4" fill="none" stroke="#2ad12a" stroke-width="1.6" stroke-linejoin="round"/>
<path d="M82.0,987.3 L83.6,987.2 L85.3,987.1 L86.9,987.0 L88.5,986.9 L90.2,986.7 L91.8,986.6 L93.4,986.5 L95.0,986.4 L96.7,986.2 L98.3,986.1 L99.9,986.0 L101.6,985.9 L103.2,985.7 L104.8,985.6 L106.4,985.5 L108.1,985.4 L109.7,985.2 L111.3,985.1 L113.0,985.0 L114.6,984.9 L116.3,984.5 L118.0,984.0 L119.7,983.6 L121.4,983.5 L123.2,982.7 L124.9,982.6 L126.6,981.4 L128.3,981.7 L130.0,981.2 L131.7,980.4 L133.4,980.1 L135.0,979.1 L136.7,979.3 L138.4,978.5 L140.1,976.7 L141.7,976.1 L143.3,973.9 L145.0,973.5 L146.7,971.6 L148.3,970.5 L150.0,969.2 L151.6,968.3 L153.2,965.2 L154.9,963.8 L156.5,960.8 L158.1,961.1 L160.1,957.6 L162.1,952.1 L164.1,949.0 L166.1,939.9 L168.2,932.7 L170.2,924.1 L172.2,916.6 L174.2,908.1 L176.3,900.5 L178.3,890.0 L180.3,880.2 L182.3,871.2 L184.3,860.0 L187.4,841.6 L190.4,825.5 L192.4,818.5 L195.5,815.4 L198.5,797.0 L200.5,805.3 L202.1,815.4 L202.9,799.1 L204.5,786.1 L206.6,795.2 L209.6,801.2 L212.6,819.3 L215.7,841.6 L218.7,870.1 L220.0,882.1 L221.7,892.2 L224.0,912.6 L226.1,924.5 L228.1,932.7 L230.1,942.6 L232.1,951.0 L234.1,956.3 L236.2,963.2 L238.2,965.7 L240.2,971.2 L242.2,972.9 L244.3,975.3 L246.3,978.3 L247.9,979.0 L249.5,980.1 L251.1,981.3 L252.7,982.2 L254.3,983.4 L256.0,983.5 L257.7,984.5 L259.4,984.9 L261.0,985.4 L262.7,985.8 L264.4,986.3 L266.1,986.5 L267.9,986.7 L269.6,986.9 L271.3,987.1 L273.1,987.2 L274.8,987.4 L276.5,987.6 L278.3,987.8 L280.0,988.0 L281.6,988.0 L283.2,988.0 L284.8,988.0 L286.5,988.0 L288.1,988.0 L289.7,988.0 L291.3,988.0 L292.9,988.0 L294.5,988.0 L296.2,988.0 L297.8,988.0 L299.4,988.0 L301.0,988.0 L302.6,988.0 L304.2,988.0 L305.8,988.0 L307.5,988.0 L309.1,988.0 L310.7,988.1 L312.3,988.1 L313.9,988.1 L315.5,988.1 L317.2,988.1 L318.8,988.1 L320.4,988.1 L322.0,988.1 L323.6,988.1 L325.2,988.1 L326.8,988.1 L328.5,988.1 L330.1,988.1 L331.7,988.1 L333.3,988.1 L334.9,988.1 L336.5,988.1 L338.2,988.1 L339.8,988.1 L341.4,988.1 L343.0,988.1 L344.6,988.1 L346.2,988.2 L347.8,988.2 L349.5,988.2 L351.1,988.2 L352.7,988.2 L354.3,988.2 L355.9,988.2 L357.5,988.2 L359.2,988.2 L360.8,988.2 L362.4,988.2 L364.0,988.2 L365.6,988.2 L367.2,988.2 L368.8,988.2 L370.5,988.2 L372.1,988.2 L373.7,988.2 L375.3,988.2 L376.9,988.2 L378.5,988.2 L380.2,988.2 L381.8,988.3 L383.4,988.3 L385.0,988.3 L386.6,988.3 L388.2,988.3 L389.8,988.3 L391.5,988.3 L393.1,988.3 L394.7,988.3 L396.3,988.3 L397.9,988.3 L399.5,988.3 L401.2,988.3 L402.8,988.3 L404.4,988.3 L406.0,988.3 L407.6,988.3 L409.2,988.3 L410.8,988.3 L412.5,988.3 L414.1,988.3 L415.7,988.3 L417.3,988.4 L418.9,988.4 L420.5,988.4 L422.2,988.4 L423.8,988.4 L425.4,988.4 L427.0,988.4" fill="none" stroke="#1c1ce6" stroke-width="1.7" stroke-linejoin="round"/>
<path d="M82.0,987.1 L83.6,987.1 L85.3,987.1 L86.9,987.1 L88.5,987.1 L90.2,987.1 L91.8,987.1 L93.4,987.1 L95.0,987.1 L96.7,987.0 L98.3,987.0 L99.9,987.0 L101.6,987.0 L103.2,987.0 L104.8,987.0 L106.4,987.0 L108.1,987.0 L109.7,987.0 L111.3,987.0 L113.0,986.9 L114.6,986.9 L116.3,986.8 L118.0,986.7 L119.7,986.5 L121.4,986.4 L123.1,986.2 L124.8,986.1 L126.5,986.0 L128.2,985.8 L129.9,985.7 L131.6,985.6 L133.3,985.4 L135.0,985.3 L136.8,985.0 L138.6,984.9 L140.4,984.2 L142.3,984.3 L144.1,983.9 L145.9,983.7 L147.7,983.6 L150.0,983.4 L151.7,982.9 L153.5,980.9 L155.2,980.1 L156.9,979.8 L158.6,978.7 L160.4,978.1 L162.1,977.2 L163.7,976.6 L165.3,974.9 L167.0,973.4 L168.6,971.6 L170.2,971.2 L172.2,966.5 L174.2,963.2 L176.2,958.4 L178.3,951.6 L180.3,949.0 L182.3,944.9 L184.4,936.6 L186.4,932.7 L188.4,925.2 L190.4,922.5 L192.4,916.6 L194.1,913.1 L195.8,904.8 L197.5,896.3 L199.5,882.8 L201.5,870.1 L204.5,849.7 L207.6,831.5 L210.6,815.4 L213.6,805.3 L216.7,795.2 L218.7,791.1 L220.7,807.4 L222.7,786.1 L223.0,786.1 L226.1,809.4 L229.1,825.5 L232.1,841.6 L235.2,870.1 L238.2,896.3 L241.2,916.6 L244.2,934.7 L246.2,940.9 L248.3,949.0 L250.3,952.7 L252.3,961.1 L254.3,967.2 L256.4,971.2 L258.4,973.9 L260.4,976.3 L262.4,979.3 L264.0,980.2 L265.6,981.8 L267.3,981.5 L268.9,981.9 L270.5,983.4 L272.2,983.4 L273.9,984.1 L275.6,984.2 L277.2,984.3 L278.9,984.1 L280.6,984.9 L282.3,985.1 L284.0,985.4 L285.6,985.6 L287.3,985.8 L289.0,986.1 L290.7,986.3 L292.3,986.4 L294.0,986.4 L295.6,986.5 L297.2,986.5 L298.8,986.6 L300.5,986.7 L302.1,986.7 L303.7,986.8 L305.4,986.8 L307.0,986.9 L308.6,986.9 L310.2,987.0 L311.9,987.1 L313.5,987.1 L315.1,987.2 L316.7,987.2 L318.4,987.3 L320.0,987.3 L321.6,987.4 L323.2,987.4 L324.9,987.4 L326.5,987.4 L328.1,987.4 L329.7,987.4 L331.3,987.4 L333.0,987.4 L334.6,987.4 L336.2,987.4 L337.8,987.4 L339.5,987.4 L341.1,987.4 L342.7,987.4 L344.3,987.4 L345.9,987.4 L347.6,987.5 L349.2,987.5 L350.8,987.5 L352.4,987.5 L354.0,987.5 L355.7,987.5 L357.3,987.5 L358.9,987.5 L360.5,987.5 L362.2,987.5 L363.8,987.5 L365.4,987.5 L367.0,987.5 L368.6,987.5 L370.3,987.5 L371.9,987.5 L373.5,987.6 L375.1,987.6 L376.7,987.6 L378.4,987.6 L380.0,987.6 L381.6,987.6 L383.2,987.6 L384.8,987.6 L386.5,987.6 L388.1,987.6 L389.7,987.6 L391.3,987.6 L393.0,987.6 L394.6,987.6 L396.2,987.6 L397.8,987.6 L399.4,987.7 L401.1,987.7 L402.7,987.7 L404.3,987.7 L405.9,987.7 L407.5,987.7 L409.2,987.7 L410.8,987.7 L412.4,987.7 L414.0,987.7 L415.7,987.7 L417.3,987.7 L418.9,987.7 L420.5,987.7 L422.1,987.7 L423.8,987.7 L425.4,987.8 L427.0,987.8" fill="none" stroke="#ee2b2b" stroke-width="2.6" stroke-linejoin="round"/>
<line x1="81.9" y1="773.8" x2="81.9" y2="989.7" stroke="#000" stroke-width="1.6" />
<line x1="81.2" y1="989.0" x2="427.5" y2="989.0" stroke="#000" stroke-width="1.6" />
<line x1="73.9" y1="989.0" x2="81.9" y2="989.0" stroke="#000" stroke-width="1.5" />
<text x="67.8" y="995.4" font-size="18" text-anchor="end">0</text>
<line x1="73.9" y1="947.7" x2="81.9" y2="947.7" stroke="#000" stroke-width="1.5" />
<text x="67.8" y="954.1" font-size="18" text-anchor="end">20</text>
<line x1="73.9" y1="906.4" x2="81.9" y2="906.4" stroke="#000" stroke-width="1.5" />
<text x="67.8" y="912.8" font-size="18" text-anchor="end">40</text>
<line x1="73.9" y1="865.2" x2="81.9" y2="865.2" stroke="#000" stroke-width="1.5" />
<text x="67.8" y="871.6" font-size="18" text-anchor="end">60</text>
<line x1="73.9" y1="823.9" x2="81.9" y2="823.9" stroke="#000" stroke-width="1.5" />
<text x="67.8" y="830.3" font-size="18" text-anchor="end">80</text>
<line x1="73.9" y1="782.6" x2="81.9" y2="782.6" stroke="#000" stroke-width="1.5" />
<text x="67.8" y="789.0" font-size="18" text-anchor="end">100</text>
<line x1="78.4" y1="980.7" x2="81.9" y2="980.7" stroke="#000" stroke-width="1.0" />
<line x1="78.4" y1="972.5" x2="81.9" y2="972.5" stroke="#000" stroke-width="1.0" />
<line x1="78.4" y1="964.2" x2="81.9" y2="964.2" stroke="#000" stroke-width="1.0" />
<line x1="78.4" y1="956.0" x2="81.9" y2="956.0" stroke="#000" stroke-width="1.0" />
<line x1="78.4" y1="939.5" x2="81.9" y2="939.5" stroke="#000" stroke-width="1.0" />
<line x1="78.4" y1="931.2" x2="81.9" y2="931.2" stroke="#000" stroke-width="1.0" />
<line x1="78.4" y1="923.0" x2="81.9" y2="923.0" stroke="#000" stroke-width="1.0" />
<line x1="78.4" y1="914.7" x2="81.9" y2="914.7" stroke="#000" stroke-width="1.0" />
<line x1="78.4" y1="898.2" x2="81.9" y2="898.2" stroke="#000" stroke-width="1.0" />
<line x1="78.4" y1="889.9" x2="81.9" y2="889.9" stroke="#000" stroke-width="1.0" />
<line x1="78.4" y1="881.7" x2="81.9" y2="881.7" stroke="#000" stroke-width="1.0" />
<line x1="78.4" y1="873.4" x2="81.9" y2="873.4" stroke="#000" stroke-width="1.0" />
<line x1="78.4" y1="856.9" x2="81.9" y2="856.9" stroke="#000" stroke-width="1.0" />
<line x1="78.4" y1="848.6" x2="81.9" y2="848.6" stroke="#000" stroke-width="1.0" />
<line x1="78.4" y1="840.4" x2="81.9" y2="840.4" stroke="#000" stroke-width="1.0" />
<line x1="78.4" y1="832.1" x2="81.9" y2="832.1" stroke="#000" stroke-width="1.0" />
<line x1="78.4" y1="815.6" x2="81.9" y2="815.6" stroke="#000" stroke-width="1.0" />
<line x1="78.4" y1="807.4" x2="81.9" y2="807.4" stroke="#000" stroke-width="1.0" />
<line x1="78.4" y1="799.1" x2="81.9" y2="799.1" stroke="#000" stroke-width="1.0" />
<line x1="78.4" y1="790.9" x2="81.9" y2="790.9" stroke="#000" stroke-width="1.0" />
<line x1="78.4" y1="774.3" x2="81.9" y2="774.3" stroke="#000" stroke-width="1.0" />
<line x1="118.0" y1="989.0" x2="118.0" y2="995.0" stroke="#000" stroke-width="1.5" />
<line x1="155.0" y1="989.0" x2="155.0" y2="995.0" stroke="#000" stroke-width="1.5" />
<line x1="237.8" y1="989.0" x2="237.8" y2="995.0" stroke="#000" stroke-width="1.5" />
<line x1="318.0" y1="989.0" x2="318.0" y2="995.0" stroke="#000" stroke-width="1.5" />
<line x1="394.6" y1="989.0" x2="394.6" y2="995.0" stroke="#000" stroke-width="1.5" />
<text x="117.2" y="1012.8" font-size="18" text-anchor="middle">0</text>
<text x="153.5" y="1012.8" font-size="18" text-anchor="middle">10<tspan font-size="12" dy="-7">2</tspan></text>
<text x="236.3" y="1012.8" font-size="18" text-anchor="middle">10<tspan font-size="12" dy="-7">3</tspan></text>
<text x="314.5" y="1012.8" font-size="18" text-anchor="middle">10<tspan font-size="12" dy="-7">4</tspan></text>
<text x="395.1" y="1012.8" font-size="18" text-anchor="middle">10<tspan font-size="12" dy="-7">5</tspan></text>
<line x1="179.9" y1="989.0" x2="179.9" y2="992.5" stroke="#000" stroke-width="1.0" />
<line x1="194.5" y1="989.0" x2="194.5" y2="992.5" stroke="#000" stroke-width="1.0" />
<line x1="204.9" y1="989.0" x2="204.9" y2="992.5" stroke="#000" stroke-width="1.0" />
<line x1="212.9" y1="989.0" x2="212.9" y2="992.5" stroke="#000" stroke-width="1.0" />
<line x1="219.4" y1="989.0" x2="219.4" y2="992.5" stroke="#000" stroke-width="1.0" />
<line x1="225.0" y1="989.0" x2="225.0" y2="992.5" stroke="#000" stroke-width="1.0" />
<line x1="229.8" y1="989.0" x2="229.8" y2="992.5" stroke="#000" stroke-width="1.0" />
<line x1="234.0" y1="989.0" x2="234.0" y2="992.5" stroke="#000" stroke-width="1.0" />
<line x1="261.9" y1="989.0" x2="261.9" y2="992.5" stroke="#000" stroke-width="1.0" />
<line x1="276.1" y1="989.0" x2="276.1" y2="992.5" stroke="#000" stroke-width="1.0" />
<line x1="286.1" y1="989.0" x2="286.1" y2="992.5" stroke="#000" stroke-width="1.0" />
<line x1="293.9" y1="989.0" x2="293.9" y2="992.5" stroke="#000" stroke-width="1.0" />
<line x1="300.2" y1="989.0" x2="300.2" y2="992.5" stroke="#000" stroke-width="1.0" />
<line x1="305.6" y1="989.0" x2="305.6" y2="992.5" stroke="#000" stroke-width="1.0" />
<line x1="310.2" y1="989.0" x2="310.2" y2="992.5" stroke="#000" stroke-width="1.0" />
<line x1="314.3" y1="989.0" x2="314.3" y2="992.5" stroke="#000" stroke-width="1.0" />
<line x1="341.1" y1="989.0" x2="341.1" y2="992.5" stroke="#000" stroke-width="1.0" />
<line x1="354.5" y1="989.0" x2="354.5" y2="992.5" stroke="#000" stroke-width="1.0" />
<line x1="364.1" y1="989.0" x2="364.1" y2="992.5" stroke="#000" stroke-width="1.0" />
<line x1="371.5" y1="989.0" x2="371.5" y2="992.5" stroke="#000" stroke-width="1.0" />
<line x1="377.6" y1="989.0" x2="377.6" y2="992.5" stroke="#000" stroke-width="1.0" />
<line x1="382.7" y1="989.0" x2="382.7" y2="992.5" stroke="#000" stroke-width="1.0" />
<line x1="387.2" y1="989.0" x2="387.2" y2="992.5" stroke="#000" stroke-width="1.0" />
<line x1="391.1" y1="989.0" x2="391.1" y2="992.5" stroke="#000" stroke-width="1.0" />
<line x1="86.0" y1="989.0" x2="86.0" y2="992.5" stroke="#000" stroke-width="1.0" />
<line x1="91.0" y1="989.0" x2="91.0" y2="992.5" stroke="#000" stroke-width="1.0" />
<line x1="96.0" y1="989.0" x2="96.0" y2="992.5" stroke="#000" stroke-width="1.0" />
<line x1="101.0" y1="989.0" x2="101.0" y2="992.5" stroke="#000" stroke-width="1.0" />
<line x1="106.0" y1="989.0" x2="106.0" y2="992.5" stroke="#000" stroke-width="1.0" />
<line x1="111.0" y1="989.0" x2="111.0" y2="992.5" stroke="#000" stroke-width="1.0" />
<line x1="114.5" y1="989.0" x2="114.5" y2="992.5" stroke="#000" stroke-width="1.0" />
<line x1="121.5" y1="989.0" x2="121.5" y2="992.5" stroke="#000" stroke-width="1.0" />
<line x1="125.0" y1="989.0" x2="125.0" y2="992.5" stroke="#000" stroke-width="1.0" />
<line x1="130.0" y1="989.0" x2="130.0" y2="992.5" stroke="#000" stroke-width="1.0" />
<line x1="135.0" y1="989.0" x2="135.0" y2="992.5" stroke="#000" stroke-width="1.0" />
<line x1="140.0" y1="989.0" x2="140.0" y2="992.5" stroke="#000" stroke-width="1.0" />
<line x1="145.0" y1="989.0" x2="145.0" y2="992.5" stroke="#000" stroke-width="1.0" />
<line x1="150.0" y1="989.0" x2="150.0" y2="992.5" stroke="#000" stroke-width="1.0" />
<line x1="402.0" y1="989.0" x2="402.0" y2="992.5" stroke="#000" stroke-width="1.0" />
<line x1="409.0" y1="989.0" x2="409.0" y2="992.5" stroke="#000" stroke-width="1.0" />
<line x1="414.0" y1="989.0" x2="414.0" y2="992.5" stroke="#000" stroke-width="1.0" />
<line x1="418.0" y1="989.0" x2="418.0" y2="992.5" stroke="#000" stroke-width="1.0" />
<line x1="421.0" y1="989.0" x2="421.0" y2="992.5" stroke="#000" stroke-width="1.0" />
<line x1="424.0" y1="989.0" x2="424.0" y2="992.5" stroke="#000" stroke-width="1.0" />
<rect x="307.7" y="780.0" width="12.4" height="15.4" rx="1.5" fill="#d30000" stroke="#333" stroke-width="1"/>
<rect x="322.2" y="780.0" width="12.0" height="15.4" rx="1.5" fill="#fff" stroke="#777" stroke-width="1.2"/>
<line x1="322.8" y1="786.2" x2="333.6" y2="786.2" stroke="#000" stroke-width="2.6" />
<text x="340.5" y="794.2" font-size="15.5">FasC194V<tspan font-size="11.8" font-style="italic" dy="-5">lpr/lpr</tspan></text>
<rect x="307.7" y="800.0" width="12.4" height="15.4" rx="1.5" fill="#0000ff" stroke="#333" stroke-width="1"/>
<rect x="322.2" y="800.0" width="12.0" height="15.4" rx="1.5" fill="#fff" stroke="#777" stroke-width="1.2"/>
<line x1="322.8" y1="807.6" x2="333.6" y2="807.6" stroke="#222" stroke-width="1.4" />
<text x="340.5" y="809.5" font-size="15.5"><tspan font-style="italic">lpr/lpr</tspan></text>
<rect x="307.7" y="820.0" width="12.4" height="15.4" rx="1.5" fill="#22cc22" stroke="#333" stroke-width="1"/>
<rect x="322.2" y="820.0" width="12.0" height="15.4" rx="1.5" fill="#fff" stroke="#777" stroke-width="1.2"/>
<line x1="322.8" y1="827.6" x2="333.6" y2="827.6" stroke="#222" stroke-width="1.4" />
<text x="340.5" y="829.5" font-size="15.5"><tspan font-style="italic">lpr/</tspan>+</text>
<rect x="307.7" y="840.0" width="12.4" height="15.4" rx="1.5" fill="#000000" stroke="#333" stroke-width="1"/>
<rect x="322.2" y="840.0" width="12.0" height="15.4" rx="1.5" fill="#fff" stroke="#777" stroke-width="1.2"/>
<line x1="322.8" y1="847.6" x2="333.6" y2="847.6" stroke="#222" stroke-width="1.4" />
<text x="340.5" y="850.6" font-size="15.5">WT</text>
<rect x="307.7" y="860.0" width="12.4" height="15.4" rx="1.5" fill="#444444" stroke="#333" stroke-width="1"/>
<rect x="322.2" y="860.0" width="12.0" height="15.4" rx="1.5" fill="#fff" stroke="#777" stroke-width="1.2"/>
<rect x="322.8" y="867.2" width="10.8" height="7.6" fill="#000" />
<text x="340.5" y="870.3" font-size="15.5">Isotype</text>
<text font-size="18" text-anchor="middle" transform="translate(26.8,881.1) rotate(-90)">% of max</text>
<text x="65.5" y="1041.4" font-size="18">Fas</text>
<path d="M109,1035.9 H250" stroke="#000" stroke-width="2.6" fill="none"/>
<path d="M243.6,1030 L250.8,1035.9 L243.6,1041.8" stroke="#000" stroke-width="2.6" fill="none" stroke-linejoin="miter"/>
<text x="471.3" y="740.0" font-size="26" font-weight="bold">e</text>
<line x1="561.0" y1="767.6" x2="561.0" y2="1019.2" stroke="#000" stroke-width="1.5" />
<line x1="560.3" y1="1018.5" x2="927.2" y2="1018.5" stroke="#000" stroke-width="1.5" />
<line x1="552.5" y1="767.9" x2="561.0" y2="767.9" stroke="#000" stroke-width="1.5" />
<text x="546.2" y="774.3" font-size="18" text-anchor="end">80</text>
<line x1="552.5" y1="818.0" x2="561.0" y2="818.0" stroke="#000" stroke-width="1.5" />
<text x="546.2" y="824.4" font-size="18" text-anchor="end">60</text>
<line x1="552.5" y1="868.1" x2="561.0" y2="868.1" stroke="#000" stroke-width="1.5" />
<text x="546.2" y="874.5" font-size="18" text-anchor="end">40</text>
<line x1="552.5" y1="918.2" x2="561.0" y2="918.2" stroke="#000" stroke-width="1.5" />
<text x="546.2" y="924.6" font-size="18" text-anchor="end">20</text>
<line x1="552.5" y1="968.3" x2="561.0" y2="968.3" stroke="#000" stroke-width="1.5" />
<text x="546.2" y="974.7" font-size="18" text-anchor="end">0</text>
<line x1="552.5" y1="1018.4" x2="561.0" y2="1018.4" stroke="#000" stroke-width="1.5" />
<text x="546.2" y="1024.8" font-size="18" text-anchor="end">−20</text>
<line x1="586.6" y1="1018.5" x2="586.6" y2="1025.3" stroke="#000" stroke-width="1.5" />
<text x="586.6" y="1046.3" font-size="18" text-anchor="middle">0</text>
<line x1="640.0" y1="1018.5" x2="640.0" y2="1025.3" stroke="#000" stroke-width="1.5" />
<text x="640.0" y="1046.3" font-size="18" text-anchor="middle">5</text>
<line x1="693.3" y1="1018.5" x2="693.3" y2="1025.3" stroke="#000" stroke-width="1.5" />
<text x="693.3" y="1046.3" font-size="18" text-anchor="middle">10</text>
<line x1="746.7" y1="1018.5" x2="746.7" y2="1025.3" stroke="#000" stroke-width="1.5" />
<text x="746.7" y="1046.3" font-size="18" text-anchor="middle">25</text>
<line x1="800.1" y1="1018.5" x2="800.1" y2="1025.3" stroke="#000" stroke-width="1.5" />
<text x="800.1" y="1046.3" font-size="18" text-anchor="middle">50</text>
<line x1="853.5" y1="1018.5" x2="853.5" y2="1025.3" stroke="#000" stroke-width="1.5" />
<text x="853.5" y="1046.3" font-size="18" text-anchor="middle">100</text>
<line x1="906.8" y1="1018.5" x2="906.8" y2="1025.3" stroke="#000" stroke-width="1.5" />
<text x="906.8" y="1046.3" font-size="18" text-anchor="middle">250</text>
<text font-size="18" text-anchor="middle" transform="translate(501.5,887.3) rotate(-90)">% Specific cell death</text>
<text x="523.5" y="1083.2" font-size="18">FasL-LZ (ng ml<tspan font-size="12" dy="-7">−1</tspan><tspan dy="7">)</tspan></text>
<path d="M675,1078.5 H742" stroke="#000" stroke-width="3.3" fill="none"/>
<path d="M739.5,1072.8 L751.5,1078.5 L739.5,1084.2 Z" fill="#000"/>
<polyline points="586.6,968.3 640.0,967.3 693.3,966.8 746.7,964.8 800.1,962.8 853.5,968.8 906.8,965.0" fill="none" stroke="#1c1cd8" stroke-width="2.2"/>
<polyline points="586.6,966.3 640.0,964.5 693.3,966.0 746.7,962.8 800.1,957.5 853.5,951.5 906.8,945.0" fill="none" stroke="#f08a2a" stroke-width="2.4"/>
<polyline points="586.6,968.3 640.0,951.3 693.3,949.8 746.7,930.2 800.1,912.2 853.5,896.7 906.8,851.8" fill="none" stroke="#000" stroke-width="2.6" stroke-dasharray="9,5"/>
<polyline points="586.6,968.3 640.0,944.3 693.3,933.2 746.7,896.7 800.1,876.6 853.5,854.1 906.8,819.8" fill="none" stroke="#000" stroke-width="2.6"/>
<path d="M582.6,971.5 L586.6,964.5 L590.6,971.5 Z" fill="#1c1cd8"/>
<path d="M582.6,963.1 L586.6,970.1 L590.6,963.1 Z" fill="#f08a2a"/>
<path d="M636.0,970.5 L640.0,963.5 L644.0,970.5 Z" fill="#1c1cd8"/>
<path d="M636.0,961.3 L640.0,968.3 L644.0,961.3 Z" fill="#f08a2a"/>
<path d="M689.3,970.0 L693.3,963.0 L697.3,970.0 Z" fill="#1c1cd8"/>
<path d="M689.3,962.8 L693.3,969.8 L697.3,962.8 Z" fill="#f08a2a"/>
<path d="M742.7,968.0 L746.7,961.0 L750.7,968.0 Z" fill="#1c1cd8"/>
<path d="M742.7,959.6 L746.7,966.6 L750.7,959.6 Z" fill="#f08a2a"/>
<path d="M796.1,966.0 L800.1,959.0 L804.1,966.0 Z" fill="#1c1cd8"/>
<path d="M796.1,954.3 L800.1,961.3 L804.1,954.3 Z" fill="#f08a2a"/>
<path d="M849.5,972.0 L853.5,965.0 L857.5,972.0 Z" fill="#1c1cd8"/>
<path d="M849.5,948.3 L853.5,955.3 L857.5,948.3 Z" fill="#f08a2a"/>
<path d="M902.8,968.2 L906.8,961.2 L910.8,968.2 Z" fill="#1c1cd8"/>
<path d="M902.8,941.8 L906.8,948.8 L910.8,941.8 Z" fill="#f08a2a"/>
<line x1="640.0" y1="965.8" x2="640.0" y2="968.8" stroke="#000" stroke-width="2.6" />
<line x1="633.8" y1="965.8" x2="646.2" y2="965.8" stroke="#000" stroke-width="2.6" />
<line x1="633.8" y1="968.8" x2="646.2" y2="968.8" stroke="#000" stroke-width="2.6" />
<line x1="640.0" y1="960.8" x2="640.0" y2="968.3" stroke="#000" stroke-width="2.6" />
<line x1="633.8" y1="960.8" x2="646.2" y2="960.8" stroke="#000" stroke-width="2.6" />
<line x1="633.8" y1="968.3" x2="646.2" y2="968.3" stroke="#000" stroke-width="2.6" />
<line x1="640.0" y1="947.5" x2="640.0" y2="955.0" stroke="#000" stroke-width="2.6" />
<line x1="633.8" y1="947.5" x2="646.2" y2="947.5" stroke="#000" stroke-width="2.6" />
<line x1="633.8" y1="955.0" x2="646.2" y2="955.0" stroke="#000" stroke-width="2.6" />
<line x1="640.0" y1="938.7" x2="640.0" y2="949.8" stroke="#000" stroke-width="2.6" />
<line x1="633.8" y1="938.7" x2="646.2" y2="938.7" stroke="#000" stroke-width="2.6" />
<line x1="633.8" y1="949.8" x2="646.2" y2="949.8" stroke="#000" stroke-width="2.6" />
<line x1="693.3" y1="962.3" x2="693.3" y2="971.3" stroke="#000" stroke-width="2.6" />
<line x1="687.1" y1="962.3" x2="699.5" y2="962.3" stroke="#000" stroke-width="2.6" />
<line x1="687.1" y1="971.3" x2="699.5" y2="971.3" stroke="#000" stroke-width="2.6" />
<line x1="693.3" y1="961.5" x2="693.3" y2="970.6" stroke="#000" stroke-width="2.6" />
<line x1="687.1" y1="961.5" x2="699.5" y2="961.5" stroke="#000" stroke-width="2.6" />
<line x1="687.1" y1="970.6" x2="699.5" y2="970.6" stroke="#000" stroke-width="2.6" />
<line x1="693.3" y1="947.3" x2="693.3" y2="952.3" stroke="#000" stroke-width="2.6" />
<line x1="687.1" y1="947.3" x2="699.5" y2="947.3" stroke="#000" stroke-width="2.6" />
<line x1="687.1" y1="952.3" x2="699.5" y2="952.3" stroke="#000" stroke-width="2.6" />
<line x1="693.3" y1="928.7" x2="693.3" y2="937.7" stroke="#000" stroke-width="2.6" />
<line x1="687.1" y1="928.7" x2="699.5" y2="928.7" stroke="#000" stroke-width="2.6" />
<line x1="687.1" y1="937.7" x2="699.5" y2="937.7" stroke="#000" stroke-width="2.6" />
<line x1="746.7" y1="960.8" x2="746.7" y2="968.8" stroke="#000" stroke-width="2.6" />
<line x1="740.5" y1="960.8" x2="752.9" y2="960.8" stroke="#000" stroke-width="2.6" />
<line x1="740.5" y1="968.8" x2="752.9" y2="968.8" stroke="#000" stroke-width="2.6" />
<line x1="746.7" y1="957.8" x2="746.7" y2="967.8" stroke="#000" stroke-width="2.6" />
<line x1="740.5" y1="957.8" x2="752.9" y2="957.8" stroke="#000" stroke-width="2.6" />
<line x1="740.5" y1="967.8" x2="752.9" y2="967.8" stroke="#000" stroke-width="2.6" />
<line x1="746.7" y1="927.0" x2="746.7" y2="933.5" stroke="#000" stroke-width="2.6" />
<line x1="740.5" y1="927.0" x2="752.9" y2="927.0" stroke="#000" stroke-width="2.6" />
<line x1="740.5" y1="933.5" x2="752.9" y2="933.5" stroke="#000" stroke-width="2.6" />
<line x1="746.7" y1="889.1" x2="746.7" y2="904.2" stroke="#000" stroke-width="2.6" />
<line x1="740.5" y1="889.1" x2="752.9" y2="889.1" stroke="#000" stroke-width="2.6" />
<line x1="740.5" y1="904.2" x2="752.9" y2="904.2" stroke="#000" stroke-width="2.6" />
<line x1="800.1" y1="958.5" x2="800.1" y2="967.0" stroke="#000" stroke-width="2.6" />
<line x1="793.9" y1="958.5" x2="806.3" y2="958.5" stroke="#000" stroke-width="2.6" />
<line x1="793.9" y1="967.0" x2="806.3" y2="967.0" stroke="#000" stroke-width="2.6" />
<line x1="800.1" y1="951.8" x2="800.1" y2="963.3" stroke="#000" stroke-width="2.6" />
<line x1="793.9" y1="951.8" x2="806.3" y2="951.8" stroke="#000" stroke-width="2.6" />
<line x1="793.9" y1="963.3" x2="806.3" y2="963.3" stroke="#000" stroke-width="2.6" />
<line x1="800.1" y1="907.4" x2="800.1" y2="916.9" stroke="#000" stroke-width="2.6" />
<line x1="793.9" y1="907.4" x2="806.3" y2="907.4" stroke="#000" stroke-width="2.6" />
<line x1="793.9" y1="916.9" x2="806.3" y2="916.9" stroke="#000" stroke-width="2.6" />
<line x1="800.1" y1="868.1" x2="800.1" y2="885.1" stroke="#000" stroke-width="2.6" />
<line x1="793.9" y1="868.1" x2="806.3" y2="868.1" stroke="#000" stroke-width="2.6" />
<line x1="793.9" y1="885.1" x2="806.3" y2="885.1" stroke="#000" stroke-width="2.6" />
<line x1="853.5" y1="964.8" x2="853.5" y2="972.8" stroke="#000" stroke-width="2.6" />
<line x1="847.2" y1="964.8" x2="859.7" y2="964.8" stroke="#000" stroke-width="2.6" />
<line x1="847.2" y1="972.8" x2="859.7" y2="972.8" stroke="#000" stroke-width="2.6" />
<line x1="853.5" y1="945.5" x2="853.5" y2="957.5" stroke="#000" stroke-width="2.6" />
<line x1="847.2" y1="945.5" x2="859.7" y2="945.5" stroke="#000" stroke-width="2.6" />
<line x1="847.2" y1="957.5" x2="859.7" y2="957.5" stroke="#000" stroke-width="2.6" />
<line x1="853.5" y1="890.4" x2="853.5" y2="902.9" stroke="#000" stroke-width="2.6" />
<line x1="847.2" y1="890.4" x2="859.7" y2="890.4" stroke="#000" stroke-width="2.6" />
<line x1="847.2" y1="902.9" x2="859.7" y2="902.9" stroke="#000" stroke-width="2.6" />
<line x1="853.5" y1="844.3" x2="853.5" y2="863.8" stroke="#000" stroke-width="2.6" />
<line x1="847.2" y1="844.3" x2="859.7" y2="844.3" stroke="#000" stroke-width="2.6" />
<line x1="847.2" y1="863.8" x2="859.7" y2="863.8" stroke="#000" stroke-width="2.6" />
<line x1="906.8" y1="961.8" x2="906.8" y2="968.3" stroke="#000" stroke-width="2.6" />
<line x1="900.6" y1="961.8" x2="913.0" y2="961.8" stroke="#000" stroke-width="2.6" />
<line x1="900.6" y1="968.3" x2="913.0" y2="968.3" stroke="#000" stroke-width="2.6" />
<line x1="906.8" y1="939.0" x2="906.8" y2="951.0" stroke="#000" stroke-width="2.6" />
<line x1="900.6" y1="939.0" x2="913.0" y2="939.0" stroke="#000" stroke-width="2.6" />
<line x1="900.6" y1="951.0" x2="913.0" y2="951.0" stroke="#000" stroke-width="2.6" />
<line x1="906.8" y1="848.1" x2="906.8" y2="855.6" stroke="#000" stroke-width="2.6" />
<line x1="900.6" y1="848.1" x2="913.0" y2="848.1" stroke="#000" stroke-width="2.6" />
<line x1="900.6" y1="855.6" x2="913.0" y2="855.6" stroke="#000" stroke-width="2.6" />
<line x1="906.8" y1="812.7" x2="906.8" y2="826.8" stroke="#000" stroke-width="2.6" />
<line x1="900.6" y1="812.7" x2="913.0" y2="812.7" stroke="#000" stroke-width="2.6" />
<line x1="900.6" y1="826.8" x2="913.0" y2="826.8" stroke="#000" stroke-width="2.6" />
<rect x="635.5" y="946.8" width="9.0" height="9.0" fill="#000" />
<circle cx="640.0" cy="944.3" r="5.0" fill="#000"/>
<rect x="688.8" y="945.3" width="9.0" height="9.0" fill="#000" />
<circle cx="693.3" cy="933.2" r="5.0" fill="#000"/>
<rect x="742.2" y="925.7" width="9.0" height="9.0" fill="#000" />
<circle cx="746.7" cy="896.7" r="5.0" fill="#000"/>
<rect x="795.6" y="907.7" width="9.0" height="9.0" fill="#000" />
<circle cx="800.1" cy="876.6" r="5.0" fill="#000"/>
<rect x="849.0" y="892.2" width="9.0" height="9.0" fill="#000" />
<circle cx="853.5" cy="854.1" r="5.0" fill="#000"/>
<rect x="902.3" y="847.3" width="9.0" height="9.0" fill="#000" />
<circle cx="906.8" cy="819.8" r="5.0" fill="#000"/>
<rect x="582.0" y="964.7" width="9.2" height="9.2" fill="#1c1cd8" />
<path d="M581.4,963.3 L591.8,963.3 L586.6,972.3 Z" fill="#f08a2a"/>
<line x1="636.2" y1="907.7" x2="643.8" y2="907.7" stroke="#000" stroke-width="1.3" />
<line x1="640.0" y1="903.9" x2="640.0" y2="911.5" stroke="#000" stroke-width="1.3" />
<circle cx="640.0" cy="918.2" r="2.6" fill="none" stroke="#000" stroke-width="1.4"/>
<polygon points="639.97,924.80 640.70,926.69 642.73,926.80 641.16,928.09 641.67,930.05 639.97,928.95 638.27,930.05 638.78,928.09 637.21,926.80 639.24,926.69" fill="#000"/>
<line x1="689.5" y1="898.2" x2="697.1" y2="898.2" stroke="#000" stroke-width="1.3" />
<line x1="693.3" y1="894.4" x2="693.3" y2="902.0" stroke="#000" stroke-width="1.3" />
<circle cx="693.3" cy="909.3" r="2.6" fill="none" stroke="#000" stroke-width="1.4"/>
<polygon points="693.34,916.60 694.07,918.49 696.10,918.60 694.53,919.89 695.04,921.85 693.34,920.75 691.64,921.85 692.15,919.89 690.58,918.60 692.61,918.49" fill="#000"/>
<rect x="742.9" y="839.8" width="7.6" height="7.8" fill="none" stroke="#000" stroke-width="1.4"/>
<line x1="742.9" y1="858.0" x2="750.5" y2="858.0" stroke="#000" stroke-width="1.3" />
<line x1="746.7" y1="854.2" x2="746.7" y2="861.8" stroke="#000" stroke-width="1.3" />
<circle cx="746.7" cy="868.6" r="2.6" fill="none" stroke="#000" stroke-width="1.4"/>
<polygon points="746.71,875.40 747.44,877.29 749.47,877.40 747.90,878.69 748.41,880.65 746.71,879.55 745.01,880.65 745.52,878.69 743.95,877.40 745.98,877.29" fill="#000"/>
<path d="M742.5,912.2 L750.9,912.2 L746.7,919.6 Z" fill="none" stroke="#000" stroke-width="1.4" stroke-linejoin="miter"/>
<rect x="796.3" y="818.4" width="7.6" height="7.8" fill="none" stroke="#000" stroke-width="1.4"/>
<line x1="796.3" y1="837.1" x2="803.9" y2="837.1" stroke="#000" stroke-width="1.3" />
<line x1="800.1" y1="833.3" x2="800.1" y2="840.9" stroke="#000" stroke-width="1.3" />
<circle cx="800.1" cy="848.1" r="2.6" fill="none" stroke="#000" stroke-width="1.4"/>
<polygon points="800.08,855.10 800.81,856.99 802.84,857.10 801.27,858.39 801.78,860.35 800.08,859.25 798.38,860.35 798.89,858.39 797.32,857.10 799.35,856.99" fill="#000"/>
<path d="M795.9,892.4 L804.3,892.4 L800.1,899.8 Z" fill="none" stroke="#000" stroke-width="1.4" stroke-linejoin="miter"/>
<rect x="849.7" y="793.5" width="7.6" height="7.8" fill="none" stroke="#000" stroke-width="1.4"/>
<line x1="849.7" y1="812.2" x2="857.2" y2="812.2" stroke="#000" stroke-width="1.3" />
<line x1="853.5" y1="808.4" x2="853.5" y2="816.0" stroke="#000" stroke-width="1.3" />
<circle cx="853.5" cy="822.8" r="2.6" fill="none" stroke="#000" stroke-width="1.4"/>
<polygon points="853.45,830.50 854.18,832.39 856.21,832.50 854.64,833.79 855.15,835.75 853.45,834.65 851.75,835.75 852.26,833.79 850.69,832.50 852.72,832.39" fill="#000"/>
<path d="M849.2,876.1 L857.7,876.1 L853.5,883.5 Z" fill="none" stroke="#000" stroke-width="1.4" stroke-linejoin="miter"/>
<path d="M850.0,936.2 L857.0,936.2 L853.5,929.6 Z" fill="#000"/>
<rect x="903.0" y="762.0" width="7.6" height="7.8" fill="none" stroke="#000" stroke-width="1.4"/>
<line x1="903.0" y1="780.4" x2="910.6" y2="780.4" stroke="#000" stroke-width="1.3" />
<line x1="906.8" y1="776.6" x2="906.8" y2="784.2" stroke="#000" stroke-width="1.3" />
<circle cx="906.8" cy="791.5" r="2.6" fill="none" stroke="#000" stroke-width="1.4"/>
<polygon points="906.82,799.60 907.55,801.49 909.58,801.60 908.01,802.89 908.52,804.85 906.82,803.75 905.12,804.85 905.63,802.89 904.06,801.60 906.09,801.49" fill="#000"/>
<path d="M902.6,835.7 L911.0,835.7 L906.8,843.1 Z" fill="none" stroke="#000" stroke-width="1.4" stroke-linejoin="miter"/>
<path d="M903.3,929.6 L910.3,929.6 L906.8,923.0 Z" fill="#000"/>
<circle cx="579.1" cy="751.5" r="3.4" fill="#000"/>
<rect x="575.8" y="767.8" width="6.7" height="6.7" fill="#000" />
<path d="M575.3,793.2 L579.1,786.6 L582.9,793.2 Z" fill="#1c1cd8"/>
<path d="M575.3,805.6 L582.9,805.6 L579.1,812.2 Z" fill="#f08a2a"/>
<text x="590.2" y="757.5" font-size="15.5">WT</text>
<text x="590.2" y="775.9" font-size="15.5"><tspan font-style="italic">lpr/</tspan>+</text>
<text x="590.2" y="794.3" font-size="15.5"><tspan font-style="italic">lpr/lpr</tspan></text>
<text x="590.2" y="812.5" font-size="15.5">FasC194V<tspan font-size="11.5" font-style="italic" dy="-6">lpr/lpr</tspan></text>
<line x1="644.0" y1="743.7" x2="644.0" y2="772.3" stroke="#000" stroke-width="3.0" />
<line x1="663.0" y1="743.7" x2="663.0" y2="790.5" stroke="#000" stroke-width="3.0" />
<line x1="681.0" y1="761.2" x2="681.0" y2="789.7" stroke="#000" stroke-width="3.0" />
<line x1="700.6" y1="778.6" x2="700.6" y2="807.1" stroke="#000" stroke-width="3.0" />
<line x1="719.7" y1="745.8" x2="719.7" y2="807.1" stroke="#000" stroke-width="3.0" />
<line x1="740.5" y1="764.3" x2="740.5" y2="807.1" stroke="#000" stroke-width="3.0" />
<rect x="649.0" y="753.7" width="7.6" height="7.8" fill="none" stroke="#000" stroke-width="1.4"/>
<polygon points="669.60,765.10 670.33,766.99 672.36,767.10 670.79,768.39 671.30,770.35 669.60,769.25 667.90,770.35 668.41,768.39 666.84,767.10 668.87,766.99" fill="#000"/>
<circle cx="690.0" cy="775.4" r="2.6" fill="none" stroke="#000" stroke-width="1.4"/>
<path d="M706.1,795.6 L713.1,795.6 L709.6,789.0 Z" fill="#000"/>
<line x1="725.3" y1="777.5" x2="732.9" y2="777.5" stroke="#000" stroke-width="1.3" />
<line x1="729.1" y1="773.7" x2="729.1" y2="781.3" stroke="#000" stroke-width="1.3" />
<path d="M746.7,781.6 L755.1,781.6 L750.9,789.0 Z" fill="none" stroke="#000" stroke-width="1.4" stroke-linejoin="miter"/>
</svg>
</body></html>
